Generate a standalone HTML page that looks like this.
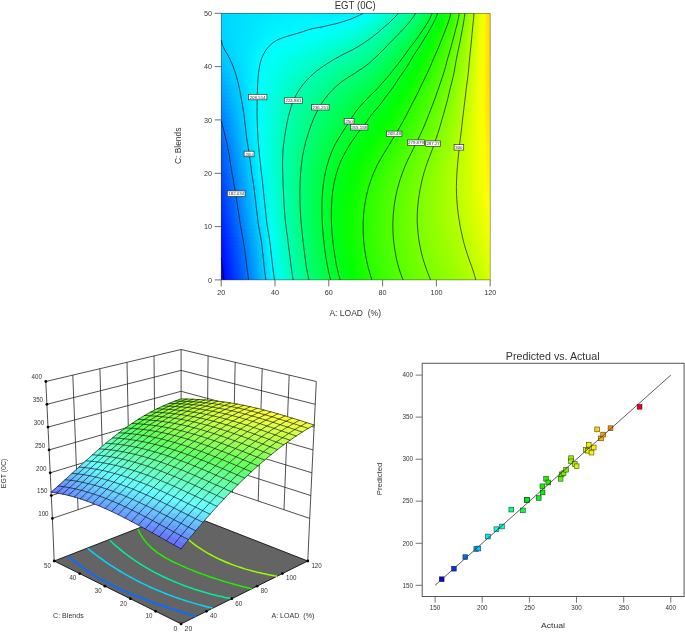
<!DOCTYPE html>
<html><head><meta charset="utf-8"><title>EGT response plots</title>
<style>html,body{margin:0;padding:0;background:#fff;overflow:hidden}svg{display:block}text{font-family:"Liberation Sans",sans-serif;fill:#333}</style>
</head><body>
<svg width="685" height="632" viewBox="0 0 685 632">
<defs>
<linearGradient id="h0"><stop offset="0%" stop-color="#00d5ff"/><stop offset="3.7%" stop-color="#00dbff"/><stop offset="7.4%" stop-color="#00dfff"/><stop offset="11.1%" stop-color="#00e3ff"/><stop offset="14.8%" stop-color="#00e6ff"/><stop offset="18.5%" stop-color="#00eaff"/><stop offset="22.2%" stop-color="#00edff"/><stop offset="25.8%" stop-color="#00efff"/><stop offset="29.5%" stop-color="#00f0ff"/><stop offset="33.2%" stop-color="#00f0ff"/><stop offset="36.9%" stop-color="#00eeff"/><stop offset="40.6%" stop-color="#00edff"/><stop offset="44.3%" stop-color="#00eeff"/><stop offset="48%" stop-color="#00f3ff"/><stop offset="51.7%" stop-color="#00fbff"/><stop offset="55.4%" stop-color="#00fff4"/><stop offset="59.1%" stop-color="#00ffde"/><stop offset="62.8%" stop-color="#00ffc5"/><stop offset="66.5%" stop-color="#00ffab"/><stop offset="70.2%" stop-color="#00ff8c"/><stop offset="73.8%" stop-color="#00ff69"/><stop offset="77.5%" stop-color="#00ff41"/><stop offset="81.2%" stop-color="#00ff14"/><stop offset="84.9%" stop-color="#20ff00"/><stop offset="88.6%" stop-color="#5bff00"/><stop offset="92.3%" stop-color="#9bff00"/><stop offset="96%" stop-color="#e1ff00"/><stop offset="97.5%" stop-color="#feff00"/><stop offset="99%" stop-color="#ffe300"/><stop offset="100%" stop-color="#ffd100"/></linearGradient>
<linearGradient id="h1"><stop offset="0%" stop-color="#00d5ff"/><stop offset="3.7%" stop-color="#00dbff"/><stop offset="7.4%" stop-color="#00e0ff"/><stop offset="11.1%" stop-color="#00e4ff"/><stop offset="14.8%" stop-color="#00e8ff"/><stop offset="18.5%" stop-color="#00ebff"/><stop offset="22.2%" stop-color="#00eeff"/><stop offset="25.8%" stop-color="#00f1ff"/><stop offset="29.5%" stop-color="#00f2ff"/><stop offset="33.2%" stop-color="#00f2ff"/><stop offset="36.9%" stop-color="#00f1ff"/><stop offset="40.6%" stop-color="#00f2ff"/><stop offset="44.3%" stop-color="#00f5ff"/><stop offset="48%" stop-color="#00faff"/><stop offset="51.7%" stop-color="#00fffa"/><stop offset="55.4%" stop-color="#00ffea"/><stop offset="59.1%" stop-color="#00ffd4"/><stop offset="62.8%" stop-color="#00ffbb"/><stop offset="66.5%" stop-color="#00ffa1"/><stop offset="70.2%" stop-color="#00ff83"/><stop offset="73.8%" stop-color="#00ff60"/><stop offset="77.5%" stop-color="#00ff39"/><stop offset="81.2%" stop-color="#00ff0c"/><stop offset="84.9%" stop-color="#26ff00"/><stop offset="88.6%" stop-color="#5fff00"/><stop offset="92.3%" stop-color="#9eff00"/><stop offset="96%" stop-color="#e3ff00"/><stop offset="97.5%" stop-color="#ffff00"/><stop offset="99%" stop-color="#ffe300"/><stop offset="100%" stop-color="#ffd100"/></linearGradient>
<linearGradient id="h2"><stop offset="0%" stop-color="#00d4ff"/><stop offset="3.7%" stop-color="#00dbff"/><stop offset="7.4%" stop-color="#00e0ff"/><stop offset="11.1%" stop-color="#00e4ff"/><stop offset="14.8%" stop-color="#00e9ff"/><stop offset="18.5%" stop-color="#00edff"/><stop offset="22.2%" stop-color="#00f0ff"/><stop offset="25.8%" stop-color="#00f2ff"/><stop offset="29.5%" stop-color="#00f4ff"/><stop offset="33.2%" stop-color="#00f5ff"/><stop offset="36.9%" stop-color="#00f6ff"/><stop offset="40.6%" stop-color="#00f8ff"/><stop offset="44.3%" stop-color="#00fcff"/><stop offset="48%" stop-color="#00fffb"/><stop offset="51.7%" stop-color="#00fff0"/><stop offset="55.4%" stop-color="#00ffdf"/><stop offset="59.1%" stop-color="#00ffc9"/><stop offset="62.8%" stop-color="#00ffb0"/><stop offset="66.5%" stop-color="#00ff96"/><stop offset="70.2%" stop-color="#00ff78"/><stop offset="73.8%" stop-color="#00ff56"/><stop offset="77.5%" stop-color="#00ff30"/><stop offset="81.2%" stop-color="#00ff04"/><stop offset="84.9%" stop-color="#2dff00"/><stop offset="88.6%" stop-color="#64ff00"/><stop offset="92.3%" stop-color="#a1ff00"/><stop offset="96%" stop-color="#e4ff00"/><stop offset="97.5%" stop-color="#fffe00"/><stop offset="99%" stop-color="#ffe300"/><stop offset="100%" stop-color="#ffd100"/></linearGradient>
<linearGradient id="h3"><stop offset="0%" stop-color="#00d3ff"/><stop offset="3.7%" stop-color="#00daff"/><stop offset="7.4%" stop-color="#00e0ff"/><stop offset="11.1%" stop-color="#00e5ff"/><stop offset="14.8%" stop-color="#00eaff"/><stop offset="18.5%" stop-color="#00efff"/><stop offset="22.2%" stop-color="#00f2ff"/><stop offset="25.8%" stop-color="#00f4ff"/><stop offset="29.5%" stop-color="#00f6ff"/><stop offset="33.2%" stop-color="#00f8ff"/><stop offset="36.9%" stop-color="#00faff"/><stop offset="40.6%" stop-color="#00feff"/><stop offset="44.3%" stop-color="#00fffa"/><stop offset="48%" stop-color="#00fff1"/><stop offset="51.7%" stop-color="#00ffe5"/><stop offset="55.4%" stop-color="#00ffd4"/><stop offset="59.1%" stop-color="#00ffbd"/><stop offset="62.8%" stop-color="#00ffa5"/><stop offset="66.5%" stop-color="#00ff8b"/><stop offset="70.2%" stop-color="#00ff6d"/><stop offset="73.8%" stop-color="#00ff4c"/><stop offset="77.5%" stop-color="#00ff27"/><stop offset="81.2%" stop-color="#04ff00"/><stop offset="84.9%" stop-color="#34ff00"/><stop offset="88.6%" stop-color="#69ff00"/><stop offset="92.3%" stop-color="#a4ff00"/><stop offset="96%" stop-color="#e5ff00"/><stop offset="97.5%" stop-color="#fffe00"/><stop offset="99%" stop-color="#ffe300"/><stop offset="100%" stop-color="#ffd200"/></linearGradient>
<linearGradient id="h4"><stop offset="0%" stop-color="#00d2ff"/><stop offset="3.7%" stop-color="#00daff"/><stop offset="7.4%" stop-color="#00e0ff"/><stop offset="11.1%" stop-color="#00e5ff"/><stop offset="14.8%" stop-color="#00ebff"/><stop offset="18.5%" stop-color="#00f1ff"/><stop offset="22.2%" stop-color="#00f5ff"/><stop offset="25.8%" stop-color="#00f7ff"/><stop offset="29.5%" stop-color="#00f9ff"/><stop offset="33.2%" stop-color="#00fdff"/><stop offset="36.9%" stop-color="#00fffe"/><stop offset="40.6%" stop-color="#00fff8"/><stop offset="44.3%" stop-color="#00fff1"/><stop offset="48%" stop-color="#00ffe7"/><stop offset="51.7%" stop-color="#00ffda"/><stop offset="55.4%" stop-color="#00ffc8"/><stop offset="59.1%" stop-color="#00ffb2"/><stop offset="62.8%" stop-color="#00ff9b"/><stop offset="66.5%" stop-color="#00ff80"/><stop offset="70.2%" stop-color="#00ff63"/><stop offset="73.8%" stop-color="#00ff41"/><stop offset="77.5%" stop-color="#00ff1d"/><stop offset="81.2%" stop-color="#0dff00"/><stop offset="84.9%" stop-color="#3bff00"/><stop offset="88.6%" stop-color="#6eff00"/><stop offset="92.3%" stop-color="#a7ff00"/><stop offset="96%" stop-color="#e6ff00"/><stop offset="97.5%" stop-color="#fffd00"/><stop offset="99%" stop-color="#ffe300"/><stop offset="100%" stop-color="#ffd200"/></linearGradient>
<linearGradient id="h5"><stop offset="0%" stop-color="#00d2ff"/><stop offset="3.7%" stop-color="#00daff"/><stop offset="7.4%" stop-color="#00e0ff"/><stop offset="11.1%" stop-color="#00e5ff"/><stop offset="14.8%" stop-color="#00edff"/><stop offset="18.5%" stop-color="#00f3ff"/><stop offset="22.2%" stop-color="#00f8ff"/><stop offset="25.8%" stop-color="#00faff"/><stop offset="29.5%" stop-color="#00fdff"/><stop offset="33.2%" stop-color="#00fffc"/><stop offset="36.9%" stop-color="#00fff7"/><stop offset="40.6%" stop-color="#00fff0"/><stop offset="44.3%" stop-color="#00ffe8"/><stop offset="48%" stop-color="#00ffdd"/><stop offset="51.7%" stop-color="#00ffcf"/><stop offset="55.4%" stop-color="#00ffbd"/><stop offset="59.1%" stop-color="#00ffa8"/><stop offset="62.8%" stop-color="#00ff90"/><stop offset="66.5%" stop-color="#00ff75"/><stop offset="70.2%" stop-color="#00ff58"/><stop offset="73.8%" stop-color="#00ff38"/><stop offset="77.5%" stop-color="#00ff14"/><stop offset="81.2%" stop-color="#15ff00"/><stop offset="84.9%" stop-color="#41ff00"/><stop offset="88.6%" stop-color="#72ff00"/><stop offset="92.3%" stop-color="#aaff00"/><stop offset="96%" stop-color="#e7ff00"/><stop offset="97.5%" stop-color="#fffd00"/><stop offset="99%" stop-color="#ffe400"/><stop offset="100%" stop-color="#ffd300"/></linearGradient>
<linearGradient id="h6"><stop offset="0%" stop-color="#00d1ff"/><stop offset="3.7%" stop-color="#00daff"/><stop offset="7.4%" stop-color="#00e0ff"/><stop offset="11.1%" stop-color="#00e6ff"/><stop offset="14.8%" stop-color="#00eeff"/><stop offset="18.5%" stop-color="#00f6ff"/><stop offset="22.2%" stop-color="#00fbff"/><stop offset="25.8%" stop-color="#00feff"/><stop offset="29.5%" stop-color="#00fffc"/><stop offset="33.2%" stop-color="#00fff6"/><stop offset="36.9%" stop-color="#00fff0"/><stop offset="40.6%" stop-color="#00ffe7"/><stop offset="44.3%" stop-color="#00ffde"/><stop offset="48%" stop-color="#00ffd2"/><stop offset="51.7%" stop-color="#00ffc4"/><stop offset="55.4%" stop-color="#00ffb2"/><stop offset="59.1%" stop-color="#00ff9d"/><stop offset="62.8%" stop-color="#00ff86"/><stop offset="66.5%" stop-color="#00ff6b"/><stop offset="70.2%" stop-color="#00ff4e"/><stop offset="73.8%" stop-color="#00ff2f"/><stop offset="77.5%" stop-color="#00ff0c"/><stop offset="81.2%" stop-color="#1cff00"/><stop offset="84.9%" stop-color="#47ff00"/><stop offset="88.6%" stop-color="#76ff00"/><stop offset="92.3%" stop-color="#adff00"/><stop offset="96%" stop-color="#e9ff00"/><stop offset="97.5%" stop-color="#fffd00"/><stop offset="99%" stop-color="#ffe400"/><stop offset="100%" stop-color="#ffd300"/></linearGradient>
<linearGradient id="h7"><stop offset="0%" stop-color="#00d0ff"/><stop offset="3.7%" stop-color="#00d9ff"/><stop offset="7.4%" stop-color="#00e0ff"/><stop offset="11.1%" stop-color="#00e7ff"/><stop offset="14.8%" stop-color="#00f0ff"/><stop offset="18.5%" stop-color="#00f9ff"/><stop offset="22.2%" stop-color="#00ffff"/><stop offset="25.8%" stop-color="#00fffb"/><stop offset="29.5%" stop-color="#00fff6"/><stop offset="33.2%" stop-color="#00fff0"/><stop offset="36.9%" stop-color="#00ffe8"/><stop offset="40.6%" stop-color="#00ffde"/><stop offset="44.3%" stop-color="#00ffd4"/><stop offset="48%" stop-color="#00ffc8"/><stop offset="51.7%" stop-color="#00ffba"/><stop offset="55.4%" stop-color="#00ffa8"/><stop offset="59.1%" stop-color="#00ff94"/><stop offset="62.8%" stop-color="#00ff7c"/><stop offset="66.5%" stop-color="#00ff61"/><stop offset="70.2%" stop-color="#00ff44"/><stop offset="73.8%" stop-color="#00ff27"/><stop offset="77.5%" stop-color="#00ff04"/><stop offset="81.2%" stop-color="#23ff00"/><stop offset="84.9%" stop-color="#4cff00"/><stop offset="88.6%" stop-color="#7aff00"/><stop offset="92.3%" stop-color="#afff00"/><stop offset="96%" stop-color="#eaff00"/><stop offset="97.5%" stop-color="#fffc00"/><stop offset="99%" stop-color="#ffe400"/><stop offset="100%" stop-color="#ffd400"/></linearGradient>
<linearGradient id="h8"><stop offset="0%" stop-color="#00ceff"/><stop offset="3.7%" stop-color="#00d8ff"/><stop offset="7.4%" stop-color="#00e0ff"/><stop offset="11.1%" stop-color="#00e8ff"/><stop offset="14.8%" stop-color="#00f3ff"/><stop offset="18.5%" stop-color="#00fcff"/><stop offset="22.2%" stop-color="#00fffb"/><stop offset="25.8%" stop-color="#00fff6"/><stop offset="29.5%" stop-color="#00fff0"/><stop offset="33.2%" stop-color="#00ffe8"/><stop offset="36.9%" stop-color="#00ffdf"/><stop offset="40.6%" stop-color="#00ffd5"/><stop offset="44.3%" stop-color="#00ffc9"/><stop offset="48%" stop-color="#00ffbd"/><stop offset="51.7%" stop-color="#00ffaf"/><stop offset="55.4%" stop-color="#00ff9e"/><stop offset="59.1%" stop-color="#00ff8a"/><stop offset="62.8%" stop-color="#00ff72"/><stop offset="66.5%" stop-color="#00ff57"/><stop offset="70.2%" stop-color="#00ff3b"/><stop offset="73.8%" stop-color="#00ff1f"/><stop offset="77.5%" stop-color="#03ff00"/><stop offset="81.2%" stop-color="#29ff00"/><stop offset="84.9%" stop-color="#51ff00"/><stop offset="88.6%" stop-color="#7eff00"/><stop offset="92.3%" stop-color="#b2ff00"/><stop offset="96%" stop-color="#ebff00"/><stop offset="97.5%" stop-color="#fffc00"/><stop offset="99%" stop-color="#ffe400"/><stop offset="100%" stop-color="#ffd400"/></linearGradient>
<linearGradient id="h9"><stop offset="0%" stop-color="#00cbff"/><stop offset="3.7%" stop-color="#00d7ff"/><stop offset="7.4%" stop-color="#00e0ff"/><stop offset="11.1%" stop-color="#00e9ff"/><stop offset="14.8%" stop-color="#00f5ff"/><stop offset="18.5%" stop-color="#00fffe"/><stop offset="22.2%" stop-color="#00fff7"/><stop offset="25.8%" stop-color="#00fff1"/><stop offset="29.5%" stop-color="#00ffea"/><stop offset="33.2%" stop-color="#00ffe1"/><stop offset="36.9%" stop-color="#00ffd7"/><stop offset="40.6%" stop-color="#00ffcc"/><stop offset="44.3%" stop-color="#00ffbf"/><stop offset="48%" stop-color="#00ffb3"/><stop offset="51.7%" stop-color="#00ffa6"/><stop offset="55.4%" stop-color="#00ff95"/><stop offset="59.1%" stop-color="#00ff81"/><stop offset="62.8%" stop-color="#00ff69"/><stop offset="66.5%" stop-color="#00ff4e"/><stop offset="70.2%" stop-color="#00ff33"/><stop offset="73.8%" stop-color="#00ff17"/><stop offset="77.5%" stop-color="#0bff00"/><stop offset="81.2%" stop-color="#2fff00"/><stop offset="84.9%" stop-color="#56ff00"/><stop offset="88.6%" stop-color="#82ff00"/><stop offset="92.3%" stop-color="#b4ff00"/><stop offset="96%" stop-color="#ebff00"/><stop offset="97.5%" stop-color="#fffb00"/><stop offset="99%" stop-color="#ffe400"/><stop offset="100%" stop-color="#ffd400"/></linearGradient>
<linearGradient id="h10"><stop offset="0%" stop-color="#00c8ff"/><stop offset="3.7%" stop-color="#00d5ff"/><stop offset="7.4%" stop-color="#00e0ff"/><stop offset="11.1%" stop-color="#00ebff"/><stop offset="14.8%" stop-color="#00f8ff"/><stop offset="18.5%" stop-color="#00fffb"/><stop offset="22.2%" stop-color="#00fff3"/><stop offset="25.8%" stop-color="#00ffeb"/><stop offset="29.5%" stop-color="#00ffe3"/><stop offset="33.2%" stop-color="#00ffd9"/><stop offset="36.9%" stop-color="#00ffce"/><stop offset="40.6%" stop-color="#00ffc2"/><stop offset="44.3%" stop-color="#00ffb6"/><stop offset="48%" stop-color="#00ffaa"/><stop offset="51.7%" stop-color="#00ff9d"/><stop offset="55.4%" stop-color="#00ff8c"/><stop offset="59.1%" stop-color="#00ff78"/><stop offset="62.8%" stop-color="#00ff60"/><stop offset="66.5%" stop-color="#00ff46"/><stop offset="70.2%" stop-color="#00ff2c"/><stop offset="73.8%" stop-color="#00ff0f"/><stop offset="77.5%" stop-color="#12ff00"/><stop offset="81.2%" stop-color="#35ff00"/><stop offset="84.9%" stop-color="#5bff00"/><stop offset="88.6%" stop-color="#86ff00"/><stop offset="92.3%" stop-color="#b6ff00"/><stop offset="96%" stop-color="#ecff00"/><stop offset="97.5%" stop-color="#fffb00"/><stop offset="99%" stop-color="#ffe400"/><stop offset="100%" stop-color="#ffd400"/></linearGradient>
<linearGradient id="h11"><stop offset="0%" stop-color="#00c4ff"/><stop offset="3.7%" stop-color="#00d2ff"/><stop offset="7.4%" stop-color="#00dfff"/><stop offset="11.1%" stop-color="#00ecff"/><stop offset="14.8%" stop-color="#00faff"/><stop offset="18.5%" stop-color="#00fff9"/><stop offset="22.2%" stop-color="#00ffef"/><stop offset="25.8%" stop-color="#00ffe6"/><stop offset="29.5%" stop-color="#00ffdc"/><stop offset="33.2%" stop-color="#00ffd2"/><stop offset="36.9%" stop-color="#00ffc6"/><stop offset="40.6%" stop-color="#00ffb9"/><stop offset="44.3%" stop-color="#00ffad"/><stop offset="48%" stop-color="#00ffa0"/><stop offset="51.7%" stop-color="#00ff93"/><stop offset="55.4%" stop-color="#00ff83"/><stop offset="59.1%" stop-color="#00ff6f"/><stop offset="62.8%" stop-color="#00ff57"/><stop offset="66.5%" stop-color="#00ff3e"/><stop offset="70.2%" stop-color="#00ff25"/><stop offset="73.8%" stop-color="#00ff08"/><stop offset="77.5%" stop-color="#19ff00"/><stop offset="81.2%" stop-color="#3bff00"/><stop offset="84.9%" stop-color="#5fff00"/><stop offset="88.6%" stop-color="#89ff00"/><stop offset="92.3%" stop-color="#b9ff00"/><stop offset="96%" stop-color="#edff00"/><stop offset="97.5%" stop-color="#fffb00"/><stop offset="99%" stop-color="#ffe400"/><stop offset="100%" stop-color="#ffd500"/></linearGradient>
<linearGradient id="h12"><stop offset="0%" stop-color="#00c0ff"/><stop offset="3.7%" stop-color="#00d0ff"/><stop offset="7.4%" stop-color="#00deff"/><stop offset="11.1%" stop-color="#00edff"/><stop offset="14.8%" stop-color="#00fbff"/><stop offset="18.5%" stop-color="#00fff6"/><stop offset="22.2%" stop-color="#00ffeb"/><stop offset="25.8%" stop-color="#00ffe1"/><stop offset="29.5%" stop-color="#00ffd6"/><stop offset="33.2%" stop-color="#00ffca"/><stop offset="36.9%" stop-color="#00ffbe"/><stop offset="40.6%" stop-color="#00ffb1"/><stop offset="44.3%" stop-color="#00ffa4"/><stop offset="48%" stop-color="#00ff97"/><stop offset="51.7%" stop-color="#00ff8b"/><stop offset="55.4%" stop-color="#00ff7b"/><stop offset="59.1%" stop-color="#00ff66"/><stop offset="62.8%" stop-color="#00ff4e"/><stop offset="66.5%" stop-color="#00ff37"/><stop offset="70.2%" stop-color="#00ff1f"/><stop offset="73.8%" stop-color="#00ff01"/><stop offset="77.5%" stop-color="#1fff00"/><stop offset="81.2%" stop-color="#40ff00"/><stop offset="84.9%" stop-color="#63ff00"/><stop offset="88.6%" stop-color="#8cff00"/><stop offset="92.3%" stop-color="#baff00"/><stop offset="96%" stop-color="#edff00"/><stop offset="97.5%" stop-color="#fffb00"/><stop offset="99%" stop-color="#ffe400"/><stop offset="100%" stop-color="#ffd500"/></linearGradient>
<linearGradient id="h13"><stop offset="0%" stop-color="#00bbff"/><stop offset="3.7%" stop-color="#00cdff"/><stop offset="7.4%" stop-color="#00ddff"/><stop offset="11.1%" stop-color="#00edff"/><stop offset="14.8%" stop-color="#00fdff"/><stop offset="18.5%" stop-color="#00fff3"/><stop offset="22.2%" stop-color="#00ffe7"/><stop offset="25.8%" stop-color="#00ffdc"/><stop offset="29.5%" stop-color="#00ffd0"/><stop offset="33.2%" stop-color="#00ffc3"/><stop offset="36.9%" stop-color="#00ffb6"/><stop offset="40.6%" stop-color="#00ffa8"/><stop offset="44.3%" stop-color="#00ff9b"/><stop offset="48%" stop-color="#00ff8f"/><stop offset="51.7%" stop-color="#00ff82"/><stop offset="55.4%" stop-color="#00ff72"/><stop offset="59.1%" stop-color="#00ff5d"/><stop offset="62.8%" stop-color="#00ff46"/><stop offset="66.5%" stop-color="#00ff30"/><stop offset="70.2%" stop-color="#00ff18"/><stop offset="73.8%" stop-color="#05ff00"/><stop offset="77.5%" stop-color="#24ff00"/><stop offset="81.2%" stop-color="#44ff00"/><stop offset="84.9%" stop-color="#66ff00"/><stop offset="88.6%" stop-color="#8eff00"/><stop offset="92.3%" stop-color="#bcff00"/><stop offset="96%" stop-color="#eeff00"/><stop offset="97.5%" stop-color="#fffb00"/><stop offset="99%" stop-color="#ffe400"/><stop offset="100%" stop-color="#ffd500"/></linearGradient>
<linearGradient id="h14"><stop offset="0%" stop-color="#00b7ff"/><stop offset="3.7%" stop-color="#00caff"/><stop offset="7.4%" stop-color="#00dcff"/><stop offset="11.1%" stop-color="#00edff"/><stop offset="14.8%" stop-color="#00feff"/><stop offset="18.5%" stop-color="#00fff1"/><stop offset="22.2%" stop-color="#00ffe4"/><stop offset="25.8%" stop-color="#00ffd7"/><stop offset="29.5%" stop-color="#00ffca"/><stop offset="33.2%" stop-color="#00ffbc"/><stop offset="36.9%" stop-color="#00ffae"/><stop offset="40.6%" stop-color="#00ffa0"/><stop offset="44.3%" stop-color="#00ff93"/><stop offset="48%" stop-color="#00ff87"/><stop offset="51.7%" stop-color="#00ff7a"/><stop offset="55.4%" stop-color="#00ff69"/><stop offset="59.1%" stop-color="#00ff55"/><stop offset="62.8%" stop-color="#00ff3f"/><stop offset="66.5%" stop-color="#00ff2a"/><stop offset="70.2%" stop-color="#00ff12"/><stop offset="73.8%" stop-color="#0bff00"/><stop offset="77.5%" stop-color="#2aff00"/><stop offset="81.2%" stop-color="#48ff00"/><stop offset="84.9%" stop-color="#6aff00"/><stop offset="88.6%" stop-color="#90ff00"/><stop offset="92.3%" stop-color="#beff00"/><stop offset="96%" stop-color="#efff00"/><stop offset="97.5%" stop-color="#fffa00"/><stop offset="99%" stop-color="#ffe400"/><stop offset="100%" stop-color="#ffd600"/></linearGradient>
<linearGradient id="h15"><stop offset="0%" stop-color="#00b2ff"/><stop offset="3.7%" stop-color="#00c7ff"/><stop offset="7.4%" stop-color="#00daff"/><stop offset="11.1%" stop-color="#00edff"/><stop offset="14.8%" stop-color="#00ffff"/><stop offset="18.5%" stop-color="#00ffef"/><stop offset="22.2%" stop-color="#00ffe0"/><stop offset="25.8%" stop-color="#00ffd2"/><stop offset="29.5%" stop-color="#00ffc4"/><stop offset="33.2%" stop-color="#00ffb6"/><stop offset="36.9%" stop-color="#00ffa7"/><stop offset="40.6%" stop-color="#00ff99"/><stop offset="44.3%" stop-color="#00ff8b"/><stop offset="48%" stop-color="#00ff7f"/><stop offset="51.7%" stop-color="#00ff71"/><stop offset="55.4%" stop-color="#00ff60"/><stop offset="59.1%" stop-color="#00ff4c"/><stop offset="62.8%" stop-color="#00ff38"/><stop offset="66.5%" stop-color="#00ff23"/><stop offset="70.2%" stop-color="#00ff0b"/><stop offset="73.8%" stop-color="#11ff00"/><stop offset="77.5%" stop-color="#2fff00"/><stop offset="81.2%" stop-color="#4dff00"/><stop offset="84.9%" stop-color="#6dff00"/><stop offset="88.6%" stop-color="#93ff00"/><stop offset="92.3%" stop-color="#c0ff00"/><stop offset="96%" stop-color="#f0ff00"/><stop offset="97.5%" stop-color="#fffa00"/><stop offset="99%" stop-color="#ffe500"/><stop offset="100%" stop-color="#ffd700"/></linearGradient>
<linearGradient id="h16"><stop offset="0%" stop-color="#00aeff"/><stop offset="3.7%" stop-color="#00c4ff"/><stop offset="7.4%" stop-color="#00d9ff"/><stop offset="11.1%" stop-color="#00edff"/><stop offset="14.8%" stop-color="#00fffe"/><stop offset="18.5%" stop-color="#00ffed"/><stop offset="22.2%" stop-color="#00ffdd"/><stop offset="25.8%" stop-color="#00ffce"/><stop offset="29.5%" stop-color="#00ffbf"/><stop offset="33.2%" stop-color="#00ffb0"/><stop offset="36.9%" stop-color="#00ffa1"/><stop offset="40.6%" stop-color="#00ff92"/><stop offset="44.3%" stop-color="#00ff83"/><stop offset="48%" stop-color="#00ff77"/><stop offset="51.7%" stop-color="#00ff69"/><stop offset="55.4%" stop-color="#00ff58"/><stop offset="59.1%" stop-color="#00ff45"/><stop offset="62.8%" stop-color="#00ff32"/><stop offset="66.5%" stop-color="#00ff1e"/><stop offset="70.2%" stop-color="#00ff05"/><stop offset="73.8%" stop-color="#17ff00"/><stop offset="77.5%" stop-color="#34ff00"/><stop offset="81.2%" stop-color="#51ff00"/><stop offset="84.9%" stop-color="#71ff00"/><stop offset="88.6%" stop-color="#96ff00"/><stop offset="92.3%" stop-color="#c2ff00"/><stop offset="96%" stop-color="#f1ff00"/><stop offset="97.5%" stop-color="#fff900"/><stop offset="99%" stop-color="#ffe500"/><stop offset="100%" stop-color="#ffd800"/></linearGradient>
<linearGradient id="h17"><stop offset="0%" stop-color="#00a9ff"/><stop offset="3.7%" stop-color="#00c1ff"/><stop offset="7.4%" stop-color="#00d7ff"/><stop offset="11.1%" stop-color="#00edff"/><stop offset="14.8%" stop-color="#00fffe"/><stop offset="18.5%" stop-color="#00ffeb"/><stop offset="22.2%" stop-color="#00ffda"/><stop offset="25.8%" stop-color="#00ffc9"/><stop offset="29.5%" stop-color="#00ffba"/><stop offset="33.2%" stop-color="#00ffaa"/><stop offset="36.9%" stop-color="#00ff9a"/><stop offset="40.6%" stop-color="#00ff8b"/><stop offset="44.3%" stop-color="#00ff7c"/><stop offset="48%" stop-color="#00ff6f"/><stop offset="51.7%" stop-color="#00ff61"/><stop offset="55.4%" stop-color="#00ff50"/><stop offset="59.1%" stop-color="#00ff3e"/><stop offset="62.8%" stop-color="#00ff2c"/><stop offset="66.5%" stop-color="#00ff18"/><stop offset="70.2%" stop-color="#01ff00"/><stop offset="73.8%" stop-color="#1dff00"/><stop offset="77.5%" stop-color="#39ff00"/><stop offset="81.2%" stop-color="#55ff00"/><stop offset="84.9%" stop-color="#74ff00"/><stop offset="88.6%" stop-color="#99ff00"/><stop offset="92.3%" stop-color="#c4ff00"/><stop offset="96%" stop-color="#f1ff00"/><stop offset="97.5%" stop-color="#fff900"/><stop offset="99%" stop-color="#ffe600"/><stop offset="100%" stop-color="#ffd800"/></linearGradient>
<linearGradient id="h18"><stop offset="0%" stop-color="#00a4ff"/><stop offset="3.7%" stop-color="#00bdff"/><stop offset="7.4%" stop-color="#00d5ff"/><stop offset="11.1%" stop-color="#00ecff"/><stop offset="14.8%" stop-color="#00fffd"/><stop offset="18.5%" stop-color="#00ffe9"/><stop offset="22.2%" stop-color="#00ffd7"/><stop offset="25.8%" stop-color="#00ffc5"/><stop offset="29.5%" stop-color="#00ffb5"/><stop offset="33.2%" stop-color="#00ffa4"/><stop offset="36.9%" stop-color="#00ff94"/><stop offset="40.6%" stop-color="#00ff84"/><stop offset="44.3%" stop-color="#00ff75"/><stop offset="48%" stop-color="#00ff67"/><stop offset="51.7%" stop-color="#00ff58"/><stop offset="55.4%" stop-color="#00ff48"/><stop offset="59.1%" stop-color="#00ff37"/><stop offset="62.8%" stop-color="#00ff27"/><stop offset="66.5%" stop-color="#00ff12"/><stop offset="70.2%" stop-color="#07ff00"/><stop offset="73.8%" stop-color="#23ff00"/><stop offset="77.5%" stop-color="#3eff00"/><stop offset="81.2%" stop-color="#59ff00"/><stop offset="84.9%" stop-color="#78ff00"/><stop offset="88.6%" stop-color="#9cff00"/><stop offset="92.3%" stop-color="#c6ff00"/><stop offset="96%" stop-color="#f2ff00"/><stop offset="97.5%" stop-color="#fff900"/><stop offset="99%" stop-color="#ffe600"/><stop offset="100%" stop-color="#ffd900"/></linearGradient>
<linearGradient id="h19"><stop offset="0%" stop-color="#009fff"/><stop offset="3.7%" stop-color="#00baff"/><stop offset="7.4%" stop-color="#00d4ff"/><stop offset="11.1%" stop-color="#00ecff"/><stop offset="14.8%" stop-color="#00fffc"/><stop offset="18.5%" stop-color="#00ffe7"/><stop offset="22.2%" stop-color="#00ffd4"/><stop offset="25.8%" stop-color="#00ffc2"/><stop offset="29.5%" stop-color="#00ffb0"/><stop offset="33.2%" stop-color="#00ff9f"/><stop offset="36.9%" stop-color="#00ff8f"/><stop offset="40.6%" stop-color="#00ff7e"/><stop offset="44.3%" stop-color="#00ff6f"/><stop offset="48%" stop-color="#00ff60"/><stop offset="51.7%" stop-color="#00ff51"/><stop offset="55.4%" stop-color="#00ff41"/><stop offset="59.1%" stop-color="#00ff32"/><stop offset="62.8%" stop-color="#00ff21"/><stop offset="66.5%" stop-color="#00ff0c"/><stop offset="70.2%" stop-color="#0dff00"/><stop offset="73.8%" stop-color="#28ff00"/><stop offset="77.5%" stop-color="#42ff00"/><stop offset="81.2%" stop-color="#5dff00"/><stop offset="84.9%" stop-color="#7bff00"/><stop offset="88.6%" stop-color="#9fff00"/><stop offset="92.3%" stop-color="#c8ff00"/><stop offset="96%" stop-color="#f3ff00"/><stop offset="97.5%" stop-color="#fff900"/><stop offset="99%" stop-color="#ffe700"/><stop offset="100%" stop-color="#ffda00"/></linearGradient>
<linearGradient id="h20"><stop offset="0%" stop-color="#009aff"/><stop offset="3.7%" stop-color="#00b7ff"/><stop offset="7.4%" stop-color="#00d2ff"/><stop offset="11.1%" stop-color="#00ebff"/><stop offset="14.8%" stop-color="#00fffb"/><stop offset="18.5%" stop-color="#00ffe5"/><stop offset="22.2%" stop-color="#00ffd1"/><stop offset="25.8%" stop-color="#00ffbe"/><stop offset="29.5%" stop-color="#00ffac"/><stop offset="33.2%" stop-color="#00ff9a"/><stop offset="36.9%" stop-color="#00ff89"/><stop offset="40.6%" stop-color="#00ff78"/><stop offset="44.3%" stop-color="#00ff68"/><stop offset="48%" stop-color="#00ff59"/><stop offset="51.7%" stop-color="#00ff4a"/><stop offset="55.4%" stop-color="#00ff3b"/><stop offset="59.1%" stop-color="#00ff2d"/><stop offset="62.8%" stop-color="#00ff1c"/><stop offset="66.5%" stop-color="#00ff06"/><stop offset="70.2%" stop-color="#13ff00"/><stop offset="73.8%" stop-color="#2dff00"/><stop offset="77.5%" stop-color="#46ff00"/><stop offset="81.2%" stop-color="#61ff00"/><stop offset="84.9%" stop-color="#7eff00"/><stop offset="88.6%" stop-color="#a2ff00"/><stop offset="92.3%" stop-color="#c9ff00"/><stop offset="96%" stop-color="#f3ff00"/><stop offset="97.5%" stop-color="#fff900"/><stop offset="99%" stop-color="#ffe700"/><stop offset="100%" stop-color="#ffdb00"/></linearGradient>
<linearGradient id="h21"><stop offset="0%" stop-color="#0095ff"/><stop offset="3.7%" stop-color="#00b3ff"/><stop offset="7.4%" stop-color="#00d0ff"/><stop offset="11.1%" stop-color="#00ebff"/><stop offset="14.8%" stop-color="#00fffb"/><stop offset="18.5%" stop-color="#00ffe4"/><stop offset="22.2%" stop-color="#00ffcf"/><stop offset="25.8%" stop-color="#00ffbb"/><stop offset="29.5%" stop-color="#00ffa8"/><stop offset="33.2%" stop-color="#00ff96"/><stop offset="36.9%" stop-color="#00ff84"/><stop offset="40.6%" stop-color="#00ff73"/><stop offset="44.3%" stop-color="#00ff62"/><stop offset="48%" stop-color="#00ff52"/><stop offset="51.7%" stop-color="#00ff43"/><stop offset="55.4%" stop-color="#00ff35"/><stop offset="59.1%" stop-color="#00ff28"/><stop offset="62.8%" stop-color="#00ff16"/><stop offset="66.5%" stop-color="#00ff00"/><stop offset="70.2%" stop-color="#19ff00"/><stop offset="73.8%" stop-color="#32ff00"/><stop offset="77.5%" stop-color="#4aff00"/><stop offset="81.2%" stop-color="#64ff00"/><stop offset="84.9%" stop-color="#81ff00"/><stop offset="88.6%" stop-color="#a4ff00"/><stop offset="92.3%" stop-color="#cbff00"/><stop offset="96%" stop-color="#f4ff00"/><stop offset="97.5%" stop-color="#fff900"/><stop offset="99%" stop-color="#ffe800"/><stop offset="100%" stop-color="#ffdc00"/></linearGradient>
<linearGradient id="h22"><stop offset="0%" stop-color="#0090ff"/><stop offset="3.7%" stop-color="#00afff"/><stop offset="7.4%" stop-color="#00ceff"/><stop offset="11.1%" stop-color="#00eaff"/><stop offset="14.8%" stop-color="#00fffa"/><stop offset="18.5%" stop-color="#00ffe2"/><stop offset="22.2%" stop-color="#00ffcc"/><stop offset="25.8%" stop-color="#00ffb8"/><stop offset="29.5%" stop-color="#00ffa4"/><stop offset="33.2%" stop-color="#00ff91"/><stop offset="36.9%" stop-color="#00ff7f"/><stop offset="40.6%" stop-color="#00ff6e"/><stop offset="44.3%" stop-color="#00ff5d"/><stop offset="48%" stop-color="#00ff4d"/><stop offset="51.7%" stop-color="#00ff3e"/><stop offset="55.4%" stop-color="#00ff31"/><stop offset="59.1%" stop-color="#00ff23"/><stop offset="62.8%" stop-color="#00ff11"/><stop offset="66.5%" stop-color="#06ff00"/><stop offset="70.2%" stop-color="#1eff00"/><stop offset="73.8%" stop-color="#36ff00"/><stop offset="77.5%" stop-color="#4eff00"/><stop offset="81.2%" stop-color="#68ff00"/><stop offset="84.9%" stop-color="#84ff00"/><stop offset="88.6%" stop-color="#a6ff00"/><stop offset="92.3%" stop-color="#ccff00"/><stop offset="96%" stop-color="#f4ff00"/><stop offset="97.5%" stop-color="#fff900"/><stop offset="99%" stop-color="#ffe800"/><stop offset="100%" stop-color="#ffdd00"/></linearGradient>
<linearGradient id="h23"><stop offset="0%" stop-color="#008bff"/><stop offset="3.7%" stop-color="#00acff"/><stop offset="7.4%" stop-color="#00cbff"/><stop offset="11.1%" stop-color="#00e9ff"/><stop offset="14.8%" stop-color="#00fffa"/><stop offset="18.5%" stop-color="#00ffe1"/><stop offset="22.2%" stop-color="#00ffca"/><stop offset="25.8%" stop-color="#00ffb5"/><stop offset="29.5%" stop-color="#00ffa1"/><stop offset="33.2%" stop-color="#00ff8d"/><stop offset="36.9%" stop-color="#00ff7b"/><stop offset="40.6%" stop-color="#00ff69"/><stop offset="44.3%" stop-color="#00ff58"/><stop offset="48%" stop-color="#00ff47"/><stop offset="51.7%" stop-color="#00ff39"/><stop offset="55.4%" stop-color="#00ff2c"/><stop offset="59.1%" stop-color="#00ff1e"/><stop offset="62.8%" stop-color="#00ff0b"/><stop offset="66.5%" stop-color="#0bff00"/><stop offset="70.2%" stop-color="#23ff00"/><stop offset="73.8%" stop-color="#3bff00"/><stop offset="77.5%" stop-color="#52ff00"/><stop offset="81.2%" stop-color="#6bff00"/><stop offset="84.9%" stop-color="#87ff00"/><stop offset="88.6%" stop-color="#a8ff00"/><stop offset="92.3%" stop-color="#cdff00"/><stop offset="96%" stop-color="#f4ff00"/><stop offset="97.5%" stop-color="#fffa00"/><stop offset="99%" stop-color="#ffe900"/><stop offset="100%" stop-color="#ffde00"/></linearGradient>
<linearGradient id="h24"><stop offset="0%" stop-color="#0086ff"/><stop offset="3.7%" stop-color="#00a8ff"/><stop offset="7.4%" stop-color="#00c9ff"/><stop offset="11.1%" stop-color="#00e8ff"/><stop offset="14.8%" stop-color="#00fff9"/><stop offset="18.5%" stop-color="#00ffe0"/><stop offset="22.2%" stop-color="#00ffc8"/><stop offset="25.8%" stop-color="#00ffb2"/><stop offset="29.5%" stop-color="#00ff9e"/><stop offset="33.2%" stop-color="#00ff8a"/><stop offset="36.9%" stop-color="#00ff77"/><stop offset="40.6%" stop-color="#00ff64"/><stop offset="44.3%" stop-color="#00ff53"/><stop offset="48%" stop-color="#00ff43"/><stop offset="51.7%" stop-color="#00ff35"/><stop offset="55.4%" stop-color="#00ff27"/><stop offset="59.1%" stop-color="#00ff19"/><stop offset="62.8%" stop-color="#00ff06"/><stop offset="66.5%" stop-color="#11ff00"/><stop offset="70.2%" stop-color="#28ff00"/><stop offset="73.8%" stop-color="#3fff00"/><stop offset="77.5%" stop-color="#56ff00"/><stop offset="81.2%" stop-color="#6eff00"/><stop offset="84.9%" stop-color="#8aff00"/><stop offset="88.6%" stop-color="#abff00"/><stop offset="92.3%" stop-color="#ceff00"/><stop offset="96%" stop-color="#f4ff00"/><stop offset="97.5%" stop-color="#fffa00"/><stop offset="99%" stop-color="#ffea00"/><stop offset="100%" stop-color="#ffdf00"/></linearGradient>
<linearGradient id="h25"><stop offset="0%" stop-color="#0081ff"/><stop offset="3.7%" stop-color="#00a4ff"/><stop offset="7.4%" stop-color="#00c7ff"/><stop offset="11.1%" stop-color="#00e8ff"/><stop offset="14.8%" stop-color="#00fff9"/><stop offset="18.5%" stop-color="#00ffde"/><stop offset="22.2%" stop-color="#00ffc6"/><stop offset="25.8%" stop-color="#00ffb0"/><stop offset="29.5%" stop-color="#00ff9b"/><stop offset="33.2%" stop-color="#00ff86"/><stop offset="36.9%" stop-color="#00ff73"/><stop offset="40.6%" stop-color="#00ff60"/><stop offset="44.3%" stop-color="#00ff4f"/><stop offset="48%" stop-color="#00ff3f"/><stop offset="51.7%" stop-color="#00ff31"/><stop offset="55.4%" stop-color="#00ff23"/><stop offset="59.1%" stop-color="#00ff13"/><stop offset="62.8%" stop-color="#00ff00"/><stop offset="66.5%" stop-color="#16ff00"/><stop offset="70.2%" stop-color="#2dff00"/><stop offset="73.8%" stop-color="#43ff00"/><stop offset="77.5%" stop-color="#5aff00"/><stop offset="81.2%" stop-color="#72ff00"/><stop offset="84.9%" stop-color="#8dff00"/><stop offset="88.6%" stop-color="#adff00"/><stop offset="92.3%" stop-color="#cfff00"/><stop offset="96%" stop-color="#f4ff00"/><stop offset="97.5%" stop-color="#fffb00"/><stop offset="99%" stop-color="#ffeb00"/><stop offset="100%" stop-color="#ffe000"/></linearGradient>
<linearGradient id="h26"><stop offset="0%" stop-color="#007cff"/><stop offset="3.7%" stop-color="#00a1ff"/><stop offset="7.4%" stop-color="#00c5ff"/><stop offset="11.1%" stop-color="#00e7ff"/><stop offset="14.8%" stop-color="#00fff9"/><stop offset="18.5%" stop-color="#00ffdd"/><stop offset="22.2%" stop-color="#00ffc5"/><stop offset="25.8%" stop-color="#00ffae"/><stop offset="29.5%" stop-color="#00ff98"/><stop offset="33.2%" stop-color="#00ff83"/><stop offset="36.9%" stop-color="#00ff6f"/><stop offset="40.6%" stop-color="#00ff5c"/><stop offset="44.3%" stop-color="#00ff4b"/><stop offset="48%" stop-color="#00ff3b"/><stop offset="51.7%" stop-color="#00ff2d"/><stop offset="55.4%" stop-color="#00ff1f"/><stop offset="59.1%" stop-color="#00ff0e"/><stop offset="62.8%" stop-color="#05ff00"/><stop offset="66.5%" stop-color="#1bff00"/><stop offset="70.2%" stop-color="#31ff00"/><stop offset="73.8%" stop-color="#47ff00"/><stop offset="77.5%" stop-color="#5dff00"/><stop offset="81.2%" stop-color="#75ff00"/><stop offset="84.9%" stop-color="#90ff00"/><stop offset="88.6%" stop-color="#afff00"/><stop offset="92.3%" stop-color="#d0ff00"/><stop offset="96%" stop-color="#f4ff00"/><stop offset="97.5%" stop-color="#fffb00"/><stop offset="99%" stop-color="#ffec00"/><stop offset="100%" stop-color="#ffe100"/></linearGradient>
<linearGradient id="h27"><stop offset="0%" stop-color="#0077ff"/><stop offset="3.7%" stop-color="#009dff"/><stop offset="7.4%" stop-color="#00c3ff"/><stop offset="11.1%" stop-color="#00e6ff"/><stop offset="14.8%" stop-color="#00fff9"/><stop offset="18.5%" stop-color="#00ffdd"/><stop offset="22.2%" stop-color="#00ffc3"/><stop offset="25.8%" stop-color="#00ffab"/><stop offset="29.5%" stop-color="#00ff95"/><stop offset="33.2%" stop-color="#00ff80"/><stop offset="36.9%" stop-color="#00ff6b"/><stop offset="40.6%" stop-color="#00ff58"/><stop offset="44.3%" stop-color="#00ff47"/><stop offset="48%" stop-color="#00ff37"/><stop offset="51.7%" stop-color="#00ff29"/><stop offset="55.4%" stop-color="#00ff1a"/><stop offset="59.1%" stop-color="#00ff09"/><stop offset="62.8%" stop-color="#0bff00"/><stop offset="66.5%" stop-color="#20ff00"/><stop offset="70.2%" stop-color="#36ff00"/><stop offset="73.8%" stop-color="#4bff00"/><stop offset="77.5%" stop-color="#61ff00"/><stop offset="81.2%" stop-color="#78ff00"/><stop offset="84.9%" stop-color="#92ff00"/><stop offset="88.6%" stop-color="#b0ff00"/><stop offset="92.3%" stop-color="#d1ff00"/><stop offset="96%" stop-color="#f3ff00"/><stop offset="97.5%" stop-color="#fffc00"/><stop offset="99%" stop-color="#ffed00"/><stop offset="100%" stop-color="#ffe300"/></linearGradient>
<linearGradient id="h28"><stop offset="0%" stop-color="#0073ff"/><stop offset="3.7%" stop-color="#009aff"/><stop offset="7.4%" stop-color="#00c1ff"/><stop offset="11.1%" stop-color="#00e5ff"/><stop offset="14.8%" stop-color="#00fff9"/><stop offset="18.5%" stop-color="#00ffdc"/><stop offset="22.2%" stop-color="#00ffc2"/><stop offset="25.8%" stop-color="#00ffa9"/><stop offset="29.5%" stop-color="#00ff92"/><stop offset="33.2%" stop-color="#00ff7c"/><stop offset="36.9%" stop-color="#00ff67"/><stop offset="40.6%" stop-color="#00ff54"/><stop offset="44.3%" stop-color="#00ff43"/><stop offset="48%" stop-color="#00ff33"/><stop offset="51.7%" stop-color="#00ff24"/><stop offset="55.4%" stop-color="#00ff15"/><stop offset="59.1%" stop-color="#00ff03"/><stop offset="62.8%" stop-color="#10ff00"/><stop offset="66.5%" stop-color="#25ff00"/><stop offset="70.2%" stop-color="#3aff00"/><stop offset="73.8%" stop-color="#4fff00"/><stop offset="77.5%" stop-color="#64ff00"/><stop offset="81.2%" stop-color="#7bff00"/><stop offset="84.9%" stop-color="#95ff00"/><stop offset="88.6%" stop-color="#b2ff00"/><stop offset="92.3%" stop-color="#d2ff00"/><stop offset="96%" stop-color="#f3ff00"/><stop offset="97.5%" stop-color="#fffd00"/><stop offset="99%" stop-color="#ffee00"/><stop offset="100%" stop-color="#ffe400"/></linearGradient>
<linearGradient id="h29"><stop offset="0%" stop-color="#006eff"/><stop offset="3.7%" stop-color="#0097ff"/><stop offset="7.4%" stop-color="#00beff"/><stop offset="11.1%" stop-color="#00e4ff"/><stop offset="14.8%" stop-color="#00fff9"/><stop offset="18.5%" stop-color="#00ffdb"/><stop offset="22.2%" stop-color="#00ffc0"/><stop offset="25.8%" stop-color="#00ffa7"/><stop offset="29.5%" stop-color="#00ff90"/><stop offset="33.2%" stop-color="#00ff79"/><stop offset="36.9%" stop-color="#00ff64"/><stop offset="40.6%" stop-color="#00ff50"/><stop offset="44.3%" stop-color="#00ff3f"/><stop offset="48%" stop-color="#00ff2f"/><stop offset="51.7%" stop-color="#00ff20"/><stop offset="55.4%" stop-color="#00ff10"/><stop offset="59.1%" stop-color="#02ff00"/><stop offset="62.8%" stop-color="#15ff00"/><stop offset="66.5%" stop-color="#2aff00"/><stop offset="70.2%" stop-color="#3eff00"/><stop offset="73.8%" stop-color="#53ff00"/><stop offset="77.5%" stop-color="#67ff00"/><stop offset="81.2%" stop-color="#7eff00"/><stop offset="84.9%" stop-color="#97ff00"/><stop offset="88.6%" stop-color="#b4ff00"/><stop offset="92.3%" stop-color="#d2ff00"/><stop offset="96%" stop-color="#f3ff00"/><stop offset="97.5%" stop-color="#fffd00"/><stop offset="99%" stop-color="#ffef00"/><stop offset="100%" stop-color="#ffe500"/></linearGradient>
<linearGradient id="h30"><stop offset="0%" stop-color="#0069ff"/><stop offset="3.7%" stop-color="#0094ff"/><stop offset="7.4%" stop-color="#00bcff"/><stop offset="11.1%" stop-color="#00e2ff"/><stop offset="14.8%" stop-color="#00fff9"/><stop offset="18.5%" stop-color="#00ffdb"/><stop offset="22.2%" stop-color="#00ffbf"/><stop offset="25.8%" stop-color="#00ffa5"/><stop offset="29.5%" stop-color="#00ff8d"/><stop offset="33.2%" stop-color="#00ff76"/><stop offset="36.9%" stop-color="#00ff60"/><stop offset="40.6%" stop-color="#00ff4c"/><stop offset="44.3%" stop-color="#00ff3b"/><stop offset="48%" stop-color="#00ff2b"/><stop offset="51.7%" stop-color="#00ff1b"/><stop offset="55.4%" stop-color="#00ff0b"/><stop offset="59.1%" stop-color="#07ff00"/><stop offset="62.8%" stop-color="#1bff00"/><stop offset="66.5%" stop-color="#2fff00"/><stop offset="70.2%" stop-color="#43ff00"/><stop offset="73.8%" stop-color="#57ff00"/><stop offset="77.5%" stop-color="#6bff00"/><stop offset="81.2%" stop-color="#81ff00"/><stop offset="84.9%" stop-color="#9aff00"/><stop offset="88.6%" stop-color="#b5ff00"/><stop offset="92.3%" stop-color="#d3ff00"/><stop offset="96%" stop-color="#f2ff00"/><stop offset="97.5%" stop-color="#fffe00"/><stop offset="99%" stop-color="#fff000"/><stop offset="100%" stop-color="#ffe600"/></linearGradient>
<linearGradient id="h31"><stop offset="0%" stop-color="#0064ff"/><stop offset="3.7%" stop-color="#0090ff"/><stop offset="7.4%" stop-color="#00baff"/><stop offset="11.1%" stop-color="#00e1ff"/><stop offset="14.8%" stop-color="#00fffa"/><stop offset="18.5%" stop-color="#00ffda"/><stop offset="22.2%" stop-color="#00ffbe"/><stop offset="25.8%" stop-color="#00ffa3"/><stop offset="29.5%" stop-color="#00ff8b"/><stop offset="33.2%" stop-color="#00ff73"/><stop offset="36.9%" stop-color="#00ff5c"/><stop offset="40.6%" stop-color="#00ff48"/><stop offset="44.3%" stop-color="#00ff36"/><stop offset="48%" stop-color="#00ff26"/><stop offset="51.7%" stop-color="#00ff16"/><stop offset="55.4%" stop-color="#00ff05"/><stop offset="59.1%" stop-color="#0cff00"/><stop offset="62.8%" stop-color="#20ff00"/><stop offset="66.5%" stop-color="#33ff00"/><stop offset="70.2%" stop-color="#47ff00"/><stop offset="73.8%" stop-color="#5aff00"/><stop offset="77.5%" stop-color="#6eff00"/><stop offset="81.2%" stop-color="#83ff00"/><stop offset="84.9%" stop-color="#9cff00"/><stop offset="88.6%" stop-color="#b7ff00"/><stop offset="92.3%" stop-color="#d3ff00"/><stop offset="96%" stop-color="#f2ff00"/><stop offset="97.5%" stop-color="#ffff00"/><stop offset="99%" stop-color="#fff100"/><stop offset="100%" stop-color="#ffe800"/></linearGradient>
<linearGradient id="h32"><stop offset="0%" stop-color="#005fff"/><stop offset="3.7%" stop-color="#008dff"/><stop offset="7.4%" stop-color="#00b7ff"/><stop offset="11.1%" stop-color="#00dfff"/><stop offset="14.8%" stop-color="#00fffb"/><stop offset="18.5%" stop-color="#00ffda"/><stop offset="22.2%" stop-color="#00ffbc"/><stop offset="25.8%" stop-color="#00ffa2"/><stop offset="29.5%" stop-color="#00ff89"/><stop offset="33.2%" stop-color="#00ff70"/><stop offset="36.9%" stop-color="#00ff59"/><stop offset="40.6%" stop-color="#00ff44"/><stop offset="44.3%" stop-color="#00ff32"/><stop offset="48%" stop-color="#00ff22"/><stop offset="51.7%" stop-color="#00ff11"/><stop offset="55.4%" stop-color="#00ff00"/><stop offset="59.1%" stop-color="#12ff00"/><stop offset="62.8%" stop-color="#24ff00"/><stop offset="66.5%" stop-color="#38ff00"/><stop offset="70.2%" stop-color="#4bff00"/><stop offset="73.8%" stop-color="#5eff00"/><stop offset="77.5%" stop-color="#71ff00"/><stop offset="81.2%" stop-color="#86ff00"/><stop offset="84.9%" stop-color="#9eff00"/><stop offset="88.6%" stop-color="#b8ff00"/><stop offset="92.3%" stop-color="#d4ff00"/><stop offset="96%" stop-color="#f1ff00"/><stop offset="97.5%" stop-color="#feff00"/><stop offset="99%" stop-color="#fff200"/><stop offset="100%" stop-color="#ffe900"/></linearGradient>
<linearGradient id="h33"><stop offset="0%" stop-color="#005aff"/><stop offset="3.7%" stop-color="#0089ff"/><stop offset="7.4%" stop-color="#00b4ff"/><stop offset="11.1%" stop-color="#00dcff"/><stop offset="14.8%" stop-color="#00fffc"/><stop offset="18.5%" stop-color="#00ffda"/><stop offset="22.2%" stop-color="#00ffbb"/><stop offset="25.8%" stop-color="#00ffa0"/><stop offset="29.5%" stop-color="#00ff86"/><stop offset="33.2%" stop-color="#00ff6e"/><stop offset="36.9%" stop-color="#00ff56"/><stop offset="40.6%" stop-color="#00ff40"/><stop offset="44.3%" stop-color="#00ff2f"/><stop offset="48%" stop-color="#00ff1e"/><stop offset="51.7%" stop-color="#00ff0d"/><stop offset="55.4%" stop-color="#04ff00"/><stop offset="59.1%" stop-color="#16ff00"/><stop offset="62.8%" stop-color="#29ff00"/><stop offset="66.5%" stop-color="#3cff00"/><stop offset="70.2%" stop-color="#4fff00"/><stop offset="73.8%" stop-color="#61ff00"/><stop offset="77.5%" stop-color="#74ff00"/><stop offset="81.2%" stop-color="#89ff00"/><stop offset="84.9%" stop-color="#a0ff00"/><stop offset="88.6%" stop-color="#b9ff00"/><stop offset="92.3%" stop-color="#d4ff00"/><stop offset="96%" stop-color="#f1ff00"/><stop offset="97.5%" stop-color="#fdff00"/><stop offset="99%" stop-color="#fff300"/><stop offset="100%" stop-color="#ffea00"/></linearGradient>
<linearGradient id="h34"><stop offset="0%" stop-color="#0057ff"/><stop offset="3.7%" stop-color="#0086ff"/><stop offset="7.4%" stop-color="#00b1ff"/><stop offset="11.1%" stop-color="#00daff"/><stop offset="14.8%" stop-color="#00fffd"/><stop offset="18.5%" stop-color="#00ffda"/><stop offset="22.2%" stop-color="#00ffbb"/><stop offset="25.8%" stop-color="#00ff9f"/><stop offset="29.5%" stop-color="#00ff84"/><stop offset="33.2%" stop-color="#00ff6b"/><stop offset="36.9%" stop-color="#00ff53"/><stop offset="40.6%" stop-color="#00ff3d"/><stop offset="44.3%" stop-color="#00ff2b"/><stop offset="48%" stop-color="#00ff1a"/><stop offset="51.7%" stop-color="#00ff08"/><stop offset="55.4%" stop-color="#09ff00"/><stop offset="59.1%" stop-color="#1bff00"/><stop offset="62.8%" stop-color="#2dff00"/><stop offset="66.5%" stop-color="#40ff00"/><stop offset="70.2%" stop-color="#53ff00"/><stop offset="73.8%" stop-color="#65ff00"/><stop offset="77.5%" stop-color="#77ff00"/><stop offset="81.2%" stop-color="#8bff00"/><stop offset="84.9%" stop-color="#a2ff00"/><stop offset="88.6%" stop-color="#baff00"/><stop offset="92.3%" stop-color="#d4ff00"/><stop offset="96%" stop-color="#f0ff00"/><stop offset="97.5%" stop-color="#fdff00"/><stop offset="99%" stop-color="#fff400"/><stop offset="100%" stop-color="#ffeb00"/></linearGradient>
<linearGradient id="h35"><stop offset="0%" stop-color="#0055ff"/><stop offset="3.7%" stop-color="#0082ff"/><stop offset="7.4%" stop-color="#00aeff"/><stop offset="11.1%" stop-color="#00d8ff"/><stop offset="14.8%" stop-color="#00fffe"/><stop offset="18.5%" stop-color="#00ffda"/><stop offset="22.2%" stop-color="#00ffba"/><stop offset="25.8%" stop-color="#00ff9d"/><stop offset="29.5%" stop-color="#00ff83"/><stop offset="33.2%" stop-color="#00ff69"/><stop offset="36.9%" stop-color="#00ff50"/><stop offset="40.6%" stop-color="#00ff3a"/><stop offset="44.3%" stop-color="#00ff27"/><stop offset="48%" stop-color="#00ff15"/><stop offset="51.7%" stop-color="#00ff04"/><stop offset="55.4%" stop-color="#0eff00"/><stop offset="59.1%" stop-color="#20ff00"/><stop offset="62.8%" stop-color="#32ff00"/><stop offset="66.5%" stop-color="#44ff00"/><stop offset="70.2%" stop-color="#57ff00"/><stop offset="73.8%" stop-color="#68ff00"/><stop offset="77.5%" stop-color="#7aff00"/><stop offset="81.2%" stop-color="#8eff00"/><stop offset="84.9%" stop-color="#a4ff00"/><stop offset="88.6%" stop-color="#bbff00"/><stop offset="92.3%" stop-color="#d5ff00"/><stop offset="96%" stop-color="#f0ff00"/><stop offset="97.5%" stop-color="#fcff00"/><stop offset="99%" stop-color="#fff500"/><stop offset="100%" stop-color="#ffec00"/></linearGradient>
<linearGradient id="h36"><stop offset="0%" stop-color="#0053ff"/><stop offset="3.7%" stop-color="#0080ff"/><stop offset="7.4%" stop-color="#00abff"/><stop offset="11.1%" stop-color="#00d5ff"/><stop offset="14.8%" stop-color="#00feff"/><stop offset="18.5%" stop-color="#00ffdb"/><stop offset="22.2%" stop-color="#00ffba"/><stop offset="25.8%" stop-color="#00ff9c"/><stop offset="29.5%" stop-color="#00ff81"/><stop offset="33.2%" stop-color="#00ff67"/><stop offset="36.9%" stop-color="#00ff4e"/><stop offset="40.6%" stop-color="#00ff37"/><stop offset="44.3%" stop-color="#00ff24"/><stop offset="48%" stop-color="#00ff12"/><stop offset="51.7%" stop-color="#00ff00"/><stop offset="55.4%" stop-color="#12ff00"/><stop offset="59.1%" stop-color="#24ff00"/><stop offset="62.8%" stop-color="#36ff00"/><stop offset="66.5%" stop-color="#48ff00"/><stop offset="70.2%" stop-color="#5aff00"/><stop offset="73.8%" stop-color="#6bff00"/><stop offset="77.5%" stop-color="#7dff00"/><stop offset="81.2%" stop-color="#90ff00"/><stop offset="84.9%" stop-color="#a5ff00"/><stop offset="88.6%" stop-color="#bcff00"/><stop offset="92.3%" stop-color="#d5ff00"/><stop offset="96%" stop-color="#f0ff00"/><stop offset="97.5%" stop-color="#fcff00"/><stop offset="99%" stop-color="#fff600"/><stop offset="100%" stop-color="#ffed00"/></linearGradient>
<linearGradient id="h37"><stop offset="0%" stop-color="#0050ff"/><stop offset="3.7%" stop-color="#007dff"/><stop offset="7.4%" stop-color="#00a9ff"/><stop offset="11.1%" stop-color="#00d3ff"/><stop offset="14.8%" stop-color="#00fdff"/><stop offset="18.5%" stop-color="#00ffdc"/><stop offset="22.2%" stop-color="#00ffba"/><stop offset="25.8%" stop-color="#00ff9c"/><stop offset="29.5%" stop-color="#00ff80"/><stop offset="33.2%" stop-color="#00ff65"/><stop offset="36.9%" stop-color="#00ff4b"/><stop offset="40.6%" stop-color="#00ff34"/><stop offset="44.3%" stop-color="#00ff20"/><stop offset="48%" stop-color="#00ff0e"/><stop offset="51.7%" stop-color="#04ff00"/><stop offset="55.4%" stop-color="#16ff00"/><stop offset="59.1%" stop-color="#28ff00"/><stop offset="62.8%" stop-color="#3aff00"/><stop offset="66.5%" stop-color="#4cff00"/><stop offset="70.2%" stop-color="#5dff00"/><stop offset="73.8%" stop-color="#6eff00"/><stop offset="77.5%" stop-color="#80ff00"/><stop offset="81.2%" stop-color="#92ff00"/><stop offset="84.9%" stop-color="#a7ff00"/><stop offset="88.6%" stop-color="#bdff00"/><stop offset="92.3%" stop-color="#d5ff00"/><stop offset="96%" stop-color="#f0ff00"/><stop offset="97.5%" stop-color="#fcff00"/><stop offset="99%" stop-color="#fff600"/><stop offset="100%" stop-color="#ffee00"/></linearGradient>
<linearGradient id="h38"><stop offset="0%" stop-color="#004eff"/><stop offset="3.7%" stop-color="#007aff"/><stop offset="7.4%" stop-color="#00a6ff"/><stop offset="11.1%" stop-color="#00d1ff"/><stop offset="14.8%" stop-color="#00fbff"/><stop offset="18.5%" stop-color="#00ffdd"/><stop offset="22.2%" stop-color="#00ffba"/><stop offset="25.8%" stop-color="#00ff9b"/><stop offset="29.5%" stop-color="#00ff7e"/><stop offset="33.2%" stop-color="#00ff63"/><stop offset="36.9%" stop-color="#00ff49"/><stop offset="40.6%" stop-color="#00ff32"/><stop offset="44.3%" stop-color="#00ff1d"/><stop offset="48%" stop-color="#00ff0b"/><stop offset="51.7%" stop-color="#08ff00"/><stop offset="55.4%" stop-color="#1aff00"/><stop offset="59.1%" stop-color="#2bff00"/><stop offset="62.8%" stop-color="#3dff00"/><stop offset="66.5%" stop-color="#4fff00"/><stop offset="70.2%" stop-color="#60ff00"/><stop offset="73.8%" stop-color="#71ff00"/><stop offset="77.5%" stop-color="#82ff00"/><stop offset="81.2%" stop-color="#94ff00"/><stop offset="84.9%" stop-color="#a8ff00"/><stop offset="88.6%" stop-color="#beff00"/><stop offset="92.3%" stop-color="#d5ff00"/><stop offset="96%" stop-color="#f0ff00"/><stop offset="97.5%" stop-color="#fbff00"/><stop offset="99%" stop-color="#fff700"/><stop offset="100%" stop-color="#ffef00"/></linearGradient>
<linearGradient id="h39"><stop offset="0%" stop-color="#004bff"/><stop offset="3.7%" stop-color="#0077ff"/><stop offset="7.4%" stop-color="#00a3ff"/><stop offset="11.1%" stop-color="#00cfff"/><stop offset="14.8%" stop-color="#00f9ff"/><stop offset="18.5%" stop-color="#00ffde"/><stop offset="22.2%" stop-color="#00ffbb"/><stop offset="25.8%" stop-color="#00ff9b"/><stop offset="29.5%" stop-color="#00ff7d"/><stop offset="33.2%" stop-color="#00ff61"/><stop offset="36.9%" stop-color="#00ff47"/><stop offset="40.6%" stop-color="#00ff2f"/><stop offset="44.3%" stop-color="#00ff1b"/><stop offset="48%" stop-color="#00ff07"/><stop offset="51.7%" stop-color="#0bff00"/><stop offset="55.4%" stop-color="#1dff00"/><stop offset="59.1%" stop-color="#2fff00"/><stop offset="62.8%" stop-color="#40ff00"/><stop offset="66.5%" stop-color="#52ff00"/><stop offset="70.2%" stop-color="#63ff00"/><stop offset="73.8%" stop-color="#73ff00"/><stop offset="77.5%" stop-color="#84ff00"/><stop offset="81.2%" stop-color="#96ff00"/><stop offset="84.9%" stop-color="#a9ff00"/><stop offset="88.6%" stop-color="#beff00"/><stop offset="92.3%" stop-color="#d6ff00"/><stop offset="96%" stop-color="#efff00"/><stop offset="97.5%" stop-color="#faff00"/><stop offset="99%" stop-color="#fff800"/><stop offset="100%" stop-color="#fff000"/></linearGradient>
<linearGradient id="h40"><stop offset="0%" stop-color="#0048ff"/><stop offset="3.7%" stop-color="#0074ff"/><stop offset="7.4%" stop-color="#00a0ff"/><stop offset="11.1%" stop-color="#00ccff"/><stop offset="14.8%" stop-color="#00f7ff"/><stop offset="18.5%" stop-color="#00ffdf"/><stop offset="22.2%" stop-color="#00ffbb"/><stop offset="25.8%" stop-color="#00ff9b"/><stop offset="29.5%" stop-color="#00ff7c"/><stop offset="33.2%" stop-color="#00ff60"/><stop offset="36.9%" stop-color="#00ff45"/><stop offset="40.6%" stop-color="#00ff2d"/><stop offset="44.3%" stop-color="#00ff18"/><stop offset="48%" stop-color="#00ff05"/><stop offset="51.7%" stop-color="#0eff00"/><stop offset="55.4%" stop-color="#20ff00"/><stop offset="59.1%" stop-color="#32ff00"/><stop offset="62.8%" stop-color="#43ff00"/><stop offset="66.5%" stop-color="#54ff00"/><stop offset="70.2%" stop-color="#65ff00"/><stop offset="73.8%" stop-color="#75ff00"/><stop offset="77.5%" stop-color="#86ff00"/><stop offset="81.2%" stop-color="#97ff00"/><stop offset="84.9%" stop-color="#aaff00"/><stop offset="88.6%" stop-color="#bfff00"/><stop offset="92.3%" stop-color="#d6ff00"/><stop offset="96%" stop-color="#efff00"/><stop offset="97.5%" stop-color="#faff00"/><stop offset="99%" stop-color="#fff900"/><stop offset="100%" stop-color="#fff100"/></linearGradient>
<linearGradient id="h41"><stop offset="0%" stop-color="#0045ff"/><stop offset="3.7%" stop-color="#0071ff"/><stop offset="7.4%" stop-color="#009dff"/><stop offset="11.1%" stop-color="#00c9ff"/><stop offset="14.8%" stop-color="#00f5ff"/><stop offset="18.5%" stop-color="#00ffe0"/><stop offset="22.2%" stop-color="#00ffbc"/><stop offset="25.8%" stop-color="#00ff9a"/><stop offset="29.5%" stop-color="#00ff7c"/><stop offset="33.2%" stop-color="#00ff5f"/><stop offset="36.9%" stop-color="#00ff43"/><stop offset="40.6%" stop-color="#00ff2b"/><stop offset="44.3%" stop-color="#00ff16"/><stop offset="48%" stop-color="#00ff02"/><stop offset="51.7%" stop-color="#11ff00"/><stop offset="55.4%" stop-color="#23ff00"/><stop offset="59.1%" stop-color="#34ff00"/><stop offset="62.8%" stop-color="#46ff00"/><stop offset="66.5%" stop-color="#57ff00"/><stop offset="70.2%" stop-color="#67ff00"/><stop offset="73.8%" stop-color="#77ff00"/><stop offset="77.5%" stop-color="#87ff00"/><stop offset="81.2%" stop-color="#98ff00"/><stop offset="84.9%" stop-color="#abff00"/><stop offset="88.6%" stop-color="#bfff00"/><stop offset="92.3%" stop-color="#d5ff00"/><stop offset="96%" stop-color="#eeff00"/><stop offset="97.5%" stop-color="#f9ff00"/><stop offset="99%" stop-color="#fffa00"/><stop offset="100%" stop-color="#fff300"/></linearGradient>
<linearGradient id="h42"><stop offset="0%" stop-color="#0042ff"/><stop offset="3.7%" stop-color="#006eff"/><stop offset="7.4%" stop-color="#009aff"/><stop offset="11.1%" stop-color="#00c6ff"/><stop offset="14.8%" stop-color="#00f3ff"/><stop offset="18.5%" stop-color="#00ffe2"/><stop offset="22.2%" stop-color="#00ffbc"/><stop offset="25.8%" stop-color="#00ff9a"/><stop offset="29.5%" stop-color="#00ff7b"/><stop offset="33.2%" stop-color="#00ff5e"/><stop offset="36.9%" stop-color="#00ff42"/><stop offset="40.6%" stop-color="#00ff29"/><stop offset="44.3%" stop-color="#00ff14"/><stop offset="48%" stop-color="#00ff00"/><stop offset="51.7%" stop-color="#13ff00"/><stop offset="55.4%" stop-color="#25ff00"/><stop offset="59.1%" stop-color="#37ff00"/><stop offset="62.8%" stop-color="#48ff00"/><stop offset="66.5%" stop-color="#59ff00"/><stop offset="70.2%" stop-color="#69ff00"/><stop offset="73.8%" stop-color="#78ff00"/><stop offset="77.5%" stop-color="#88ff00"/><stop offset="81.2%" stop-color="#99ff00"/><stop offset="84.9%" stop-color="#abff00"/><stop offset="88.6%" stop-color="#bfff00"/><stop offset="92.3%" stop-color="#d5ff00"/><stop offset="96%" stop-color="#edff00"/><stop offset="97.5%" stop-color="#f8ff00"/><stop offset="99%" stop-color="#fffb00"/><stop offset="100%" stop-color="#fff400"/></linearGradient>
<linearGradient id="h43"><stop offset="0%" stop-color="#003fff"/><stop offset="3.7%" stop-color="#006aff"/><stop offset="7.4%" stop-color="#0097ff"/><stop offset="11.1%" stop-color="#00c4ff"/><stop offset="14.8%" stop-color="#00f1ff"/><stop offset="18.5%" stop-color="#00ffe3"/><stop offset="22.2%" stop-color="#00ffbd"/><stop offset="25.8%" stop-color="#00ff9b"/><stop offset="29.5%" stop-color="#00ff7b"/><stop offset="33.2%" stop-color="#00ff5d"/><stop offset="36.9%" stop-color="#00ff41"/><stop offset="40.6%" stop-color="#00ff28"/><stop offset="44.3%" stop-color="#00ff12"/><stop offset="48%" stop-color="#02ff00"/><stop offset="51.7%" stop-color="#15ff00"/><stop offset="55.4%" stop-color="#27ff00"/><stop offset="59.1%" stop-color="#39ff00"/><stop offset="62.8%" stop-color="#4aff00"/><stop offset="66.5%" stop-color="#5aff00"/><stop offset="70.2%" stop-color="#6aff00"/><stop offset="73.8%" stop-color="#7aff00"/><stop offset="77.5%" stop-color="#89ff00"/><stop offset="81.2%" stop-color="#9aff00"/><stop offset="84.9%" stop-color="#acff00"/><stop offset="88.6%" stop-color="#bfff00"/><stop offset="92.3%" stop-color="#d5ff00"/><stop offset="96%" stop-color="#ecff00"/><stop offset="97.5%" stop-color="#f7ff00"/><stop offset="99%" stop-color="#fffd00"/><stop offset="100%" stop-color="#fff500"/></linearGradient>
<linearGradient id="h44"><stop offset="0%" stop-color="#003bff"/><stop offset="3.7%" stop-color="#0067ff"/><stop offset="7.4%" stop-color="#0094ff"/><stop offset="11.1%" stop-color="#00c1ff"/><stop offset="14.8%" stop-color="#00efff"/><stop offset="18.5%" stop-color="#00ffe4"/><stop offset="22.2%" stop-color="#00ffbe"/><stop offset="25.8%" stop-color="#00ff9b"/><stop offset="29.5%" stop-color="#00ff7b"/><stop offset="33.2%" stop-color="#00ff5c"/><stop offset="36.9%" stop-color="#00ff40"/><stop offset="40.6%" stop-color="#00ff27"/><stop offset="44.3%" stop-color="#00ff10"/><stop offset="48%" stop-color="#04ff00"/><stop offset="51.7%" stop-color="#17ff00"/><stop offset="55.4%" stop-color="#29ff00"/><stop offset="59.1%" stop-color="#3bff00"/><stop offset="62.8%" stop-color="#4cff00"/><stop offset="66.5%" stop-color="#5cff00"/><stop offset="70.2%" stop-color="#6cff00"/><stop offset="73.8%" stop-color="#7bff00"/><stop offset="77.5%" stop-color="#8aff00"/><stop offset="81.2%" stop-color="#9aff00"/><stop offset="84.9%" stop-color="#acff00"/><stop offset="88.6%" stop-color="#bfff00"/><stop offset="92.3%" stop-color="#d4ff00"/><stop offset="96%" stop-color="#ebff00"/><stop offset="97.5%" stop-color="#f6ff00"/><stop offset="99%" stop-color="#fffe00"/><stop offset="100%" stop-color="#fff700"/></linearGradient>
<linearGradient id="h45"><stop offset="0%" stop-color="#0038ff"/><stop offset="3.7%" stop-color="#0064ff"/><stop offset="7.4%" stop-color="#0091ff"/><stop offset="11.1%" stop-color="#00bfff"/><stop offset="14.8%" stop-color="#00edff"/><stop offset="18.5%" stop-color="#00ffe6"/><stop offset="22.2%" stop-color="#00ffbf"/><stop offset="25.8%" stop-color="#00ff9b"/><stop offset="29.5%" stop-color="#00ff7b"/><stop offset="33.2%" stop-color="#00ff5c"/><stop offset="36.9%" stop-color="#00ff3f"/><stop offset="40.6%" stop-color="#00ff26"/><stop offset="44.3%" stop-color="#00ff0f"/><stop offset="48%" stop-color="#06ff00"/><stop offset="51.7%" stop-color="#19ff00"/><stop offset="55.4%" stop-color="#2bff00"/><stop offset="59.1%" stop-color="#3cff00"/><stop offset="62.8%" stop-color="#4dff00"/><stop offset="66.5%" stop-color="#5dff00"/><stop offset="70.2%" stop-color="#6dff00"/><stop offset="73.8%" stop-color="#7cff00"/><stop offset="77.5%" stop-color="#8bff00"/><stop offset="81.2%" stop-color="#9bff00"/><stop offset="84.9%" stop-color="#acff00"/><stop offset="88.6%" stop-color="#beff00"/><stop offset="92.3%" stop-color="#d3ff00"/><stop offset="96%" stop-color="#eaff00"/><stop offset="97.5%" stop-color="#f4ff00"/><stop offset="99%" stop-color="#ffff00"/><stop offset="100%" stop-color="#fff800"/></linearGradient>
<linearGradient id="h46"><stop offset="0%" stop-color="#0035ff"/><stop offset="3.7%" stop-color="#0061ff"/><stop offset="7.4%" stop-color="#008eff"/><stop offset="11.1%" stop-color="#00bcff"/><stop offset="14.8%" stop-color="#00ebff"/><stop offset="18.5%" stop-color="#00ffe7"/><stop offset="22.2%" stop-color="#00ffc0"/><stop offset="25.8%" stop-color="#00ff9c"/><stop offset="29.5%" stop-color="#00ff7b"/><stop offset="33.2%" stop-color="#00ff5c"/><stop offset="36.9%" stop-color="#00ff3f"/><stop offset="40.6%" stop-color="#00ff25"/><stop offset="44.3%" stop-color="#00ff0e"/><stop offset="48%" stop-color="#07ff00"/><stop offset="51.7%" stop-color="#1aff00"/><stop offset="55.4%" stop-color="#2cff00"/><stop offset="59.1%" stop-color="#3eff00"/><stop offset="62.8%" stop-color="#4fff00"/><stop offset="66.5%" stop-color="#5eff00"/><stop offset="70.2%" stop-color="#6eff00"/><stop offset="73.8%" stop-color="#7dff00"/><stop offset="77.5%" stop-color="#8cff00"/><stop offset="81.2%" stop-color="#9bff00"/><stop offset="84.9%" stop-color="#acff00"/><stop offset="88.6%" stop-color="#beff00"/><stop offset="92.3%" stop-color="#d2ff00"/><stop offset="96%" stop-color="#e9ff00"/><stop offset="97.5%" stop-color="#f3ff00"/><stop offset="99%" stop-color="#fdff00"/><stop offset="100%" stop-color="#fffa00"/></linearGradient>
<linearGradient id="h47"><stop offset="0%" stop-color="#0032ff"/><stop offset="3.7%" stop-color="#005eff"/><stop offset="7.4%" stop-color="#008cff"/><stop offset="11.1%" stop-color="#00baff"/><stop offset="14.8%" stop-color="#00e9ff"/><stop offset="18.5%" stop-color="#00ffe9"/><stop offset="22.2%" stop-color="#00ffc1"/><stop offset="25.8%" stop-color="#00ff9c"/><stop offset="29.5%" stop-color="#00ff7b"/><stop offset="33.2%" stop-color="#00ff5c"/><stop offset="36.9%" stop-color="#00ff3e"/><stop offset="40.6%" stop-color="#00ff24"/><stop offset="44.3%" stop-color="#00ff0d"/><stop offset="48%" stop-color="#08ff00"/><stop offset="51.7%" stop-color="#1cff00"/><stop offset="55.4%" stop-color="#2eff00"/><stop offset="59.1%" stop-color="#3fff00"/><stop offset="62.8%" stop-color="#50ff00"/><stop offset="66.5%" stop-color="#5fff00"/><stop offset="70.2%" stop-color="#6fff00"/><stop offset="73.8%" stop-color="#7dff00"/><stop offset="77.5%" stop-color="#8cff00"/><stop offset="81.2%" stop-color="#9bff00"/><stop offset="84.9%" stop-color="#abff00"/><stop offset="88.6%" stop-color="#bdff00"/><stop offset="92.3%" stop-color="#d1ff00"/><stop offset="96%" stop-color="#e8ff00"/><stop offset="97.5%" stop-color="#f1ff00"/><stop offset="99%" stop-color="#fcff00"/><stop offset="100%" stop-color="#fffb00"/></linearGradient>
<linearGradient id="h48"><stop offset="0%" stop-color="#002eff"/><stop offset="3.7%" stop-color="#005bff"/><stop offset="7.4%" stop-color="#0089ff"/><stop offset="11.1%" stop-color="#00b8ff"/><stop offset="14.8%" stop-color="#00e7ff"/><stop offset="18.5%" stop-color="#00ffea"/><stop offset="22.2%" stop-color="#00ffc2"/><stop offset="25.8%" stop-color="#00ff9d"/><stop offset="29.5%" stop-color="#00ff7b"/><stop offset="33.2%" stop-color="#00ff5c"/><stop offset="36.9%" stop-color="#00ff3e"/><stop offset="40.6%" stop-color="#00ff24"/><stop offset="44.3%" stop-color="#00ff0c"/><stop offset="48%" stop-color="#09ff00"/><stop offset="51.7%" stop-color="#1dff00"/><stop offset="55.4%" stop-color="#2fff00"/><stop offset="59.1%" stop-color="#40ff00"/><stop offset="62.8%" stop-color="#51ff00"/><stop offset="66.5%" stop-color="#60ff00"/><stop offset="70.2%" stop-color="#6fff00"/><stop offset="73.8%" stop-color="#7eff00"/><stop offset="77.5%" stop-color="#8cff00"/><stop offset="81.2%" stop-color="#9bff00"/><stop offset="84.9%" stop-color="#abff00"/><stop offset="88.6%" stop-color="#bdff00"/><stop offset="92.3%" stop-color="#d0ff00"/><stop offset="96%" stop-color="#e6ff00"/><stop offset="97.5%" stop-color="#f0ff00"/><stop offset="99%" stop-color="#faff00"/><stop offset="100%" stop-color="#fffd00"/></linearGradient>
<linearGradient id="h49"><stop offset="0%" stop-color="#002bff"/><stop offset="3.7%" stop-color="#0058ff"/><stop offset="7.4%" stop-color="#0086ff"/><stop offset="11.1%" stop-color="#00b5ff"/><stop offset="14.8%" stop-color="#00e5ff"/><stop offset="18.5%" stop-color="#00ffec"/><stop offset="22.2%" stop-color="#00ffc3"/><stop offset="25.8%" stop-color="#00ff9e"/><stop offset="29.5%" stop-color="#00ff7c"/><stop offset="33.2%" stop-color="#00ff5c"/><stop offset="36.9%" stop-color="#00ff3e"/><stop offset="40.6%" stop-color="#00ff23"/><stop offset="44.3%" stop-color="#00ff0c"/><stop offset="48%" stop-color="#0aff00"/><stop offset="51.7%" stop-color="#1dff00"/><stop offset="55.4%" stop-color="#30ff00"/><stop offset="59.1%" stop-color="#41ff00"/><stop offset="62.8%" stop-color="#51ff00"/><stop offset="66.5%" stop-color="#61ff00"/><stop offset="70.2%" stop-color="#70ff00"/><stop offset="73.8%" stop-color="#7eff00"/><stop offset="77.5%" stop-color="#8cff00"/><stop offset="81.2%" stop-color="#9bff00"/><stop offset="84.9%" stop-color="#aaff00"/><stop offset="88.6%" stop-color="#bcff00"/><stop offset="92.3%" stop-color="#cfff00"/><stop offset="96%" stop-color="#e5ff00"/><stop offset="97.5%" stop-color="#eeff00"/><stop offset="99%" stop-color="#f8ff00"/><stop offset="100%" stop-color="#ffff00"/></linearGradient>
<linearGradient id="h50"><stop offset="0%" stop-color="#0028ff"/><stop offset="3.7%" stop-color="#0055ff"/><stop offset="7.4%" stop-color="#0084ff"/><stop offset="11.1%" stop-color="#00b3ff"/><stop offset="14.8%" stop-color="#00e2ff"/><stop offset="18.5%" stop-color="#00ffed"/><stop offset="22.2%" stop-color="#00ffc4"/><stop offset="25.8%" stop-color="#00ff9f"/><stop offset="29.5%" stop-color="#00ff7d"/><stop offset="33.2%" stop-color="#00ff5c"/><stop offset="36.9%" stop-color="#00ff3e"/><stop offset="40.6%" stop-color="#00ff23"/><stop offset="44.3%" stop-color="#00ff0b"/><stop offset="48%" stop-color="#0aff00"/><stop offset="51.7%" stop-color="#1eff00"/><stop offset="55.4%" stop-color="#30ff00"/><stop offset="59.1%" stop-color="#42ff00"/><stop offset="62.8%" stop-color="#52ff00"/><stop offset="66.5%" stop-color="#61ff00"/><stop offset="70.2%" stop-color="#70ff00"/><stop offset="73.8%" stop-color="#7eff00"/><stop offset="77.5%" stop-color="#8cff00"/><stop offset="81.2%" stop-color="#9bff00"/><stop offset="84.9%" stop-color="#aaff00"/><stop offset="88.6%" stop-color="#bbff00"/><stop offset="92.3%" stop-color="#ceff00"/><stop offset="96%" stop-color="#e3ff00"/><stop offset="97.5%" stop-color="#edff00"/><stop offset="99%" stop-color="#f6ff00"/><stop offset="100%" stop-color="#fdff00"/></linearGradient>
<linearGradient id="h51"><stop offset="0%" stop-color="#0024ff"/><stop offset="3.7%" stop-color="#0052ff"/><stop offset="7.4%" stop-color="#0081ff"/><stop offset="11.1%" stop-color="#00b1ff"/><stop offset="14.8%" stop-color="#00e0ff"/><stop offset="18.5%" stop-color="#00ffef"/><stop offset="22.2%" stop-color="#00ffc5"/><stop offset="25.8%" stop-color="#00ffa0"/><stop offset="29.5%" stop-color="#00ff7e"/><stop offset="33.2%" stop-color="#00ff5d"/><stop offset="36.9%" stop-color="#00ff3f"/><stop offset="40.6%" stop-color="#00ff24"/><stop offset="44.3%" stop-color="#00ff0b"/><stop offset="48%" stop-color="#0bff00"/><stop offset="51.7%" stop-color="#1fff00"/><stop offset="55.4%" stop-color="#31ff00"/><stop offset="59.1%" stop-color="#42ff00"/><stop offset="62.8%" stop-color="#52ff00"/><stop offset="66.5%" stop-color="#62ff00"/><stop offset="70.2%" stop-color="#70ff00"/><stop offset="73.8%" stop-color="#7eff00"/><stop offset="77.5%" stop-color="#8cff00"/><stop offset="81.2%" stop-color="#9aff00"/><stop offset="84.9%" stop-color="#a9ff00"/><stop offset="88.6%" stop-color="#baff00"/><stop offset="92.3%" stop-color="#cdff00"/><stop offset="96%" stop-color="#e2ff00"/><stop offset="97.5%" stop-color="#ebff00"/><stop offset="99%" stop-color="#f5ff00"/><stop offset="100%" stop-color="#fbff00"/></linearGradient>
<linearGradient id="h52"><stop offset="0%" stop-color="#0021ff"/><stop offset="3.7%" stop-color="#004fff"/><stop offset="7.4%" stop-color="#007eff"/><stop offset="11.1%" stop-color="#00aeff"/><stop offset="14.8%" stop-color="#00deff"/><stop offset="18.5%" stop-color="#00fff2"/><stop offset="22.2%" stop-color="#00ffc7"/><stop offset="25.8%" stop-color="#00ffa1"/><stop offset="29.5%" stop-color="#00ff7f"/><stop offset="33.2%" stop-color="#00ff5e"/><stop offset="36.9%" stop-color="#00ff3f"/><stop offset="40.6%" stop-color="#00ff24"/><stop offset="44.3%" stop-color="#00ff0b"/><stop offset="48%" stop-color="#0bff00"/><stop offset="51.7%" stop-color="#1fff00"/><stop offset="55.4%" stop-color="#31ff00"/><stop offset="59.1%" stop-color="#42ff00"/><stop offset="62.8%" stop-color="#52ff00"/><stop offset="66.5%" stop-color="#62ff00"/><stop offset="70.2%" stop-color="#70ff00"/><stop offset="73.8%" stop-color="#7eff00"/><stop offset="77.5%" stop-color="#8cff00"/><stop offset="81.2%" stop-color="#99ff00"/><stop offset="84.9%" stop-color="#a8ff00"/><stop offset="88.6%" stop-color="#b9ff00"/><stop offset="92.3%" stop-color="#cbff00"/><stop offset="96%" stop-color="#e0ff00"/><stop offset="97.5%" stop-color="#e9ff00"/><stop offset="99%" stop-color="#f3ff00"/><stop offset="100%" stop-color="#f9ff00"/></linearGradient>
<linearGradient id="h53"><stop offset="0%" stop-color="#001eff"/><stop offset="3.7%" stop-color="#004bff"/><stop offset="7.4%" stop-color="#007bff"/><stop offset="11.1%" stop-color="#00abff"/><stop offset="14.8%" stop-color="#00dbff"/><stop offset="18.5%" stop-color="#00fff4"/><stop offset="22.2%" stop-color="#00ffc9"/><stop offset="25.8%" stop-color="#00ffa3"/><stop offset="29.5%" stop-color="#00ff80"/><stop offset="33.2%" stop-color="#00ff5f"/><stop offset="36.9%" stop-color="#00ff40"/><stop offset="40.6%" stop-color="#00ff24"/><stop offset="44.3%" stop-color="#00ff0c"/><stop offset="48%" stop-color="#0bff00"/><stop offset="51.7%" stop-color="#1fff00"/><stop offset="55.4%" stop-color="#31ff00"/><stop offset="59.1%" stop-color="#43ff00"/><stop offset="62.8%" stop-color="#53ff00"/><stop offset="66.5%" stop-color="#62ff00"/><stop offset="70.2%" stop-color="#70ff00"/><stop offset="73.8%" stop-color="#7eff00"/><stop offset="77.5%" stop-color="#8bff00"/><stop offset="81.2%" stop-color="#99ff00"/><stop offset="84.9%" stop-color="#a7ff00"/><stop offset="88.6%" stop-color="#b7ff00"/><stop offset="92.3%" stop-color="#caff00"/><stop offset="96%" stop-color="#deff00"/><stop offset="97.5%" stop-color="#e7ff00"/><stop offset="99%" stop-color="#f1ff00"/><stop offset="100%" stop-color="#f7ff00"/></linearGradient>
<linearGradient id="h54"><stop offset="0%" stop-color="#001bff"/><stop offset="3.7%" stop-color="#0048ff"/><stop offset="7.4%" stop-color="#0077ff"/><stop offset="11.1%" stop-color="#00a7ff"/><stop offset="14.8%" stop-color="#00d7ff"/><stop offset="18.5%" stop-color="#00fff7"/><stop offset="22.2%" stop-color="#00ffcc"/><stop offset="25.8%" stop-color="#00ffa5"/><stop offset="29.5%" stop-color="#00ff82"/><stop offset="33.2%" stop-color="#00ff60"/><stop offset="36.9%" stop-color="#00ff41"/><stop offset="40.6%" stop-color="#00ff25"/><stop offset="44.3%" stop-color="#00ff0c"/><stop offset="48%" stop-color="#0aff00"/><stop offset="51.7%" stop-color="#1fff00"/><stop offset="55.4%" stop-color="#31ff00"/><stop offset="59.1%" stop-color="#42ff00"/><stop offset="62.8%" stop-color="#52ff00"/><stop offset="66.5%" stop-color="#61ff00"/><stop offset="70.2%" stop-color="#70ff00"/><stop offset="73.8%" stop-color="#7dff00"/><stop offset="77.5%" stop-color="#8bff00"/><stop offset="81.2%" stop-color="#98ff00"/><stop offset="84.9%" stop-color="#a6ff00"/><stop offset="88.6%" stop-color="#b6ff00"/><stop offset="92.3%" stop-color="#c8ff00"/><stop offset="96%" stop-color="#dcff00"/><stop offset="97.5%" stop-color="#e5ff00"/><stop offset="99%" stop-color="#efff00"/><stop offset="100%" stop-color="#f5ff00"/></linearGradient>
<linearGradient id="h55"><stop offset="0%" stop-color="#0018ff"/><stop offset="3.7%" stop-color="#0045ff"/><stop offset="7.4%" stop-color="#0074ff"/><stop offset="11.1%" stop-color="#00a4ff"/><stop offset="14.8%" stop-color="#00d4ff"/><stop offset="18.5%" stop-color="#00fffa"/><stop offset="22.2%" stop-color="#00ffce"/><stop offset="25.8%" stop-color="#00ffa7"/><stop offset="29.5%" stop-color="#00ff83"/><stop offset="33.2%" stop-color="#00ff61"/><stop offset="36.9%" stop-color="#00ff42"/><stop offset="40.6%" stop-color="#00ff26"/><stop offset="44.3%" stop-color="#00ff0d"/><stop offset="48%" stop-color="#0aff00"/><stop offset="51.7%" stop-color="#1eff00"/><stop offset="55.4%" stop-color="#31ff00"/><stop offset="59.1%" stop-color="#42ff00"/><stop offset="62.8%" stop-color="#52ff00"/><stop offset="66.5%" stop-color="#61ff00"/><stop offset="70.2%" stop-color="#6fff00"/><stop offset="73.8%" stop-color="#7dff00"/><stop offset="77.5%" stop-color="#8aff00"/><stop offset="81.2%" stop-color="#97ff00"/><stop offset="84.9%" stop-color="#a5ff00"/><stop offset="88.6%" stop-color="#b4ff00"/><stop offset="92.3%" stop-color="#c6ff00"/><stop offset="96%" stop-color="#dbff00"/><stop offset="97.5%" stop-color="#e4ff00"/><stop offset="99%" stop-color="#edff00"/><stop offset="100%" stop-color="#f3ff00"/></linearGradient>
<linearGradient id="h56"><stop offset="0%" stop-color="#0015ff"/><stop offset="3.7%" stop-color="#0041ff"/><stop offset="7.4%" stop-color="#0070ff"/><stop offset="11.1%" stop-color="#00a0ff"/><stop offset="14.8%" stop-color="#00d0ff"/><stop offset="18.5%" stop-color="#00fffd"/><stop offset="22.2%" stop-color="#00ffd1"/><stop offset="25.8%" stop-color="#00ffa9"/><stop offset="29.5%" stop-color="#00ff85"/><stop offset="33.2%" stop-color="#00ff63"/><stop offset="36.9%" stop-color="#00ff43"/><stop offset="40.6%" stop-color="#00ff27"/><stop offset="44.3%" stop-color="#00ff0e"/><stop offset="48%" stop-color="#09ff00"/><stop offset="51.7%" stop-color="#1eff00"/><stop offset="55.4%" stop-color="#31ff00"/><stop offset="59.1%" stop-color="#42ff00"/><stop offset="62.8%" stop-color="#52ff00"/><stop offset="66.5%" stop-color="#61ff00"/><stop offset="70.2%" stop-color="#6fff00"/><stop offset="73.8%" stop-color="#7cff00"/><stop offset="77.5%" stop-color="#89ff00"/><stop offset="81.2%" stop-color="#96ff00"/><stop offset="84.9%" stop-color="#a3ff00"/><stop offset="88.6%" stop-color="#b3ff00"/><stop offset="92.3%" stop-color="#c4ff00"/><stop offset="96%" stop-color="#d9ff00"/><stop offset="97.5%" stop-color="#e2ff00"/><stop offset="99%" stop-color="#ebff00"/><stop offset="100%" stop-color="#f1ff00"/></linearGradient>
<linearGradient id="h57"><stop offset="0%" stop-color="#0012ff"/><stop offset="3.7%" stop-color="#003eff"/><stop offset="7.4%" stop-color="#006dff"/><stop offset="11.1%" stop-color="#009dff"/><stop offset="14.8%" stop-color="#00cdff"/><stop offset="18.5%" stop-color="#00feff"/><stop offset="22.2%" stop-color="#00ffd3"/><stop offset="25.8%" stop-color="#00ffab"/><stop offset="29.5%" stop-color="#00ff86"/><stop offset="33.2%" stop-color="#00ff64"/><stop offset="36.9%" stop-color="#00ff45"/><stop offset="40.6%" stop-color="#00ff28"/><stop offset="44.3%" stop-color="#00ff0f"/><stop offset="48%" stop-color="#08ff00"/><stop offset="51.7%" stop-color="#1dff00"/><stop offset="55.4%" stop-color="#30ff00"/><stop offset="59.1%" stop-color="#41ff00"/><stop offset="62.8%" stop-color="#51ff00"/><stop offset="66.5%" stop-color="#60ff00"/><stop offset="70.2%" stop-color="#6eff00"/><stop offset="73.8%" stop-color="#7bff00"/><stop offset="77.5%" stop-color="#88ff00"/><stop offset="81.2%" stop-color="#95ff00"/><stop offset="84.9%" stop-color="#a2ff00"/><stop offset="88.6%" stop-color="#b1ff00"/><stop offset="92.3%" stop-color="#c2ff00"/><stop offset="96%" stop-color="#d6ff00"/><stop offset="97.5%" stop-color="#dfff00"/><stop offset="99%" stop-color="#e9ff00"/><stop offset="100%" stop-color="#efff00"/></linearGradient>
<linearGradient id="h58"><stop offset="0%" stop-color="#000fff"/><stop offset="3.7%" stop-color="#003bff"/><stop offset="7.4%" stop-color="#006aff"/><stop offset="11.1%" stop-color="#009aff"/><stop offset="14.8%" stop-color="#00cbff"/><stop offset="18.5%" stop-color="#00fcff"/><stop offset="22.2%" stop-color="#00ffd5"/><stop offset="25.8%" stop-color="#00ffad"/><stop offset="29.5%" stop-color="#00ff88"/><stop offset="33.2%" stop-color="#00ff66"/><stop offset="36.9%" stop-color="#00ff46"/><stop offset="40.6%" stop-color="#00ff2a"/><stop offset="44.3%" stop-color="#00ff10"/><stop offset="48%" stop-color="#07ff00"/><stop offset="51.7%" stop-color="#1cff00"/><stop offset="55.4%" stop-color="#2fff00"/><stop offset="59.1%" stop-color="#40ff00"/><stop offset="62.8%" stop-color="#50ff00"/><stop offset="66.5%" stop-color="#5fff00"/><stop offset="70.2%" stop-color="#6dff00"/><stop offset="73.8%" stop-color="#7aff00"/><stop offset="77.5%" stop-color="#87ff00"/><stop offset="81.2%" stop-color="#93ff00"/><stop offset="84.9%" stop-color="#a0ff00"/><stop offset="88.6%" stop-color="#afff00"/><stop offset="92.3%" stop-color="#c0ff00"/><stop offset="96%" stop-color="#d4ff00"/><stop offset="97.5%" stop-color="#ddff00"/><stop offset="99%" stop-color="#e7ff00"/><stop offset="100%" stop-color="#edff00"/></linearGradient>
<linearGradient id="h59"><stop offset="0%" stop-color="#000cff"/><stop offset="3.7%" stop-color="#0039ff"/><stop offset="7.4%" stop-color="#0067ff"/><stop offset="11.1%" stop-color="#0097ff"/><stop offset="14.8%" stop-color="#00c9ff"/><stop offset="18.5%" stop-color="#00faff"/><stop offset="22.2%" stop-color="#00ffd7"/><stop offset="25.8%" stop-color="#00ffaf"/><stop offset="29.5%" stop-color="#00ff8a"/><stop offset="33.2%" stop-color="#00ff68"/><stop offset="36.9%" stop-color="#00ff48"/><stop offset="40.6%" stop-color="#00ff2b"/><stop offset="44.3%" stop-color="#00ff11"/><stop offset="48%" stop-color="#06ff00"/><stop offset="51.7%" stop-color="#1bff00"/><stop offset="55.4%" stop-color="#2eff00"/><stop offset="59.1%" stop-color="#3fff00"/><stop offset="62.8%" stop-color="#4fff00"/><stop offset="66.5%" stop-color="#5eff00"/><stop offset="70.2%" stop-color="#6cff00"/><stop offset="73.8%" stop-color="#79ff00"/><stop offset="77.5%" stop-color="#86ff00"/><stop offset="81.2%" stop-color="#92ff00"/><stop offset="84.9%" stop-color="#9fff00"/><stop offset="88.6%" stop-color="#adff00"/><stop offset="92.3%" stop-color="#beff00"/><stop offset="96%" stop-color="#d2ff00"/><stop offset="97.5%" stop-color="#dbff00"/><stop offset="99%" stop-color="#e4ff00"/><stop offset="100%" stop-color="#ebff00"/></linearGradient>
<linearGradient id="h60"><stop offset="0%" stop-color="#000aff"/><stop offset="3.7%" stop-color="#0036ff"/><stop offset="7.4%" stop-color="#0064ff"/><stop offset="11.1%" stop-color="#0095ff"/><stop offset="14.8%" stop-color="#00c7ff"/><stop offset="18.5%" stop-color="#00f8ff"/><stop offset="22.2%" stop-color="#00ffd9"/><stop offset="25.8%" stop-color="#00ffb0"/><stop offset="29.5%" stop-color="#00ff8c"/><stop offset="33.2%" stop-color="#00ff69"/><stop offset="36.9%" stop-color="#00ff49"/><stop offset="40.6%" stop-color="#00ff2d"/><stop offset="44.3%" stop-color="#00ff13"/><stop offset="48%" stop-color="#05ff00"/><stop offset="51.7%" stop-color="#1aff00"/><stop offset="55.4%" stop-color="#2dff00"/><stop offset="59.1%" stop-color="#3eff00"/><stop offset="62.8%" stop-color="#4eff00"/><stop offset="66.5%" stop-color="#5dff00"/><stop offset="70.2%" stop-color="#6bff00"/><stop offset="73.8%" stop-color="#78ff00"/><stop offset="77.5%" stop-color="#84ff00"/><stop offset="81.2%" stop-color="#90ff00"/><stop offset="84.9%" stop-color="#9dff00"/><stop offset="88.6%" stop-color="#abff00"/><stop offset="92.3%" stop-color="#bcff00"/><stop offset="96%" stop-color="#d0ff00"/><stop offset="97.5%" stop-color="#d9ff00"/><stop offset="99%" stop-color="#e2ff00"/><stop offset="100%" stop-color="#e9ff00"/></linearGradient>
<linearGradient id="h61"><stop offset="0%" stop-color="#0007ff"/><stop offset="3.7%" stop-color="#0033ff"/><stop offset="7.4%" stop-color="#0062ff"/><stop offset="11.1%" stop-color="#0092ff"/><stop offset="14.8%" stop-color="#00c4ff"/><stop offset="18.5%" stop-color="#00f6ff"/><stop offset="22.2%" stop-color="#00ffdb"/><stop offset="25.8%" stop-color="#00ffb2"/><stop offset="29.5%" stop-color="#00ff8d"/><stop offset="33.2%" stop-color="#00ff6b"/><stop offset="36.9%" stop-color="#00ff4b"/><stop offset="40.6%" stop-color="#00ff2e"/><stop offset="44.3%" stop-color="#00ff15"/><stop offset="48%" stop-color="#03ff00"/><stop offset="51.7%" stop-color="#18ff00"/><stop offset="55.4%" stop-color="#2cff00"/><stop offset="59.1%" stop-color="#3dff00"/><stop offset="62.8%" stop-color="#4dff00"/><stop offset="66.5%" stop-color="#5cff00"/><stop offset="70.2%" stop-color="#6aff00"/><stop offset="73.8%" stop-color="#77ff00"/><stop offset="77.5%" stop-color="#83ff00"/><stop offset="81.2%" stop-color="#8fff00"/><stop offset="84.9%" stop-color="#9bff00"/><stop offset="88.6%" stop-color="#a9ff00"/><stop offset="92.3%" stop-color="#b9ff00"/><stop offset="96%" stop-color="#cdff00"/><stop offset="97.5%" stop-color="#d6ff00"/><stop offset="99%" stop-color="#e0ff00"/><stop offset="100%" stop-color="#e6ff00"/></linearGradient>
<linearGradient id="h62"><stop offset="0%" stop-color="#0005ff"/><stop offset="3.7%" stop-color="#0031ff"/><stop offset="7.4%" stop-color="#005fff"/><stop offset="11.1%" stop-color="#0090ff"/><stop offset="14.8%" stop-color="#00c2ff"/><stop offset="18.5%" stop-color="#00f3ff"/><stop offset="22.2%" stop-color="#00ffdd"/><stop offset="25.8%" stop-color="#00ffb4"/><stop offset="29.5%" stop-color="#00ff8f"/><stop offset="33.2%" stop-color="#00ff6d"/><stop offset="36.9%" stop-color="#00ff4d"/><stop offset="40.6%" stop-color="#00ff30"/><stop offset="44.3%" stop-color="#00ff16"/><stop offset="48%" stop-color="#01ff00"/><stop offset="51.7%" stop-color="#17ff00"/><stop offset="55.4%" stop-color="#2aff00"/><stop offset="59.1%" stop-color="#3cff00"/><stop offset="62.8%" stop-color="#4cff00"/><stop offset="66.5%" stop-color="#5aff00"/><stop offset="70.2%" stop-color="#68ff00"/><stop offset="73.8%" stop-color="#75ff00"/><stop offset="77.5%" stop-color="#81ff00"/><stop offset="81.2%" stop-color="#8dff00"/><stop offset="84.9%" stop-color="#99ff00"/><stop offset="88.6%" stop-color="#a7ff00"/><stop offset="92.3%" stop-color="#b7ff00"/><stop offset="96%" stop-color="#cbff00"/><stop offset="97.5%" stop-color="#d4ff00"/><stop offset="99%" stop-color="#ddff00"/><stop offset="100%" stop-color="#e4ff00"/></linearGradient>
<linearGradient id="h63"><stop offset="0%" stop-color="#0002ff"/><stop offset="3.7%" stop-color="#002fff"/><stop offset="7.4%" stop-color="#005dff"/><stop offset="11.1%" stop-color="#008eff"/><stop offset="14.8%" stop-color="#00c0ff"/><stop offset="18.5%" stop-color="#00f1ff"/><stop offset="22.2%" stop-color="#00ffdf"/><stop offset="25.8%" stop-color="#00ffb6"/><stop offset="29.5%" stop-color="#00ff91"/><stop offset="33.2%" stop-color="#00ff6f"/><stop offset="36.9%" stop-color="#00ff50"/><stop offset="40.6%" stop-color="#00ff33"/><stop offset="44.3%" stop-color="#00ff18"/><stop offset="48%" stop-color="#00ff01"/><stop offset="51.7%" stop-color="#15ff00"/><stop offset="55.4%" stop-color="#28ff00"/><stop offset="59.1%" stop-color="#3aff00"/><stop offset="62.8%" stop-color="#4aff00"/><stop offset="66.5%" stop-color="#59ff00"/><stop offset="70.2%" stop-color="#67ff00"/><stop offset="73.8%" stop-color="#74ff00"/><stop offset="77.5%" stop-color="#80ff00"/><stop offset="81.2%" stop-color="#8bff00"/><stop offset="84.9%" stop-color="#97ff00"/><stop offset="88.6%" stop-color="#a4ff00"/><stop offset="92.3%" stop-color="#b4ff00"/><stop offset="96%" stop-color="#c8ff00"/><stop offset="97.5%" stop-color="#d1ff00"/><stop offset="99%" stop-color="#dbff00"/><stop offset="100%" stop-color="#e2ff00"/></linearGradient>
<linearGradient id="h64"><stop offset="0%" stop-color="#0000ff"/><stop offset="3.7%" stop-color="#002cff"/><stop offset="7.4%" stop-color="#005aff"/><stop offset="11.1%" stop-color="#008bff"/><stop offset="14.8%" stop-color="#00beff"/><stop offset="18.5%" stop-color="#00efff"/><stop offset="22.2%" stop-color="#00ffe2"/><stop offset="25.8%" stop-color="#00ffb8"/><stop offset="29.5%" stop-color="#00ff93"/><stop offset="33.2%" stop-color="#00ff72"/><stop offset="36.9%" stop-color="#00ff52"/><stop offset="40.6%" stop-color="#00ff35"/><stop offset="44.3%" stop-color="#00ff1b"/><stop offset="48%" stop-color="#00ff03"/><stop offset="51.7%" stop-color="#13ff00"/><stop offset="55.4%" stop-color="#26ff00"/><stop offset="59.1%" stop-color="#38ff00"/><stop offset="62.8%" stop-color="#48ff00"/><stop offset="66.5%" stop-color="#57ff00"/><stop offset="70.2%" stop-color="#65ff00"/><stop offset="73.8%" stop-color="#72ff00"/><stop offset="77.5%" stop-color="#7eff00"/><stop offset="81.2%" stop-color="#89ff00"/><stop offset="84.9%" stop-color="#95ff00"/><stop offset="88.6%" stop-color="#a2ff00"/><stop offset="92.3%" stop-color="#b2ff00"/><stop offset="96%" stop-color="#c5ff00"/><stop offset="97.5%" stop-color="#cfff00"/><stop offset="99%" stop-color="#d9ff00"/><stop offset="100%" stop-color="#e0ff00"/></linearGradient>
<linearGradient id="h65"><stop offset="0%" stop-color="#0000ff"/><stop offset="3.7%" stop-color="#002aff"/><stop offset="7.4%" stop-color="#0058ff"/><stop offset="11.1%" stop-color="#0089ff"/><stop offset="14.8%" stop-color="#00bbff"/><stop offset="18.5%" stop-color="#00ecff"/><stop offset="22.2%" stop-color="#00ffe4"/><stop offset="25.8%" stop-color="#00ffbb"/><stop offset="29.5%" stop-color="#00ff96"/><stop offset="33.2%" stop-color="#00ff74"/><stop offset="36.9%" stop-color="#00ff55"/><stop offset="40.6%" stop-color="#00ff37"/><stop offset="44.3%" stop-color="#00ff1d"/><stop offset="48%" stop-color="#00ff06"/><stop offset="51.7%" stop-color="#10ff00"/><stop offset="55.4%" stop-color="#24ff00"/><stop offset="59.1%" stop-color="#36ff00"/><stop offset="62.8%" stop-color="#46ff00"/><stop offset="66.5%" stop-color="#55ff00"/><stop offset="70.2%" stop-color="#63ff00"/><stop offset="73.8%" stop-color="#70ff00"/><stop offset="77.5%" stop-color="#7cff00"/><stop offset="81.2%" stop-color="#87ff00"/><stop offset="84.9%" stop-color="#93ff00"/><stop offset="88.6%" stop-color="#a0ff00"/><stop offset="92.3%" stop-color="#afff00"/><stop offset="96%" stop-color="#c3ff00"/><stop offset="97.5%" stop-color="#cdff00"/><stop offset="99%" stop-color="#d7ff00"/><stop offset="100%" stop-color="#deff00"/></linearGradient>
<linearGradient id="h66"><stop offset="0%" stop-color="#0000ff"/><stop offset="3.7%" stop-color="#0028ff"/><stop offset="7.4%" stop-color="#0056ff"/><stop offset="11.1%" stop-color="#0086ff"/><stop offset="14.8%" stop-color="#00b9ff"/><stop offset="18.5%" stop-color="#00eaff"/><stop offset="22.2%" stop-color="#00ffe7"/><stop offset="25.8%" stop-color="#00ffbd"/><stop offset="29.5%" stop-color="#00ff98"/><stop offset="33.2%" stop-color="#00ff77"/><stop offset="36.9%" stop-color="#00ff57"/><stop offset="40.6%" stop-color="#00ff3a"/><stop offset="44.3%" stop-color="#00ff20"/><stop offset="48%" stop-color="#00ff08"/><stop offset="51.7%" stop-color="#0eff00"/><stop offset="55.4%" stop-color="#22ff00"/><stop offset="59.1%" stop-color="#34ff00"/><stop offset="62.8%" stop-color="#44ff00"/><stop offset="66.5%" stop-color="#53ff00"/><stop offset="70.2%" stop-color="#61ff00"/><stop offset="73.8%" stop-color="#6eff00"/><stop offset="77.5%" stop-color="#7aff00"/><stop offset="81.2%" stop-color="#86ff00"/><stop offset="84.9%" stop-color="#92ff00"/><stop offset="88.6%" stop-color="#9fff00"/><stop offset="92.3%" stop-color="#aeff00"/><stop offset="96%" stop-color="#c1ff00"/><stop offset="97.5%" stop-color="#cbff00"/><stop offset="99%" stop-color="#d6ff00"/><stop offset="100%" stop-color="#ddff00"/></linearGradient>
</defs>
<g shape-rendering="crispEdges">
<rect x="221.2" y="13.3" width="269" height="4.5" fill="url(#h0)"/>
<rect x="221.2" y="17.3" width="269" height="4.5" fill="url(#h1)"/>
<rect x="221.2" y="21.3" width="269" height="4.5" fill="url(#h2)"/>
<rect x="221.2" y="25.3" width="269" height="4.5" fill="url(#h3)"/>
<rect x="221.2" y="29.3" width="269" height="4.5" fill="url(#h4)"/>
<rect x="221.2" y="33.3" width="269" height="4.5" fill="url(#h5)"/>
<rect x="221.2" y="37.3" width="269" height="4.5" fill="url(#h6)"/>
<rect x="221.2" y="41.3" width="269" height="4.5" fill="url(#h7)"/>
<rect x="221.2" y="45.3" width="269" height="4.5" fill="url(#h8)"/>
<rect x="221.2" y="49.3" width="269" height="4.5" fill="url(#h9)"/>
<rect x="221.2" y="53.3" width="269" height="4.5" fill="url(#h10)"/>
<rect x="221.2" y="57.3" width="269" height="4.5" fill="url(#h11)"/>
<rect x="221.2" y="61.3" width="269" height="4.5" fill="url(#h12)"/>
<rect x="221.2" y="65.3" width="269" height="4.5" fill="url(#h13)"/>
<rect x="221.2" y="69.3" width="269" height="4.5" fill="url(#h14)"/>
<rect x="221.2" y="73.3" width="269" height="4.5" fill="url(#h15)"/>
<rect x="221.2" y="77.3" width="269" height="4.5" fill="url(#h16)"/>
<rect x="221.2" y="81.3" width="269" height="4.5" fill="url(#h17)"/>
<rect x="221.2" y="85.3" width="269" height="4.5" fill="url(#h18)"/>
<rect x="221.2" y="89.3" width="269" height="4.5" fill="url(#h19)"/>
<rect x="221.2" y="93.3" width="269" height="4.5" fill="url(#h20)"/>
<rect x="221.2" y="97.3" width="269" height="4.5" fill="url(#h21)"/>
<rect x="221.2" y="101.3" width="269" height="4.5" fill="url(#h22)"/>
<rect x="221.2" y="105.3" width="269" height="4.5" fill="url(#h23)"/>
<rect x="221.2" y="109.3" width="269" height="4.5" fill="url(#h24)"/>
<rect x="221.2" y="113.3" width="269" height="4.5" fill="url(#h25)"/>
<rect x="221.2" y="117.3" width="269" height="4.5" fill="url(#h26)"/>
<rect x="221.2" y="121.3" width="269" height="4.5" fill="url(#h27)"/>
<rect x="221.2" y="125.3" width="269" height="4.5" fill="url(#h28)"/>
<rect x="221.2" y="129.3" width="269" height="4.5" fill="url(#h29)"/>
<rect x="221.2" y="133.3" width="269" height="4.5" fill="url(#h30)"/>
<rect x="221.2" y="137.3" width="269" height="4.5" fill="url(#h31)"/>
<rect x="221.2" y="141.3" width="269" height="4.5" fill="url(#h32)"/>
<rect x="221.2" y="145.3" width="269" height="4.5" fill="url(#h33)"/>
<rect x="221.2" y="149.3" width="269" height="4.5" fill="url(#h34)"/>
<rect x="221.2" y="153.3" width="269" height="4.5" fill="url(#h35)"/>
<rect x="221.2" y="157.3" width="269" height="4.5" fill="url(#h36)"/>
<rect x="221.2" y="161.3" width="269" height="4.5" fill="url(#h37)"/>
<rect x="221.2" y="165.3" width="269" height="4.5" fill="url(#h38)"/>
<rect x="221.2" y="169.3" width="269" height="4.5" fill="url(#h39)"/>
<rect x="221.2" y="173.3" width="269" height="4.5" fill="url(#h40)"/>
<rect x="221.2" y="177.3" width="269" height="4.5" fill="url(#h41)"/>
<rect x="221.2" y="181.3" width="269" height="4.5" fill="url(#h42)"/>
<rect x="221.2" y="185.3" width="269" height="4.5" fill="url(#h43)"/>
<rect x="221.2" y="189.3" width="269" height="4.5" fill="url(#h44)"/>
<rect x="221.2" y="193.3" width="269" height="4.5" fill="url(#h45)"/>
<rect x="221.2" y="197.3" width="269" height="4.5" fill="url(#h46)"/>
<rect x="221.2" y="201.3" width="269" height="4.5" fill="url(#h47)"/>
<rect x="221.2" y="205.3" width="269" height="4.5" fill="url(#h48)"/>
<rect x="221.2" y="209.3" width="269" height="4.5" fill="url(#h49)"/>
<rect x="221.2" y="213.3" width="269" height="4.5" fill="url(#h50)"/>
<rect x="221.2" y="217.3" width="269" height="4.5" fill="url(#h51)"/>
<rect x="221.2" y="221.3" width="269" height="4.5" fill="url(#h52)"/>
<rect x="221.2" y="225.3" width="269" height="4.5" fill="url(#h53)"/>
<rect x="221.2" y="229.3" width="269" height="4.5" fill="url(#h54)"/>
<rect x="221.2" y="233.3" width="269" height="4.5" fill="url(#h55)"/>
<rect x="221.2" y="237.3" width="269" height="4.5" fill="url(#h56)"/>
<rect x="221.2" y="241.3" width="269" height="4.5" fill="url(#h57)"/>
<rect x="221.2" y="245.3" width="269" height="4.5" fill="url(#h58)"/>
<rect x="221.2" y="249.3" width="269" height="4.5" fill="url(#h59)"/>
<rect x="221.2" y="253.3" width="269" height="4.5" fill="url(#h60)"/>
<rect x="221.2" y="257.3" width="269" height="4.5" fill="url(#h61)"/>
<rect x="221.2" y="261.3" width="269" height="4.5" fill="url(#h62)"/>
<rect x="221.2" y="265.3" width="269" height="4.5" fill="url(#h63)"/>
<rect x="221.2" y="269.3" width="269" height="4.5" fill="url(#h64)"/>
<rect x="221.2" y="273.3" width="269" height="4.5" fill="url(#h65)"/>
<rect x="221.2" y="277.3" width="269" height="2.6" fill="url(#h66)"/>
</g>
<path d="M221.2,258.1 222,263.9 222.7,269.2 223.7,277.2 224,279.9M221.2,121.1 222.5,125.7 223.9,130.9 225.2,136.2 226.6,141.9 227.9,148.3 229.1,154.6 229.9,159.9 230.7,165.3 232,173 233,178.6 233.9,183.9 234.9,189.3 236,196 237,202.6 237.8,207.9 238.7,213.6 239.8,221.2 240.7,226.6 241.7,231.9 242.7,237.4 244,245.2 244.8,250.6 245.5,255.9 246.5,263.9 247.2,269.2 248.1,276.1 248.6,279.9M221.2,40 222.5,45.3 225.1,50.6 226.7,53.3 229.3,57.9 230.9,61.3 233.2,66.6 234.6,70.6 236,74.9 237.4,79.9 238.7,85.3 240,91.7 241.3,98.6 242.3,103.9 243.1,109.3 244.1,116 244.9,122.6 245.5,127.9 246.4,135.9 247.2,141.3 248.1,147.1 249.3,154.6 250.1,159.9 250.8,165.7 251.8,173.3 252.6,178.6 253.5,184.4 254.5,191.9 255.1,197.3 256.1,205.3 256.7,210.6 257.5,217.3 258.3,223.9 259.2,229.2 260.2,234.8 261.6,242.5 262.2,247.9 262.9,254.4 263.6,261.2 264.2,267 265.1,274.6 265.8,279.9M363.1,13.3 359.7,15.1 357,16.4 353,18.1 350.3,19.2 346.3,20.6 343.6,21.5 339.6,22.7 335.5,23.8 332.8,24.4 328.8,25.3 324.8,26.3 322.1,26.9 318,27.6 314,28.3 310,29.3 307.3,30.1 303.2,31.5 300.6,32.4 296.5,33.6 293.1,34.6 289.8,35.5 285.8,36.8 283.1,37.7 279,39.2 276.3,40.6 273.1,42.6 270,45.3 267.5,48 265.5,50.6 262.9,55.5 261.5,58.6 260,64 258.9,70.4 258.1,77.3 257.6,85.3 257.4,90.6 257.2,98.6 257.1,106.6 257.1,114.6 257.3,122.6 257.5,129.8 257.8,135.9 258.4,143.9 258.9,149.5 259.7,157.3 260.3,162.6 261.1,170.6 261.8,175.9 262.7,183.9 263.2,189.3 264.1,197.3 264.7,202.6 265.5,210.6 266,215.9 266.9,223.7 267.8,229.2 268.8,234.6 269.6,240 270.6,247.9 271.1,253.2 272.1,261.2 272.7,266.6 273.7,274.2 274.5,279.9M398.3,13.3 396,16 393.4,18.7 390.7,21.3 387.8,24 384.7,26.6 381.6,29.3 378.6,31.9 375.9,34.1 373.2,36.3 370.5,38.3 367.8,40.2 364.4,42.6 361.1,44.8 358.4,46.5 355.7,48 351.7,50.2 349,51.5 345.4,53.3 342.2,54.9 339.6,56.4 335.5,58.6 332.8,60.1 330.1,61.8 326.6,64 323.4,66.1 320.7,68 318,70 315.3,72.1 312.5,74.6 309.6,77.3 307,79.9 304.6,82.6 301.9,86 299.2,89.8 297.1,93.3 295.2,96.9 293.2,101.3 291.2,106.6 289.8,111.4 288.4,116.6 287.1,122.6 286.1,127.9 285.2,133.3 284.4,138.6 283.3,146.6 282.9,151.9 282.6,159.9 282.6,167.9 282.8,175.9 283.1,183.9 283.3,189.3 283.7,197.3 284.1,205.3 284.5,210.6 285.1,218.6 285.8,224.8 286.7,231.9 287.5,237.2 288.4,244.8 289.2,250.6 289.8,255.9 290.8,263.9 291.5,269.2 292.5,275.9 293.2,279.9M415.7,13.3 413.5,16.7 410.8,20.3 408.2,23.6 405.5,26.6 403,29.3 400.5,32 397.9,34.6 395.3,37.3 392.7,40 390.1,42.6 387.6,45.3 385,48 382.5,50.6 379.8,53.3 377,56 374.2,58.6 371.3,61.3 368.2,64 365.1,66.3 362.4,68.2 359.7,70 356.7,72 353,74.5 350.3,76.1 347.6,77.7 344.2,79.9 340.9,82.4 338.2,84.6 335.5,87 332.8,89.6 330.1,92.4 327.5,95.5 325,98.6 323.1,101.3 320.7,105 318.2,109.3 316.7,112.1 314.2,117.3 312.7,121.1 311,125.3 309.2,130.6 307.5,135.9 305.9,141.2 304.6,146.6 303.4,151.9 302.4,157.3 301.7,162.6 300.8,170.6 300.4,175.9 300.1,183.9 299.9,191.9 300,199.9 300.2,207.9 300.6,215.7 301,221.2 301.8,229.2 302.3,234.6 303.2,242.6 303.9,247.9 304.6,253.4 305.6,261.2 306.3,266.6 307.3,272.1 308.6,278.4 309,279.9M432.2,13.3 429.8,18.6 428.3,21.4 425.6,25.8 423.2,29.3 421.4,32 418.9,35.8 416.2,39.6 414,42.6 411.9,45.3 409.5,48.3 406.8,52 404.1,55.9 402.1,58.6 400.1,61.4 397.4,64.8 394.7,68.2 392,71.7 389.7,74.6 387.4,77.3 385,79.9 382.6,82.6 379.9,85.7 377.2,88.7 374.5,91.5 371.8,94.1 369.1,96.7 366.5,99.5 363.8,102.3 361.1,105.2 358.4,108.3 355.7,111.8 353.8,114.6 351.7,117.9 349,122.1 346.9,125.3 344.9,128.4 342.2,132.6 340.2,135.9 338.2,139.1 335.5,143.7 334,146.6 331.7,151.9 330.1,156 328.8,159.9 327.1,165.3 325.8,170.6 324.7,175.9 323.4,183.9 322.8,189.3 322.2,197.3 322,202.6 321.9,210.6 322.1,218.4 322.3,223.9 322.9,231.9 323.4,237.6 324.3,245.2 324.9,250.6 326.1,258.5 327,263.9 328.1,269.2 329.3,274.6 330.6,279.9M437.6,13.3 435.6,18.6 433.7,22.5 431.5,26.6 429.7,29.7 427,34.3 425.2,37.3 422.9,41.1 420.4,45.3 418.6,48 416.2,51.5 413.5,55.6 411.7,58.6 409.5,62.4 407,66.6 405.2,69.3 402.8,72.7 400.1,76.6 397.9,79.9 396,82.8 393.4,86.8 390.7,90.4 388.5,93.3 386.5,95.9 383.9,99.4 381.3,103.1 378.6,106.5 376.2,109.3 374,111.9 371.8,114.7 369.1,118.3 366.5,122 363.9,125.3 361.8,127.9 359.7,130.6 357,134.1 354.4,137.9 352.1,141.3 350.3,144 347.6,148.3 345.5,151.9 343.6,155.5 341.4,159.9 339.6,164.3 338.2,167.9 336.5,173.3 335.1,178.6 333.9,183.9 332.8,190.7 332.1,197.3 331.5,205.3 331.3,210.6 331.3,218.6 331.5,223.9 332,231.9 332.7,239.9 333.3,245.2 334.2,251.7 335.3,258.6 336.2,263.9 337.4,269.2 338.7,274.6 340.2,279.9M450.8,13.3 449.5,18.6 447.7,24 445.8,28.9 444.5,32.2 442.5,37.3 440.4,42.6 439.1,46 437.1,50.6 435.1,55.2 433.5,58.6 431.3,64 429.7,67.7 427.8,72 425.6,76.6 424,79.9 421.6,84.8 420.1,87.9 417.6,93.3 416.2,96 413.5,101.2 412,103.9 409.5,108.9 408,111.9 405.5,116.9 403.8,119.9 401.4,124.2 399.3,127.9 397.4,131.2 394.7,135.6 392.9,138.6 390.7,142.3 388.1,146.6 386.5,149.3 383.9,153.4 381.6,157.3 379.9,160.2 377.2,165.2 375.9,168 373.5,173.3 371.8,177.5 370.5,181.3 368.8,186.6 367.3,191.9 366.1,197.3 365.1,202.6 364,210.6 363.5,215.9 363.1,223.9 363.2,231.9 363.6,239.9 364.1,245.2 365.1,252.3 366.2,258.6 367.3,263.9 368.7,269.2 370.2,274.6 371.8,279.5 372,279.9M459.3,13.3 457.9,20.5 456.6,26.1 455.2,31.2 453.9,36.3 452.5,41.4 451.2,46.3 449.9,51 448.4,56 446.9,61.3 445.5,66.6 444,72 442.3,77.3 440.5,82.6 439.1,86.6 437.7,90.6 435.9,95.9 433.9,101.3 432.4,105.4 430.8,109.3 428.8,114.6 427,119.2 425.6,122.6 423.4,127.9 421.6,131.8 419.7,135.9 417.6,140.2 415.7,143.9 413.5,148.4 411.8,151.9 409.5,156.5 407.8,159.9 405.5,165.2 404.1,168.5 402.3,173.3 400.4,178.6 398.8,183.9 397.4,189 396.1,194.6 395.1,199.9 394.2,205.3 393.4,213.2 393,218.6 392.8,226.6 393.1,234.6 393.5,239.9 394.5,247.9 395.4,253.2 396.4,258.6 397.7,263.9 399.2,269.2 401,274.6 402.8,279.4 403,279.9M464.9,13.3 464.2,18.6 463.3,24 462,31.1 460.8,37.3 459.8,42.6 458.7,48 457.6,53.3 456.5,58.6 455.2,65.8 454.2,72 453,77.3 451.7,82.6 450.3,87.9 449,93.3 447.8,98.6 446.4,103.9 444.9,109.3 443.4,114.6 441.9,119.9 440.4,125.1 439.1,129.6 437.7,133.7 436.1,138.6 434.3,143.9 432.4,149.3 431,152.9 429.3,157.3 427.3,162.6 425.6,167.5 424.3,171.8 422.9,176.6 421.6,182 420.3,188.3 419.2,194.6 418.4,199.9 417.6,207.9 417.3,213.2 417.2,221.2 417.6,228.2 418.2,234.6 418.9,240.3 420.3,247.7 421.5,253.2 422.9,258.6 424.3,263 425.6,267 427.4,271.9 429.5,277.2 430.6,279.9M474,13.3 473.3,21.3 472.7,27 472,34.6 471.4,41 470.7,48 470,54.2 469.3,61.3 468.7,68.8 468.1,74.6 467.3,80.7 466.3,87.9 465.7,93.3 464.8,101.3 464.1,106.6 463.3,113.4 462.5,119.9 461.9,125.3 461,133.3 460.3,138.6 459.3,146.6 458.8,151.9 458,159.9 457.5,165.3 456.9,173.3 456.6,179.4 456.4,186.6 456.5,194.6 456.8,199.9 457.5,207.9 458.1,213.2 459.3,221.2 460.2,226.6 461.3,231.9 462.5,237.2 463.8,242.6 465.3,247.9 467,253.2 468.7,258.2 470,262 471.7,266.6 473.5,271.9 475.1,277.2 475.7,279.9" fill="none" stroke="#000" stroke-width="0.75" stroke-opacity="0.85"/>
<rect x="221.2" y="13.3" width="269" height="266.6" fill="none" stroke="#333" stroke-opacity="0.75" stroke-width="0.6"/>
<text x="221.2" y="295.3" text-anchor="middle" font-size="7.2">20</text>
<text x="275" y="295.3" text-anchor="middle" font-size="7.2">40</text>
<text x="328.8" y="295.3" text-anchor="middle" font-size="7.2">60</text>
<text x="382.6" y="295.3" text-anchor="middle" font-size="7.2">80</text>
<text x="436.4" y="295.3" text-anchor="middle" font-size="7.2">100</text>
<text x="490.2" y="295.3" text-anchor="middle" font-size="7.2">120</text>
<text x="212" y="282.5" text-anchor="end" font-size="7.2">0</text>
<text x="212" y="229.2" text-anchor="end" font-size="7.2">10</text>
<text x="212" y="175.9" text-anchor="end" font-size="7.2">20</text>
<text x="212" y="122.5" text-anchor="end" font-size="7.2">30</text>
<text x="212" y="69.2" text-anchor="end" font-size="7.2">40</text>
<text x="212" y="15.9" text-anchor="end" font-size="7.2">50</text>
<path d="M221.2,279.9 v6.5M275,279.9 v6.5M328.8,279.9 v6.5M382.6,279.9 v6.5M436.4,279.9 v6.5M490.2,279.9 v6.5M221.2,279.9 h-6.5M221.2,226.6 h-6.5M221.2,173.3 h-6.5M221.2,119.9 h-6.5M221.2,66.6 h-6.5M221.2,13.3 h-6.5" stroke="#555" stroke-width="0.85" fill="none"/>
<rect x="248.4" y="94.3" width="18.5" height="5.5" fill="#fff" stroke="#333" stroke-width="0.7"/>
<text x="257.6" y="98.7" text-anchor="middle" font-size="4.4" fill="#222">208.514</text>
<rect x="284.3" y="97.8" width="18.1" height="5.5" fill="#fff" stroke="#333" stroke-width="0.7"/>
<text x="293.4" y="102.1" text-anchor="middle" font-size="4.4" fill="#222">224.881</text>
<rect x="311.6" y="104.5" width="17.5" height="5.5" fill="#fff" stroke="#333" stroke-width="0.7"/>
<text x="320.4" y="108.9" text-anchor="middle" font-size="4.4" fill="#222">236.251</text>
<rect x="344.2" y="118.5" width="9.8" height="5.5" fill="#fff" stroke="#333" stroke-width="0.7"/>
<text x="349.1" y="122.9" text-anchor="middle" font-size="4.4" fill="#222">250</text>
<rect x="350.4" y="124.5" width="17.5" height="5.5" fill="#fff" stroke="#333" stroke-width="0.7"/>
<text x="359.1" y="128.9" text-anchor="middle" font-size="4.4" fill="#222">255.158</text>
<rect x="386.6" y="131.1" width="15.3" height="5.5" fill="#fff" stroke="#333" stroke-width="0.7"/>
<text x="394.2" y="135.4" text-anchor="middle" font-size="4.4" fill="#222">269.49</text>
<rect x="407.4" y="139.9" width="17.1" height="5.5" fill="#fff" stroke="#333" stroke-width="0.7"/>
<text x="416" y="144.3" text-anchor="middle" font-size="4.4" fill="#222">279.879</text>
<rect x="425.7" y="140.9" width="14.9" height="5.5" fill="#fff" stroke="#333" stroke-width="0.7"/>
<text x="433.1" y="145.3" text-anchor="middle" font-size="4.4" fill="#222">287.27</text>
<rect x="454.1" y="144.6" width="9.6" height="5.5" fill="#fff" stroke="#333" stroke-width="0.7"/>
<text x="458.9" y="148.9" text-anchor="middle" font-size="4.4" fill="#222">300</text>
<rect x="244.1" y="151.2" width="9.9" height="5.5" fill="#fff" stroke="#333" stroke-width="0.7"/>
<text x="249.1" y="155.5" text-anchor="middle" font-size="4.4" fill="#222">200</text>
<rect x="227.3" y="190.9" width="17.8" height="5.5" fill="#fff" stroke="#333" stroke-width="0.7"/>
<text x="236.2" y="195.3" text-anchor="middle" font-size="4.4" fill="#222">182.034</text>
<text x="355.2" y="8.9" text-anchor="middle" font-size="10.6" textLength="41" lengthAdjust="spacingAndGlyphs">EGT (0C)</text>
<text x="355.2" y="315.9" text-anchor="middle" font-size="9.3" textLength="51.6" lengthAdjust="spacingAndGlyphs" xml:space="preserve" style="white-space:pre">A: LOAD  (%)</text>
<text transform="translate(181,145.8) rotate(-90)" text-anchor="middle" font-size="9.5" textLength="36.3" lengthAdjust="spacingAndGlyphs">C: Blends</text>
<g id="plot3d">
<path d="M52.4,518.4 L181.1,474.9 L309.7,518.4M51.3,495.6 L181.1,454 L310.8,495.6M50.2,472.8 L181.1,433.1 L311.9,472.8M49.1,449.9 L181.1,412.2 L313,449.9M48,427.1 L181.1,391.3 L314.1,427.1M46.9,404.3 L181.1,370.4 L315.2,404.3M45.8,381.5 L181.1,349.5 L316.3,381.5M52.4,518.4 L45.8,381.5M78.1,509.7 L72.8,375.1M206.8,483.6 L208.1,355.9M103.9,501 L99.9,368.7M232.5,492.3 L235.2,362.3M129.6,492.3 L127,362.3M258.2,501 L262.2,368.7M155.3,483.6 L154,355.9M284,509.7 L289.2,375.1M181.1,474.9 L181.1,349.5M309.7,518.4 L316.3,381.5M52.4,518.4 L54.2,561M309.7,518.4 L307.8,561" fill="none" stroke="#222" stroke-width="0.8"/>
<path d="M54.2,561 L181.1,623.9 L307.8,561 L181.1,511.5Z" fill="#646464" stroke="#111" stroke-width="0.9" stroke-linejoin="round"/>
<path d="M68,556.1 70.8,558.5 73.6,560.8 76.5,563.1 79.5,565.3 82.4,567.4 85.4,569.5 88.4,571.6 91.5,573.5 94.6,575.5 97.7,577.3 100.9,579.2 104.1,580.9 107.3,582.7 110.5,584.4 113.8,586 117.1,587.6 120.4,589.2 123.7,590.7 127.1,592.2 130.4,593.6 133.8,595 137.2,596.4 140.6,597.7 144,599.1 147.5,600.4 150.9,601.6 154.4,602.9 157.8,604.1 161.3,605.3 164.8,606.5 168.3,607.6 171.7,608.8 175.2,609.9 178.7,611 182.2,612.1 185.6,613.2 189.1,614.3 192.6,615.3 196,616.4" fill="none" stroke="#0a6cff" stroke-width="1.9" stroke-linejoin="round"/>
<path d="M87.7,548.3 90.5,550.6 93.3,552.8 96.1,555 99,557.1 101.9,559.2 104.8,561.3 107.8,563.3 110.7,565.3 113.7,567.2 116.8,569.1 119.8,571 122.9,572.9 126,574.7 129.1,576.4 132.3,578.1 135.4,579.8 138.6,581.5 141.8,583.1 145.1,584.6 148.3,586.2 151.6,587.7 154.9,589.1 158.2,590.5 161.5,591.9 164.8,593.3 168.1,594.6 171.5,595.8 174.9,597.1 178.2,598.2 181.6,599.4 185,600.5 188.5,601.6 191.9,602.6 195.3,603.6 198.8,604.6 202.2,605.5 205.7,606.4 209.1,607.3 212.6,608.1" fill="none" stroke="#00d8ff" stroke-width="1.5" stroke-linejoin="round"/>
<path d="M109.9,540.3 112.4,542.7 115,545.1 117.7,547.4 120.4,549.6 123.1,551.8 125.9,554 128.7,556.1 131.6,558.1 134.4,560.1 137.4,562.1 140.3,564 143.3,565.8 146.3,567.6 149.4,569.4 152.4,571.1 155.5,572.8 158.7,574.4 161.8,576 165,577.5 168.2,579 171.4,580.4 174.6,581.8 177.9,583.1 181.2,584.4 184.5,585.7 187.8,586.9 191.1,588 194.5,589.2 197.8,590.2 201.2,591.3 204.6,592.3 208,593.2 211.4,594.2 214.8,595 218.2,595.9 221.6,596.6 225,597.4 228.4,598.1 231.8,598.8" fill="none" stroke="#00f09a" stroke-width="1.5" stroke-linejoin="round"/>
<path d="M137.8,528.8 139.3,532.1 141,535.2 142.9,538.1 144.9,540.8 147.1,543.4 149.4,545.8 151.8,548.1 154.4,550.2 157,552.3 159.8,554.2 162.6,556 165.5,557.8 168.5,559.4 171.5,561 174.6,562.5 177.7,563.9 180.8,565.4 184,566.7 187.1,568.1 190.3,569.4 193.5,570.7 196.7,572 199.9,573.2 203.1,574.4 206.4,575.5 209.6,576.7 212.8,577.8 216.1,578.9 219.3,579.9 222.6,581 225.9,581.9 229.1,582.9 232.4,583.8 235.7,584.8 238.9,585.6 242.2,586.5 245.5,587.3 248.7,588.1 252,588.9" fill="none" stroke="#22ee00" stroke-width="1.5" stroke-linejoin="round"/>
<path d="M175.9,527.1 177.8,529.3 179.8,531.5 181.9,533.6 184,535.7 186.2,537.7 188.4,539.6 190.7,541.5 193,543.3 195.3,545.1 197.7,546.8 200.2,548.4 202.6,550 205.1,551.6 207.6,553.1 210.2,554.5 212.8,555.9 215.4,557.3 218.1,558.6 220.7,559.8 223.4,561 226.2,562.2 228.9,563.3 231.7,564.4 234.4,565.4 237.2,566.4 240.1,567.3 242.9,568.2 245.7,569.1 248.6,569.9 251.4,570.7 254.3,571.4 257.1,572.2 260,572.8 262.9,573.5 265.8,574.1 268.6,574.7 271.5,575.2 274.4,575.8 277.2,576.3" fill="none" stroke="#96ff00" stroke-width="1.5" stroke-linejoin="round"/>
<g stroke-width="0.5" stroke-linejoin="round"><path d="M181,400 184,399 181,398.9 178.1,399.9Z" fill="#8fff2f" stroke="#8fff2f"/><path d="M178.1,401.1 181,400 178.1,399.9 175.1,401Z" fill="#8eff31" stroke="#8eff31"/><path d="M184,400.1 187,399 184,399 181,400Z" fill="#96ff2f" stroke="#96ff2f"/><path d="M175.1,402.2 178.1,401.1 175.1,401 172.1,402.2Z" fill="#8cff33" stroke="#8cff33"/><path d="M181,401.2 184,400.1 181,400 178.1,401.1Z" fill="#95ff31" stroke="#95ff31"/><path d="M187,400.2 190,399.1 187,399 184,400.1Z" fill="#9eff2f" stroke="#9eff2f"/><path d="M172.1,403.4 175.1,402.2 172.1,402.2 169.1,403.4Z" fill="#8aff35" stroke="#8aff35"/><path d="M178.1,402.3 181,401.2 178.1,401.1 175.1,402.2Z" fill="#94ff33" stroke="#94ff33"/><path d="M184,401.3 187,400.2 184,400.1 181,401.2Z" fill="#9dff31" stroke="#9dff31"/><path d="M190,400.3 193,399.2 190,399.1 187,400.2Z" fill="#a5ff30" stroke="#a5ff30"/><path d="M169.1,404.7 172.1,403.4 169.1,403.4 166.1,404.6Z" fill="#88ff37" stroke="#88ff37"/><path d="M175,403.5 178.1,402.3 175.1,402.2 172.1,403.4Z" fill="#92ff35" stroke="#92ff35"/><path d="M181,402.4 184,401.3 181,401.2 178.1,402.3Z" fill="#9bff33" stroke="#9bff33"/><path d="M187,401.4 190,400.3 187,400.2 184,401.3Z" fill="#a4ff31" stroke="#a4ff31"/><path d="M193,400.4 196,399.4 193,399.2 190,400.3Z" fill="#acff30" stroke="#acff30"/><path d="M166,406 169.1,404.7 166.1,404.6 163.1,406Z" fill="#85ff39" stroke="#85ff39"/><path d="M172,404.8 175,403.5 172.1,403.4 169.1,404.7Z" fill="#8fff37" stroke="#8fff37"/><path d="M178,403.7 181,402.4 178.1,402.3 175,403.5Z" fill="#99ff35" stroke="#99ff35"/><path d="M184,402.6 187,401.4 184,401.3 181,402.4Z" fill="#a2ff33" stroke="#a2ff33"/><path d="M190.1,401.6 193,400.4 190,400.3 187,401.4Z" fill="#abff31" stroke="#abff31"/><path d="M196.1,400.6 199.1,399.5 196,399.4 193,400.4Z" fill="#b3ff30" stroke="#b3ff30"/><path d="M163,407.5 166,406 163.1,406 160,407.4Z" fill="#82ff3b" stroke="#82ff3b"/><path d="M169,406.2 172,404.8 169.1,404.7 166,406Z" fill="#8cff39" stroke="#8cff39"/><path d="M175,404.9 178,403.7 175,403.5 172,404.8Z" fill="#96ff37" stroke="#96ff37"/><path d="M181,403.8 184,402.6 181,402.4 178,403.7Z" fill="#a0ff35" stroke="#a0ff35"/><path d="M187.1,402.7 190.1,401.6 187,401.4 184,402.6Z" fill="#a9ff33" stroke="#a9ff33"/><path d="M193.1,401.7 196.1,400.6 193,400.4 190.1,401.6Z" fill="#b2ff32" stroke="#b2ff32"/><path d="M199.2,400.8 202.1,399.7 199.1,399.5 196.1,400.6Z" fill="#baff30" stroke="#baff30"/><path d="M159.9,408.9 163,407.5 160,407.4 156.9,408.8Z" fill="#7eff3d" stroke="#7eff3d"/><path d="M165.9,407.6 169,406.2 166,406 163,407.5Z" fill="#89ff3b" stroke="#89ff3b"/><path d="M172,406.3 175,404.9 172,404.8 169,406.2Z" fill="#93ff39" stroke="#93ff39"/><path d="M178,405.1 181,403.8 178,403.7 175,404.9Z" fill="#9dff37" stroke="#9dff37"/><path d="M184.1,404 187.1,402.7 184,402.6 181,403.8Z" fill="#a7ff35" stroke="#a7ff35"/><path d="M190.1,402.9 193.1,401.7 190.1,401.6 187.1,402.7Z" fill="#afff33" stroke="#afff33"/><path d="M196.2,402 199.2,400.8 196.1,400.6 193.1,401.7Z" fill="#b8ff32" stroke="#b8ff32"/><path d="M202.2,401 205.2,399.9 202.1,399.7 199.2,400.8Z" fill="#c0ff30" stroke="#c0ff30"/><path d="M156.8,410.5 159.9,408.9 156.9,408.8 153.9,410.4Z" fill="#7aff3f" stroke="#7aff3f"/><path d="M162.9,409.1 165.9,407.6 163,407.5 159.9,408.9Z" fill="#85ff3d" stroke="#85ff3d"/><path d="M168.9,407.7 172,406.3 169,406.2 165.9,407.6Z" fill="#90ff3b" stroke="#90ff3b"/><path d="M175,406.5 178,405.1 175,404.9 172,406.3Z" fill="#9aff39" stroke="#9aff39"/><path d="M181,405.3 184.1,404 181,403.8 178,405.1Z" fill="#a4ff37" stroke="#a4ff37"/><path d="M187.1,404.2 190.1,402.9 187.1,402.7 184.1,404Z" fill="#adff35" stroke="#adff35"/><path d="M193.2,403.2 196.2,402 193.1,401.7 190.1,402.9Z" fill="#b6ff34" stroke="#b6ff34"/><path d="M199.3,402.2 202.2,401 199.2,400.8 196.2,402Z" fill="#beff32" stroke="#beff32"/><path d="M205.3,401.3 208.3,400.2 205.2,399.9 202.2,401Z" fill="#c6ff31" stroke="#c6ff31"/><path d="M153.7,412.1 156.8,410.5 153.9,410.4 150.8,412Z" fill="#76ff42" stroke="#76ff42"/><path d="M159.8,410.6 162.9,409.1 159.9,408.9 156.8,410.5Z" fill="#81ff3f" stroke="#81ff3f"/><path d="M165.8,409.2 168.9,407.7 165.9,407.6 162.9,409.1Z" fill="#8cff3d" stroke="#8cff3d"/><path d="M171.9,407.9 175,406.5 172,406.3 168.9,407.7Z" fill="#97ff3b" stroke="#97ff3b"/><path d="M178,406.7 181,405.3 178,405.1 175,406.5Z" fill="#a1ff39" stroke="#a1ff39"/><path d="M184.1,405.5 187.1,404.2 184.1,404 181,405.3Z" fill="#aaff37" stroke="#aaff37"/><path d="M190.2,404.4 193.2,403.2 190.1,402.9 187.1,404.2Z" fill="#b3ff36" stroke="#b3ff36"/><path d="M196.3,403.4 199.3,402.2 196.2,402 193.2,403.2Z" fill="#bcff34" stroke="#bcff34"/><path d="M202.4,402.5 205.3,401.3 202.2,401 199.3,402.2Z" fill="#c4ff32" stroke="#c4ff32"/><path d="M208.5,401.6 211.4,400.5 208.3,400.2 205.3,401.3Z" fill="#ccff31" stroke="#ccff31"/><path d="M150.6,413.8 153.7,412.1 150.8,412 147.7,413.7Z" fill="#71ff44" stroke="#71ff44"/><path d="M156.7,412.3 159.8,410.6 156.8,410.5 153.7,412.1Z" fill="#7dff42" stroke="#7dff42"/><path d="M162.8,410.8 165.8,409.2 162.9,409.1 159.8,410.6Z" fill="#88ff3f" stroke="#88ff3f"/><path d="M168.8,409.4 171.9,407.9 168.9,407.7 165.8,409.2Z" fill="#93ff3d" stroke="#93ff3d"/><path d="M174.9,408.1 178,406.7 175,406.5 171.9,407.9Z" fill="#9dff3b" stroke="#9dff3b"/><path d="M181,406.9 184.1,405.5 181,405.3 178,406.7Z" fill="#a7ff39" stroke="#a7ff39"/><path d="M187.1,405.8 190.2,404.4 187.1,404.2 184.1,405.5Z" fill="#b0ff38" stroke="#b0ff38"/><path d="M193.3,404.7 196.3,403.4 193.2,403.2 190.2,404.4Z" fill="#b9ff36" stroke="#b9ff36"/><path d="M199.4,403.7 202.4,402.5 199.3,402.2 196.3,403.4Z" fill="#c2ff34" stroke="#c2ff34"/><path d="M205.5,402.8 208.5,401.6 205.3,401.3 202.4,402.5Z" fill="#caff33" stroke="#caff33"/><path d="M211.6,401.9 214.6,400.8 211.4,400.5 208.5,401.6Z" fill="#d1ff31" stroke="#d1ff31"/><path d="M147.5,415.6 150.6,413.8 147.7,413.7 144.5,415.5Z" fill="#6cff46" stroke="#6cff46"/><path d="M153.6,414 156.7,412.3 153.7,412.1 150.6,413.8Z" fill="#78ff44" stroke="#78ff44"/><path d="M159.7,412.4 162.8,410.8 159.8,410.6 156.7,412.3Z" fill="#83ff42" stroke="#83ff42"/><path d="M165.8,411 168.8,409.4 165.8,409.2 162.8,410.8Z" fill="#8eff40" stroke="#8eff40"/><path d="M171.9,409.6 174.9,408.1 171.9,407.9 168.8,409.4Z" fill="#99ff3d" stroke="#99ff3d"/><path d="M178,408.3 181,406.9 178,406.7 174.9,408.1Z" fill="#a3ff3b" stroke="#a3ff3b"/><path d="M184.1,407.2 187.1,405.8 184.1,405.5 181,406.9Z" fill="#adff3a" stroke="#adff3a"/><path d="M190.2,406 193.3,404.7 190.2,404.4 187.1,405.8Z" fill="#b6ff38" stroke="#b6ff38"/><path d="M196.4,405 199.4,403.7 196.3,403.4 193.3,404.7Z" fill="#bfff36" stroke="#bfff36"/><path d="M202.5,404 205.5,402.8 202.4,402.5 199.4,403.7Z" fill="#c7ff35" stroke="#c7ff35"/><path d="M208.6,403.1 211.6,401.9 208.5,401.6 205.5,402.8Z" fill="#cfff33" stroke="#cfff33"/><path d="M214.8,402.3 217.7,401.2 214.6,400.8 211.6,401.9Z" fill="#d6ff32" stroke="#d6ff32"/><path d="M144.3,417.5 147.5,415.6 144.5,415.5 141.4,417.4Z" fill="#66ff49" stroke="#66ff49"/><path d="M150.4,415.8 153.6,414 150.6,413.8 147.5,415.6Z" fill="#72ff46" stroke="#72ff46"/><path d="M156.5,414.2 159.7,412.4 156.7,412.3 153.6,414Z" fill="#7eff44" stroke="#7eff44"/><path d="M162.7,412.6 165.8,411 162.8,410.8 159.7,412.4Z" fill="#8aff42" stroke="#8aff42"/><path d="M168.8,411.2 171.9,409.6 168.8,409.4 165.8,411Z" fill="#95ff40" stroke="#95ff40"/><path d="M174.9,409.9 178,408.3 174.9,408.1 171.9,409.6Z" fill="#9fff3e" stroke="#9fff3e"/><path d="M181,408.6 184.1,407.2 181,406.9 178,408.3Z" fill="#a9ff3c" stroke="#a9ff3c"/><path d="M187.2,407.4 190.2,406 187.1,405.8 184.1,407.2Z" fill="#b3ff3a" stroke="#b3ff3a"/><path d="M193.3,406.4 196.4,405 193.3,404.7 190.2,406Z" fill="#bcff38" stroke="#bcff38"/><path d="M199.5,405.3 202.5,404 199.4,403.7 196.4,405Z" fill="#c4ff36" stroke="#c4ff36"/><path d="M205.6,404.4 208.6,403.1 205.5,402.8 202.5,404Z" fill="#ccff35" stroke="#ccff35"/><path d="M211.8,403.5 214.8,402.3 211.6,401.9 208.6,403.1Z" fill="#d4ff33" stroke="#d4ff33"/><path d="M217.9,402.7 220.9,401.5 217.7,401.2 214.8,402.3Z" fill="#dbff32" stroke="#dbff32"/><path d="M141.2,419.5 144.3,417.5 141.4,417.4 138.2,419.3Z" fill="#60ff4b" stroke="#60ff4b"/><path d="M147.3,417.7 150.4,415.8 147.5,415.6 144.3,417.5Z" fill="#6dff49" stroke="#6dff49"/><path d="M153.4,416 156.5,414.2 153.6,414 150.4,415.8Z" fill="#79ff46" stroke="#79ff46"/><path d="M159.5,414.4 162.7,412.6 159.7,412.4 156.5,414.2Z" fill="#84ff44" stroke="#84ff44"/><path d="M165.7,412.9 168.8,411.2 165.8,411 162.7,412.6Z" fill="#90ff42" stroke="#90ff42"/><path d="M171.8,411.5 174.9,409.9 171.9,409.6 168.8,411.2Z" fill="#9bff40" stroke="#9bff40"/><path d="M178,410.2 181,408.6 178,408.3 174.9,409.9Z" fill="#a5ff3e" stroke="#a5ff3e"/><path d="M184.1,408.9 187.2,407.4 184.1,407.2 181,408.6Z" fill="#afff3c" stroke="#afff3c"/><path d="M190.3,407.8 193.3,406.4 190.2,406 187.2,407.4Z" fill="#b8ff3a" stroke="#b8ff3a"/><path d="M196.4,406.7 199.5,405.3 196.4,405 193.3,406.4Z" fill="#c1ff38" stroke="#c1ff38"/><path d="M202.6,405.7 205.6,404.4 202.5,404 199.5,405.3Z" fill="#c9ff37" stroke="#c9ff37"/><path d="M208.8,404.8 211.8,403.5 208.6,403.1 205.6,404.4Z" fill="#d1ff35" stroke="#d1ff35"/><path d="M215,403.9 217.9,402.7 214.8,402.3 211.8,403.5Z" fill="#d8ff34" stroke="#d8ff34"/><path d="M221.1,403.2 224.1,402 220.9,401.5 217.9,402.7Z" fill="#dfff32" stroke="#dfff32"/><path d="M138,421.5 141.2,419.5 138.2,419.3 135.1,421.4Z" fill="#5aff4e" stroke="#5aff4e"/><path d="M144.1,419.6 147.3,417.7 144.3,417.5 141.2,419.5Z" fill="#67ff4b" stroke="#67ff4b"/><path d="M150.2,417.9 153.4,416 150.4,415.8 147.3,417.7Z" fill="#73ff49" stroke="#73ff49"/><path d="M156.4,416.2 159.5,414.4 156.5,414.2 153.4,416Z" fill="#7fff47" stroke="#7fff47"/><path d="M162.5,414.6 165.7,412.9 162.7,412.6 159.5,414.4Z" fill="#8aff44" stroke="#8aff44"/><path d="M168.7,413.2 171.8,411.5 168.8,411.2 165.7,412.9Z" fill="#96ff42" stroke="#96ff42"/><path d="M174.9,411.8 178,410.2 174.9,409.9 171.8,411.5Z" fill="#a0ff40" stroke="#a0ff40"/><path d="M181,410.5 184.1,408.9 181,408.6 178,410.2Z" fill="#aaff3e" stroke="#aaff3e"/><path d="M187.2,409.3 190.3,407.8 187.2,407.4 184.1,408.9Z" fill="#b4ff3c" stroke="#b4ff3c"/><path d="M193.4,408.1 196.4,406.7 193.3,406.4 190.3,407.8Z" fill="#bdff3a" stroke="#bdff3a"/><path d="M199.6,407.1 202.6,405.7 199.5,405.3 196.4,406.7Z" fill="#c6ff39" stroke="#c6ff39"/><path d="M205.8,406.1 208.8,404.8 205.6,404.4 202.6,405.7Z" fill="#ceff37" stroke="#ceff37"/><path d="M212,405.2 215,403.9 211.8,403.5 208.8,404.8Z" fill="#d6ff36" stroke="#d6ff36"/><path d="M218.2,404.4 221.1,403.2 217.9,402.7 215,403.9Z" fill="#ddff34" stroke="#ddff34"/><path d="M224.4,403.6 227.3,402.4 224.1,402 221.1,403.2Z" fill="#e3ff33" stroke="#e3ff33"/><path d="M134.8,423.6 138,421.5 135.1,421.4 131.9,423.5Z" fill="#53ff50" stroke="#53ff50"/><path d="M140.9,421.7 144.1,419.6 141.2,419.5 138,421.5Z" fill="#60ff4e" stroke="#60ff4e"/><path d="M147.1,419.8 150.2,417.9 147.3,417.7 144.1,419.6Z" fill="#6dff4b" stroke="#6dff4b"/><path d="M153.2,418.1 156.4,416.2 153.4,416 150.2,417.9Z" fill="#79ff49" stroke="#79ff49"/><path d="M159.4,416.5 162.5,414.6 159.5,414.4 156.4,416.2Z" fill="#85ff47" stroke="#85ff47"/><path d="M165.6,414.9 168.7,413.2 165.7,412.9 162.5,414.6Z" fill="#90ff44" stroke="#90ff44"/><path d="M171.8,413.5 174.9,411.8 171.8,411.5 168.7,413.2Z" fill="#9bff42" stroke="#9bff42"/><path d="M177.9,412.1 181,410.5 178,410.2 174.9,411.8Z" fill="#a5ff40" stroke="#a5ff40"/><path d="M184.1,410.8 187.2,409.3 184.1,408.9 181,410.5Z" fill="#afff3e" stroke="#afff3e"/><path d="M190.3,409.7 193.4,408.1 190.3,407.8 187.2,409.3Z" fill="#b9ff3c" stroke="#b9ff3c"/><path d="M196.5,408.6 199.6,407.1 196.4,406.7 193.4,408.1Z" fill="#c2ff3b" stroke="#c2ff3b"/><path d="M202.7,407.5 205.8,406.1 202.6,405.7 199.6,407.1Z" fill="#caff39" stroke="#caff39"/><path d="M209,406.6 212,405.2 208.8,404.8 205.8,406.1Z" fill="#d2ff37" stroke="#d2ff37"/><path d="M215.2,405.7 218.2,404.4 215,403.9 212,405.2Z" fill="#daff36" stroke="#daff36"/><path d="M221.4,404.9 224.4,403.6 221.1,403.2 218.2,404.4Z" fill="#e1ff34" stroke="#e1ff34"/><path d="M227.6,404.1 230.6,402.9 227.3,402.4 224.4,403.6Z" fill="#e7ff33" stroke="#e7ff33"/><path d="M131.6,425.8 134.8,423.6 131.9,423.5 128.7,425.7Z" fill="#52ff59" stroke="#52ff59"/><path d="M137.7,423.8 140.9,421.7 138,421.5 134.8,423.6Z" fill="#59ff50" stroke="#59ff50"/><path d="M143.9,421.9 147.1,419.8 144.1,419.6 140.9,421.7Z" fill="#66ff4e" stroke="#66ff4e"/><path d="M150.1,420.1 153.2,418.1 150.2,417.9 147.1,419.8Z" fill="#73ff4b" stroke="#73ff4b"/><path d="M156.3,418.4 159.4,416.5 156.4,416.2 153.2,418.1Z" fill="#7fff49" stroke="#7fff49"/><path d="M162.4,416.8 165.6,414.9 162.5,414.6 159.4,416.5Z" fill="#8aff47" stroke="#8aff47"/><path d="M168.6,415.2 171.8,413.5 168.7,413.2 165.6,414.9Z" fill="#95ff45" stroke="#95ff45"/><path d="M174.8,413.8 177.9,412.1 174.9,411.8 171.8,413.5Z" fill="#a0ff43" stroke="#a0ff43"/><path d="M181,412.5 184.1,410.8 181,410.5 177.9,412.1Z" fill="#aaff41" stroke="#aaff41"/><path d="M187.3,411.2 190.3,409.7 187.2,409.3 184.1,410.8Z" fill="#b4ff3f" stroke="#b4ff3f"/><path d="M193.5,410.1 196.5,408.6 193.4,408.1 190.3,409.7Z" fill="#bdff3d" stroke="#bdff3d"/><path d="M199.7,409 202.7,407.5 199.6,407.1 196.5,408.6Z" fill="#c6ff3b" stroke="#c6ff3b"/><path d="M205.9,408 209,406.6 205.8,406.1 202.7,407.5Z" fill="#ceff39" stroke="#ceff39"/><path d="M212.1,407.1 215.2,405.7 212,405.2 209,406.6Z" fill="#d6ff38" stroke="#d6ff38"/><path d="M218.4,406.2 221.4,404.9 218.2,404.4 215.2,405.7Z" fill="#deff36" stroke="#deff36"/><path d="M224.6,405.4 227.6,404.1 224.4,403.6 221.4,404.9Z" fill="#e4ff35" stroke="#e4ff35"/><path d="M230.9,404.7 233.8,403.5 230.6,402.9 227.6,404.1Z" fill="#ebff33" stroke="#ebff33"/><path d="M128.4,428.1 131.6,425.8 128.7,425.7 125.5,428Z" fill="#55ff65" stroke="#55ff65"/><path d="M134.5,426 137.7,423.8 134.8,423.6 131.6,425.8Z" fill="#52ff53" stroke="#52ff53"/><path d="M140.7,424 143.9,421.9 140.9,421.7 137.7,423.8Z" fill="#5fff50" stroke="#5fff50"/><path d="M146.9,422.1 150.1,420.1 147.1,419.8 143.9,421.9Z" fill="#6cff4e" stroke="#6cff4e"/><path d="M153.1,420.4 156.3,418.4 153.2,418.1 150.1,420.1Z" fill="#78ff4b" stroke="#78ff4b"/><path d="M159.3,418.7 162.4,416.8 159.4,416.5 156.3,418.4Z" fill="#84ff49" stroke="#84ff49"/><path d="M165.5,417.1 168.6,415.2 165.6,414.9 162.4,416.8Z" fill="#90ff47" stroke="#90ff47"/><path d="M171.7,415.6 174.8,413.8 171.8,413.5 168.6,415.2Z" fill="#9bff45" stroke="#9bff45"/><path d="M177.9,414.2 181,412.5 177.9,412.1 174.8,413.8Z" fill="#a5ff43" stroke="#a5ff43"/><path d="M184.2,412.9 187.3,411.2 184.1,410.8 181,412.5Z" fill="#afff41" stroke="#afff41"/><path d="M190.4,411.7 193.5,410.1 190.3,409.7 187.3,411.2Z" fill="#b9ff3f" stroke="#b9ff3f"/><path d="M196.6,410.5 199.7,409 196.5,408.6 193.5,410.1Z" fill="#c2ff3d" stroke="#c2ff3d"/><path d="M202.9,409.5 205.9,408 202.7,407.5 199.7,409Z" fill="#caff3b" stroke="#caff3b"/><path d="M209.1,408.5 212.1,407.1 209,406.6 205.9,408Z" fill="#d2ff3a" stroke="#d2ff3a"/><path d="M215.4,407.6 218.4,406.2 215.2,405.7 212.1,407.1Z" fill="#daff38" stroke="#daff38"/><path d="M221.6,406.8 224.6,405.4 221.4,404.9 218.4,406.2Z" fill="#e1ff37" stroke="#e1ff37"/><path d="M227.9,406 230.9,404.7 227.6,404.1 224.6,405.4Z" fill="#e8ff35" stroke="#e8ff35"/><path d="M234.1,405.3 237.1,404 233.8,403.5 230.9,404.7Z" fill="#eeff34" stroke="#eeff34"/><path d="M125.1,430.5 128.4,428.1 125.5,428 122.2,430.3Z" fill="#57ff72" stroke="#57ff72"/><path d="M131.3,428.3 134.5,426 131.6,425.8 128.4,428.1Z" fill="#55ff5f" stroke="#55ff5f"/><path d="M137.5,426.2 140.7,424 137.7,423.8 134.5,426Z" fill="#58ff52" stroke="#58ff52"/><path d="M143.7,424.3 146.9,422.1 143.9,421.9 140.7,424Z" fill="#65ff50" stroke="#65ff50"/><path d="M149.9,422.4 153.1,420.4 150.1,420.1 146.9,422.1Z" fill="#71ff4e" stroke="#71ff4e"/><path d="M156.1,420.7 159.3,418.7 156.3,418.4 153.1,420.4Z" fill="#7eff4b" stroke="#7eff4b"/><path d="M162.3,419 165.5,417.1 162.4,416.8 159.3,418.7Z" fill="#89ff49" stroke="#89ff49"/><path d="M168.6,417.5 171.7,415.6 168.6,415.2 165.5,417.1Z" fill="#95ff47" stroke="#95ff47"/><path d="M174.8,416 177.9,414.2 174.8,413.8 171.7,415.6Z" fill="#9fff45" stroke="#9fff45"/><path d="M181,414.6 184.2,412.9 181,412.5 177.9,414.2Z" fill="#aaff43" stroke="#aaff43"/><path d="M187.3,413.3 190.4,411.7 187.3,411.2 184.2,412.9Z" fill="#b4ff41" stroke="#b4ff41"/><path d="M193.5,412.2 196.6,410.5 193.5,410.1 190.4,411.7Z" fill="#bdff3f" stroke="#bdff3f"/><path d="M199.8,411 202.9,409.5 199.7,409 196.6,410.5Z" fill="#c6ff3d" stroke="#c6ff3d"/><path d="M206.1,410 209.1,408.5 205.9,408 202.9,409.5Z" fill="#ceff3c" stroke="#ceff3c"/><path d="M212.3,409 215.4,407.6 212.1,407.1 209.1,408.5Z" fill="#d6ff3a" stroke="#d6ff3a"/><path d="M218.6,408.2 221.6,406.8 218.4,406.2 215.4,407.6Z" fill="#ddff38" stroke="#ddff38"/><path d="M224.9,407.3 227.9,406 224.6,405.4 221.6,406.8Z" fill="#e4ff37" stroke="#e4ff37"/><path d="M231.1,406.6 234.1,405.3 230.9,404.7 227.9,406Z" fill="#ebff36" stroke="#ebff36"/><path d="M237.4,405.9 240.4,404.7 237.1,404 234.1,405.3Z" fill="#f0ff34" stroke="#f0ff34"/><path d="M121.9,432.9 125.1,430.5 122.2,430.3 119,432.8Z" fill="#59ff7e" stroke="#59ff7e"/><path d="M128.1,430.7 131.3,428.3 128.4,428.1 125.1,430.5Z" fill="#57ff6c" stroke="#57ff6c"/><path d="M134.3,428.5 137.5,426.2 134.5,426 131.3,428.3Z" fill="#55ff59" stroke="#55ff59"/><path d="M140.5,426.5 143.7,424.3 140.7,424 137.5,426.2Z" fill="#5dff52" stroke="#5dff52"/><path d="M146.7,424.6 149.9,422.4 146.9,422.1 143.7,424.3Z" fill="#6aff50" stroke="#6aff50"/><path d="M152.9,422.8 156.1,420.7 153.1,420.4 149.9,422.4Z" fill="#77ff4e" stroke="#77ff4e"/><path d="M159.2,421 162.3,419 159.3,418.7 156.1,420.7Z" fill="#83ff4c" stroke="#83ff4c"/><path d="M165.4,419.4 168.6,417.5 165.5,417.1 162.3,419Z" fill="#8eff49" stroke="#8eff49"/><path d="M171.7,417.9 174.8,416 171.7,415.6 168.6,417.5Z" fill="#99ff47" stroke="#99ff47"/><path d="M177.9,416.4 181,414.6 177.9,414.2 174.8,416Z" fill="#a4ff45" stroke="#a4ff45"/><path d="M184.2,415.1 187.3,413.3 184.2,412.9 181,414.6Z" fill="#aeff43" stroke="#aeff43"/><path d="M190.4,413.8 193.5,412.2 190.4,411.7 187.3,413.3Z" fill="#b8ff41" stroke="#b8ff41"/><path d="M196.7,412.7 199.8,411 196.6,410.5 193.5,412.2Z" fill="#c1ff40" stroke="#c1ff40"/><path d="M203,411.6 206.1,410 202.9,409.5 199.8,411Z" fill="#c9ff3e" stroke="#c9ff3e"/><path d="M209.3,410.6 212.3,409 209.1,408.5 206.1,410Z" fill="#d2ff3c" stroke="#d2ff3c"/><path d="M215.6,409.6 218.6,408.2 215.4,407.6 212.3,409Z" fill="#d9ff3a" stroke="#d9ff3a"/><path d="M221.9,408.8 224.9,407.3 221.6,406.8 218.6,408.2Z" fill="#e0ff39" stroke="#e0ff39"/><path d="M228.1,408 231.1,406.6 227.9,406 224.9,407.3Z" fill="#e7ff37" stroke="#e7ff37"/><path d="M234.4,407.2 237.4,405.9 234.1,405.3 231.1,406.6Z" fill="#edff36" stroke="#edff36"/><path d="M240.7,406.6 243.7,405.3 240.4,404.7 237.4,405.9Z" fill="#f3ff35" stroke="#f3ff35"/><path d="M118.6,435.4 121.9,432.9 119,432.8 115.7,435.3Z" fill="#5bff8b" stroke="#5bff8b"/><path d="M124.8,433.1 128.1,430.7 125.1,430.5 121.9,432.9Z" fill="#59ff78" stroke="#59ff78"/><path d="M131,430.9 134.3,428.5 131.3,428.3 128.1,430.7Z" fill="#57ff66" stroke="#57ff66"/><path d="M137.3,428.8 140.5,426.5 137.5,426.2 134.3,428.5Z" fill="#56ff55" stroke="#56ff55"/><path d="M143.5,426.8 146.7,424.6 143.7,424.3 140.5,426.5Z" fill="#63ff52" stroke="#63ff52"/><path d="M149.7,424.9 152.9,422.8 149.9,422.4 146.7,424.6Z" fill="#6fff50" stroke="#6fff50"/><path d="M156,423.1 159.2,421 156.1,420.7 152.9,422.8Z" fill="#7cff4e" stroke="#7cff4e"/><path d="M162.2,421.4 165.4,419.4 162.3,419 159.2,421Z" fill="#87ff4c" stroke="#87ff4c"/><path d="M168.5,419.8 171.7,417.9 168.6,417.5 165.4,419.4Z" fill="#93ff4a" stroke="#93ff4a"/><path d="M174.8,418.3 177.9,416.4 174.8,416 171.7,417.9Z" fill="#9eff48" stroke="#9eff48"/><path d="M181,416.9 184.2,415.1 181,414.6 177.9,416.4Z" fill="#a8ff46" stroke="#a8ff46"/><path d="M187.3,415.6 190.4,413.8 187.3,413.3 184.2,415.1Z" fill="#b2ff44" stroke="#b2ff44"/><path d="M193.6,414.4 196.7,412.7 193.5,412.2 190.4,413.8Z" fill="#bbff42" stroke="#bbff42"/><path d="M199.9,413.2 203,411.6 199.8,411 196.7,412.7Z" fill="#c4ff40" stroke="#c4ff40"/><path d="M206.2,412.2 209.3,410.6 206.1,410 203,411.6Z" fill="#cdff3e" stroke="#cdff3e"/><path d="M212.5,411.2 215.6,409.6 212.3,409 209.3,410.6Z" fill="#d5ff3c" stroke="#d5ff3c"/><path d="M218.8,410.3 221.9,408.8 218.6,408.2 215.6,409.6Z" fill="#dcff3b" stroke="#dcff3b"/><path d="M225.1,409.4 228.1,408 224.9,407.3 221.9,408.8Z" fill="#e3ff39" stroke="#e3ff39"/><path d="M231.4,408.6 234.4,407.2 231.1,406.6 228.1,408Z" fill="#eaff38" stroke="#eaff38"/><path d="M237.8,407.9 240.7,406.6 237.4,405.9 234.4,407.2Z" fill="#f0ff36" stroke="#f0ff36"/><path d="M244.1,407.3 247,406 243.7,405.3 240.7,406.6Z" fill="#f5ff35" stroke="#f5ff35"/><path d="M115.4,438 118.6,435.4 115.7,435.3 112.5,437.9Z" fill="#5eff98" stroke="#5eff98"/><path d="M121.6,435.6 124.8,433.1 121.9,432.9 118.6,435.4Z" fill="#5bff85" stroke="#5bff85"/><path d="M127.8,433.4 131,430.9 128.1,430.7 124.8,433.1Z" fill="#59ff72" stroke="#59ff72"/><path d="M134,431.2 137.3,428.8 134.3,428.5 131,430.9Z" fill="#57ff60" stroke="#57ff60"/><path d="M140.3,429.1 143.5,426.8 140.5,426.5 137.3,428.8Z" fill="#5bff55" stroke="#5bff55"/><path d="M146.5,427.2 149.7,424.9 146.7,424.6 143.5,426.8Z" fill="#68ff52" stroke="#68ff52"/><path d="M152.8,425.3 156,423.1 152.9,422.8 149.7,424.9Z" fill="#74ff50" stroke="#74ff50"/><path d="M159,423.5 162.2,421.4 159.2,421 156,423.1Z" fill="#80ff4e" stroke="#80ff4e"/><path d="M165.3,421.9 168.5,419.8 165.4,419.4 162.2,421.4Z" fill="#8cff4c" stroke="#8cff4c"/><path d="M171.6,420.3 174.8,418.3 171.7,417.9 168.5,419.8Z" fill="#97ff4a" stroke="#97ff4a"/><path d="M177.9,418.8 181,416.9 177.9,416.4 174.8,418.3Z" fill="#a2ff48" stroke="#a2ff48"/><path d="M184.2,417.4 187.3,415.6 184.2,415.1 181,416.9Z" fill="#acff46" stroke="#acff46"/><path d="M190.5,416.2 193.6,414.4 190.4,413.8 187.3,415.6Z" fill="#b6ff44" stroke="#b6ff44"/><path d="M196.8,414.9 199.9,413.2 196.7,412.7 193.6,414.4Z" fill="#bfff42" stroke="#bfff42"/><path d="M203.1,413.8 206.2,412.2 203,411.6 199.9,413.2Z" fill="#c8ff40" stroke="#c8ff40"/><path d="M209.4,412.8 212.5,411.2 209.3,410.6 206.2,412.2Z" fill="#d0ff3e" stroke="#d0ff3e"/><path d="M215.8,411.8 218.8,410.3 215.6,409.6 212.5,411.2Z" fill="#d8ff3d" stroke="#d8ff3d"/><path d="M222.1,410.9 225.1,409.4 221.9,408.8 218.8,410.3Z" fill="#dfff3b" stroke="#dfff3b"/><path d="M228.4,410.1 231.4,408.6 228.1,408 225.1,409.4Z" fill="#e6ff3a" stroke="#e6ff3a"/><path d="M234.8,409.3 237.8,407.9 234.4,407.2 231.4,408.6Z" fill="#ecff38" stroke="#ecff38"/><path d="M241.1,408.7 244.1,407.3 240.7,406.6 237.8,407.9Z" fill="#f2ff37" stroke="#f2ff37"/><path d="M247.4,408 250.4,406.7 247,406 244.1,407.3Z" fill="#f7ff35" stroke="#f7ff35"/><path d="M112.1,440.7 115.4,438 112.5,437.9 109.2,440.5Z" fill="#5fffa5" stroke="#5fffa5"/><path d="M118.3,438.2 121.6,435.6 118.6,435.4 115.4,438Z" fill="#5dff92" stroke="#5dff92"/><path d="M124.5,435.9 127.8,433.4 124.8,433.1 121.6,435.6Z" fill="#5bff7f" stroke="#5bff7f"/><path d="M130.8,433.7 134,431.2 131,430.9 127.8,433.4Z" fill="#59ff6d" stroke="#59ff6d"/><path d="M137,431.5 140.3,429.1 137.3,428.8 134,431.2Z" fill="#57ff5b" stroke="#57ff5b"/><path d="M143.3,429.5 146.5,427.2 143.5,426.8 140.3,429.1Z" fill="#60ff55" stroke="#60ff55"/><path d="M149.5,427.6 152.8,425.3 149.7,424.9 146.5,427.2Z" fill="#6dff53" stroke="#6dff53"/><path d="M155.8,425.7 159,423.5 156,423.1 152.8,425.3Z" fill="#79ff50" stroke="#79ff50"/><path d="M162.1,424 165.3,421.9 162.2,421.4 159,423.5Z" fill="#85ff4e" stroke="#85ff4e"/><path d="M168.4,422.4 171.6,420.3 168.5,419.8 165.3,421.9Z" fill="#90ff4c" stroke="#90ff4c"/><path d="M174.7,420.8 177.9,418.8 174.8,418.3 171.6,420.3Z" fill="#9bff4a" stroke="#9bff4a"/><path d="M181,419.4 184.2,417.4 181,416.9 177.9,418.8Z" fill="#a5ff48" stroke="#a5ff48"/><path d="M187.4,418 190.5,416.2 187.3,415.6 184.2,417.4Z" fill="#afff46" stroke="#afff46"/><path d="M193.7,416.7 196.8,414.9 193.6,414.4 190.5,416.2Z" fill="#b9ff44" stroke="#b9ff44"/><path d="M200,415.6 203.1,413.8 199.9,413.2 196.8,414.9Z" fill="#c2ff42" stroke="#c2ff42"/><path d="M206.4,414.5 209.4,412.8 206.2,412.2 203.1,413.8Z" fill="#caff41" stroke="#caff41"/><path d="M212.7,413.4 215.8,411.8 212.5,411.2 209.4,412.8Z" fill="#d3ff3f" stroke="#d3ff3f"/><path d="M219,412.5 222.1,410.9 218.8,410.3 215.8,411.8Z" fill="#daff3d" stroke="#daff3d"/><path d="M225.4,411.6 228.4,410.1 225.1,409.4 222.1,410.9Z" fill="#e1ff3c" stroke="#e1ff3c"/><path d="M231.7,410.8 234.8,409.3 231.4,408.6 228.4,410.1Z" fill="#e8ff3a" stroke="#e8ff3a"/><path d="M238.1,410.1 241.1,408.7 237.8,407.9 234.8,409.3Z" fill="#eeff39" stroke="#eeff39"/><path d="M244.4,409.4 247.4,408 244.1,407.3 241.1,408.7Z" fill="#f3ff37" stroke="#f3ff37"/><path d="M250.8,408.8 253.8,407.5 250.4,406.7 247.4,408Z" fill="#f8ff36" stroke="#f8ff36"/><path d="M108.8,443.4 112.1,440.7 109.2,440.5 105.9,443.2Z" fill="#61ffb1" stroke="#61ffb1"/><path d="M115,440.9 118.3,438.2 115.4,438 112.1,440.7Z" fill="#5fff9f" stroke="#5fff9f"/><path d="M121.2,438.5 124.5,435.9 121.6,435.6 118.3,438.2Z" fill="#5dff8c" stroke="#5dff8c"/><path d="M127.5,436.2 130.8,433.7 127.8,433.4 124.5,435.9Z" fill="#5bff7a" stroke="#5bff7a"/><path d="M133.7,434 137,431.5 134,431.2 130.8,433.7Z" fill="#59ff68" stroke="#59ff68"/><path d="M140,431.9 143.3,429.5 140.3,429.1 137,431.5Z" fill="#58ff57" stroke="#58ff57"/><path d="M146.3,429.9 149.5,427.6 146.5,427.2 143.3,429.5Z" fill="#65ff55" stroke="#65ff55"/><path d="M152.6,428 155.8,425.7 152.8,425.3 149.5,427.6Z" fill="#71ff53" stroke="#71ff53"/><path d="M158.9,426.2 162.1,424 159,423.5 155.8,425.7Z" fill="#7dff51" stroke="#7dff51"/><path d="M165.2,424.5 168.4,422.4 165.3,421.9 162.1,424Z" fill="#89ff4e" stroke="#89ff4e"/><path d="M171.5,422.9 174.7,420.8 171.6,420.3 168.4,422.4Z" fill="#94ff4c" stroke="#94ff4c"/><path d="M177.9,421.4 181,419.4 177.9,418.8 174.7,420.8Z" fill="#9fff4a" stroke="#9fff4a"/><path d="M184.2,419.9 187.4,418 184.2,417.4 181,419.4Z" fill="#a9ff48" stroke="#a9ff48"/><path d="M190.6,418.6 193.7,416.7 190.5,416.2 187.4,418Z" fill="#b3ff46" stroke="#b3ff46"/><path d="M196.9,417.4 200,415.6 196.8,414.9 193.7,416.7Z" fill="#bcff45" stroke="#bcff45"/><path d="M203.2,416.2 206.4,414.5 203.1,413.8 200,415.6Z" fill="#c5ff43" stroke="#c5ff43"/><path d="M209.6,415.1 212.7,413.4 209.4,412.8 206.4,414.5Z" fill="#cdff41" stroke="#cdff41"/><path d="M216,414.1 219,412.5 215.8,411.8 212.7,413.4Z" fill="#d5ff3f" stroke="#d5ff3f"/><path d="M222.3,413.2 225.4,411.6 222.1,410.9 219,412.5Z" fill="#dcff3e" stroke="#dcff3e"/><path d="M228.7,412.4 231.7,410.8 228.4,410.1 225.4,411.6Z" fill="#e3ff3c" stroke="#e3ff3c"/><path d="M235.1,411.6 238.1,410.1 234.8,409.3 231.7,410.8Z" fill="#eaff3a" stroke="#eaff3a"/><path d="M241.4,410.9 244.4,409.4 241.1,408.7 238.1,410.1Z" fill="#efff39" stroke="#efff39"/><path d="M247.8,410.2 250.8,408.8 247.4,408 244.4,409.4Z" fill="#f5ff38" stroke="#f5ff38"/><path d="M254.2,409.6 257.1,408.3 253.8,407.5 250.8,408.8Z" fill="#faff36" stroke="#faff36"/><path d="M105.4,446.2 108.8,443.4 105.9,443.2 102.6,446Z" fill="#63ffbe" stroke="#63ffbe"/><path d="M111.7,443.7 115,440.9 112.1,440.7 108.8,443.4Z" fill="#61ffac" stroke="#61ffac"/><path d="M117.9,441.2 121.2,438.5 118.3,438.2 115,440.9Z" fill="#5fff99" stroke="#5fff99"/><path d="M124.2,438.8 127.5,436.2 124.5,435.9 121.2,438.5Z" fill="#5dff87" stroke="#5dff87"/><path d="M130.5,436.5 133.7,434 130.8,433.7 127.5,436.2Z" fill="#5bff75" stroke="#5bff75"/><path d="M136.8,434.4 140,431.9 137,431.5 133.7,434Z" fill="#59ff63" stroke="#59ff63"/><path d="M143.1,432.3 146.3,429.9 143.3,429.5 140,431.9Z" fill="#5cff57" stroke="#5cff57"/><path d="M149.4,430.3 152.6,428 149.5,427.6 146.3,429.9Z" fill="#69ff55" stroke="#69ff55"/><path d="M155.7,428.5 158.9,426.2 155.8,425.7 152.6,428Z" fill="#75ff53" stroke="#75ff53"/><path d="M162,426.7 165.2,424.5 162.1,424 158.9,426.2Z" fill="#81ff51" stroke="#81ff51"/><path d="M168.3,425 171.5,422.9 168.4,422.4 165.2,424.5Z" fill="#8cff4f" stroke="#8cff4f"/><path d="M174.7,423.4 177.9,421.4 174.7,420.8 171.5,422.9Z" fill="#97ff4d" stroke="#97ff4d"/><path d="M181,422 184.2,419.9 181,419.4 177.9,421.4Z" fill="#a2ff4b" stroke="#a2ff4b"/><path d="M187.4,420.6 190.6,418.6 187.4,418 184.2,419.9Z" fill="#acff49" stroke="#acff49"/><path d="M193.8,419.3 196.9,417.4 193.7,416.7 190.6,418.6Z" fill="#b5ff47" stroke="#b5ff47"/><path d="M200.1,418 203.2,416.2 200,415.6 196.9,417.4Z" fill="#bfff45" stroke="#bfff45"/><path d="M206.5,416.9 209.6,415.1 206.4,414.5 203.2,416.2Z" fill="#c7ff43" stroke="#c7ff43"/><path d="M212.9,415.9 216,414.1 212.7,413.4 209.6,415.1Z" fill="#cfff41" stroke="#cfff41"/><path d="M219.3,414.9 222.3,413.2 219,412.5 216,414.1Z" fill="#d7ff40" stroke="#d7ff40"/><path d="M225.6,414 228.7,412.4 225.4,411.6 222.3,413.2Z" fill="#deff3e" stroke="#deff3e"/><path d="M232,413.1 235.1,411.6 231.7,410.8 228.7,412.4Z" fill="#e5ff3c" stroke="#e5ff3c"/><path d="M238.4,412.4 241.4,410.9 238.1,410.1 235.1,411.6Z" fill="#ebff3b" stroke="#ebff3b"/><path d="M244.8,411.7 247.8,410.2 244.4,409.4 241.4,410.9Z" fill="#f1ff39" stroke="#f1ff39"/><path d="M251.2,411.1 254.2,409.6 250.8,408.8 247.8,410.2Z" fill="#f6ff38" stroke="#f6ff38"/><path d="M257.6,410.5 260.6,409.1 257.1,408.3 254.2,409.6Z" fill="#fbff36" stroke="#fbff36"/><path d="M102.1,449.1 105.4,446.2 102.6,446 99.2,448.9Z" fill="#65ffcb" stroke="#65ffcb"/><path d="M108.4,446.5 111.7,443.7 108.8,443.4 105.4,446.2Z" fill="#63ffb9" stroke="#63ffb9"/><path d="M114.6,443.9 117.9,441.2 115,440.9 111.7,443.7Z" fill="#61ffa6" stroke="#61ffa6"/><path d="M120.9,441.5 124.2,438.8 121.2,438.5 117.9,441.2Z" fill="#5fff94" stroke="#5fff94"/><path d="M127.2,439.2 130.5,436.5 127.5,436.2 124.2,438.8Z" fill="#5dff82" stroke="#5dff82"/><path d="M133.5,436.9 136.8,434.4 133.7,434 130.5,436.5Z" fill="#5bff70" stroke="#5bff70"/><path d="M139.8,434.8 143.1,432.3 140,431.9 136.8,434.4Z" fill="#59ff5f" stroke="#59ff5f"/><path d="M146.1,432.8 149.4,430.3 146.3,429.9 143.1,432.3Z" fill="#61ff57" stroke="#61ff57"/><path d="M152.4,430.8 155.7,428.5 152.6,428 149.4,430.3Z" fill="#6dff55" stroke="#6dff55"/><path d="M158.8,429 162,426.7 158.9,426.2 155.7,428.5Z" fill="#79ff53" stroke="#79ff53"/><path d="M165.1,427.2 168.3,425 165.2,424.5 162,426.7Z" fill="#85ff51" stroke="#85ff51"/><path d="M171.5,425.6 174.7,423.4 171.5,422.9 168.3,425Z" fill="#90ff4f" stroke="#90ff4f"/><path d="M177.9,424.1 181,422 177.9,421.4 174.7,423.4Z" fill="#9bff4d" stroke="#9bff4d"/><path d="M184.2,422.6 187.4,420.6 184.2,419.9 181,422Z" fill="#a5ff4b" stroke="#a5ff4b"/><path d="M190.6,421.2 193.8,419.3 190.6,418.6 187.4,420.6Z" fill="#afff49" stroke="#afff49"/><path d="M197,420 200.1,418 196.9,417.4 193.8,419.3Z" fill="#b8ff47" stroke="#b8ff47"/><path d="M203.4,418.8 206.5,416.9 203.2,416.2 200.1,418Z" fill="#c1ff45" stroke="#c1ff45"/><path d="M209.8,417.6 212.9,415.9 209.6,415.1 206.5,416.9Z" fill="#c9ff43" stroke="#c9ff43"/><path d="M216.2,416.6 219.3,414.9 216,414.1 212.9,415.9Z" fill="#d1ff42" stroke="#d1ff42"/><path d="M222.6,415.7 225.6,414 222.3,413.2 219.3,414.9Z" fill="#d9ff40" stroke="#d9ff40"/><path d="M229,414.8 232,413.1 228.7,412.4 225.6,414Z" fill="#e0ff3e" stroke="#e0ff3e"/><path d="M235.4,414 238.4,412.4 235.1,411.6 232,413.1Z" fill="#e6ff3d" stroke="#e6ff3d"/><path d="M241.8,413.2 244.8,411.7 241.4,410.9 238.4,412.4Z" fill="#ecff3b" stroke="#ecff3b"/><path d="M248.2,412.5 251.2,411.1 247.8,410.2 244.8,411.7Z" fill="#f2ff3a" stroke="#f2ff3a"/><path d="M254.6,411.9 257.6,410.5 254.2,409.6 251.2,411.1Z" fill="#f7ff38" stroke="#f7ff38"/><path d="M261,411.4 264,410 260.6,409.1 257.6,410.5Z" fill="#fbff37" stroke="#fbff37"/><path d="M98.8,452 102.1,449.1 99.2,448.9 95.9,451.8Z" fill="#66ffd8" stroke="#66ffd8"/><path d="M105,449.3 108.4,446.5 105.4,446.2 102.1,449.1Z" fill="#65ffc6" stroke="#65ffc6"/><path d="M111.3,446.7 114.6,443.9 111.7,443.7 108.4,446.5Z" fill="#63ffb3" stroke="#63ffb3"/><path d="M117.6,444.2 120.9,441.5 117.9,441.2 114.6,443.9Z" fill="#61ffa1" stroke="#61ffa1"/><path d="M123.9,441.8 127.2,439.2 124.2,438.8 120.9,441.5Z" fill="#5fff8f" stroke="#5fff8f"/><path d="M130.2,439.6 133.5,436.9 130.5,436.5 127.2,439.2Z" fill="#5dff7d" stroke="#5dff7d"/><path d="M136.5,437.4 139.8,434.8 136.8,434.4 133.5,436.9Z" fill="#5bff6c" stroke="#5bff6c"/><path d="M142.8,435.3 146.1,432.8 143.1,432.3 139.8,434.8Z" fill="#59ff5a" stroke="#59ff5a"/><path d="M149.2,433.3 152.4,430.8 149.4,430.3 146.1,432.8Z" fill="#65ff57" stroke="#65ff57"/><path d="M155.5,431.4 158.8,429 155.7,428.5 152.4,430.8Z" fill="#71ff55" stroke="#71ff55"/><path d="M161.9,429.5 165.1,427.2 162,426.7 158.8,429Z" fill="#7dff53" stroke="#7dff53"/><path d="M168.3,427.8 171.5,425.6 168.3,425 165.1,427.2Z" fill="#88ff51" stroke="#88ff51"/><path d="M174.7,426.2 177.9,424.1 174.7,423.4 171.5,425.6Z" fill="#93ff4f" stroke="#93ff4f"/><path d="M181,424.7 184.2,422.6 181,422 177.9,424.1Z" fill="#9eff4d" stroke="#9eff4d"/><path d="M187.4,423.3 190.6,421.2 187.4,420.6 184.2,422.6Z" fill="#a8ff4b" stroke="#a8ff4b"/><path d="M193.8,421.9 197,420 193.8,419.3 190.6,421.2Z" fill="#b1ff49" stroke="#b1ff49"/><path d="M200.2,420.7 203.4,418.8 200.1,418 197,420Z" fill="#baff47" stroke="#baff47"/><path d="M206.6,419.5 209.8,417.6 206.5,416.9 203.4,418.8Z" fill="#c3ff46" stroke="#c3ff46"/><path d="M213.1,418.4 216.2,416.6 212.9,415.9 209.8,417.6Z" fill="#cbff44" stroke="#cbff44"/><path d="M219.5,417.4 222.6,415.7 219.3,414.9 216.2,416.6Z" fill="#d3ff42" stroke="#d3ff42"/><path d="M225.9,416.5 229,414.8 225.6,414 222.6,415.7Z" fill="#daff40" stroke="#daff40"/><path d="M232.3,415.6 235.4,414 232,413.1 229,414.8Z" fill="#e1ff3f" stroke="#e1ff3f"/><path d="M238.7,414.8 241.8,413.2 238.4,412.4 235.4,414Z" fill="#e7ff3d" stroke="#e7ff3d"/><path d="M245.2,414.1 248.2,412.5 244.8,411.7 241.8,413.2Z" fill="#edff3c" stroke="#edff3c"/><path d="M251.6,413.4 254.6,411.9 251.2,411.1 248.2,412.5Z" fill="#f3ff3a" stroke="#f3ff3a"/><path d="M258,412.8 261,411.4 257.6,410.5 254.6,411.9Z" fill="#f7ff39" stroke="#f7ff39"/><path d="M264.5,412.3 267.4,410.9 264,410 261,411.4Z" fill="#fcff37" stroke="#fcff37"/><path d="M95.4,455 98.8,452 95.9,451.8 92.5,454.8Z" fill="#66ffe5" stroke="#66ffe5"/><path d="M101.7,452.2 105,449.3 102.1,449.1 98.8,452Z" fill="#66ffd3" stroke="#66ffd3"/><path d="M108,449.6 111.3,446.7 108.4,446.5 105,449.3Z" fill="#64ffc0" stroke="#64ffc0"/><path d="M114.2,447.1 117.6,444.2 114.6,443.9 111.3,446.7Z" fill="#63ffae" stroke="#63ffae"/><path d="M120.6,444.6 123.9,441.8 120.9,441.5 117.6,444.2Z" fill="#61ff9c" stroke="#61ff9c"/><path d="M126.9,442.3 130.2,439.6 127.2,439.2 123.9,441.8Z" fill="#5fff8a" stroke="#5fff8a"/><path d="M133.2,440 136.5,437.4 133.5,436.9 130.2,439.6Z" fill="#5dff79" stroke="#5dff79"/><path d="M139.6,437.8 142.8,435.3 139.8,434.8 136.5,437.4Z" fill="#5bff67" stroke="#5bff67"/><path d="M145.9,435.8 149.2,433.3 146.1,432.8 142.8,435.3Z" fill="#5cff59" stroke="#5cff59"/><path d="M152.3,433.8 155.5,431.4 152.4,430.8 149.2,433.3Z" fill="#68ff57" stroke="#68ff57"/><path d="M158.7,431.9 161.9,429.5 158.8,429 155.5,431.4Z" fill="#74ff55" stroke="#74ff55"/><path d="M165,430.2 168.3,427.8 165.1,427.2 161.9,429.5Z" fill="#80ff53" stroke="#80ff53"/><path d="M171.4,428.5 174.7,426.2 171.5,425.6 168.3,427.8Z" fill="#8bff51" stroke="#8bff51"/><path d="M177.8,426.9 181,424.7 177.9,424.1 174.7,426.2Z" fill="#96ff4f" stroke="#96ff4f"/><path d="M184.2,425.4 187.4,423.3 184.2,422.6 181,424.7Z" fill="#a0ff4d" stroke="#a0ff4d"/><path d="M190.7,424 193.8,421.9 190.6,421.2 187.4,423.3Z" fill="#aaff4b" stroke="#aaff4b"/><path d="M197.1,422.7 200.2,420.7 197,420 193.8,421.9Z" fill="#b3ff49" stroke="#b3ff49"/><path d="M203.5,421.5 206.6,419.5 203.4,418.8 200.2,420.7Z" fill="#bcff48" stroke="#bcff48"/><path d="M209.9,420.3 213.1,418.4 209.8,417.6 206.6,419.5Z" fill="#c5ff46" stroke="#c5ff46"/><path d="M216.4,419.2 219.5,417.4 216.2,416.6 213.1,418.4Z" fill="#cdff44" stroke="#cdff44"/><path d="M222.8,418.3 225.9,416.5 222.6,415.7 219.5,417.4Z" fill="#d4ff42" stroke="#d4ff42"/><path d="M229.2,417.3 232.3,415.6 229,414.8 225.9,416.5Z" fill="#dbff41" stroke="#dbff41"/><path d="M235.7,416.5 238.7,414.8 235.4,414 232.3,415.6Z" fill="#e2ff3f" stroke="#e2ff3f"/><path d="M242.1,415.7 245.2,414.1 241.8,413.2 238.7,414.8Z" fill="#e8ff3e" stroke="#e8ff3e"/><path d="M248.6,415 251.6,413.4 248.2,412.5 245.2,414.1Z" fill="#eeff3c" stroke="#eeff3c"/><path d="M255,414.4 258,412.8 254.6,411.9 251.6,413.4Z" fill="#f3ff3b" stroke="#f3ff3b"/><path d="M261.5,413.8 264.5,412.3 261,411.4 258,412.8Z" fill="#f8ff39" stroke="#f8ff39"/><path d="M267.9,413.3 270.9,411.8 267.4,410.9 264.5,412.3Z" fill="#fcff38" stroke="#fcff38"/><path d="M92,458 95.4,455 92.5,454.8 89.2,457.8Z" fill="#66fff2" stroke="#66fff2"/><path d="M98.3,455.2 101.7,452.2 98.8,452 95.4,455Z" fill="#66ffe0" stroke="#66ffe0"/><path d="M104.6,452.5 108,449.6 105,449.3 101.7,452.2Z" fill="#66ffcd" stroke="#66ffcd"/><path d="M110.9,449.9 114.2,447.1 111.3,446.7 108,449.6Z" fill="#64ffbb" stroke="#64ffbb"/><path d="M117.2,447.4 120.6,444.6 117.6,444.2 114.2,447.1Z" fill="#63ffa9" stroke="#63ffa9"/><path d="M123.6,445 126.9,442.3 123.9,441.8 120.6,444.6Z" fill="#61ff97" stroke="#61ff97"/><path d="M129.9,442.7 133.2,440 130.2,439.6 126.9,442.3Z" fill="#5fff86" stroke="#5fff86"/><path d="M136.3,440.5 139.6,437.8 136.5,437.4 133.2,440Z" fill="#5dff75" stroke="#5dff75"/><path d="M142.6,438.4 145.9,435.8 142.8,435.3 139.6,437.8Z" fill="#5bff64" stroke="#5bff64"/><path d="M149,436.3 152.3,433.8 149.2,433.3 145.9,435.8Z" fill="#60ff59" stroke="#60ff59"/><path d="M155.4,434.4 158.7,431.9 155.5,431.4 152.3,433.8Z" fill="#6cff57" stroke="#6cff57"/><path d="M161.8,432.6 165,430.2 161.9,429.5 158.7,431.9Z" fill="#78ff55" stroke="#78ff55"/><path d="M168.2,430.8 171.4,428.5 168.3,427.8 165,430.2Z" fill="#83ff53" stroke="#83ff53"/><path d="M174.6,429.2 177.8,426.9 174.7,426.2 171.4,428.5Z" fill="#8eff51" stroke="#8eff51"/><path d="M181,427.6 184.2,425.4 181,424.7 177.8,426.9Z" fill="#98ff4f" stroke="#98ff4f"/><path d="M187.5,426.1 190.7,424 187.4,423.3 184.2,425.4Z" fill="#a2ff4e" stroke="#a2ff4e"/><path d="M193.9,424.8 197.1,422.7 193.8,421.9 190.7,424Z" fill="#acff4c" stroke="#acff4c"/><path d="M200.3,423.5 203.5,421.5 200.2,420.7 197.1,422.7Z" fill="#b5ff4a" stroke="#b5ff4a"/><path d="M206.8,422.3 209.9,420.3 206.6,419.5 203.5,421.5Z" fill="#beff48" stroke="#beff48"/><path d="M213.2,421.2 216.4,419.2 213.1,418.4 209.9,420.3Z" fill="#c6ff46" stroke="#c6ff46"/><path d="M219.7,420.1 222.8,418.3 219.5,417.4 216.4,419.2Z" fill="#ceff44" stroke="#ceff44"/><path d="M226.2,419.1 229.2,417.3 225.9,416.5 222.8,418.3Z" fill="#d5ff43" stroke="#d5ff43"/><path d="M232.6,418.2 235.7,416.5 232.3,415.6 229.2,417.3Z" fill="#dcff41" stroke="#dcff41"/><path d="M239.1,417.4 242.1,415.7 238.7,414.8 235.7,416.5Z" fill="#e3ff40" stroke="#e3ff40"/><path d="M245.6,416.7 248.6,415 245.2,414.1 242.1,415.7Z" fill="#e9ff3e" stroke="#e9ff3e"/><path d="M252,416 255,414.4 251.6,413.4 248.6,415Z" fill="#eeff3c" stroke="#eeff3c"/><path d="M258.5,415.3 261.5,413.8 258,412.8 255,414.4Z" fill="#f3ff3b" stroke="#f3ff3b"/><path d="M265,414.8 267.9,413.3 264.5,412.3 261.5,413.8Z" fill="#f8ff39" stroke="#f8ff39"/><path d="M271.4,414.3 274.4,412.8 270.9,411.8 267.9,413.3Z" fill="#fcff38" stroke="#fcff38"/><path d="M88.6,461 92,458 89.2,457.8 85.8,460.8Z" fill="#66feff" stroke="#66feff"/><path d="M94.9,458.2 98.3,455.2 95.4,455 92,458Z" fill="#66ffed" stroke="#66ffed"/><path d="M101.2,455.5 104.6,452.5 101.7,452.2 98.3,455.2Z" fill="#66ffda" stroke="#66ffda"/><path d="M107.5,452.9 110.9,449.9 108,449.6 104.6,452.5Z" fill="#66ffc8" stroke="#66ffc8"/><path d="M113.9,450.3 117.2,447.4 114.2,447.1 110.9,449.9Z" fill="#64ffb6" stroke="#64ffb6"/><path d="M120.2,447.9 123.6,445 120.6,444.6 117.2,447.4Z" fill="#63ffa4" stroke="#63ffa4"/><path d="M126.6,445.5 129.9,442.7 126.9,442.3 123.6,445Z" fill="#61ff93" stroke="#61ff93"/><path d="M132.9,443.2 136.3,440.5 133.2,440 129.9,442.7Z" fill="#5fff82" stroke="#5fff82"/><path d="M139.3,441 142.6,438.4 139.6,437.8 136.3,440.5Z" fill="#5dff71" stroke="#5dff71"/><path d="M145.7,438.9 149,436.3 145.9,435.8 142.6,438.4Z" fill="#5bff60" stroke="#5bff60"/><path d="M152.1,436.9 155.4,434.4 152.3,433.8 149,436.3Z" fill="#63ff59" stroke="#63ff59"/><path d="M158.5,435 161.8,432.6 158.7,431.9 155.4,434.4Z" fill="#6fff58" stroke="#6fff58"/><path d="M165,433.2 168.2,430.8 165,430.2 161.8,432.6Z" fill="#7aff56" stroke="#7aff56"/><path d="M171.4,431.5 174.6,429.2 171.4,428.5 168.2,430.8Z" fill="#86ff54" stroke="#86ff54"/><path d="M177.8,429.9 181,427.6 177.8,426.9 174.6,429.2Z" fill="#90ff52" stroke="#90ff52"/><path d="M184.3,428.4 187.5,426.1 184.2,425.4 181,427.6Z" fill="#9bff50" stroke="#9bff50"/><path d="M190.7,426.9 193.9,424.8 190.7,424 187.5,426.1Z" fill="#a4ff4e" stroke="#a4ff4e"/><path d="M197.2,425.6 200.3,423.5 197.1,422.7 193.9,424.8Z" fill="#aeff4c" stroke="#aeff4c"/><path d="M203.6,424.3 206.8,422.3 203.5,421.5 200.3,423.5Z" fill="#b7ff4a" stroke="#b7ff4a"/><path d="M210.1,423.1 213.2,421.2 209.9,420.3 206.8,422.3Z" fill="#bfff48" stroke="#bfff48"/><path d="M216.6,422 219.7,420.1 216.4,419.2 213.2,421.2Z" fill="#c7ff47" stroke="#c7ff47"/><path d="M223.1,421 226.2,419.1 222.8,418.3 219.7,420.1Z" fill="#cfff45" stroke="#cfff45"/><path d="M229.5,420.1 232.6,418.2 229.2,417.3 226.2,419.1Z" fill="#d6ff43" stroke="#d6ff43"/><path d="M236,419.2 239.1,417.4 235.7,416.5 232.6,418.2Z" fill="#ddff42" stroke="#ddff42"/><path d="M242.5,418.4 245.6,416.7 242.1,415.7 239.1,417.4Z" fill="#e3ff40" stroke="#e3ff40"/><path d="M249,417.6 252,416 248.6,415 245.6,416.7Z" fill="#e9ff3e" stroke="#e9ff3e"/><path d="M255.5,416.9 258.5,415.3 255,414.4 252,416Z" fill="#eeff3d" stroke="#eeff3d"/><path d="M262,416.3 265,414.8 261.5,413.8 258.5,415.3Z" fill="#f3ff3b" stroke="#f3ff3b"/><path d="M268.5,415.8 271.4,414.3 267.9,413.3 265,414.8Z" fill="#f8ff3a" stroke="#f8ff3a"/><path d="M274.9,415.3 277.9,413.8 274.4,412.8 271.4,414.3Z" fill="#fcff38" stroke="#fcff38"/><path d="M85.2,464.1 88.6,461 85.8,460.8 82.4,463.9Z" fill="#66f1ff" stroke="#66f1ff"/><path d="M91.5,461.3 94.9,458.2 92,458 88.6,461Z" fill="#66fffa" stroke="#66fffa"/><path d="M97.8,458.6 101.2,455.5 98.3,455.2 94.9,458.2Z" fill="#66ffe7" stroke="#66ffe7"/><path d="M104.2,455.9 107.5,452.9 104.6,452.5 101.2,455.5Z" fill="#66ffd5" stroke="#66ffd5"/><path d="M110.5,453.3 113.9,450.3 110.9,449.9 107.5,452.9Z" fill="#66ffc3" stroke="#66ffc3"/><path d="M116.9,450.8 120.2,447.9 117.2,447.4 113.9,450.3Z" fill="#64ffb2" stroke="#64ffb2"/><path d="M123.2,448.3 126.6,445.5 123.6,445 120.2,447.9Z" fill="#63ffa0" stroke="#63ffa0"/><path d="M129.6,446 132.9,443.2 129.9,442.7 126.6,445.5Z" fill="#61ff8f" stroke="#61ff8f"/><path d="M136,443.8 139.3,441 136.3,440.5 132.9,443.2Z" fill="#5fff7e" stroke="#5fff7e"/><path d="M142.4,441.6 145.7,438.9 142.6,438.4 139.3,441Z" fill="#5dff6e" stroke="#5dff6e"/><path d="M148.8,439.5 152.1,436.9 149,436.3 145.7,438.9Z" fill="#5cff5d" stroke="#5cff5d"/><path d="M155.3,437.6 158.5,435 155.4,434.4 152.1,436.9Z" fill="#66ff5a" stroke="#66ff5a"/><path d="M161.7,435.7 165,433.2 161.8,432.6 158.5,435Z" fill="#72ff58" stroke="#72ff58"/><path d="M168.1,433.9 171.4,431.5 168.2,430.8 165,433.2Z" fill="#7dff56" stroke="#7dff56"/><path d="M174.6,432.3 177.8,429.9 174.6,429.2 171.4,431.5Z" fill="#88ff54" stroke="#88ff54"/><path d="M181,430.7 184.3,428.4 181,427.6 177.8,429.9Z" fill="#92ff52" stroke="#92ff52"/><path d="M187.5,429.2 190.7,426.9 187.5,426.1 184.3,428.4Z" fill="#9dff50" stroke="#9dff50"/><path d="M194,427.8 197.2,425.6 193.9,424.8 190.7,426.9Z" fill="#a6ff4e" stroke="#a6ff4e"/><path d="M200.5,426.4 203.6,424.3 200.3,423.5 197.2,425.6Z" fill="#afff4c" stroke="#afff4c"/><path d="M206.9,425.2 210.1,423.1 206.8,422.3 203.6,424.3Z" fill="#b8ff4a" stroke="#b8ff4a"/><path d="M213.4,424 216.6,422 213.2,421.2 210.1,423.1Z" fill="#c0ff49" stroke="#c0ff49"/><path d="M219.9,422.9 223.1,421 219.7,420.1 216.6,422Z" fill="#c8ff47" stroke="#c8ff47"/><path d="M226.4,421.9 229.5,420.1 226.2,419.1 223.1,421Z" fill="#d0ff45" stroke="#d0ff45"/><path d="M232.9,421 236,419.2 232.6,418.2 229.5,420.1Z" fill="#d7ff44" stroke="#d7ff44"/><path d="M239.4,420.1 242.5,418.4 239.1,417.4 236,419.2Z" fill="#ddff42" stroke="#ddff42"/><path d="M245.9,419.4 249,417.6 245.6,416.7 242.5,418.4Z" fill="#e3ff40" stroke="#e3ff40"/><path d="M252.4,418.6 255.5,416.9 252,416 249,417.6Z" fill="#e9ff3f" stroke="#e9ff3f"/><path d="M258.9,418 262,416.3 258.5,415.3 255.5,416.9Z" fill="#eeff3d" stroke="#eeff3d"/><path d="M265.5,417.4 268.5,415.8 265,414.8 262,416.3Z" fill="#f3ff3c" stroke="#f3ff3c"/><path d="M272,416.8 274.9,415.3 271.4,414.3 268.5,415.8Z" fill="#f7ff3a" stroke="#f7ff3a"/><path d="M278.5,416.3 281.4,414.8 277.9,413.8 274.9,415.3Z" fill="#fbff39" stroke="#fbff39"/><path d="M81.8,467.3 85.2,464.1 82.4,463.9 79,467Z" fill="#66e3ff" stroke="#66e3ff"/><path d="M88.1,464.4 91.5,461.3 88.6,461 85.2,464.1Z" fill="#66f7ff" stroke="#66f7ff"/><path d="M94.4,461.6 97.8,458.6 94.9,458.2 91.5,461.3Z" fill="#66fff4" stroke="#66fff4"/><path d="M100.8,458.9 104.2,455.9 101.2,455.5 97.8,458.6Z" fill="#66ffe2" stroke="#66ffe2"/><path d="M107.1,456.3 110.5,453.3 107.5,452.9 104.2,455.9Z" fill="#66ffd0" stroke="#66ffd0"/><path d="M113.5,453.7 116.9,450.8 113.9,450.3 110.5,453.3Z" fill="#66ffbf" stroke="#66ffbf"/><path d="M119.9,451.2 123.2,448.3 120.2,447.9 116.9,450.8Z" fill="#64ffae" stroke="#64ffae"/><path d="M126.3,448.9 129.6,446 126.6,445.5 123.2,448.3Z" fill="#63ff9c" stroke="#63ff9c"/><path d="M132.7,446.6 136,443.8 132.9,443.2 129.6,446Z" fill="#61ff8b" stroke="#61ff8b"/><path d="M139.1,444.4 142.4,441.6 139.3,441 136,443.8Z" fill="#5fff7b" stroke="#5fff7b"/><path d="M145.5,442.2 148.8,439.5 145.7,438.9 142.4,441.6Z" fill="#5eff6b" stroke="#5eff6b"/><path d="M152,440.2 155.3,437.6 152.1,436.9 148.8,439.5Z" fill="#5dff5c" stroke="#5dff5c"/><path d="M158.4,438.3 161.7,435.7 158.5,435 155.3,437.6Z" fill="#69ff5a" stroke="#69ff5a"/><path d="M164.9,436.4 168.1,433.9 165,433.2 161.7,435.7Z" fill="#74ff58" stroke="#74ff58"/><path d="M171.3,434.7 174.6,432.3 171.4,431.5 168.1,433.9Z" fill="#7fff56" stroke="#7fff56"/><path d="M177.8,433.1 181,430.7 177.8,429.9 174.6,432.3Z" fill="#8aff54" stroke="#8aff54"/><path d="M184.3,431.5 187.5,429.2 184.3,428.4 181,430.7Z" fill="#94ff52" stroke="#94ff52"/><path d="M190.8,430 194,427.8 190.7,426.9 187.5,429.2Z" fill="#9eff50" stroke="#9eff50"/><path d="M197.3,428.6 200.5,426.4 197.2,425.6 194,427.8Z" fill="#a8ff4e" stroke="#a8ff4e"/><path d="M203.8,427.3 206.9,425.2 203.6,424.3 200.5,426.4Z" fill="#b1ff4d" stroke="#b1ff4d"/><path d="M210.3,426.1 213.4,424 210.1,423.1 206.9,425.2Z" fill="#b9ff4b" stroke="#b9ff4b"/><path d="M216.8,425 219.9,422.9 216.6,422 213.4,424Z" fill="#c1ff49" stroke="#c1ff49"/><path d="M223.3,423.9 226.4,421.9 223.1,421 219.9,422.9Z" fill="#c9ff47" stroke="#c9ff47"/><path d="M229.8,422.9 232.9,421 229.5,420.1 226.4,421.9Z" fill="#d0ff46" stroke="#d0ff46"/><path d="M236.3,422 239.4,420.1 236,419.2 232.9,421Z" fill="#d7ff44" stroke="#d7ff44"/><path d="M242.9,421.2 245.9,419.4 242.5,418.4 239.4,420.1Z" fill="#ddff42" stroke="#ddff42"/><path d="M249.4,420.4 252.4,418.6 249,417.6 245.9,419.4Z" fill="#e3ff41" stroke="#e3ff41"/><path d="M255.9,419.7 258.9,418 255.5,416.9 252.4,418.6Z" fill="#e9ff3f" stroke="#e9ff3f"/><path d="M262.4,419 265.5,417.4 262,416.3 258.9,418Z" fill="#eeff3e" stroke="#eeff3e"/><path d="M269,418.4 272,416.8 268.5,415.8 265.5,417.4Z" fill="#f3ff3c" stroke="#f3ff3c"/><path d="M275.5,417.9 278.5,416.3 274.9,415.3 272,416.8Z" fill="#f7ff3b" stroke="#f7ff3b"/><path d="M282,417.4 285,415.9 281.4,414.8 278.5,416.3Z" fill="#fbff39" stroke="#fbff39"/><path d="M78.4,470.4 81.8,467.3 79,467 75.5,470.2Z" fill="#66d5ff" stroke="#66d5ff"/><path d="M84.7,467.6 88.1,464.4 85.2,464.1 81.8,467.3Z" fill="#66e9ff" stroke="#66e9ff"/><path d="M91,464.7 94.4,461.6 91.5,461.3 88.1,464.4Z" fill="#66fcff" stroke="#66fcff"/><path d="M97.4,462 100.8,458.9 97.8,458.6 94.4,461.6Z" fill="#66ffef" stroke="#66ffef"/><path d="M103.7,459.3 107.1,456.3 104.2,455.9 100.8,458.9Z" fill="#66ffdd" stroke="#66ffdd"/><path d="M110.1,456.7 113.5,453.7 110.5,453.3 107.1,456.3Z" fill="#66ffcc" stroke="#66ffcc"/><path d="M116.5,454.2 119.9,451.2 116.9,450.8 113.5,453.7Z" fill="#66ffbb" stroke="#66ffbb"/><path d="M122.9,451.8 126.3,448.9 123.2,448.3 119.9,451.2Z" fill="#64ffaa" stroke="#64ffaa"/><path d="M129.3,449.4 132.7,446.6 129.6,446 126.3,448.9Z" fill="#63ff99" stroke="#63ff99"/><path d="M135.8,447.2 139.1,444.4 136,443.8 132.7,446.6Z" fill="#61ff88" stroke="#61ff88"/><path d="M142.2,445 145.5,442.2 142.4,441.6 139.1,444.4Z" fill="#5fff78" stroke="#5fff78"/><path d="M148.6,442.9 152,440.2 148.8,439.5 145.5,442.2Z" fill="#5eff68" stroke="#5eff68"/><path d="M155.1,440.9 158.4,438.3 155.3,437.6 152,440.2Z" fill="#60ff5c" stroke="#60ff5c"/><path d="M161.6,439 164.9,436.4 161.7,435.7 158.4,438.3Z" fill="#6bff5a" stroke="#6bff5a"/><path d="M168.1,437.2 171.3,434.7 168.1,433.9 164.9,436.4Z" fill="#76ff58" stroke="#76ff58"/><path d="M174.5,435.5 177.8,433.1 174.6,432.3 171.3,434.7Z" fill="#81ff56" stroke="#81ff56"/><path d="M181,433.9 184.3,431.5 181,430.7 177.8,433.1Z" fill="#8cff54" stroke="#8cff54"/><path d="M187.5,432.4 190.8,430 187.5,429.2 184.3,431.5Z" fill="#96ff52" stroke="#96ff52"/><path d="M194.1,430.9 197.3,428.6 194,427.8 190.8,430Z" fill="#9fff51" stroke="#9fff51"/><path d="M200.6,429.5 203.8,427.3 200.5,426.4 197.3,428.6Z" fill="#a9ff4f" stroke="#a9ff4f"/><path d="M207.1,428.3 210.3,426.1 206.9,425.2 203.8,427.3Z" fill="#b1ff4d" stroke="#b1ff4d"/><path d="M213.6,427.1 216.8,425 213.4,424 210.3,426.1Z" fill="#baff4b" stroke="#baff4b"/><path d="M220.1,425.9 223.3,423.9 219.9,422.9 216.8,425Z" fill="#c2ff49" stroke="#c2ff49"/><path d="M226.7,424.9 229.8,422.9 226.4,421.9 223.3,423.9Z" fill="#c9ff48" stroke="#c9ff48"/><path d="M233.2,423.9 236.3,422 232.9,421 229.8,422.9Z" fill="#d0ff46" stroke="#d0ff46"/><path d="M239.8,423 242.9,421.2 239.4,420.1 236.3,422Z" fill="#d7ff44" stroke="#d7ff44"/><path d="M246.3,422.2 249.4,420.4 245.9,419.4 242.9,421.2Z" fill="#ddff43" stroke="#ddff43"/><path d="M252.8,421.4 255.9,419.7 252.4,418.6 249.4,420.4Z" fill="#e3ff41" stroke="#e3ff41"/><path d="M259.4,420.7 262.4,419 258.9,418 255.9,419.7Z" fill="#e8ff40" stroke="#e8ff40"/><path d="M265.9,420.1 269,418.4 265.5,417.4 262.4,419Z" fill="#edff3e" stroke="#edff3e"/><path d="M272.5,419.5 275.5,417.9 272,416.8 269,418.4Z" fill="#f2ff3c" stroke="#f2ff3c"/><path d="M279,419 282,417.4 278.5,416.3 275.5,417.9Z" fill="#f6ff3b" stroke="#f6ff3b"/><path d="M285.6,418.5 288.6,417 285,415.9 282,417.4Z" fill="#faff39" stroke="#faff39"/><path d="M74.9,473.6 78.4,470.4 75.5,470.2 72.1,473.3Z" fill="#66c8ff" stroke="#66c8ff"/><path d="M81.3,470.7 84.7,467.6 81.8,467.3 78.4,470.4Z" fill="#66dbff" stroke="#66dbff"/><path d="M87.6,467.9 91,464.7 88.1,464.4 84.7,467.6Z" fill="#66eeff" stroke="#66eeff"/><path d="M94,465.1 97.4,462 94.4,461.6 91,464.7Z" fill="#66fffd" stroke="#66fffd"/><path d="M100.3,462.4 103.7,459.3 100.8,458.9 97.4,462Z" fill="#66ffeb" stroke="#66ffeb"/><path d="M106.7,459.8 110.1,456.7 107.1,456.3 103.7,459.3Z" fill="#66ffd9" stroke="#66ffd9"/><path d="M113.1,457.2 116.5,454.2 113.5,453.7 110.1,456.7Z" fill="#66ffc8" stroke="#66ffc8"/><path d="M119.5,454.8 122.9,451.8 119.9,451.2 116.5,454.2Z" fill="#66ffb7" stroke="#66ffb7"/><path d="M126,452.4 129.3,449.4 126.3,448.9 122.9,451.8Z" fill="#64ffa6" stroke="#64ffa6"/><path d="M132.4,450.1 135.8,447.2 132.7,446.6 129.3,449.4Z" fill="#63ff96" stroke="#63ff96"/><path d="M138.9,447.8 142.2,445 139.1,444.4 135.8,447.2Z" fill="#61ff85" stroke="#61ff85"/><path d="M145.3,445.7 148.6,442.9 145.5,442.2 142.2,445Z" fill="#60ff75" stroke="#60ff75"/><path d="M151.8,443.6 155.1,440.9 152,440.2 148.6,442.9Z" fill="#5eff65" stroke="#5eff65"/><path d="M158.3,441.7 161.6,439 158.4,438.3 155.1,440.9Z" fill="#62ff5c" stroke="#62ff5c"/><path d="M164.8,439.8 168.1,437.2 164.9,436.4 161.6,439Z" fill="#6dff5a" stroke="#6dff5a"/><path d="M171.3,438 174.5,435.5 171.3,434.7 168.1,437.2Z" fill="#78ff58" stroke="#78ff58"/><path d="M177.8,436.4 181,433.9 177.8,433.1 174.5,435.5Z" fill="#83ff56" stroke="#83ff56"/><path d="M184.3,434.8 187.5,432.4 184.3,431.5 181,433.9Z" fill="#8dff54" stroke="#8dff54"/><path d="M190.8,433.3 194.1,430.9 190.8,430 187.5,432.4Z" fill="#97ff53" stroke="#97ff53"/><path d="M197.4,431.8 200.6,429.5 197.3,428.6 194.1,430.9Z" fill="#a1ff51" stroke="#a1ff51"/><path d="M203.9,430.5 207.1,428.3 203.8,427.3 200.6,429.5Z" fill="#aaff4f" stroke="#aaff4f"/><path d="M210.4,429.2 213.6,427.1 210.3,426.1 207.1,428.3Z" fill="#b2ff4d" stroke="#b2ff4d"/><path d="M217,428.1 220.1,425.9 216.8,425 213.6,427.1Z" fill="#baff4b" stroke="#baff4b"/><path d="M223.5,427 226.7,424.9 223.3,423.9 220.1,425.9Z" fill="#c2ff4a" stroke="#c2ff4a"/><path d="M230.1,425.9 233.2,423.9 229.8,422.9 226.7,424.9Z" fill="#c9ff48" stroke="#c9ff48"/><path d="M236.7,425 239.8,423 236.3,422 233.2,423.9Z" fill="#d0ff46" stroke="#d0ff46"/><path d="M243.2,424.1 246.3,422.2 242.9,421.2 239.8,423Z" fill="#d7ff45" stroke="#d7ff45"/><path d="M249.8,423.3 252.8,421.4 249.4,420.4 246.3,422.2Z" fill="#ddff43" stroke="#ddff43"/><path d="M256.3,422.5 259.4,420.7 255.9,419.7 252.8,421.4Z" fill="#e3ff41" stroke="#e3ff41"/><path d="M262.9,421.8 265.9,420.1 262.4,419 259.4,420.7Z" fill="#e8ff40" stroke="#e8ff40"/><path d="M269.5,421.2 272.5,419.5 269,418.4 265.9,420.1Z" fill="#edff3e" stroke="#edff3e"/><path d="M276,420.6 279,419 275.5,417.9 272.5,419.5Z" fill="#f1ff3d" stroke="#f1ff3d"/><path d="M282.6,420.1 285.6,418.5 282,417.4 279,419Z" fill="#f5ff3b" stroke="#f5ff3b"/><path d="M289.2,419.6 292.1,418.1 288.6,417 285.6,418.5Z" fill="#f9ff3a" stroke="#f9ff3a"/><path d="M71.5,476.8 74.9,473.6 72.1,473.3 68.6,476.5Z" fill="#66baff" stroke="#66baff"/><path d="M77.8,473.9 81.3,470.7 78.4,470.4 74.9,473.6Z" fill="#66cdff" stroke="#66cdff"/><path d="M84.2,471.1 87.6,467.9 84.7,467.6 81.3,470.7Z" fill="#66e1ff" stroke="#66e1ff"/><path d="M90.5,468.3 94,465.1 91,464.7 87.6,467.9Z" fill="#66f4ff" stroke="#66f4ff"/><path d="M96.9,465.6 100.3,462.4 97.4,462 94,465.1Z" fill="#66fff8" stroke="#66fff8"/><path d="M103.3,462.9 106.7,459.8 103.7,459.3 100.3,462.4Z" fill="#66ffe6" stroke="#66ffe6"/><path d="M109.7,460.3 113.1,457.2 110.1,456.7 106.7,459.8Z" fill="#66ffd5" stroke="#66ffd5"/><path d="M116.1,457.8 119.5,454.8 116.5,454.2 113.1,457.2Z" fill="#66ffc4" stroke="#66ffc4"/><path d="M122.6,455.4 126,452.4 122.9,451.8 119.5,454.8Z" fill="#66ffb4" stroke="#66ffb4"/><path d="M129,453 132.4,450.1 129.3,449.4 126,452.4Z" fill="#65ffa3" stroke="#65ffa3"/><path d="M135.5,450.7 138.9,447.8 135.8,447.2 132.4,450.1Z" fill="#63ff93" stroke="#63ff93"/><path d="M142,448.5 145.3,445.7 142.2,445 138.9,447.8Z" fill="#61ff83" stroke="#61ff83"/><path d="M148.5,446.4 151.8,443.6 148.6,442.9 145.3,445.7Z" fill="#60ff73" stroke="#60ff73"/><path d="M155,444.4 158.3,441.7 155.1,440.9 151.8,443.6Z" fill="#5eff63" stroke="#5eff63"/><path d="M161.5,442.5 164.8,439.8 161.6,439 158.3,441.7Z" fill="#64ff5c" stroke="#64ff5c"/><path d="M168,440.7 171.3,438 168.1,437.2 164.8,439.8Z" fill="#6fff5a" stroke="#6fff5a"/><path d="M174.5,438.9 177.8,436.4 174.5,435.5 171.3,438Z" fill="#7aff58" stroke="#7aff58"/><path d="M181,437.3 184.3,434.8 181,433.9 177.8,436.4Z" fill="#84ff57" stroke="#84ff57"/><path d="M187.6,435.7 190.8,433.3 187.5,432.4 184.3,434.8Z" fill="#8eff55" stroke="#8eff55"/><path d="M194.1,434.2 197.4,431.8 194.1,430.9 190.8,433.3Z" fill="#98ff53" stroke="#98ff53"/><path d="M200.7,432.8 203.9,430.5 200.6,429.5 197.4,431.8Z" fill="#a1ff51" stroke="#a1ff51"/><path d="M207.2,431.5 210.4,429.2 207.1,428.3 203.9,430.5Z" fill="#aaff4f" stroke="#aaff4f"/><path d="M213.8,430.3 217,428.1 213.6,427.1 210.4,429.2Z" fill="#b3ff4d" stroke="#b3ff4d"/><path d="M220.4,429.1 223.5,427 220.1,425.9 217,428.1Z" fill="#bbff4c" stroke="#bbff4c"/><path d="M226.9,428 230.1,425.9 226.7,424.9 223.5,427Z" fill="#c2ff4a" stroke="#c2ff4a"/><path d="M233.5,427 236.7,425 233.2,423.9 230.1,425.9Z" fill="#c9ff48" stroke="#c9ff48"/><path d="M240.1,426.1 243.2,424.1 239.8,423 236.7,425Z" fill="#d0ff47" stroke="#d0ff47"/><path d="M246.7,425.2 249.8,423.3 246.3,422.2 243.2,424.1Z" fill="#d6ff45" stroke="#d6ff45"/><path d="M253.3,424.4 256.3,422.5 252.8,421.4 249.8,423.3Z" fill="#dcff43" stroke="#dcff43"/><path d="M259.9,423.6 262.9,421.8 259.4,420.7 256.3,422.5Z" fill="#e2ff42" stroke="#e2ff42"/><path d="M266.4,422.9 269.5,421.2 265.9,420.1 262.9,421.8Z" fill="#e7ff40" stroke="#e7ff40"/><path d="M273,422.3 276,420.6 272.5,419.5 269.5,421.2Z" fill="#ecff3f" stroke="#ecff3f"/><path d="M279.6,421.7 282.6,420.1 279,419 276,420.6Z" fill="#f0ff3d" stroke="#f0ff3d"/><path d="M286.2,421.2 289.2,419.6 285.6,418.5 282.6,420.1Z" fill="#f4ff3c" stroke="#f4ff3c"/><path d="M292.8,420.8 295.8,419.2 292.1,418.1 289.2,419.6Z" fill="#f8ff3a" stroke="#f8ff3a"/><path d="M68,480 71.5,476.8 68.6,476.5 65.1,479.7Z" fill="#66acff" stroke="#66acff"/><path d="M74.3,477.1 77.8,473.9 74.9,473.6 71.5,476.8Z" fill="#66c0ff" stroke="#66c0ff"/><path d="M80.7,474.3 84.2,471.1 81.3,470.7 77.8,473.9Z" fill="#66d3ff" stroke="#66d3ff"/><path d="M87.1,471.5 90.5,468.3 87.6,467.9 84.2,471.1Z" fill="#66e6ff" stroke="#66e6ff"/><path d="M93.5,468.8 96.9,465.6 94,465.1 90.5,468.3Z" fill="#66f8ff" stroke="#66f8ff"/><path d="M99.9,466.1 103.3,462.9 100.3,462.4 96.9,465.6Z" fill="#66fff4" stroke="#66fff4"/><path d="M106.3,463.5 109.7,460.3 106.7,459.8 103.3,462.9Z" fill="#66ffe2" stroke="#66ffe2"/><path d="M112.7,460.9 116.1,457.8 113.1,457.2 109.7,460.3Z" fill="#66ffd1" stroke="#66ffd1"/><path d="M119.2,458.4 122.6,455.4 119.5,454.8 116.1,457.8Z" fill="#66ffc0" stroke="#66ffc0"/><path d="M125.7,456 129,453 126,452.4 122.6,455.4Z" fill="#66ffb0" stroke="#66ffb0"/><path d="M132.1,453.7 135.5,450.7 132.4,450.1 129,453Z" fill="#65ffa0" stroke="#65ffa0"/><path d="M138.6,451.4 142,448.5 138.9,447.8 135.5,450.7Z" fill="#63ff90" stroke="#63ff90"/><path d="M145.1,449.3 148.5,446.4 145.3,445.7 142,448.5Z" fill="#61ff80" stroke="#61ff80"/><path d="M151.6,447.2 155,444.4 151.8,443.6 148.5,446.4Z" fill="#60ff71" stroke="#60ff71"/><path d="M158.1,445.2 161.5,442.5 158.3,441.7 155,444.4Z" fill="#5eff62" stroke="#5eff62"/><path d="M164.7,443.3 168,440.7 164.8,439.8 161.5,442.5Z" fill="#66ff5c" stroke="#66ff5c"/><path d="M171.2,441.5 174.5,438.9 171.3,438 168,440.7Z" fill="#71ff5a" stroke="#71ff5a"/><path d="M177.8,439.8 181,437.3 177.8,436.4 174.5,438.9Z" fill="#7bff59" stroke="#7bff59"/><path d="M184.3,438.2 187.6,435.7 184.3,434.8 181,437.3Z" fill="#86ff57" stroke="#86ff57"/><path d="M190.9,436.7 194.1,434.2 190.8,433.3 187.6,435.7Z" fill="#8fff55" stroke="#8fff55"/><path d="M197.5,435.2 200.7,432.8 197.4,431.8 194.1,434.2Z" fill="#99ff53" stroke="#99ff53"/><path d="M204,433.8 207.2,431.5 203.9,430.5 200.7,432.8Z" fill="#a2ff51" stroke="#a2ff51"/><path d="M210.6,432.5 213.8,430.3 210.4,429.2 207.2,431.5Z" fill="#aaff50" stroke="#aaff50"/><path d="M217.2,431.3 220.4,429.1 217,428.1 213.8,430.3Z" fill="#b3ff4e" stroke="#b3ff4e"/><path d="M223.8,430.2 226.9,428 223.5,427 220.4,429.1Z" fill="#bbff4c" stroke="#bbff4c"/><path d="M230.4,429.1 233.5,427 230.1,425.9 226.9,428Z" fill="#c2ff4a" stroke="#c2ff4a"/><path d="M237,428.1 240.1,426.1 236.7,425 233.5,427Z" fill="#c9ff49" stroke="#c9ff49"/><path d="M243.6,427.2 246.7,425.2 243.2,424.1 240.1,426.1Z" fill="#d0ff47" stroke="#d0ff47"/><path d="M250.2,426.3 253.3,424.4 249.8,423.3 246.7,425.2Z" fill="#d6ff45" stroke="#d6ff45"/><path d="M256.8,425.5 259.9,423.6 256.3,422.5 253.3,424.4Z" fill="#dcff44" stroke="#dcff44"/><path d="M263.4,424.8 266.4,422.9 262.9,421.8 259.9,423.6Z" fill="#e1ff42" stroke="#e1ff42"/><path d="M270,424.1 273,422.3 269.5,421.2 266.4,422.9Z" fill="#e6ff41" stroke="#e6ff41"/><path d="M276.6,423.5 279.6,421.7 276,420.6 273,422.3Z" fill="#ebff3f" stroke="#ebff3f"/><path d="M283.2,422.9 286.2,421.2 282.6,420.1 279.6,421.7Z" fill="#efff3e" stroke="#efff3e"/><path d="M289.8,422.4 292.8,420.8 289.2,419.6 286.2,421.2Z" fill="#f3ff3c" stroke="#f3ff3c"/><path d="M296.4,421.9 299.4,420.3 295.8,419.2 292.8,420.8Z" fill="#f7ff3a" stroke="#f7ff3a"/><path d="M64.5,483.1 68,480 65.1,479.7 61.6,482.8Z" fill="#669fff" stroke="#669fff"/><path d="M70.8,480.3 74.3,477.1 71.5,476.8 68,480Z" fill="#66b2ff" stroke="#66b2ff"/><path d="M77.2,477.5 80.7,474.3 77.8,473.9 74.3,477.1Z" fill="#66c5ff" stroke="#66c5ff"/><path d="M83.6,474.7 87.1,471.5 84.2,471.1 80.7,474.3Z" fill="#66d8ff" stroke="#66d8ff"/><path d="M90,472 93.5,468.8 90.5,468.3 87.1,471.5Z" fill="#66eaff" stroke="#66eaff"/><path d="M96.4,469.3 99.9,466.1 96.9,465.6 93.5,468.8Z" fill="#66fdff" stroke="#66fdff"/><path d="M102.9,466.6 106.3,463.5 103.3,462.9 99.9,466.1Z" fill="#66fff0" stroke="#66fff0"/><path d="M109.3,464 112.7,460.9 109.7,460.3 106.3,463.5Z" fill="#66ffde" stroke="#66ffde"/><path d="M115.8,461.5 119.2,458.4 116.1,457.8 112.7,460.9Z" fill="#66ffce" stroke="#66ffce"/><path d="M122.3,459.1 125.7,456 122.6,455.4 119.2,458.4Z" fill="#66ffbd" stroke="#66ffbd"/><path d="M128.7,456.7 132.1,453.7 129,453 125.7,456Z" fill="#66ffae" stroke="#66ffae"/><path d="M135.2,454.4 138.6,451.4 135.5,450.7 132.1,453.7Z" fill="#65ff9e" stroke="#65ff9e"/><path d="M141.8,452.2 145.1,449.3 142,448.5 138.6,451.4Z" fill="#63ff8e" stroke="#63ff8e"/><path d="M148.3,450.1 151.6,447.2 148.5,446.4 145.1,449.3Z" fill="#62ff7e" stroke="#62ff7e"/><path d="M154.8,448.1 158.1,445.2 155,444.4 151.6,447.2Z" fill="#60ff6f" stroke="#60ff6f"/><path d="M161.4,446.1 164.7,443.3 161.5,442.5 158.1,445.2Z" fill="#5eff60" stroke="#5eff60"/><path d="M167.9,444.2 171.2,441.5 168,440.7 164.7,443.3Z" fill="#67ff5c" stroke="#67ff5c"/><path d="M174.5,442.5 177.8,439.8 174.5,438.9 171.2,441.5Z" fill="#72ff5b" stroke="#72ff5b"/><path d="M181,440.8 184.3,438.2 181,437.3 177.8,439.8Z" fill="#7cff59" stroke="#7cff59"/><path d="M187.6,439.2 190.9,436.7 187.6,435.7 184.3,438.2Z" fill="#86ff57" stroke="#86ff57"/><path d="M194.2,437.7 197.5,435.2 194.1,434.2 190.9,436.7Z" fill="#90ff55" stroke="#90ff55"/><path d="M200.8,436.2 204,433.8 200.7,432.8 197.5,435.2Z" fill="#99ff53" stroke="#99ff53"/><path d="M207.4,434.9 210.6,432.5 207.2,431.5 204,433.8Z" fill="#a2ff52" stroke="#a2ff52"/><path d="M214,433.6 217.2,431.3 213.8,430.3 210.6,432.5Z" fill="#abff50" stroke="#abff50"/><path d="M220.6,432.4 223.8,430.2 220.4,429.1 217.2,431.3Z" fill="#b3ff4e" stroke="#b3ff4e"/><path d="M227.2,431.3 230.4,429.1 226.9,428 223.8,430.2Z" fill="#baff4c" stroke="#baff4c"/><path d="M233.8,430.2 237,428.1 233.5,427 230.4,429.1Z" fill="#c2ff4b" stroke="#c2ff4b"/><path d="M240.4,429.2 243.6,427.2 240.1,426.1 237,428.1Z" fill="#c8ff49" stroke="#c8ff49"/><path d="M247.1,428.3 250.2,426.3 246.7,425.2 243.6,427.2Z" fill="#cfff47" stroke="#cfff47"/><path d="M253.7,427.5 256.8,425.5 253.3,424.4 250.2,426.3Z" fill="#d5ff46" stroke="#d5ff46"/><path d="M260.3,426.7 263.4,424.8 259.9,423.6 256.8,425.5Z" fill="#dbff44" stroke="#dbff44"/><path d="M266.9,426 270,424.1 266.4,422.9 263.4,424.8Z" fill="#e0ff43" stroke="#e0ff43"/><path d="M273.6,425.3 276.6,423.5 273,422.3 270,424.1Z" fill="#e5ff41" stroke="#e5ff41"/><path d="M280.2,424.7 283.2,422.9 279.6,421.7 276.6,423.5Z" fill="#eaff3f" stroke="#eaff3f"/><path d="M286.8,424.1 289.8,422.4 286.2,421.2 283.2,422.9Z" fill="#eeff3e" stroke="#eeff3e"/><path d="M293.5,423.6 296.4,421.9 292.8,420.8 289.8,422.4Z" fill="#f2ff3c" stroke="#f2ff3c"/><path d="M300.1,423.1 303.1,421.5 299.4,420.3 296.4,421.9Z" fill="#f6ff3b" stroke="#f6ff3b"/><path d="M61,486.3 64.5,483.1 61.6,482.8 58.1,486Z" fill="#6691ff" stroke="#6691ff"/><path d="M67.3,483.5 70.8,480.3 68,480 64.5,483.1Z" fill="#66a4ff" stroke="#66a4ff"/><path d="M73.7,480.7 77.2,477.5 74.3,477.1 70.8,480.3Z" fill="#66b7ff" stroke="#66b7ff"/><path d="M80.1,477.9 83.6,474.7 80.7,474.3 77.2,477.5Z" fill="#66caff" stroke="#66caff"/><path d="M86.6,475.2 90,472 87.1,471.5 83.6,474.7Z" fill="#66ddff" stroke="#66ddff"/><path d="M93,472.5 96.4,469.3 93.5,468.8 90,472Z" fill="#66efff" stroke="#66efff"/><path d="M99.4,469.8 102.9,466.6 99.9,466.1 96.4,469.3Z" fill="#66fffd" stroke="#66fffd"/><path d="M105.9,467.2 109.3,464 106.3,463.5 102.9,466.6Z" fill="#66ffec" stroke="#66ffec"/><path d="M112.4,464.7 115.8,461.5 112.7,460.9 109.3,464Z" fill="#66ffdb" stroke="#66ffdb"/><path d="M118.8,462.2 122.3,459.1 119.2,458.4 115.8,461.5Z" fill="#66ffca" stroke="#66ffca"/><path d="M125.3,459.8 128.7,456.7 125.7,456 122.3,459.1Z" fill="#66ffbb" stroke="#66ffbb"/><path d="M131.9,457.5 135.2,454.4 132.1,453.7 128.7,456.7Z" fill="#66ffab" stroke="#66ffab"/><path d="M138.4,455.2 141.8,452.2 138.6,451.4 135.2,454.4Z" fill="#65ff9b" stroke="#65ff9b"/><path d="M144.9,453 148.3,450.1 145.1,449.3 141.8,452.2Z" fill="#63ff8c" stroke="#63ff8c"/><path d="M151.5,451 154.8,448.1 151.6,447.2 148.3,450.1Z" fill="#62ff7d" stroke="#62ff7d"/><path d="M158,448.9 161.4,446.1 158.1,445.2 154.8,448.1Z" fill="#60ff6e" stroke="#60ff6e"/><path d="M164.6,447 167.9,444.2 164.7,443.3 161.4,446.1Z" fill="#5eff5f" stroke="#5eff5f"/><path d="M171.2,445.2 174.5,442.5 171.2,441.5 167.9,444.2Z" fill="#69ff5d" stroke="#69ff5d"/><path d="M177.7,443.4 181,440.8 177.8,439.8 174.5,442.5Z" fill="#73ff5b" stroke="#73ff5b"/><path d="M184.3,441.8 187.6,439.2 184.3,438.2 181,440.8Z" fill="#7dff59" stroke="#7dff59"/><path d="M190.9,440.2 194.2,437.7 190.9,436.7 187.6,439.2Z" fill="#87ff57" stroke="#87ff57"/><path d="M197.5,438.7 200.8,436.2 197.5,435.2 194.2,437.7Z" fill="#90ff55" stroke="#90ff55"/><path d="M204.2,437.3 207.4,434.9 204,433.8 200.8,436.2Z" fill="#9aff54" stroke="#9aff54"/><path d="M210.8,436 214,433.6 210.6,432.5 207.4,434.9Z" fill="#a2ff52" stroke="#a2ff52"/><path d="M217.4,434.7 220.6,432.4 217.2,431.3 214,433.6Z" fill="#aaff50" stroke="#aaff50"/><path d="M224,433.5 227.2,431.3 223.8,430.2 220.6,432.4Z" fill="#b2ff4e" stroke="#b2ff4e"/><path d="M230.7,432.4 233.8,430.2 230.4,429.1 227.2,431.3Z" fill="#baff4d" stroke="#baff4d"/><path d="M237.3,431.4 240.4,429.2 237,428.1 233.8,430.2Z" fill="#c1ff4b" stroke="#c1ff4b"/><path d="M243.9,430.4 247.1,428.3 243.6,427.2 240.4,429.2Z" fill="#c8ff49" stroke="#c8ff49"/><path d="M250.6,429.5 253.7,427.5 250.2,426.3 247.1,428.3Z" fill="#ceff48" stroke="#ceff48"/><path d="M257.2,428.7 260.3,426.7 256.8,425.5 253.7,427.5Z" fill="#d4ff46" stroke="#d4ff46"/><path d="M263.9,427.9 266.9,426 263.4,424.8 260.3,426.7Z" fill="#daff45" stroke="#daff45"/><path d="M270.5,427.1 273.6,425.3 270,424.1 266.9,426Z" fill="#dfff43" stroke="#dfff43"/><path d="M277.2,426.5 280.2,424.7 276.6,423.5 273.6,425.3Z" fill="#e4ff41" stroke="#e4ff41"/><path d="M283.8,425.9 286.8,424.1 283.2,422.9 280.2,424.7Z" fill="#e8ff40" stroke="#e8ff40"/><path d="M290.5,425.3 293.5,423.6 289.8,422.4 286.8,424.1Z" fill="#edff3e" stroke="#edff3e"/><path d="M297.1,424.8 300.1,423.1 296.4,421.9 293.5,423.6Z" fill="#f1ff3d" stroke="#f1ff3d"/><path d="M303.8,424.3 306.7,422.7 303.1,421.5 300.1,423.1Z" fill="#f4ff3b" stroke="#f4ff3b"/><path d="M57.4,489.5 61,486.3 58.1,486 54.6,489.1Z" fill="#6684ff" stroke="#6684ff"/><path d="M63.8,486.7 67.3,483.5 64.5,483.1 61,486.3Z" fill="#6697ff" stroke="#6697ff"/><path d="M70.2,483.9 73.7,480.7 70.8,480.3 67.3,483.5Z" fill="#66aaff" stroke="#66aaff"/><path d="M76.6,481.2 80.1,477.9 77.2,477.5 73.7,480.7Z" fill="#66bcff" stroke="#66bcff"/><path d="M83.1,478.5 86.6,475.2 83.6,474.7 80.1,477.9Z" fill="#66cfff" stroke="#66cfff"/><path d="M89.5,475.7 93,472.5 90,472 86.6,475.2Z" fill="#66e1ff" stroke="#66e1ff"/><path d="M96,473.1 99.4,469.8 96.4,469.3 93,472.5Z" fill="#66f3ff" stroke="#66f3ff"/><path d="M102.4,470.5 105.9,467.2 102.9,466.6 99.4,469.8Z" fill="#66fffa" stroke="#66fffa"/><path d="M108.9,467.9 112.4,464.7 109.3,464 105.9,467.2Z" fill="#66ffe8" stroke="#66ffe8"/><path d="M115.4,465.4 118.8,462.2 115.8,461.5 112.4,464.7Z" fill="#66ffd8" stroke="#66ffd8"/><path d="M121.9,462.9 125.3,459.8 122.3,459.1 118.8,462.2Z" fill="#66ffc8" stroke="#66ffc8"/><path d="M128.5,460.6 131.9,457.5 128.7,456.7 125.3,459.8Z" fill="#66ffb8" stroke="#66ffb8"/><path d="M135,458.3 138.4,455.2 135.2,454.4 131.9,457.5Z" fill="#66ffa9" stroke="#66ffa9"/><path d="M141.5,456.1 144.9,453 141.8,452.2 138.4,455.2Z" fill="#65ff9a" stroke="#65ff9a"/><path d="M148.1,453.9 151.5,451 148.3,450.1 144.9,453Z" fill="#63ff8a" stroke="#63ff8a"/><path d="M154.7,451.9 158,448.9 154.8,448.1 151.5,451Z" fill="#62ff7b" stroke="#62ff7b"/><path d="M161.2,449.9 164.6,447 161.4,446.1 158,448.9Z" fill="#60ff6d" stroke="#60ff6d"/><path d="M167.8,448 171.2,445.2 167.9,444.2 164.6,447Z" fill="#5fff5f" stroke="#5fff5f"/><path d="M174.4,446.2 177.7,443.4 174.5,442.5 171.2,445.2Z" fill="#6aff5d" stroke="#6aff5d"/><path d="M181,444.5 184.3,441.8 181,440.8 177.7,443.4Z" fill="#74ff5b" stroke="#74ff5b"/><path d="M187.7,442.8 190.9,440.2 187.6,439.2 184.3,441.8Z" fill="#7eff59" stroke="#7eff59"/><path d="M194.3,441.3 197.5,438.7 194.2,437.7 190.9,440.2Z" fill="#87ff57" stroke="#87ff57"/><path d="M200.9,439.8 204.2,437.3 200.8,436.2 197.5,438.7Z" fill="#91ff56" stroke="#91ff56"/><path d="M207.5,438.4 210.8,436 207.4,434.9 204.2,437.3Z" fill="#99ff54" stroke="#99ff54"/><path d="M214.2,437.1 217.4,434.7 214,433.6 210.8,436Z" fill="#a2ff52" stroke="#a2ff52"/><path d="M220.8,435.9 224,433.5 220.6,432.4 217.4,434.7Z" fill="#aaff50" stroke="#aaff50"/><path d="M227.5,434.7 230.7,432.4 227.2,431.3 224,433.5Z" fill="#b2ff4f" stroke="#b2ff4f"/><path d="M234.1,433.6 237.3,431.4 233.8,430.2 230.7,432.4Z" fill="#b9ff4d" stroke="#b9ff4d"/><path d="M240.8,432.6 243.9,430.4 240.4,429.2 237.3,431.4Z" fill="#c0ff4b" stroke="#c0ff4b"/><path d="M247.4,431.6 250.6,429.5 247.1,428.3 243.9,430.4Z" fill="#c7ff4a" stroke="#c7ff4a"/><path d="M254.1,430.7 257.2,428.7 253.7,427.5 250.6,429.5Z" fill="#cdff48" stroke="#cdff48"/><path d="M260.8,429.9 263.9,427.9 260.3,426.7 257.2,428.7Z" fill="#d3ff46" stroke="#d3ff46"/><path d="M267.4,429.1 270.5,427.1 266.9,426 263.9,427.9Z" fill="#d8ff45" stroke="#d8ff45"/><path d="M274.1,428.4 277.2,426.5 273.6,425.3 270.5,427.1Z" fill="#deff43" stroke="#deff43"/><path d="M280.8,427.7 283.8,425.9 280.2,424.7 277.2,426.5Z" fill="#e3ff42" stroke="#e3ff42"/><path d="M287.5,427.1 290.5,425.3 286.8,424.1 283.8,425.9Z" fill="#e7ff40" stroke="#e7ff40"/><path d="M294.1,426.5 297.1,424.8 293.5,423.6 290.5,425.3Z" fill="#ebff3f" stroke="#ebff3f"/><path d="M300.8,426 303.8,424.3 300.1,423.1 297.1,424.8Z" fill="#efff3d" stroke="#efff3d"/><path d="M307.5,425.5 310.4,423.8 306.7,422.7 303.8,424.3Z" fill="#f3ff3b" stroke="#f3ff3b"/><path d="M53.9,492.6 57.4,489.5 54.6,489.1 51.1,492.2Z" fill="#6677ff" stroke="#6677ff"/><path d="M60.3,489.9 63.8,486.7 61,486.3 57.4,489.5Z" fill="#6689ff" stroke="#6689ff"/><path d="M66.7,487.2 70.2,483.9 67.3,483.5 63.8,486.7Z" fill="#669cff" stroke="#669cff"/><path d="M73.1,484.4 76.6,481.2 73.7,480.7 70.2,483.9Z" fill="#66afff" stroke="#66afff"/><path d="M79.6,481.7 83.1,478.5 80.1,477.9 76.6,481.2Z" fill="#66c1ff" stroke="#66c1ff"/><path d="M86,479 89.5,475.7 86.6,475.2 83.1,478.5Z" fill="#66d3ff" stroke="#66d3ff"/><path d="M92.5,476.4 96,473.1 93,472.5 89.5,475.7Z" fill="#66e5ff" stroke="#66e5ff"/><path d="M99,473.7 102.4,470.5 99.4,469.8 96,473.1Z" fill="#66f7ff" stroke="#66f7ff"/><path d="M105.5,471.1 108.9,467.9 105.9,467.2 102.4,470.5Z" fill="#66fff6" stroke="#66fff6"/><path d="M112,468.6 115.4,465.4 112.4,464.7 108.9,467.9Z" fill="#66ffe5" stroke="#66ffe5"/><path d="M118.5,466.1 121.9,462.9 118.8,462.2 115.4,465.4Z" fill="#66ffd5" stroke="#66ffd5"/><path d="M125,463.7 128.5,460.6 125.3,459.8 121.9,462.9Z" fill="#66ffc5" stroke="#66ffc5"/><path d="M131.6,461.4 135,458.3 131.9,457.5 128.5,460.6Z" fill="#66ffb6" stroke="#66ffb6"/><path d="M138.1,459.1 141.5,456.1 138.4,455.2 135,458.3Z" fill="#66ffa7" stroke="#66ffa7"/><path d="M144.7,456.9 148.1,453.9 144.9,453 141.5,456.1Z" fill="#65ff98" stroke="#65ff98"/><path d="M151.3,454.8 154.7,451.9 151.5,451 148.1,453.9Z" fill="#64ff89" stroke="#64ff89"/><path d="M157.9,452.8 161.2,449.9 158,448.9 154.7,451.9Z" fill="#62ff7a" stroke="#62ff7a"/><path d="M164.5,450.9 167.8,448 164.6,447 161.2,449.9Z" fill="#60ff6c" stroke="#60ff6c"/><path d="M171.1,449 174.4,446.2 171.2,445.2 167.8,448Z" fill="#60ff5f" stroke="#60ff5f"/><path d="M177.7,447.2 181,444.5 177.7,443.4 174.4,446.2Z" fill="#6aff5d" stroke="#6aff5d"/><path d="M184.4,445.5 187.7,442.8 184.3,441.8 181,444.5Z" fill="#74ff5b" stroke="#74ff5b"/><path d="M191,443.9 194.3,441.3 190.9,440.2 187.7,442.8Z" fill="#7eff59" stroke="#7eff59"/><path d="M197.6,442.4 200.9,439.8 197.5,438.7 194.3,441.3Z" fill="#88ff58" stroke="#88ff58"/><path d="M204.3,440.9 207.5,438.4 204.2,437.3 200.9,439.8Z" fill="#91ff56" stroke="#91ff56"/><path d="M210.9,439.6 214.2,437.1 210.8,436 207.5,438.4Z" fill="#99ff54" stroke="#99ff54"/><path d="M217.6,438.3 220.8,435.9 217.4,434.7 214.2,437.1Z" fill="#a1ff52" stroke="#a1ff52"/><path d="M224.3,437 227.5,434.7 224,433.5 220.8,435.9Z" fill="#a9ff51" stroke="#a9ff51"/><path d="M230.9,435.9 234.1,433.6 230.7,432.4 227.5,434.7Z" fill="#b1ff4f" stroke="#b1ff4f"/><path d="M237.6,434.8 240.8,432.6 237.3,431.4 234.1,433.6Z" fill="#b8ff4d" stroke="#b8ff4d"/><path d="M244.3,433.8 247.4,431.6 243.9,430.4 240.8,432.6Z" fill="#bfff4c" stroke="#bfff4c"/><path d="M251,432.8 254.1,430.7 250.6,429.5 247.4,431.6Z" fill="#c6ff4a" stroke="#c6ff4a"/><path d="M257.7,431.9 260.8,429.9 257.2,428.7 254.1,430.7Z" fill="#ccff48" stroke="#ccff48"/><path d="M264.4,431.1 267.4,429.1 263.9,427.9 260.8,429.9Z" fill="#d2ff47" stroke="#d2ff47"/><path d="M271,430.3 274.1,428.4 270.5,427.1 267.4,429.1Z" fill="#d7ff45" stroke="#d7ff45"/><path d="M277.7,429.6 280.8,427.7 277.2,426.5 274.1,428.4Z" fill="#dcff44" stroke="#dcff44"/><path d="M284.4,428.9 287.5,427.1 283.8,425.9 280.8,427.7Z" fill="#e1ff42" stroke="#e1ff42"/><path d="M291.1,428.3 294.1,426.5 290.5,425.3 287.5,427.1Z" fill="#e6ff40" stroke="#e6ff40"/><path d="M297.8,427.7 300.8,426 297.1,424.8 294.1,426.5Z" fill="#eaff3f" stroke="#eaff3f"/><path d="M304.5,427.2 307.5,425.5 303.8,424.3 300.8,426Z" fill="#eeff3d" stroke="#eeff3d"/><path d="M311.2,426.7 314.2,425 310.4,423.8 307.5,425.5Z" fill="#f2ff3c" stroke="#f2ff3c"/><path d="M56.7,493 60.3,489.9 57.4,489.5 53.9,492.6Z" fill="#667cff" stroke="#667cff"/><path d="M63.2,490.4 66.7,487.2 63.8,486.7 60.3,489.9Z" fill="#668fff" stroke="#668fff"/><path d="M69.6,487.7 73.1,484.4 70.2,483.9 66.7,487.2Z" fill="#66a1ff" stroke="#66a1ff"/><path d="M76.1,485 79.6,481.7 76.6,481.2 73.1,484.4Z" fill="#66b3ff" stroke="#66b3ff"/><path d="M82.5,482.3 86,479 83.1,478.5 79.6,481.7Z" fill="#66c5ff" stroke="#66c5ff"/><path d="M89,479.6 92.5,476.4 89.5,475.7 86,479Z" fill="#66d7ff" stroke="#66d7ff"/><path d="M95.5,477 99,473.7 96,473.1 92.5,476.4Z" fill="#66e9ff" stroke="#66e9ff"/><path d="M102,474.4 105.5,471.1 102.4,470.5 99,473.7Z" fill="#66faff" stroke="#66faff"/><path d="M108.5,471.9 112,468.6 108.9,467.9 105.5,471.1Z" fill="#66fff3" stroke="#66fff3"/><path d="M115.1,469.4 118.5,466.1 115.4,465.4 112,468.6Z" fill="#66ffe3" stroke="#66ffe3"/><path d="M121.6,466.9 125,463.7 121.9,462.9 118.5,466.1Z" fill="#66ffd3" stroke="#66ffd3"/><path d="M128.2,464.6 131.6,461.4 128.5,460.6 125,463.7Z" fill="#66ffc3" stroke="#66ffc3"/><path d="M134.7,462.3 138.1,459.1 135,458.3 131.6,461.4Z" fill="#66ffb4" stroke="#66ffb4"/><path d="M141.3,460 144.7,456.9 141.5,456.1 138.1,459.1Z" fill="#66ffa5" stroke="#66ffa5"/><path d="M147.9,457.9 151.3,454.8 148.1,453.9 144.7,456.9Z" fill="#65ff97" stroke="#65ff97"/><path d="M154.5,455.8 157.9,452.8 154.7,451.9 151.3,454.8Z" fill="#64ff88" stroke="#64ff88"/><path d="M161.1,453.8 164.5,450.9 161.2,449.9 157.9,452.8Z" fill="#62ff79" stroke="#62ff79"/><path d="M167.8,451.9 171.1,449 167.8,448 164.5,450.9Z" fill="#61ff6b" stroke="#61ff6b"/><path d="M174.4,450.1 177.7,447.2 174.4,446.2 171.1,449Z" fill="#61ff5f" stroke="#61ff5f"/><path d="M181,448.3 184.4,445.5 181,444.5 177.7,447.2Z" fill="#6bff5d" stroke="#6bff5d"/><path d="M187.7,446.6 191,443.9 187.7,442.8 184.4,445.5Z" fill="#75ff5b" stroke="#75ff5b"/><path d="M194.4,445 197.6,442.4 194.3,441.3 191,443.9Z" fill="#7eff5a" stroke="#7eff5a"/><path d="M201,443.5 204.3,440.9 200.9,439.8 197.6,442.4Z" fill="#87ff58" stroke="#87ff58"/><path d="M207.7,442.1 210.9,439.6 207.5,438.4 204.3,440.9Z" fill="#90ff56" stroke="#90ff56"/><path d="M214.4,440.7 217.6,438.3 214.2,437.1 210.9,439.6Z" fill="#99ff54" stroke="#99ff54"/><path d="M221.1,439.5 224.3,437 220.8,435.9 217.6,438.3Z" fill="#a1ff53" stroke="#a1ff53"/><path d="M227.7,438.3 230.9,435.9 227.5,434.7 224.3,437Z" fill="#a9ff51" stroke="#a9ff51"/><path d="M234.4,437.1 237.6,434.8 234.1,433.6 230.9,435.9Z" fill="#b0ff4f" stroke="#b0ff4f"/><path d="M241.1,436 244.3,433.8 240.8,432.6 237.6,434.8Z" fill="#b7ff4e" stroke="#b7ff4e"/><path d="M247.8,435 251,432.8 247.4,431.6 244.3,433.8Z" fill="#beff4c" stroke="#beff4c"/><path d="M254.5,434.1 257.7,431.9 254.1,430.7 251,432.8Z" fill="#c4ff4a" stroke="#c4ff4a"/><path d="M261.2,433.2 264.4,431.1 260.8,429.9 257.7,431.9Z" fill="#caff49" stroke="#caff49"/><path d="M268,432.4 271,430.3 267.4,429.1 264.4,431.1Z" fill="#d0ff47" stroke="#d0ff47"/><path d="M274.7,431.6 277.7,429.6 274.1,428.4 271,430.3Z" fill="#d6ff46" stroke="#d6ff46"/><path d="M281.4,430.9 284.4,428.9 280.8,427.7 277.7,429.6Z" fill="#dbff44" stroke="#dbff44"/><path d="M288.1,430.2 291.1,428.3 287.5,427.1 284.4,428.9Z" fill="#e0ff42" stroke="#e0ff42"/><path d="M294.8,429.5 297.8,427.7 294.1,426.5 291.1,428.3Z" fill="#e4ff41" stroke="#e4ff41"/><path d="M301.5,428.9 304.5,427.2 300.8,426 297.8,427.7Z" fill="#e9ff3f" stroke="#e9ff3f"/><path d="M308.2,428.4 311.2,426.7 307.5,425.5 304.5,427.2Z" fill="#edff3e" stroke="#edff3e"/><path d="M59.6,493.5 63.2,490.4 60.3,489.9 56.7,493Z" fill="#6681ff" stroke="#6681ff"/><path d="M66,490.9 69.6,487.7 66.7,487.2 63.2,490.4Z" fill="#6693ff" stroke="#6693ff"/><path d="M72.5,488.3 76.1,485 73.1,484.4 69.6,487.7Z" fill="#66a5ff" stroke="#66a5ff"/><path d="M79,485.6 82.5,482.3 79.6,481.7 76.1,485Z" fill="#66b7ff" stroke="#66b7ff"/><path d="M85.5,483 89,479.6 86,479 82.5,482.3Z" fill="#66c9ff" stroke="#66c9ff"/><path d="M92,480.3 95.5,477 92.5,476.4 89,479.6Z" fill="#66dbff" stroke="#66dbff"/><path d="M98.5,477.7 102,474.4 99,473.7 95.5,477Z" fill="#66ecff" stroke="#66ecff"/><path d="M105,475.2 108.5,471.9 105.5,471.1 102,474.4Z" fill="#66fdff" stroke="#66fdff"/><path d="M111.6,472.7 115.1,469.4 112,468.6 108.5,471.9Z" fill="#66fff1" stroke="#66fff1"/><path d="M118.2,470.2 121.6,466.9 118.5,466.1 115.1,469.4Z" fill="#66ffe0" stroke="#66ffe0"/><path d="M124.7,467.8 128.2,464.6 125,463.7 121.6,466.9Z" fill="#66ffd0" stroke="#66ffd0"/><path d="M131.3,465.5 134.7,462.3 131.6,461.4 128.2,464.6Z" fill="#66ffc1" stroke="#66ffc1"/><path d="M137.9,463.2 141.3,460 138.1,459.1 134.7,462.3Z" fill="#66ffb2" stroke="#66ffb2"/><path d="M144.5,461 147.9,457.9 144.7,456.9 141.3,460Z" fill="#66ffa4" stroke="#66ffa4"/><path d="M151.1,458.9 154.5,455.8 151.3,454.8 147.9,457.9Z" fill="#65ff96" stroke="#65ff96"/><path d="M157.8,456.8 161.1,453.8 157.9,452.8 154.5,455.8Z" fill="#64ff87" stroke="#64ff87"/><path d="M164.4,454.8 167.8,451.9 164.5,450.9 161.1,453.8Z" fill="#62ff79" stroke="#62ff79"/><path d="M171.1,453 174.4,450.1 171.1,449 167.8,451.9Z" fill="#61ff6b" stroke="#61ff6b"/><path d="M177.7,451.1 181,448.3 177.7,447.2 174.4,450.1Z" fill="#61ff5f" stroke="#61ff5f"/><path d="M184.4,449.4 187.7,446.6 184.4,445.5 181,448.3Z" fill="#6bff5d" stroke="#6bff5d"/><path d="M191,447.8 194.4,445 191,443.9 187.7,446.6Z" fill="#75ff5c" stroke="#75ff5c"/><path d="M197.7,446.2 201,443.5 197.6,442.4 194.4,445Z" fill="#7eff5a" stroke="#7eff5a"/><path d="M204.4,444.7 207.7,442.1 204.3,440.9 201,443.5Z" fill="#87ff58" stroke="#87ff58"/><path d="M211.1,443.3 214.4,440.7 210.9,439.6 207.7,442.1Z" fill="#90ff56" stroke="#90ff56"/><path d="M217.8,442 221.1,439.5 217.6,438.3 214.4,440.7Z" fill="#98ff55" stroke="#98ff55"/><path d="M224.5,440.7 227.7,438.3 224.3,437 221.1,439.5Z" fill="#a0ff53" stroke="#a0ff53"/><path d="M231.2,439.5 234.4,437.1 230.9,435.9 227.7,438.3Z" fill="#a8ff51" stroke="#a8ff51"/><path d="M237.9,438.4 241.1,436 237.6,434.8 234.4,437.1Z" fill="#afff50" stroke="#afff50"/><path d="M244.7,437.3 247.8,435 244.3,433.8 241.1,436Z" fill="#b6ff4e" stroke="#b6ff4e"/><path d="M251.4,436.3 254.5,434.1 251,432.8 247.8,435Z" fill="#bdff4c" stroke="#bdff4c"/><path d="M258.1,435.4 261.2,433.2 257.7,431.9 254.5,434.1Z" fill="#c3ff4b" stroke="#c3ff4b"/><path d="M264.8,434.5 268,432.4 264.4,431.1 261.2,433.2Z" fill="#c9ff49" stroke="#c9ff49"/><path d="M271.6,433.6 274.7,431.6 271,430.3 268,432.4Z" fill="#cfff47" stroke="#cfff47"/><path d="M278.3,432.9 281.4,430.9 277.7,429.6 274.7,431.6Z" fill="#d4ff46" stroke="#d4ff46"/><path d="M285,432.1 288.1,430.2 284.4,428.9 281.4,430.9Z" fill="#d9ff44" stroke="#d9ff44"/><path d="M291.8,431.4 294.8,429.5 291.1,428.3 288.1,430.2Z" fill="#deff43" stroke="#deff43"/><path d="M298.5,430.8 301.5,428.9 297.8,427.7 294.8,429.5Z" fill="#e3ff41" stroke="#e3ff41"/><path d="M305.3,430.2 308.2,428.4 304.5,427.2 301.5,428.9Z" fill="#e7ff3f" stroke="#e7ff3f"/><path d="M62.5,494.1 66,490.9 63.2,490.4 59.6,493.5Z" fill="#6686ff" stroke="#6686ff"/><path d="M69,491.5 72.5,488.3 69.6,487.7 66,490.9Z" fill="#6698ff" stroke="#6698ff"/><path d="M75.5,488.9 79,485.6 76.1,485 72.5,488.3Z" fill="#66a9ff" stroke="#66a9ff"/><path d="M82,486.3 85.5,483 82.5,482.3 79,485.6Z" fill="#66bbff" stroke="#66bbff"/><path d="M88.5,483.7 92,480.3 89,479.6 85.5,483Z" fill="#66ccff" stroke="#66ccff"/><path d="M95,481.1 98.5,477.7 95.5,477 92,480.3Z" fill="#66deff" stroke="#66deff"/><path d="M101.6,478.5 105,475.2 102,474.4 98.5,477.7Z" fill="#66efff" stroke="#66efff"/><path d="M108.1,476 111.6,472.7 108.5,471.9 105,475.2Z" fill="#66fffe" stroke="#66fffe"/><path d="M114.7,473.5 118.2,470.2 115.1,469.4 111.6,472.7Z" fill="#66ffee" stroke="#66ffee"/><path d="M121.3,471.1 124.7,467.8 121.6,466.9 118.2,470.2Z" fill="#66ffde" stroke="#66ffde"/><path d="M127.9,468.7 131.3,465.5 128.2,464.6 124.7,467.8Z" fill="#66ffcf" stroke="#66ffcf"/><path d="M134.5,466.4 137.9,463.2 134.7,462.3 131.3,465.5Z" fill="#66ffc0" stroke="#66ffc0"/><path d="M141.1,464.2 144.5,461 141.3,460 137.9,463.2Z" fill="#66ffb1" stroke="#66ffb1"/><path d="M147.7,462 151.1,458.9 147.9,457.9 144.5,461Z" fill="#66ffa3" stroke="#66ffa3"/><path d="M154.4,459.9 157.8,456.8 154.5,455.8 151.1,458.9Z" fill="#66ff95" stroke="#66ff95"/><path d="M161,457.9 164.4,454.8 161.1,453.8 157.8,456.8Z" fill="#64ff87" stroke="#64ff87"/><path d="M167.7,455.9 171.1,453 167.8,451.9 164.4,454.8Z" fill="#63ff79" stroke="#63ff79"/><path d="M174.4,454.1 177.7,451.1 174.4,450.1 171.1,453Z" fill="#61ff6b" stroke="#61ff6b"/><path d="M181,452.3 184.4,449.4 181,448.3 177.7,451.1Z" fill="#61ff5f" stroke="#61ff5f"/><path d="M187.7,450.6 191,447.8 187.7,446.6 184.4,449.4Z" fill="#6bff5e" stroke="#6bff5e"/><path d="M194.4,449 197.7,446.2 194.4,445 191,447.8Z" fill="#75ff5c" stroke="#75ff5c"/><path d="M201.1,447.4 204.4,444.7 201,443.5 197.7,446.2Z" fill="#7eff5a" stroke="#7eff5a"/><path d="M207.8,445.9 211.1,443.3 207.7,442.1 204.4,444.7Z" fill="#87ff58" stroke="#87ff58"/><path d="M214.6,444.5 217.8,442 214.4,440.7 211.1,443.3Z" fill="#8fff57" stroke="#8fff57"/><path d="M221.3,443.2 224.5,440.7 221.1,439.5 217.8,442Z" fill="#97ff55" stroke="#97ff55"/><path d="M228,442 231.2,439.5 227.7,438.3 224.5,440.7Z" fill="#9fff53" stroke="#9fff53"/><path d="M234.7,440.8 237.9,438.4 234.4,437.1 231.2,439.5Z" fill="#a7ff52" stroke="#a7ff52"/><path d="M241.5,439.7 244.7,437.3 241.1,436 237.9,438.4Z" fill="#aeff50" stroke="#aeff50"/><path d="M248.2,438.6 251.4,436.3 247.8,435 244.7,437.3Z" fill="#b5ff4e" stroke="#b5ff4e"/><path d="M255,437.6 258.1,435.4 254.5,434.1 251.4,436.3Z" fill="#bbff4d" stroke="#bbff4d"/><path d="M261.7,436.7 264.8,434.5 261.2,433.2 258.1,435.4Z" fill="#c1ff4b" stroke="#c1ff4b"/><path d="M268.5,435.8 271.6,433.6 268,432.4 264.8,434.5Z" fill="#c7ff49" stroke="#c7ff49"/><path d="M275.2,434.9 278.3,432.9 274.7,431.6 271.6,433.6Z" fill="#cdff48" stroke="#cdff48"/><path d="M282,434.2 285,432.1 281.4,430.9 278.3,432.9Z" fill="#d3ff46" stroke="#d3ff46"/><path d="M288.7,433.4 291.8,431.4 288.1,430.2 285,432.1Z" fill="#d8ff45" stroke="#d8ff45"/><path d="M295.5,432.7 298.5,430.8 294.8,429.5 291.8,431.4Z" fill="#ddff43" stroke="#ddff43"/><path d="M302.2,432 305.3,430.2 301.5,428.9 298.5,430.8Z" fill="#e1ff41" stroke="#e1ff41"/><path d="M65.4,494.7 69,491.5 66,490.9 62.5,494.1Z" fill="#668aff" stroke="#668aff"/><path d="M71.9,492.2 75.5,488.9 72.5,488.3 69,491.5Z" fill="#669cff" stroke="#669cff"/><path d="M78.4,489.6 82,486.3 79,485.6 75.5,488.9Z" fill="#66adff" stroke="#66adff"/><path d="M85,487 88.5,483.7 85.5,483 82,486.3Z" fill="#66beff" stroke="#66beff"/><path d="M91.5,484.4 95,481.1 92,480.3 88.5,483.7Z" fill="#66d0ff" stroke="#66d0ff"/><path d="M98.1,481.9 101.6,478.5 98.5,477.7 95,481.1Z" fill="#66e1ff" stroke="#66e1ff"/><path d="M104.6,479.3 108.1,476 105,475.2 101.6,478.5Z" fill="#66f1ff" stroke="#66f1ff"/><path d="M111.2,476.8 114.7,473.5 111.6,472.7 108.1,476Z" fill="#66fffc" stroke="#66fffc"/><path d="M117.8,474.4 121.3,471.1 118.2,470.2 114.7,473.5Z" fill="#66ffec" stroke="#66ffec"/><path d="M124.4,472 127.9,468.7 124.7,467.8 121.3,471.1Z" fill="#66ffdc" stroke="#66ffdc"/><path d="M131,469.7 134.5,466.4 131.3,465.5 127.9,468.7Z" fill="#66ffcd" stroke="#66ffcd"/><path d="M137.7,467.4 141.1,464.2 137.9,463.2 134.5,466.4Z" fill="#66ffbe" stroke="#66ffbe"/><path d="M144.3,465.2 147.7,462 144.5,461 141.1,464.2Z" fill="#66ffb0" stroke="#66ffb0"/><path d="M151,463 154.4,459.9 151.1,458.9 147.7,462Z" fill="#66ffa2" stroke="#66ffa2"/><path d="M157.6,461 161,457.9 157.8,456.8 154.4,459.9Z" fill="#66ff94" stroke="#66ff94"/><path d="M164.3,459 167.7,455.9 164.4,454.8 161,457.9Z" fill="#64ff86" stroke="#64ff86"/><path d="M171,457.1 174.4,454.1 171.1,453 167.7,455.9Z" fill="#63ff79" stroke="#63ff79"/><path d="M177.7,455.2 181,452.3 177.7,451.1 174.4,454.1Z" fill="#61ff6b" stroke="#61ff6b"/><path d="M184.4,453.5 187.7,450.6 184.4,449.4 181,452.3Z" fill="#61ff5f" stroke="#61ff5f"/><path d="M191.1,451.8 194.4,449 191,447.8 187.7,450.6Z" fill="#6bff5e" stroke="#6bff5e"/><path d="M197.8,450.2 201.1,447.4 197.7,446.2 194.4,449Z" fill="#74ff5c" stroke="#74ff5c"/><path d="M204.6,448.6 207.8,445.9 204.4,444.7 201.1,447.4Z" fill="#7dff5a" stroke="#7dff5a"/><path d="M211.3,447.2 214.6,444.5 211.1,443.3 207.8,445.9Z" fill="#86ff59" stroke="#86ff59"/><path d="M218,445.8 221.3,443.2 217.8,442 214.6,444.5Z" fill="#8eff57" stroke="#8eff57"/><path d="M224.8,444.5 228,442 224.5,440.7 221.3,443.2Z" fill="#96ff55" stroke="#96ff55"/><path d="M231.5,443.3 234.7,440.8 231.2,439.5 228,442Z" fill="#9eff53" stroke="#9eff53"/><path d="M238.3,442.1 241.5,439.7 237.9,438.4 234.7,440.8Z" fill="#a5ff52" stroke="#a5ff52"/><path d="M245,441 248.2,438.6 244.7,437.3 241.5,439.7Z" fill="#acff50" stroke="#acff50"/><path d="M251.8,439.9 255,437.6 251.4,436.3 248.2,438.6Z" fill="#b3ff4e" stroke="#b3ff4e"/><path d="M258.6,438.9 261.7,436.7 258.1,435.4 255,437.6Z" fill="#baff4d" stroke="#baff4d"/><path d="M265.3,438 268.5,435.8 264.8,434.5 261.7,436.7Z" fill="#c0ff4b" stroke="#c0ff4b"/><path d="M272.1,437.1 275.2,434.9 271.6,433.6 268.5,435.8Z" fill="#c6ff4a" stroke="#c6ff4a"/><path d="M278.9,436.3 282,434.2 278.3,432.9 275.2,434.9Z" fill="#ccff48" stroke="#ccff48"/><path d="M285.7,435.5 288.7,433.4 285,432.1 282,434.2Z" fill="#d1ff46" stroke="#d1ff46"/><path d="M292.4,434.7 295.5,432.7 291.8,431.4 288.7,433.4Z" fill="#d6ff45" stroke="#d6ff45"/><path d="M299.2,434 302.2,432 298.5,430.8 295.5,432.7Z" fill="#dbff43" stroke="#dbff43"/><path d="M68.3,495.4 71.9,492.2 69,491.5 65.4,494.7Z" fill="#668eff" stroke="#668eff"/><path d="M74.9,492.9 78.4,489.6 75.5,488.9 71.9,492.2Z" fill="#669fff" stroke="#669fff"/><path d="M81.4,490.3 85,487 82,486.3 78.4,489.6Z" fill="#66b0ff" stroke="#66b0ff"/><path d="M88,487.8 91.5,484.4 88.5,483.7 85,487Z" fill="#66c2ff" stroke="#66c2ff"/><path d="M94.5,485.2 98.1,481.9 95,481.1 91.5,484.4Z" fill="#66d2ff" stroke="#66d2ff"/><path d="M101.1,482.7 104.6,479.3 101.6,478.5 98.1,481.9Z" fill="#66e3ff" stroke="#66e3ff"/><path d="M107.7,480.2 111.2,476.8 108.1,476 104.6,479.3Z" fill="#66f4ff" stroke="#66f4ff"/><path d="M114.3,477.8 117.8,474.4 114.7,473.5 111.2,476.8Z" fill="#66fffa" stroke="#66fffa"/><path d="M120.9,475.3 124.4,472 121.3,471.1 117.8,474.4Z" fill="#66ffea" stroke="#66ffea"/><path d="M127.6,473 131,469.7 127.9,468.7 124.4,472Z" fill="#66ffdb" stroke="#66ffdb"/><path d="M134.2,470.7 137.7,467.4 134.5,466.4 131,469.7Z" fill="#66ffcc" stroke="#66ffcc"/><path d="M140.9,468.4 144.3,465.2 141.1,464.2 137.7,467.4Z" fill="#66ffbd" stroke="#66ffbd"/><path d="M147.5,466.2 151,463 147.7,462 144.3,465.2Z" fill="#66ffaf" stroke="#66ffaf"/><path d="M154.2,464.1 157.6,461 154.4,459.9 151,463Z" fill="#66ffa1" stroke="#66ffa1"/><path d="M160.9,462.1 164.3,459 161,457.9 157.6,461Z" fill="#66ff94" stroke="#66ff94"/><path d="M167.6,460.1 171,457.1 167.7,455.9 164.3,459Z" fill="#64ff86" stroke="#64ff86"/><path d="M174.3,458.2 177.7,455.2 174.4,454.1 171,457.1Z" fill="#63ff79" stroke="#63ff79"/><path d="M181,456.4 184.4,453.5 181,452.3 177.7,455.2Z" fill="#61ff6c" stroke="#61ff6c"/><path d="M187.8,454.7 191.1,451.8 187.7,450.6 184.4,453.5Z" fill="#61ff60" stroke="#61ff60"/><path d="M194.5,453 197.8,450.2 194.4,449 191.1,451.8Z" fill="#6aff5e" stroke="#6aff5e"/><path d="M201.2,451.4 204.6,448.6 201.1,447.4 197.8,450.2Z" fill="#73ff5c" stroke="#73ff5c"/><path d="M208,449.9 211.3,447.2 207.8,445.9 204.6,448.6Z" fill="#7cff5b" stroke="#7cff5b"/><path d="M214.8,448.5 218,445.8 214.6,444.5 211.3,447.2Z" fill="#85ff59" stroke="#85ff59"/><path d="M221.5,447.1 224.8,444.5 221.3,443.2 218,445.8Z" fill="#8dff57" stroke="#8dff57"/><path d="M228.3,445.8 231.5,443.3 228,442 224.8,444.5Z" fill="#95ff55" stroke="#95ff55"/><path d="M235.1,444.6 238.3,442.1 234.7,440.8 231.5,443.3Z" fill="#9cff54" stroke="#9cff54"/><path d="M241.8,443.4 245,441 241.5,439.7 238.3,442.1Z" fill="#a4ff52" stroke="#a4ff52"/><path d="M248.6,442.3 251.8,439.9 248.2,438.6 245,441Z" fill="#abff50" stroke="#abff50"/><path d="M255.4,441.3 258.6,438.9 255,437.6 251.8,439.9Z" fill="#b2ff4f" stroke="#b2ff4f"/><path d="M262.2,440.3 265.3,438 261.7,436.7 258.6,438.9Z" fill="#b8ff4d" stroke="#b8ff4d"/><path d="M269,439.3 272.1,437.1 268.5,435.8 265.3,438Z" fill="#beff4b" stroke="#beff4b"/><path d="M275.8,438.4 278.9,436.3 275.2,434.9 272.1,437.1Z" fill="#c4ff4a" stroke="#c4ff4a"/><path d="M282.6,437.6 285.7,435.5 282,434.2 278.9,436.3Z" fill="#caff48" stroke="#caff48"/><path d="M289.4,436.8 292.4,434.7 288.7,433.4 285.7,435.5Z" fill="#cfff47" stroke="#cfff47"/><path d="M296.2,436 299.2,434 295.5,432.7 292.4,434.7Z" fill="#d5ff45" stroke="#d5ff45"/><path d="M71.3,496.2 74.9,492.9 71.9,492.2 68.3,495.4Z" fill="#6692ff" stroke="#6692ff"/><path d="M77.8,493.7 81.4,490.3 78.4,489.6 74.9,492.9Z" fill="#66a3ff" stroke="#66a3ff"/><path d="M84.4,491.2 88,487.8 85,487 81.4,490.3Z" fill="#66b3ff" stroke="#66b3ff"/><path d="M91,488.6 94.5,485.2 91.5,484.4 88,487.8Z" fill="#66c4ff" stroke="#66c4ff"/><path d="M97.6,486.1 101.1,482.7 98.1,481.9 94.5,485.2Z" fill="#66d5ff" stroke="#66d5ff"/><path d="M104.2,483.6 107.7,480.2 104.6,479.3 101.1,482.7Z" fill="#66e5ff" stroke="#66e5ff"/><path d="M110.8,481.2 114.3,477.8 111.2,476.8 107.7,480.2Z" fill="#66f6ff" stroke="#66f6ff"/><path d="M117.4,478.7 120.9,475.3 117.8,474.4 114.3,477.8Z" fill="#66fff8" stroke="#66fff8"/><path d="M124.1,476.3 127.6,473 124.4,472 120.9,475.3Z" fill="#66ffe9" stroke="#66ffe9"/><path d="M130.8,474 134.2,470.7 131,469.7 127.6,473Z" fill="#66ffda" stroke="#66ffda"/><path d="M137.4,471.7 140.9,468.4 137.7,467.4 134.2,470.7Z" fill="#66ffcb" stroke="#66ffcb"/><path d="M144.1,469.5 147.5,466.2 144.3,465.2 140.9,468.4Z" fill="#66ffbc" stroke="#66ffbc"/><path d="M150.8,467.4 154.2,464.1 151,463 147.5,466.2Z" fill="#66ffaf" stroke="#66ffaf"/><path d="M157.5,465.3 160.9,462.1 157.6,461 154.2,464.1Z" fill="#66ffa1" stroke="#66ffa1"/><path d="M164.2,463.3 167.6,460.1 164.3,459 160.9,462.1Z" fill="#66ff94" stroke="#66ff94"/><path d="M170.9,461.3 174.3,458.2 171,457.1 167.6,460.1Z" fill="#65ff87" stroke="#65ff87"/><path d="M177.7,459.5 181,456.4 177.7,455.2 174.3,458.2Z" fill="#63ff79" stroke="#63ff79"/><path d="M184.4,457.7 187.8,454.7 184.4,453.5 181,456.4Z" fill="#61ff6c" stroke="#61ff6c"/><path d="M191.2,455.9 194.5,453 191.1,451.8 187.8,454.7Z" fill="#60ff60" stroke="#60ff60"/><path d="M197.9,454.3 201.2,451.4 197.8,450.2 194.5,453Z" fill="#6aff5e" stroke="#6aff5e"/><path d="M204.7,452.7 208,449.9 204.6,448.6 201.2,451.4Z" fill="#73ff5c" stroke="#73ff5c"/><path d="M211.5,451.2 214.8,448.5 211.3,447.2 208,449.9Z" fill="#7bff5b" stroke="#7bff5b"/><path d="M218.2,449.8 221.5,447.1 218,445.8 214.8,448.5Z" fill="#84ff59" stroke="#84ff59"/><path d="M225,448.4 228.3,445.8 224.8,444.5 221.5,447.1Z" fill="#8cff57" stroke="#8cff57"/><path d="M231.8,447.2 235.1,444.6 231.5,443.3 228.3,445.8Z" fill="#94ff56" stroke="#94ff56"/><path d="M238.6,445.9 241.8,443.4 238.3,442.1 235.1,444.6Z" fill="#9bff54" stroke="#9bff54"/><path d="M245.4,444.8 248.6,442.3 245,441 241.8,443.4Z" fill="#a2ff52" stroke="#a2ff52"/><path d="M252.2,443.7 255.4,441.3 251.8,439.9 248.6,442.3Z" fill="#a9ff51" stroke="#a9ff51"/><path d="M259,442.6 262.2,440.3 258.6,438.9 255.4,441.3Z" fill="#b0ff4f" stroke="#b0ff4f"/><path d="M265.8,441.6 269,439.3 265.3,438 262.2,440.3Z" fill="#b6ff4d" stroke="#b6ff4d"/><path d="M272.6,440.7 275.8,438.4 272.1,437.1 269,439.3Z" fill="#bcff4c" stroke="#bcff4c"/><path d="M279.5,439.8 282.6,437.6 278.9,436.3 275.8,438.4Z" fill="#c2ff4a" stroke="#c2ff4a"/><path d="M286.3,438.9 289.4,436.8 285.7,435.5 282.6,437.6Z" fill="#c8ff49" stroke="#c8ff49"/><path d="M293.1,438.1 296.2,436 292.4,434.7 289.4,436.8Z" fill="#ceff47" stroke="#ceff47"/><path d="M74.3,497 77.8,493.7 74.9,492.9 71.3,496.2Z" fill="#6695ff" stroke="#6695ff"/><path d="M80.8,494.5 84.4,491.2 81.4,490.3 77.8,493.7Z" fill="#66a5ff" stroke="#66a5ff"/><path d="M87.4,492 91,488.6 88,487.8 84.4,491.2Z" fill="#66b6ff" stroke="#66b6ff"/><path d="M94,489.6 97.6,486.1 94.5,485.2 91,488.6Z" fill="#66c7ff" stroke="#66c7ff"/><path d="M100.7,487.1 104.2,483.6 101.1,482.7 97.6,486.1Z" fill="#66d7ff" stroke="#66d7ff"/><path d="M107.3,484.6 110.8,481.2 107.7,480.2 104.2,483.6Z" fill="#66e7ff" stroke="#66e7ff"/><path d="M113.9,482.2 117.4,478.7 114.3,477.8 110.8,481.2Z" fill="#66f7ff" stroke="#66f7ff"/><path d="M120.6,479.8 124.1,476.3 120.9,475.3 117.4,478.7Z" fill="#66fff7" stroke="#66fff7"/><path d="M127.3,477.4 130.8,474 127.6,473 124.1,476.3Z" fill="#66ffe8" stroke="#66ffe8"/><path d="M134,475.1 137.4,471.7 134.2,470.7 130.8,474Z" fill="#66ffd9" stroke="#66ffd9"/><path d="M140.6,472.8 144.1,469.5 140.9,468.4 137.4,471.7Z" fill="#66ffca" stroke="#66ffca"/><path d="M147.4,470.7 150.8,467.4 147.5,466.2 144.1,469.5Z" fill="#66ffbc" stroke="#66ffbc"/><path d="M154.1,468.5 157.5,465.3 154.2,464.1 150.8,467.4Z" fill="#66ffae" stroke="#66ffae"/><path d="M160.8,466.5 164.2,463.3 160.9,462.1 157.5,465.3Z" fill="#66ffa1" stroke="#66ffa1"/><path d="M167.5,464.5 170.9,461.3 167.6,460.1 164.2,463.3Z" fill="#66ff94" stroke="#66ff94"/><path d="M174.3,462.6 177.7,459.5 174.3,458.2 170.9,461.3Z" fill="#65ff87" stroke="#65ff87"/><path d="M181,460.7 184.4,457.7 181,456.4 177.7,459.5Z" fill="#63ff7a" stroke="#63ff7a"/><path d="M187.8,458.9 191.2,455.9 187.8,454.7 184.4,457.7Z" fill="#62ff6d" stroke="#62ff6d"/><path d="M194.6,457.2 197.9,454.3 194.5,453 191.2,455.9Z" fill="#60ff60" stroke="#60ff60"/><path d="M201.4,455.6 204.7,452.7 201.2,451.4 197.9,454.3Z" fill="#69ff5e" stroke="#69ff5e"/><path d="M208.1,454.1 211.5,451.2 208,449.9 204.7,452.7Z" fill="#72ff5d" stroke="#72ff5d"/><path d="M214.9,452.6 218.2,449.8 214.8,448.5 211.5,451.2Z" fill="#7aff5b" stroke="#7aff5b"/><path d="M221.7,451.2 225,448.4 221.5,447.1 218.2,449.8Z" fill="#82ff59" stroke="#82ff59"/><path d="M228.6,449.8 231.8,447.2 228.3,445.8 225,448.4Z" fill="#8aff58" stroke="#8aff58"/><path d="M235.4,448.5 238.6,445.9 235.1,444.6 231.8,447.2Z" fill="#92ff56" stroke="#92ff56"/><path d="M242.2,447.3 245.4,444.8 241.8,443.4 238.6,445.9Z" fill="#99ff54" stroke="#99ff54"/><path d="M249,446.1 252.2,443.7 248.6,442.3 245.4,444.8Z" fill="#a1ff52" stroke="#a1ff52"/><path d="M255.8,445 259,442.6 255.4,441.3 252.2,443.7Z" fill="#a7ff51" stroke="#a7ff51"/><path d="M262.7,444 265.8,441.6 262.2,440.3 259,442.6Z" fill="#aeff4f" stroke="#aeff4f"/><path d="M269.5,443 272.6,440.7 269,439.3 265.8,441.6Z" fill="#b5ff4e" stroke="#b5ff4e"/><path d="M276.3,442 279.5,439.8 275.8,438.4 272.6,440.7Z" fill="#bbff4c" stroke="#bbff4c"/><path d="M283.2,441.1 286.3,438.9 282.6,437.6 279.5,439.8Z" fill="#c1ff4a" stroke="#c1ff4a"/><path d="M290,440.2 293.1,438.1 289.4,436.8 286.3,438.9Z" fill="#c7ff49" stroke="#c7ff49"/><path d="M77.3,497.9 80.8,494.5 77.8,493.7 74.3,497Z" fill="#6698ff" stroke="#6698ff"/><path d="M83.9,495.5 87.4,492 84.4,491.2 80.8,494.5Z" fill="#66a8ff" stroke="#66a8ff"/><path d="M90.5,493 94,489.6 91,488.6 87.4,492Z" fill="#66b8ff" stroke="#66b8ff"/><path d="M97.1,490.5 100.7,487.1 97.6,486.1 94,489.6Z" fill="#66c9ff" stroke="#66c9ff"/><path d="M103.8,488.1 107.3,484.6 104.2,483.6 100.7,487.1Z" fill="#66d9ff" stroke="#66d9ff"/><path d="M110.4,485.6 113.9,482.2 110.8,481.2 107.3,484.6Z" fill="#66e9ff" stroke="#66e9ff"/><path d="M117.1,483.2 120.6,479.8 117.4,478.7 113.9,482.2Z" fill="#66f9ff" stroke="#66f9ff"/><path d="M123.8,480.8 127.3,477.4 124.1,476.3 120.6,479.8Z" fill="#66fff6" stroke="#66fff6"/><path d="M130.5,478.5 134,475.1 130.8,474 127.3,477.4Z" fill="#66ffe7" stroke="#66ffe7"/><path d="M137.2,476.2 140.6,472.8 137.4,471.7 134,475.1Z" fill="#66ffd8" stroke="#66ffd8"/><path d="M143.9,474 147.4,470.7 144.1,469.5 140.6,472.8Z" fill="#66ffca" stroke="#66ffca"/><path d="M150.6,471.8 154.1,468.5 150.8,467.4 147.4,470.7Z" fill="#66ffbc" stroke="#66ffbc"/><path d="M157.4,469.7 160.8,466.5 157.5,465.3 154.1,468.5Z" fill="#66ffae" stroke="#66ffae"/><path d="M164.1,467.7 167.5,464.5 164.2,463.3 160.8,466.5Z" fill="#66ffa1" stroke="#66ffa1"/><path d="M170.9,465.7 174.3,462.6 170.9,461.3 167.5,464.5Z" fill="#66ff95" stroke="#66ff95"/><path d="M177.7,463.8 181,460.7 177.7,459.5 174.3,462.6Z" fill="#65ff88" stroke="#65ff88"/><path d="M184.4,462 187.8,458.9 184.4,457.7 181,460.7Z" fill="#63ff7b" stroke="#63ff7b"/><path d="M191.2,460.2 194.6,457.2 191.2,455.9 187.8,458.9Z" fill="#62ff6e" stroke="#62ff6e"/><path d="M198,458.6 201.4,455.6 197.9,454.3 194.6,457.2Z" fill="#60ff62" stroke="#60ff62"/><path d="M204.8,457 208.1,454.1 204.7,452.7 201.4,455.6Z" fill="#68ff5f" stroke="#68ff5f"/><path d="M211.6,455.4 214.9,452.6 211.5,451.2 208.1,454.1Z" fill="#70ff5d" stroke="#70ff5d"/><path d="M218.4,453.9 221.7,451.2 218.2,449.8 214.9,452.6Z" fill="#79ff5b" stroke="#79ff5b"/><path d="M225.3,452.5 228.6,449.8 225,448.4 221.7,451.2Z" fill="#81ff59" stroke="#81ff59"/><path d="M232.1,451.2 235.4,448.5 231.8,447.2 228.6,449.8Z" fill="#89ff58" stroke="#89ff58"/><path d="M238.9,449.9 242.2,447.3 238.6,445.9 235.4,448.5Z" fill="#90ff56" stroke="#90ff56"/><path d="M245.8,448.7 249,446.1 245.4,444.8 242.2,447.3Z" fill="#98ff54" stroke="#98ff54"/><path d="M252.6,447.5 255.8,445 252.2,443.7 249,446.1Z" fill="#9fff53" stroke="#9fff53"/><path d="M259.5,446.4 262.7,444 259,442.6 255.8,445Z" fill="#a6ff51" stroke="#a6ff51"/><path d="M266.3,445.4 269.5,443 265.8,441.6 262.7,444Z" fill="#acff4f" stroke="#acff4f"/><path d="M273.2,444.4 276.3,442 272.6,440.7 269.5,443Z" fill="#b3ff4e" stroke="#b3ff4e"/><path d="M280,443.4 283.2,441.1 279.5,439.8 276.3,442Z" fill="#b9ff4c" stroke="#b9ff4c"/><path d="M286.9,442.5 290,440.2 286.3,438.9 283.2,441.1Z" fill="#bfff4b" stroke="#bfff4b"/><path d="M80.3,498.9 83.9,495.5 80.8,494.5 77.3,497.9Z" fill="#669aff" stroke="#669aff"/><path d="M86.9,496.4 90.5,493 87.4,492 83.9,495.5Z" fill="#66aaff" stroke="#66aaff"/><path d="M93.6,494 97.1,490.5 94,489.6 90.5,493Z" fill="#66baff" stroke="#66baff"/><path d="M100.2,491.5 103.8,488.1 100.7,487.1 97.1,490.5Z" fill="#66caff" stroke="#66caff"/><path d="M106.9,489.1 110.4,485.6 107.3,484.6 103.8,488.1Z" fill="#66daff" stroke="#66daff"/><path d="M113.6,486.7 117.1,483.2 113.9,482.2 110.4,485.6Z" fill="#66eaff" stroke="#66eaff"/><path d="M120.3,484.3 123.8,480.8 120.6,479.8 117.1,483.2Z" fill="#66faff" stroke="#66faff"/><path d="M127,482 130.5,478.5 127.3,477.4 123.8,480.8Z" fill="#66fff5" stroke="#66fff5"/><path d="M133.7,479.7 137.2,476.2 134,475.1 130.5,478.5Z" fill="#66ffe6" stroke="#66ffe6"/><path d="M140.4,477.4 143.9,474 140.6,472.8 137.2,476.2Z" fill="#66ffd8" stroke="#66ffd8"/><path d="M147.2,475.2 150.6,471.8 147.4,470.7 143.9,474Z" fill="#66ffca" stroke="#66ffca"/><path d="M153.9,473.1 157.4,469.7 154.1,468.5 150.6,471.8Z" fill="#66ffbc" stroke="#66ffbc"/><path d="M160.7,471 164.1,467.7 160.8,466.5 157.4,469.7Z" fill="#66ffaf" stroke="#66ffaf"/><path d="M167.5,469 170.9,465.7 167.5,464.5 164.1,467.7Z" fill="#66ffa2" stroke="#66ffa2"/><path d="M174.2,467 177.7,463.8 174.3,462.6 170.9,465.7Z" fill="#66ff95" stroke="#66ff95"/><path d="M181,465.1 184.4,462 181,460.7 177.7,463.8Z" fill="#65ff89" stroke="#65ff89"/><path d="M187.8,463.3 191.2,460.2 187.8,458.9 184.4,462Z" fill="#64ff7c" stroke="#64ff7c"/><path d="M194.7,461.6 198,458.6 194.6,457.2 191.2,460.2Z" fill="#62ff6f" stroke="#62ff6f"/><path d="M201.5,459.9 204.8,457 201.4,455.6 198,458.6Z" fill="#60ff63" stroke="#60ff63"/><path d="M208.3,458.3 211.6,455.4 208.1,454.1 204.8,457Z" fill="#67ff5f" stroke="#67ff5f"/><path d="M215.1,456.8 218.4,453.9 214.9,452.6 211.6,455.4Z" fill="#6fff5d" stroke="#6fff5d"/><path d="M222,455.3 225.3,452.5 221.7,451.2 218.4,453.9Z" fill="#77ff5b" stroke="#77ff5b"/><path d="M228.8,453.9 232.1,451.2 228.6,449.8 225.3,452.5Z" fill="#7fff5a" stroke="#7fff5a"/><path d="M235.7,452.6 238.9,449.9 235.4,448.5 232.1,451.2Z" fill="#87ff58" stroke="#87ff58"/><path d="M242.5,451.3 245.8,448.7 242.2,447.3 238.9,449.9Z" fill="#8fff56" stroke="#8fff56"/><path d="M249.4,450.1 252.6,447.5 249,446.1 245.8,448.7Z" fill="#96ff55" stroke="#96ff55"/><path d="M256.3,448.9 259.5,446.4 255.8,445 252.6,447.5Z" fill="#9dff53" stroke="#9dff53"/><path d="M263.1,447.8 266.3,445.4 262.7,444 259.5,446.4Z" fill="#a4ff51" stroke="#a4ff51"/><path d="M270,446.8 273.2,444.4 269.5,443 266.3,445.4Z" fill="#abff50" stroke="#abff50"/><path d="M276.9,445.7 280,443.4 276.3,442 273.2,444.4Z" fill="#b1ff4e" stroke="#b1ff4e"/><path d="M283.8,444.8 286.9,442.5 283.2,441.1 280,443.4Z" fill="#b7ff4d" stroke="#b7ff4d"/><path d="M83.3,499.9 86.9,496.4 83.9,495.5 80.3,498.9Z" fill="#669cff" stroke="#669cff"/><path d="M90,497.5 93.6,494 90.5,493 86.9,496.4Z" fill="#66acff" stroke="#66acff"/><path d="M96.7,495 100.2,491.5 97.1,490.5 93.6,494Z" fill="#66bcff" stroke="#66bcff"/><path d="M103.3,492.6 106.9,489.1 103.8,488.1 100.2,491.5Z" fill="#66ccff" stroke="#66ccff"/><path d="M110,490.2 113.6,486.7 110.4,485.6 106.9,489.1Z" fill="#66dbff" stroke="#66dbff"/><path d="M116.7,487.8 120.3,484.3 117.1,483.2 113.6,486.7Z" fill="#66ebff" stroke="#66ebff"/><path d="M123.5,485.5 127,482 123.8,480.8 120.3,484.3Z" fill="#66faff" stroke="#66faff"/><path d="M130.2,483.1 133.7,479.7 130.5,478.5 127,482Z" fill="#66fff5" stroke="#66fff5"/><path d="M136.9,480.9 140.4,477.4 137.2,476.2 133.7,479.7Z" fill="#66ffe6" stroke="#66ffe6"/><path d="M143.7,478.6 147.2,475.2 143.9,474 140.4,477.4Z" fill="#66ffd8" stroke="#66ffd8"/><path d="M150.5,476.4 153.9,473.1 150.6,471.8 147.2,475.2Z" fill="#66ffca" stroke="#66ffca"/><path d="M157.2,474.3 160.7,471 157.4,469.7 153.9,473.1Z" fill="#66ffbc" stroke="#66ffbc"/><path d="M164,472.3 167.5,469 164.1,467.7 160.7,471Z" fill="#66ffaf" stroke="#66ffaf"/><path d="M170.8,470.3 174.2,467 170.9,465.7 167.5,469Z" fill="#66ffa2" stroke="#66ffa2"/><path d="M177.6,468.4 181,465.1 177.7,463.8 174.2,467Z" fill="#66ff96" stroke="#66ff96"/><path d="M184.5,466.5 187.8,463.3 184.4,462 181,465.1Z" fill="#65ff8a" stroke="#65ff8a"/><path d="M191.3,464.7 194.7,461.6 191.2,460.2 187.8,463.3Z" fill="#64ff7d" stroke="#64ff7d"/><path d="M198.1,463 201.5,459.9 198,458.6 194.7,461.6Z" fill="#62ff71" stroke="#62ff71"/><path d="M205,461.3 208.3,458.3 204.8,457 201.5,459.9Z" fill="#61ff64" stroke="#61ff64"/><path d="M211.8,459.7 215.1,456.8 211.6,455.4 208.3,458.3Z" fill="#65ff5f" stroke="#65ff5f"/><path d="M218.7,458.2 222,455.3 218.4,453.9 215.1,456.8Z" fill="#6eff5d" stroke="#6eff5d"/><path d="M225.5,456.8 228.8,453.9 225.3,452.5 222,455.3Z" fill="#76ff5b" stroke="#76ff5b"/><path d="M232.4,455.4 235.7,452.6 232.1,451.2 228.8,453.9Z" fill="#7eff5a" stroke="#7eff5a"/><path d="M239.3,454 242.5,451.3 238.9,449.9 235.7,452.6Z" fill="#85ff58" stroke="#85ff58"/><path d="M246.2,452.8 249.4,450.1 245.8,448.7 242.5,451.3Z" fill="#8dff56" stroke="#8dff56"/><path d="M253,451.5 256.3,448.9 252.6,447.5 249.4,450.1Z" fill="#94ff55" stroke="#94ff55"/><path d="M259.9,450.4 263.1,447.8 259.5,446.4 256.3,448.9Z" fill="#9bff53" stroke="#9bff53"/><path d="M266.8,449.2 270,446.8 266.3,445.4 263.1,447.8Z" fill="#a2ff52" stroke="#a2ff52"/><path d="M273.7,448.2 276.9,445.7 273.2,444.4 270,446.8Z" fill="#a9ff50" stroke="#a9ff50"/><path d="M280.6,447.1 283.8,444.8 280,443.4 276.9,445.7Z" fill="#afff4e" stroke="#afff4e"/><path d="M86.4,500.9 90,497.5 86.9,496.4 83.3,499.9Z" fill="#669eff" stroke="#669eff"/><path d="M93.1,498.5 96.7,495 93.6,494 90,497.5Z" fill="#66adff" stroke="#66adff"/><path d="M99.8,496.1 103.3,492.6 100.2,491.5 96.7,495Z" fill="#66bdff" stroke="#66bdff"/><path d="M106.5,493.8 110,490.2 106.9,489.1 103.3,492.6Z" fill="#66cdff" stroke="#66cdff"/><path d="M113.2,491.4 116.7,487.8 113.6,486.7 110,490.2Z" fill="#66dcff" stroke="#66dcff"/><path d="M119.9,489 123.5,485.5 120.3,484.3 116.7,487.8Z" fill="#66ecff" stroke="#66ecff"/><path d="M126.7,486.7 130.2,483.1 127,482 123.5,485.5Z" fill="#66fbff" stroke="#66fbff"/><path d="M133.4,484.4 136.9,480.9 133.7,479.7 130.2,483.1Z" fill="#66fff4" stroke="#66fff4"/><path d="M140.2,482.1 143.7,478.6 140.4,477.4 136.9,480.9Z" fill="#66ffe6" stroke="#66ffe6"/><path d="M147,479.9 150.5,476.4 147.2,475.2 143.7,478.6Z" fill="#66ffd8" stroke="#66ffd8"/><path d="M153.8,477.7 157.2,474.3 153.9,473.1 150.5,476.4Z" fill="#66ffca" stroke="#66ffca"/><path d="M160.6,475.6 164,472.3 160.7,471 157.2,474.3Z" fill="#66ffbd" stroke="#66ffbd"/><path d="M167.4,473.6 170.8,470.3 167.5,469 164,472.3Z" fill="#66ffb0" stroke="#66ffb0"/><path d="M174.2,471.6 177.6,468.4 174.2,467 170.8,470.3Z" fill="#66ffa3" stroke="#66ffa3"/><path d="M181,469.7 184.5,466.5 181,465.1 177.6,468.4Z" fill="#66ff97" stroke="#66ff97"/><path d="M187.9,467.9 191.3,464.7 187.8,463.3 184.5,466.5Z" fill="#66ff8b" stroke="#66ff8b"/><path d="M194.7,466.1 198.1,463 194.7,461.6 191.3,464.7Z" fill="#64ff7f" stroke="#64ff7f"/><path d="M201.6,464.4 205,461.3 201.5,459.9 198.1,463Z" fill="#62ff72" stroke="#62ff72"/><path d="M208.5,462.7 211.8,459.7 208.3,458.3 205,461.3Z" fill="#61ff66" stroke="#61ff66"/><path d="M215.3,461.2 218.7,458.2 215.1,456.8 211.8,459.7Z" fill="#64ff5f" stroke="#64ff5f"/><path d="M222.2,459.7 225.5,456.8 222,455.3 218.7,458.2Z" fill="#6cff5d" stroke="#6cff5d"/><path d="M229.1,458.2 232.4,455.4 228.8,453.9 225.5,456.8Z" fill="#74ff5c" stroke="#74ff5c"/><path d="M236,456.8 239.3,454 235.7,452.6 232.4,455.4Z" fill="#7cff5a" stroke="#7cff5a"/><path d="M242.9,455.5 246.2,452.8 242.5,451.3 239.3,454Z" fill="#84ff58" stroke="#84ff58"/><path d="M249.8,454.2 253,451.5 249.4,450.1 246.2,452.8Z" fill="#8bff57" stroke="#8bff57"/><path d="M256.7,453 259.9,450.4 256.3,448.9 253,451.5Z" fill="#92ff55" stroke="#92ff55"/><path d="M263.6,451.8 266.8,449.2 263.1,447.8 259.9,450.4Z" fill="#99ff53" stroke="#99ff53"/><path d="M270.5,450.7 273.7,448.2 270,446.8 266.8,449.2Z" fill="#a0ff52" stroke="#a0ff52"/><path d="M277.4,449.6 280.6,447.1 276.9,445.7 273.7,448.2Z" fill="#a7ff50" stroke="#a7ff50"/><path d="M89.5,502.1 93.1,498.5 90,497.5 86.4,500.9Z" fill="#669fff" stroke="#669fff"/><path d="M96.2,499.7 99.8,496.1 96.7,495 93.1,498.5Z" fill="#66afff" stroke="#66afff"/><path d="M102.9,497.3 106.5,493.8 103.3,492.6 99.8,496.1Z" fill="#66beff" stroke="#66beff"/><path d="M109.6,494.9 113.2,491.4 110,490.2 106.5,493.8Z" fill="#66ceff" stroke="#66ceff"/><path d="M116.4,492.6 119.9,489 116.7,487.8 113.2,491.4Z" fill="#66ddff" stroke="#66ddff"/><path d="M123.1,490.2 126.7,486.7 123.5,485.5 119.9,489Z" fill="#66ecff" stroke="#66ecff"/><path d="M129.9,487.9 133.4,484.4 130.2,483.1 126.7,486.7Z" fill="#66fbff" stroke="#66fbff"/><path d="M136.7,485.6 140.2,482.1 136.9,480.9 133.4,484.4Z" fill="#66fff4" stroke="#66fff4"/><path d="M143.5,483.4 147,479.9 143.7,478.6 140.2,482.1Z" fill="#66ffe6" stroke="#66ffe6"/><path d="M150.3,481.2 153.8,477.7 150.5,476.4 147,479.9Z" fill="#66ffd8" stroke="#66ffd8"/><path d="M157.1,479.1 160.6,475.6 157.2,474.3 153.8,477.7Z" fill="#66ffca" stroke="#66ffca"/><path d="M163.9,477 167.4,473.6 164,472.3 160.6,475.6Z" fill="#66ffbd" stroke="#66ffbd"/><path d="M170.8,475 174.2,471.6 170.8,470.3 167.4,473.6Z" fill="#66ffb0" stroke="#66ffb0"/><path d="M177.6,473 181,469.7 177.6,468.4 174.2,471.6Z" fill="#66ffa4" stroke="#66ffa4"/><path d="M184.5,471.1 187.9,467.9 184.5,466.5 181,469.7Z" fill="#66ff98" stroke="#66ff98"/><path d="M191.3,469.3 194.7,466.1 191.3,464.7 187.9,467.9Z" fill="#66ff8c" stroke="#66ff8c"/><path d="M198.2,467.5 201.6,464.4 198.1,463 194.7,466.1Z" fill="#64ff80" stroke="#64ff80"/><path d="M205.1,465.8 208.5,462.7 205,461.3 201.6,464.4Z" fill="#62ff74" stroke="#62ff74"/><path d="M212,464.2 215.3,461.2 211.8,459.7 208.5,462.7Z" fill="#61ff68" stroke="#61ff68"/><path d="M218.9,462.6 222.2,459.7 218.7,458.2 215.3,461.2Z" fill="#62ff5f" stroke="#62ff5f"/><path d="M225.8,461.1 229.1,458.2 225.5,456.8 222.2,459.7Z" fill="#6aff5d" stroke="#6aff5d"/><path d="M232.7,459.7 236,456.8 232.4,455.4 229.1,458.2Z" fill="#72ff5c" stroke="#72ff5c"/><path d="M239.6,458.3 242.9,455.5 239.3,454 236,456.8Z" fill="#7aff5a" stroke="#7aff5a"/><path d="M246.5,456.9 249.8,454.2 246.2,452.8 242.9,455.5Z" fill="#82ff58" stroke="#82ff58"/><path d="M253.5,455.7 256.7,453 253,451.5 249.8,454.2Z" fill="#89ff57" stroke="#89ff57"/><path d="M260.4,454.4 263.6,451.8 259.9,450.4 256.7,453Z" fill="#90ff55" stroke="#90ff55"/><path d="M267.3,453.2 270.5,450.7 266.8,449.2 263.6,451.8Z" fill="#98ff54" stroke="#98ff54"/><path d="M274.3,452.1 277.4,449.6 273.7,448.2 270.5,450.7Z" fill="#9eff52" stroke="#9eff52"/><path d="M92.6,503.2 96.2,499.7 93.1,498.5 89.5,502.1Z" fill="#66a0ff" stroke="#66a0ff"/><path d="M99.3,500.9 102.9,497.3 99.8,496.1 96.2,499.7Z" fill="#66afff" stroke="#66afff"/><path d="M106.1,498.5 109.6,494.9 106.5,493.8 102.9,497.3Z" fill="#66bfff" stroke="#66bfff"/><path d="M112.8,496.2 116.4,492.6 113.2,491.4 109.6,494.9Z" fill="#66ceff" stroke="#66ceff"/><path d="M119.6,493.8 123.1,490.2 119.9,489 116.4,492.6Z" fill="#66ddff" stroke="#66ddff"/><path d="M126.4,491.5 129.9,487.9 126.7,486.7 123.1,490.2Z" fill="#66ecff" stroke="#66ecff"/><path d="M133.2,489.2 136.7,485.6 133.4,484.4 129.9,487.9Z" fill="#66fbff" stroke="#66fbff"/><path d="M140,487 143.5,483.4 140.2,482.1 136.7,485.6Z" fill="#66fff5" stroke="#66fff5"/><path d="M146.8,484.7 150.3,481.2 147,479.9 143.5,483.4Z" fill="#66ffe7" stroke="#66ffe7"/><path d="M153.6,482.6 157.1,479.1 153.8,477.7 150.3,481.2Z" fill="#66ffd9" stroke="#66ffd9"/><path d="M160.5,480.5 163.9,477 160.6,475.6 157.1,479.1Z" fill="#66ffcb" stroke="#66ffcb"/><path d="M167.3,478.4 170.8,475 167.4,473.6 163.9,477Z" fill="#66ffbe" stroke="#66ffbe"/><path d="M174.2,476.4 177.6,473 174.2,471.6 170.8,475Z" fill="#66ffb2" stroke="#66ffb2"/><path d="M181,474.4 184.5,471.1 181,469.7 177.6,473Z" fill="#66ffa5" stroke="#66ffa5"/><path d="M187.9,472.6 191.3,469.3 187.9,467.9 184.5,471.1Z" fill="#66ff9a" stroke="#66ff9a"/><path d="M194.8,470.7 198.2,467.5 194.7,466.1 191.3,469.3Z" fill="#66ff8e" stroke="#66ff8e"/><path d="M201.7,469 205.1,465.8 201.6,464.4 198.2,467.5Z" fill="#64ff82" stroke="#64ff82"/><path d="M208.6,467.3 212,464.2 208.5,462.7 205.1,465.8Z" fill="#63ff76" stroke="#63ff76"/><path d="M215.5,465.7 218.9,462.6 215.3,461.2 212,464.2Z" fill="#61ff6a" stroke="#61ff6a"/><path d="M222.4,464.1 225.8,461.1 222.2,459.7 218.9,462.6Z" fill="#60ff5f" stroke="#60ff5f"/><path d="M229.4,462.6 232.7,459.7 229.1,458.2 225.8,461.1Z" fill="#69ff5e" stroke="#69ff5e"/><path d="M236.3,461.2 239.6,458.3 236,456.8 232.7,459.7Z" fill="#71ff5c" stroke="#71ff5c"/><path d="M243.2,459.8 246.5,456.9 242.9,455.5 239.6,458.3Z" fill="#78ff5a" stroke="#78ff5a"/><path d="M250.2,458.4 253.5,455.7 249.8,454.2 246.5,456.9Z" fill="#80ff59" stroke="#80ff59"/><path d="M257.1,457.1 260.4,454.4 256.7,453 253.5,455.7Z" fill="#87ff57" stroke="#87ff57"/><path d="M264.1,455.9 267.3,453.2 263.6,451.8 260.4,454.4Z" fill="#8fff55" stroke="#8fff55"/><path d="M271.1,454.7 274.3,452.1 270.5,450.7 267.3,453.2Z" fill="#96ff54" stroke="#96ff54"/><path d="M95.7,504.5 99.3,500.9 96.2,499.7 92.6,503.2Z" fill="#66a1ff" stroke="#66a1ff"/><path d="M102.5,502.1 106.1,498.5 102.9,497.3 99.3,500.9Z" fill="#66b0ff" stroke="#66b0ff"/><path d="M109.2,499.8 112.8,496.2 109.6,494.9 106.1,498.5Z" fill="#66bfff" stroke="#66bfff"/><path d="M116,497.5 119.6,493.8 116.4,492.6 112.8,496.2Z" fill="#66ceff" stroke="#66ceff"/><path d="M122.8,495.1 126.4,491.5 123.1,490.2 119.6,493.8Z" fill="#66ddff" stroke="#66ddff"/><path d="M129.6,492.8 133.2,489.2 129.9,487.9 126.4,491.5Z" fill="#66ecff" stroke="#66ecff"/><path d="M136.4,490.6 140,487 136.7,485.6 133.2,489.2Z" fill="#66fbff" stroke="#66fbff"/><path d="M143.3,488.3 146.8,484.7 143.5,483.4 140,487Z" fill="#66fff5" stroke="#66fff5"/><path d="M150.1,486.1 153.6,482.6 150.3,481.2 146.8,484.7Z" fill="#66ffe7" stroke="#66ffe7"/><path d="M157,484 160.5,480.5 157.1,479.1 153.6,482.6Z" fill="#66ffd9" stroke="#66ffd9"/><path d="M163.8,481.9 167.3,478.4 163.9,477 160.5,480.5Z" fill="#66ffcc" stroke="#66ffcc"/><path d="M170.7,479.8 174.2,476.4 170.8,475 167.3,478.4Z" fill="#66ffbf" stroke="#66ffbf"/><path d="M177.6,477.8 181,474.4 177.6,473 174.2,476.4Z" fill="#66ffb3" stroke="#66ffb3"/><path d="M184.5,475.9 187.9,472.6 184.5,471.1 181,474.4Z" fill="#66ffa7" stroke="#66ffa7"/><path d="M191.4,474 194.8,470.7 191.3,469.3 187.9,472.6Z" fill="#66ff9b" stroke="#66ff9b"/><path d="M198.3,472.2 201.7,469 198.2,467.5 194.8,470.7Z" fill="#66ff90" stroke="#66ff90"/><path d="M205.2,470.5 208.6,467.3 205.1,465.8 201.7,469Z" fill="#64ff84" stroke="#64ff84"/><path d="M212.2,468.8 215.5,465.7 212,464.2 208.6,467.3Z" fill="#63ff78" stroke="#63ff78"/><path d="M219.1,467.2 222.4,464.1 218.9,462.6 215.5,465.7Z" fill="#61ff6c" stroke="#61ff6c"/><path d="M226,465.6 229.4,462.6 225.8,461.1 222.4,464.1Z" fill="#5fff60" stroke="#5fff60"/><path d="M233,464.1 236.3,461.2 232.7,459.7 229.4,462.6Z" fill="#67ff5e" stroke="#67ff5e"/><path d="M239.9,462.7 243.2,459.8 239.6,458.3 236.3,461.2Z" fill="#6fff5c" stroke="#6fff5c"/><path d="M246.9,461.3 250.2,458.4 246.5,456.9 243.2,459.8Z" fill="#76ff5a" stroke="#76ff5a"/><path d="M253.9,459.9 257.1,457.1 253.5,455.7 250.2,458.4Z" fill="#7eff59" stroke="#7eff59"/><path d="M260.9,458.6 264.1,455.9 260.4,454.4 257.1,457.1Z" fill="#85ff57" stroke="#85ff57"/><path d="M267.8,457.3 271.1,454.7 267.3,453.2 264.1,455.9Z" fill="#8dff56" stroke="#8dff56"/><path d="M98.9,505.8 102.5,502.1 99.3,500.9 95.7,504.5Z" fill="#66a1ff" stroke="#66a1ff"/><path d="M105.6,503.5 109.2,499.8 106.1,498.5 102.5,502.1Z" fill="#66b0ff" stroke="#66b0ff"/><path d="M112.4,501.1 116,497.5 112.8,496.2 109.2,499.8Z" fill="#66bfff" stroke="#66bfff"/><path d="M119.2,498.8 122.8,495.1 119.6,493.8 116,497.5Z" fill="#66ceff" stroke="#66ceff"/><path d="M126.1,496.5 129.6,492.8 126.4,491.5 122.8,495.1Z" fill="#66ddff" stroke="#66ddff"/><path d="M132.9,494.2 136.4,490.6 133.2,489.2 129.6,492.8Z" fill="#66ecff" stroke="#66ecff"/><path d="M139.7,492 143.3,488.3 140,487 136.4,490.6Z" fill="#66faff" stroke="#66faff"/><path d="M146.6,489.7 150.1,486.1 146.8,484.7 143.3,488.3Z" fill="#66fff6" stroke="#66fff6"/><path d="M153.5,487.5 157,484 153.6,482.6 150.1,486.1Z" fill="#66ffe8" stroke="#66ffe8"/><path d="M160.3,485.4 163.8,481.9 160.5,480.5 157,484Z" fill="#66ffda" stroke="#66ffda"/><path d="M167.2,483.3 170.7,479.8 167.3,478.4 163.8,481.9Z" fill="#66ffcd" stroke="#66ffcd"/><path d="M174.1,481.3 177.6,477.8 174.2,476.4 170.7,479.8Z" fill="#66ffc1" stroke="#66ffc1"/><path d="M181,479.3 184.5,475.9 181,474.4 177.6,477.8Z" fill="#66ffb4" stroke="#66ffb4"/><path d="M188,477.4 191.4,474 187.9,472.6 184.5,475.9Z" fill="#66ffa8" stroke="#66ffa8"/><path d="M194.9,475.5 198.3,472.2 194.8,470.7 191.4,474Z" fill="#66ff9d" stroke="#66ff9d"/><path d="M201.8,473.7 205.2,470.5 201.7,469 198.3,472.2Z" fill="#66ff91" stroke="#66ff91"/><path d="M208.8,472 212.2,468.8 208.6,467.3 205.2,470.5Z" fill="#65ff85" stroke="#65ff85"/><path d="M215.7,470.3 219.1,467.2 215.5,465.7 212.2,468.8Z" fill="#63ff7a" stroke="#63ff7a"/><path d="M222.7,468.7 226,465.6 222.4,464.1 219.1,467.2Z" fill="#61ff6e" stroke="#61ff6e"/><path d="M229.7,467.1 233,464.1 229.4,462.6 226,465.6Z" fill="#60ff62" stroke="#60ff62"/><path d="M236.6,465.6 239.9,462.7 236.3,461.2 233,464.1Z" fill="#65ff5e" stroke="#65ff5e"/><path d="M243.6,464.2 246.9,461.3 243.2,459.8 239.9,462.7Z" fill="#6dff5c" stroke="#6dff5c"/><path d="M250.6,462.8 253.9,459.9 250.2,458.4 246.9,461.3Z" fill="#74ff5b" stroke="#74ff5b"/><path d="M257.6,461.4 260.9,458.6 257.1,457.1 253.9,459.9Z" fill="#7cff59" stroke="#7cff59"/><path d="M264.6,460.1 267.8,457.3 264.1,455.9 260.9,458.6Z" fill="#84ff57" stroke="#84ff57"/><path d="M102,507.1 105.6,503.5 102.5,502.1 98.9,505.8Z" fill="#66a1ff" stroke="#66a1ff"/><path d="M108.8,504.8 112.4,501.1 109.2,499.8 105.6,503.5Z" fill="#66b0ff" stroke="#66b0ff"/><path d="M115.7,502.5 119.2,498.8 116,497.5 112.4,501.1Z" fill="#66bfff" stroke="#66bfff"/><path d="M122.5,500.2 126.1,496.5 122.8,495.1 119.2,498.8Z" fill="#66ceff" stroke="#66ceff"/><path d="M129.3,497.9 132.9,494.2 129.6,492.8 126.1,496.5Z" fill="#66dcff" stroke="#66dcff"/><path d="M136.2,495.6 139.7,492 136.4,490.6 132.9,494.2Z" fill="#66ebff" stroke="#66ebff"/><path d="M143.1,493.4 146.6,489.7 143.3,488.3 139.7,492Z" fill="#66f9ff" stroke="#66f9ff"/><path d="M149.9,491.2 153.5,487.5 150.1,486.1 146.6,489.7Z" fill="#66fff7" stroke="#66fff7"/><path d="M156.8,489 160.3,485.4 157,484 153.5,487.5Z" fill="#66ffe9" stroke="#66ffe9"/><path d="M163.7,486.9 167.2,483.3 163.8,481.9 160.3,485.4Z" fill="#66ffdc" stroke="#66ffdc"/><path d="M170.7,484.8 174.1,481.3 170.7,479.8 167.2,483.3Z" fill="#66ffcf" stroke="#66ffcf"/><path d="M177.6,482.8 181,479.3 177.6,477.8 174.1,481.3Z" fill="#66ffc2" stroke="#66ffc2"/><path d="M184.5,480.8 188,477.4 184.5,475.9 181,479.3Z" fill="#66ffb6" stroke="#66ffb6"/><path d="M191.5,478.9 194.9,475.5 191.4,474 188,477.4Z" fill="#66ffaa" stroke="#66ffaa"/><path d="M198.4,477.1 201.8,473.7 198.3,472.2 194.9,475.5Z" fill="#66ff9e" stroke="#66ff9e"/><path d="M205.4,475.3 208.8,472 205.2,470.5 201.8,473.7Z" fill="#66ff93" stroke="#66ff93"/><path d="M212.3,473.5 215.7,470.3 212.2,468.8 208.8,472Z" fill="#65ff87" stroke="#65ff87"/><path d="M219.3,471.9 222.7,468.7 219.1,467.2 215.7,470.3Z" fill="#63ff7c" stroke="#63ff7c"/><path d="M226.3,470.2 229.7,467.1 226,465.6 222.7,468.7Z" fill="#61ff70" stroke="#61ff70"/><path d="M233.3,468.7 236.6,465.6 233,464.1 229.7,467.1Z" fill="#60ff64" stroke="#60ff64"/><path d="M240.3,467.1 243.6,464.2 239.9,462.7 236.6,465.6Z" fill="#63ff5e" stroke="#63ff5e"/><path d="M247.3,465.7 250.6,462.8 246.9,461.3 243.6,464.2Z" fill="#6bff5c" stroke="#6bff5c"/><path d="M254.3,464.3 257.6,461.4 253.9,459.9 250.6,462.8Z" fill="#73ff5b" stroke="#73ff5b"/><path d="M261.3,462.9 264.6,460.1 260.9,458.6 257.6,461.4Z" fill="#7aff59" stroke="#7aff59"/><path d="M105.2,508.5 108.8,504.8 105.6,503.5 102,507.1Z" fill="#66a1ff" stroke="#66a1ff"/><path d="M112.1,506.2 115.7,502.5 112.4,501.1 108.8,504.8Z" fill="#66b0ff" stroke="#66b0ff"/><path d="M118.9,503.9 122.5,500.2 119.2,498.8 115.7,502.5Z" fill="#66beff" stroke="#66beff"/><path d="M125.8,501.6 129.3,497.9 126.1,496.5 122.5,500.2Z" fill="#66cdff" stroke="#66cdff"/><path d="M132.6,499.4 136.2,495.6 132.9,494.2 129.3,497.9Z" fill="#66dcff" stroke="#66dcff"/><path d="M139.5,497.1 143.1,493.4 139.7,492 136.2,495.6Z" fill="#66eaff" stroke="#66eaff"/><path d="M146.4,494.9 149.9,491.2 146.6,489.7 143.1,493.4Z" fill="#66f8ff" stroke="#66f8ff"/><path d="M153.3,492.7 156.8,489 153.5,487.5 149.9,491.2Z" fill="#66fff8" stroke="#66fff8"/><path d="M160.2,490.5 163.7,486.9 160.3,485.4 156.8,489Z" fill="#66ffea" stroke="#66ffea"/><path d="M167.2,488.4 170.7,484.8 167.2,483.3 163.7,486.9Z" fill="#66ffdd" stroke="#66ffdd"/><path d="M174.1,486.3 177.6,482.8 174.1,481.3 170.7,484.8Z" fill="#66ffd0" stroke="#66ffd0"/><path d="M181,484.3 184.5,480.8 181,479.3 177.6,482.8Z" fill="#66ffc4" stroke="#66ffc4"/><path d="M188,482.4 191.5,478.9 188,477.4 184.5,480.8Z" fill="#66ffb7" stroke="#66ffb7"/><path d="M195,480.5 198.4,477.1 194.9,475.5 191.5,478.9Z" fill="#66ffac" stroke="#66ffac"/><path d="M201.9,478.6 205.4,475.3 201.8,473.7 198.4,477.1Z" fill="#66ffa0" stroke="#66ffa0"/><path d="M208.9,476.8 212.3,473.5 208.8,472 205.4,475.3Z" fill="#66ff95" stroke="#66ff95"/><path d="M215.9,475.1 219.3,471.9 215.7,470.3 212.3,473.5Z" fill="#65ff89" stroke="#65ff89"/><path d="M222.9,473.4 226.3,470.2 222.7,468.7 219.3,471.9Z" fill="#63ff7e" stroke="#63ff7e"/><path d="M229.9,471.8 233.3,468.7 229.7,467.1 226.3,470.2Z" fill="#61ff72" stroke="#61ff72"/><path d="M236.9,470.2 240.3,467.1 236.6,465.6 233.3,468.7Z" fill="#60ff67" stroke="#60ff67"/><path d="M244,468.7 247.3,465.7 243.6,464.2 240.3,467.1Z" fill="#61ff5e" stroke="#61ff5e"/><path d="M251,467.2 254.3,464.3 250.6,462.8 247.3,465.7Z" fill="#69ff5c" stroke="#69ff5c"/><path d="M258,465.8 261.3,462.9 257.6,461.4 254.3,464.3Z" fill="#71ff5b" stroke="#71ff5b"/><path d="M108.4,510 112.1,506.2 108.8,504.8 105.2,508.5Z" fill="#66a0ff" stroke="#66a0ff"/><path d="M115.3,507.7 118.9,503.9 115.7,502.5 112.1,506.2Z" fill="#66afff" stroke="#66afff"/><path d="M122.2,505.4 125.8,501.6 122.5,500.2 118.9,503.9Z" fill="#66beff" stroke="#66beff"/><path d="M129,503.1 132.6,499.4 129.3,497.9 125.8,501.6Z" fill="#66ccff" stroke="#66ccff"/><path d="M135.9,500.9 139.5,497.1 136.2,495.6 132.6,499.4Z" fill="#66dbff" stroke="#66dbff"/><path d="M142.9,498.6 146.4,494.9 143.1,493.4 139.5,497.1Z" fill="#66e9ff" stroke="#66e9ff"/><path d="M149.8,496.4 153.3,492.7 149.9,491.2 146.4,494.9Z" fill="#66f7ff" stroke="#66f7ff"/><path d="M156.7,494.2 160.2,490.5 156.8,489 153.3,492.7Z" fill="#66fff9" stroke="#66fff9"/><path d="M163.6,492 167.2,488.4 163.7,486.9 160.2,490.5Z" fill="#66ffec" stroke="#66ffec"/><path d="M170.6,489.9 174.1,486.3 170.7,484.8 167.2,488.4Z" fill="#66ffdf" stroke="#66ffdf"/><path d="M177.6,487.9 181,484.3 177.6,482.8 174.1,486.3Z" fill="#66ffd2" stroke="#66ffd2"/><path d="M184.5,485.9 188,482.4 184.5,480.8 181,484.3Z" fill="#66ffc5" stroke="#66ffc5"/><path d="M191.5,483.9 195,480.5 191.5,478.9 188,482.4Z" fill="#66ffb9" stroke="#66ffb9"/><path d="M198.5,482 201.9,478.6 198.4,477.1 195,480.5Z" fill="#66ffad" stroke="#66ffad"/><path d="M205.5,480.2 208.9,476.8 205.4,475.3 201.9,478.6Z" fill="#66ffa2" stroke="#66ffa2"/><path d="M212.5,478.4 215.9,475.1 212.3,473.5 208.9,476.8Z" fill="#66ff97" stroke="#66ff97"/><path d="M219.5,476.7 222.9,473.4 219.3,471.9 215.9,475.1Z" fill="#65ff8c" stroke="#65ff8c"/><path d="M226.6,475 229.9,471.8 226.3,470.2 222.9,473.4Z" fill="#63ff80" stroke="#63ff80"/><path d="M233.6,473.3 236.9,470.2 233.3,468.7 229.9,471.8Z" fill="#62ff74" stroke="#62ff74"/><path d="M240.6,471.8 244,468.7 240.3,467.1 236.9,470.2Z" fill="#60ff69" stroke="#60ff69"/><path d="M247.7,470.2 251,467.2 247.3,465.7 244,468.7Z" fill="#5fff5e" stroke="#5fff5e"/><path d="M254.7,468.7 258,465.8 254.3,464.3 251,467.2Z" fill="#67ff5d" stroke="#67ff5d"/><path d="M111.7,511.5 115.3,507.7 112.1,506.2 108.4,510Z" fill="#66a0ff" stroke="#66a0ff"/><path d="M118.6,509.2 122.2,505.4 118.9,503.9 115.3,507.7Z" fill="#66aeff" stroke="#66aeff"/><path d="M125.5,506.9 129,503.1 125.8,501.6 122.2,505.4Z" fill="#66bdff" stroke="#66bdff"/><path d="M132.4,504.7 135.9,500.9 132.6,499.4 129,503.1Z" fill="#66cbff" stroke="#66cbff"/><path d="M139.3,502.4 142.9,498.6 139.5,497.1 135.9,500.9Z" fill="#66daff" stroke="#66daff"/><path d="M146.2,500.1 149.8,496.4 146.4,494.9 142.9,498.6Z" fill="#66e8ff" stroke="#66e8ff"/><path d="M153.2,497.9 156.7,494.2 153.3,492.7 149.8,496.4Z" fill="#66f6ff" stroke="#66f6ff"/><path d="M160.1,495.8 163.6,492 160.2,490.5 156.7,494.2Z" fill="#66fffb" stroke="#66fffb"/><path d="M167.1,493.6 170.6,489.9 167.2,488.4 163.6,492Z" fill="#66ffed" stroke="#66ffed"/><path d="M174.1,491.5 177.6,487.9 174.1,486.3 170.6,489.9Z" fill="#66ffe0" stroke="#66ffe0"/><path d="M181,489.5 184.5,485.9 181,484.3 177.6,487.9Z" fill="#66ffd3" stroke="#66ffd3"/><path d="M188,487.5 191.5,483.9 188,482.4 184.5,485.9Z" fill="#66ffc7" stroke="#66ffc7"/><path d="M195,485.5 198.5,482 195,480.5 191.5,483.9Z" fill="#66ffbb" stroke="#66ffbb"/><path d="M202.1,483.6 205.5,480.2 201.9,478.6 198.5,482Z" fill="#66ffaf" stroke="#66ffaf"/><path d="M209.1,481.8 212.5,478.4 208.9,476.8 205.5,480.2Z" fill="#66ffa4" stroke="#66ffa4"/><path d="M216.1,480 219.5,476.7 215.9,475.1 212.5,478.4Z" fill="#66ff99" stroke="#66ff99"/><path d="M223.2,478.2 226.6,475 222.9,473.4 219.5,476.7Z" fill="#65ff8e" stroke="#65ff8e"/><path d="M230.2,476.6 233.6,473.3 229.9,471.8 226.6,475Z" fill="#63ff82" stroke="#63ff82"/><path d="M237.3,474.9 240.6,471.8 236.9,470.2 233.6,473.3Z" fill="#62ff76" stroke="#62ff76"/><path d="M244.3,473.3 247.7,470.2 244,468.7 240.6,471.8Z" fill="#60ff6b" stroke="#60ff6b"/><path d="M251.4,471.8 254.7,468.7 251,467.2 247.7,470.2Z" fill="#5eff5f" stroke="#5eff5f"/><path d="M114.9,513 118.6,509.2 115.3,507.7 111.7,511.5Z" fill="#669fff" stroke="#669fff"/><path d="M121.8,510.8 125.5,506.9 122.2,505.4 118.6,509.2Z" fill="#66adff" stroke="#66adff"/><path d="M128.8,508.5 132.4,504.7 129,503.1 125.5,506.9Z" fill="#66bcff" stroke="#66bcff"/><path d="M135.7,506.2 139.3,502.4 135.9,500.9 132.4,504.7Z" fill="#66caff" stroke="#66caff"/><path d="M142.6,504 146.2,500.1 142.9,498.6 139.3,502.4Z" fill="#66d8ff" stroke="#66d8ff"/><path d="M149.6,501.7 153.2,497.9 149.8,496.4 146.2,500.1Z" fill="#66e6ff" stroke="#66e6ff"/><path d="M156.6,499.5 160.1,495.8 156.7,494.2 153.2,497.9Z" fill="#66f4ff" stroke="#66f4ff"/><path d="M163.5,497.3 167.1,493.6 163.6,492 160.1,495.8Z" fill="#66fffc" stroke="#66fffc"/><path d="M170.5,495.2 174.1,491.5 170.6,489.9 167.1,493.6Z" fill="#66ffef" stroke="#66ffef"/><path d="M177.5,493.1 181,489.5 177.6,487.9 174.1,491.5Z" fill="#66ffe2" stroke="#66ffe2"/><path d="M184.5,491.1 188,487.5 184.5,485.9 181,489.5Z" fill="#66ffd5" stroke="#66ffd5"/><path d="M191.6,489.1 195,485.5 191.5,483.9 188,487.5Z" fill="#66ffc9" stroke="#66ffc9"/><path d="M198.6,487.1 202.1,483.6 198.5,482 195,485.5Z" fill="#66ffbd" stroke="#66ffbd"/><path d="M205.6,485.2 209.1,481.8 205.5,480.2 202.1,483.6Z" fill="#66ffb1" stroke="#66ffb1"/><path d="M212.7,483.4 216.1,480 212.5,478.4 209.1,481.8Z" fill="#66ffa6" stroke="#66ffa6"/><path d="M219.8,481.6 223.2,478.2 219.5,476.7 216.1,480Z" fill="#66ff9b" stroke="#66ff9b"/><path d="M226.8,479.8 230.2,476.6 226.6,475 223.2,478.2Z" fill="#65ff90" stroke="#65ff90"/><path d="M233.9,478.1 237.3,474.9 233.6,473.3 230.2,476.6Z" fill="#63ff84" stroke="#63ff84"/><path d="M241,476.5 244.3,473.3 240.6,471.8 237.3,474.9Z" fill="#62ff78" stroke="#62ff78"/><path d="M248.1,474.9 251.4,471.8 247.7,470.2 244.3,473.3Z" fill="#60ff6d" stroke="#60ff6d"/><path d="M118.2,514.6 121.8,510.8 118.6,509.2 114.9,513Z" fill="#669dff" stroke="#669dff"/><path d="M125.1,512.4 128.8,508.5 125.5,506.9 121.8,510.8Z" fill="#66acff" stroke="#66acff"/><path d="M132.1,510.1 135.7,506.2 132.4,504.7 128.8,508.5Z" fill="#66baff" stroke="#66baff"/><path d="M139,507.8 142.6,504 139.3,502.4 135.7,506.2Z" fill="#66c8ff" stroke="#66c8ff"/><path d="M146,505.6 149.6,501.7 146.2,500.1 142.6,504Z" fill="#66d7ff" stroke="#66d7ff"/><path d="M153,503.4 156.6,499.5 153.2,497.9 149.6,501.7Z" fill="#66e5ff" stroke="#66e5ff"/><path d="M160,501.1 163.5,497.3 160.1,495.8 156.6,499.5Z" fill="#66f2ff" stroke="#66f2ff"/><path d="M167,499 170.5,495.2 167.1,493.6 163.5,497.3Z" fill="#66fffe" stroke="#66fffe"/><path d="M174,496.8 177.5,493.1 174.1,491.5 170.5,495.2Z" fill="#66fff1" stroke="#66fff1"/><path d="M181,494.8 184.5,491.1 181,489.5 177.5,493.1Z" fill="#66ffe4" stroke="#66ffe4"/><path d="M188.1,492.7 191.6,489.1 188,487.5 184.5,491.1Z" fill="#66ffd7" stroke="#66ffd7"/><path d="M195.1,490.7 198.6,487.1 195,485.5 191.6,489.1Z" fill="#66ffcb" stroke="#66ffcb"/><path d="M202.2,488.8 205.6,485.2 202.1,483.6 198.6,487.1Z" fill="#66ffbf" stroke="#66ffbf"/><path d="M209.2,486.9 212.7,483.4 209.1,481.8 205.6,485.2Z" fill="#66ffb3" stroke="#66ffb3"/><path d="M216.3,485 219.8,481.6 216.1,480 212.7,483.4Z" fill="#66ffa8" stroke="#66ffa8"/><path d="M223.4,483.2 226.8,479.8 223.2,478.2 219.8,481.6Z" fill="#66ff9d" stroke="#66ff9d"/><path d="M230.5,481.4 233.9,478.1 230.2,476.6 226.8,479.8Z" fill="#65ff92" stroke="#65ff92"/><path d="M237.6,479.7 241,476.5 237.3,474.9 233.9,478.1Z" fill="#64ff86" stroke="#64ff86"/><path d="M244.7,478.1 248.1,474.9 244.3,473.3 241,476.5Z" fill="#62ff7b" stroke="#62ff7b"/><path d="M121.5,516.3 125.1,512.4 121.8,510.8 118.2,514.6Z" fill="#669cff" stroke="#669cff"/><path d="M128.5,514 132.1,510.1 128.8,508.5 125.1,512.4Z" fill="#66aaff" stroke="#66aaff"/><path d="M135.4,511.7 139,507.8 135.7,506.2 132.1,510.1Z" fill="#66b9ff" stroke="#66b9ff"/><path d="M142.4,509.5 146,505.6 142.6,504 139,507.8Z" fill="#66c7ff" stroke="#66c7ff"/><path d="M149.4,507.2 153,503.4 149.6,501.7 146,505.6Z" fill="#66d5ff" stroke="#66d5ff"/><path d="M156.4,505 160,501.1 156.6,499.5 153,503.4Z" fill="#66e3ff" stroke="#66e3ff"/><path d="M163.4,502.8 167,499 163.5,497.3 160,501.1Z" fill="#66f0ff" stroke="#66f0ff"/><path d="M170.5,500.6 174,496.8 170.5,495.2 167,499Z" fill="#66feff" stroke="#66feff"/><path d="M177.5,498.5 181,494.8 177.5,493.1 174,496.8Z" fill="#66fff3" stroke="#66fff3"/><path d="M184.6,496.4 188.1,492.7 184.5,491.1 181,494.8Z" fill="#66ffe6" stroke="#66ffe6"/><path d="M191.6,494.4 195.1,490.7 191.6,489.1 188.1,492.7Z" fill="#66ffd9" stroke="#66ffd9"/><path d="M198.7,492.4 202.2,488.8 198.6,487.1 195.1,490.7Z" fill="#66ffcd" stroke="#66ffcd"/><path d="M205.8,490.4 209.2,486.9 205.6,485.2 202.2,488.8Z" fill="#66ffc1" stroke="#66ffc1"/><path d="M212.9,488.5 216.3,485 212.7,483.4 209.2,486.9Z" fill="#66ffb5" stroke="#66ffb5"/><path d="M220,486.6 223.4,483.2 219.8,481.6 216.3,485Z" fill="#66ffaa" stroke="#66ffaa"/><path d="M227.1,484.8 230.5,481.4 226.8,479.8 223.4,483.2Z" fill="#66ff9f" stroke="#66ff9f"/><path d="M234.2,483.1 237.6,479.7 233.9,478.1 230.5,481.4Z" fill="#65ff94" stroke="#65ff94"/><path d="M241.3,481.3 244.7,478.1 241,476.5 237.6,479.7Z" fill="#64ff88" stroke="#64ff88"/><path d="M124.8,518 128.5,514 125.1,512.4 121.5,516.3Z" fill="#669aff" stroke="#669aff"/><path d="M131.8,515.7 135.4,511.7 132.1,510.1 128.5,514Z" fill="#66a8ff" stroke="#66a8ff"/><path d="M138.8,513.4 142.4,509.5 139,507.8 135.4,511.7Z" fill="#66b7ff" stroke="#66b7ff"/><path d="M145.8,511.2 149.4,507.2 146,505.6 142.4,509.5Z" fill="#66c5ff" stroke="#66c5ff"/><path d="M152.8,508.9 156.4,505 153,503.4 149.4,507.2Z" fill="#66d3ff" stroke="#66d3ff"/><path d="M159.9,506.7 163.4,502.8 160,501.1 156.4,505Z" fill="#66e1ff" stroke="#66e1ff"/><path d="M166.9,504.5 170.5,500.6 167,499 163.4,502.8Z" fill="#66efff" stroke="#66efff"/><path d="M174,502.3 177.5,498.5 174,496.8 170.5,500.6Z" fill="#66fcff" stroke="#66fcff"/><path d="M181,500.2 184.6,496.4 181,494.8 177.5,498.5Z" fill="#66fff5" stroke="#66fff5"/><path d="M188.1,498.1 191.6,494.4 188.1,492.7 184.6,496.4Z" fill="#66ffe8" stroke="#66ffe8"/><path d="M195.2,496 198.7,492.4 195.1,490.7 191.6,494.4Z" fill="#66ffdb" stroke="#66ffdb"/><path d="M202.3,494 205.8,490.4 202.2,488.8 198.7,492.4Z" fill="#66ffcf" stroke="#66ffcf"/><path d="M209.4,492.1 212.9,488.5 209.2,486.9 205.8,490.4Z" fill="#66ffc3" stroke="#66ffc3"/><path d="M216.5,490.1 220,486.6 216.3,485 212.9,488.5Z" fill="#66ffb8" stroke="#66ffb8"/><path d="M223.7,488.3 227.1,484.8 223.4,483.2 220,486.6Z" fill="#66ffac" stroke="#66ffac"/><path d="M230.8,486.4 234.2,483.1 230.5,481.4 227.1,484.8Z" fill="#66ffa1" stroke="#66ffa1"/><path d="M237.9,484.7 241.3,481.3 237.6,479.7 234.2,483.1Z" fill="#65ff96" stroke="#65ff96"/><path d="M128.2,519.7 131.8,515.7 128.5,514 124.8,518Z" fill="#6698ff" stroke="#6698ff"/><path d="M135.2,517.4 138.8,513.4 135.4,511.7 131.8,515.7Z" fill="#66a7ff" stroke="#66a7ff"/><path d="M142.2,515.2 145.8,511.2 142.4,509.5 138.8,513.4Z" fill="#66b5ff" stroke="#66b5ff"/><path d="M149.2,512.9 152.8,508.9 149.4,507.2 145.8,511.2Z" fill="#66c3ff" stroke="#66c3ff"/><path d="M156.3,510.6 159.9,506.7 156.4,505 152.8,508.9Z" fill="#66d1ff" stroke="#66d1ff"/><path d="M163.3,508.4 166.9,504.5 163.4,502.8 159.9,506.7Z" fill="#66dfff" stroke="#66dfff"/><path d="M170.4,506.2 174,502.3 170.5,500.6 166.9,504.5Z" fill="#66ecff" stroke="#66ecff"/><path d="M177.5,504 181,500.2 177.5,498.5 174,502.3Z" fill="#66faff" stroke="#66faff"/><path d="M184.6,501.9 188.1,498.1 184.6,496.4 181,500.2Z" fill="#66fff7" stroke="#66fff7"/><path d="M191.7,499.8 195.2,496 191.6,494.4 188.1,498.1Z" fill="#66ffea" stroke="#66ffea"/><path d="M198.8,497.7 202.3,494 198.7,492.4 195.2,496Z" fill="#66ffde" stroke="#66ffde"/><path d="M205.9,495.7 209.4,492.1 205.8,490.4 202.3,494Z" fill="#66ffd1" stroke="#66ffd1"/><path d="M213.1,493.7 216.5,490.1 212.9,488.5 209.4,492.1Z" fill="#66ffc5" stroke="#66ffc5"/><path d="M220.2,491.8 223.7,488.3 220,486.6 216.5,490.1Z" fill="#66ffba" stroke="#66ffba"/><path d="M227.4,489.9 230.8,486.4 227.1,484.8 223.7,488.3Z" fill="#66ffae" stroke="#66ffae"/><path d="M234.5,488.1 237.9,484.7 234.2,483.1 230.8,486.4Z" fill="#66ffa3" stroke="#66ffa3"/><path d="M131.5,521.5 135.2,517.4 131.8,515.7 128.2,519.7Z" fill="#6696ff" stroke="#6696ff"/><path d="M138.6,519.2 142.2,515.2 138.8,513.4 135.2,517.4Z" fill="#66a4ff" stroke="#66a4ff"/><path d="M145.6,516.9 149.2,512.9 145.8,511.2 142.2,515.2Z" fill="#66b3ff" stroke="#66b3ff"/><path d="M152.7,514.6 156.3,510.6 152.8,508.9 149.2,512.9Z" fill="#66c1ff" stroke="#66c1ff"/><path d="M159.8,512.4 163.3,508.4 159.9,506.7 156.3,510.6Z" fill="#66cfff" stroke="#66cfff"/><path d="M166.8,510.1 170.4,506.2 166.9,504.5 163.3,508.4Z" fill="#66ddff" stroke="#66ddff"/><path d="M173.9,507.9 177.5,504 174,502.3 170.4,506.2Z" fill="#66eaff" stroke="#66eaff"/><path d="M181,505.7 184.6,501.9 181,500.2 177.5,504Z" fill="#66f8ff" stroke="#66f8ff"/><path d="M188.2,503.6 191.7,499.8 188.1,498.1 184.6,501.9Z" fill="#66fff9" stroke="#66fff9"/><path d="M195.3,501.5 198.8,497.7 195.2,496 191.7,499.8Z" fill="#66ffec" stroke="#66ffec"/><path d="M202.4,499.4 205.9,495.7 202.3,494 198.8,497.7Z" fill="#66ffe0" stroke="#66ffe0"/><path d="M209.6,497.4 213.1,493.7 209.4,492.1 205.9,495.7Z" fill="#66ffd3" stroke="#66ffd3"/><path d="M216.7,495.4 220.2,491.8 216.5,490.1 213.1,493.7Z" fill="#66ffc7" stroke="#66ffc7"/><path d="M223.9,493.5 227.4,489.9 223.7,488.3 220.2,491.8Z" fill="#66ffbc" stroke="#66ffbc"/><path d="M231.1,491.6 234.5,488.1 230.8,486.4 227.4,489.9Z" fill="#66ffb0" stroke="#66ffb0"/><path d="M134.9,523.3 138.6,519.2 135.2,517.4 131.5,521.5Z" fill="#6694ff" stroke="#6694ff"/><path d="M142,521 145.6,516.9 142.2,515.2 138.6,519.2Z" fill="#66a2ff" stroke="#66a2ff"/><path d="M149.1,518.7 152.7,514.6 149.2,512.9 145.6,516.9Z" fill="#66b0ff" stroke="#66b0ff"/><path d="M156.2,516.4 159.8,512.4 156.3,510.6 152.7,514.6Z" fill="#66bfff" stroke="#66bfff"/><path d="M163.2,514.2 166.8,510.1 163.3,508.4 159.8,512.4Z" fill="#66cdff" stroke="#66cdff"/><path d="M170.4,511.9 173.9,507.9 170.4,506.2 166.8,510.1Z" fill="#66daff" stroke="#66daff"/><path d="M177.5,509.7 181,505.7 177.5,504 173.9,507.9Z" fill="#66e8ff" stroke="#66e8ff"/><path d="M184.6,507.5 188.2,503.6 184.6,501.9 181,505.7Z" fill="#66f5ff" stroke="#66f5ff"/><path d="M191.8,505.3 195.3,501.5 191.7,499.8 188.2,503.6Z" fill="#66fffb" stroke="#66fffb"/><path d="M198.9,503.2 202.4,499.4 198.8,497.7 195.3,501.5Z" fill="#66ffef" stroke="#66ffef"/><path d="M206.1,501.1 209.6,497.4 205.9,495.7 202.4,499.4Z" fill="#66ffe2" stroke="#66ffe2"/><path d="M213.2,499.1 216.7,495.4 213.1,493.7 209.6,497.4Z" fill="#66ffd6" stroke="#66ffd6"/><path d="M220.4,497.1 223.9,493.5 220.2,491.8 216.7,495.4Z" fill="#66ffc9" stroke="#66ffc9"/><path d="M227.6,495.1 231.1,491.6 227.4,489.9 223.9,493.5Z" fill="#66ffbe" stroke="#66ffbe"/><path d="M138.3,525.1 142,521 138.6,519.2 134.9,523.3Z" fill="#6692ff" stroke="#6692ff"/><path d="M145.4,522.8 149.1,518.7 145.6,516.9 142,521Z" fill="#66a0ff" stroke="#66a0ff"/><path d="M152.5,520.5 156.2,516.4 152.7,514.6 149.1,518.7Z" fill="#66aeff" stroke="#66aeff"/><path d="M159.6,518.2 163.2,514.2 159.8,512.4 156.2,516.4Z" fill="#66bcff" stroke="#66bcff"/><path d="M166.8,515.9 170.4,511.9 166.8,510.1 163.2,514.2Z" fill="#66caff" stroke="#66caff"/><path d="M173.9,513.7 177.5,509.7 173.9,507.9 170.4,511.9Z" fill="#66d8ff" stroke="#66d8ff"/><path d="M181,511.5 184.6,507.5 181,505.7 177.5,509.7Z" fill="#66e6ff" stroke="#66e6ff"/><path d="M188.2,509.3 191.8,505.3 188.2,503.6 184.6,507.5Z" fill="#66f3ff" stroke="#66f3ff"/><path d="M195.4,507.1 198.9,503.2 195.3,501.5 191.8,505.3Z" fill="#66fffe" stroke="#66fffe"/><path d="M202.5,505 206.1,501.1 202.4,499.4 198.9,503.2Z" fill="#66fff1" stroke="#66fff1"/><path d="M209.7,502.9 213.2,499.1 209.6,497.4 206.1,501.1Z" fill="#66ffe4" stroke="#66ffe4"/><path d="M216.9,500.8 220.4,497.1 216.7,495.4 213.2,499.1Z" fill="#66ffd8" stroke="#66ffd8"/><path d="M224.1,498.8 227.6,495.1 223.9,493.5 220.4,497.1Z" fill="#66ffcc" stroke="#66ffcc"/><path d="M141.8,527 145.4,522.8 142,521 138.3,525.1Z" fill="#668fff" stroke="#668fff"/><path d="M148.9,524.7 152.5,520.5 149.1,518.7 145.4,522.8Z" fill="#669dff" stroke="#669dff"/><path d="M156,522.4 159.6,518.2 156.2,516.4 152.5,520.5Z" fill="#66acff" stroke="#66acff"/><path d="M163.1,520.1 166.8,515.9 163.2,514.2 159.6,518.2Z" fill="#66baff" stroke="#66baff"/><path d="M170.3,517.8 173.9,513.7 170.4,511.9 166.8,515.9Z" fill="#66c8ff" stroke="#66c8ff"/><path d="M177.5,515.5 181,511.5 177.5,509.7 173.9,513.7Z" fill="#66d6ff" stroke="#66d6ff"/><path d="M184.6,513.3 188.2,509.3 184.6,507.5 181,511.5Z" fill="#66e3ff" stroke="#66e3ff"/><path d="M191.8,511 195.4,507.1 191.8,505.3 188.2,509.3Z" fill="#66f1ff" stroke="#66f1ff"/><path d="M199,508.8 202.5,505 198.9,503.2 195.4,507.1Z" fill="#66feff" stroke="#66feff"/><path d="M206.2,506.7 209.7,502.9 206.1,501.1 202.5,505Z" fill="#66fff3" stroke="#66fff3"/><path d="M213.4,504.6 216.9,500.8 213.2,499.1 209.7,502.9Z" fill="#66ffe6" stroke="#66ffe6"/><path d="M220.7,502.5 224.1,498.8 220.4,497.1 216.9,500.8Z" fill="#66ffda" stroke="#66ffda"/><path d="M145.2,528.9 148.9,524.7 145.4,522.8 141.8,527Z" fill="#668cff" stroke="#668cff"/><path d="M152.4,526.6 156,522.4 152.5,520.5 148.9,524.7Z" fill="#669bff" stroke="#669bff"/><path d="M159.5,524.2 163.1,520.1 159.6,518.2 156,522.4Z" fill="#66a9ff" stroke="#66a9ff"/><path d="M166.7,521.9 170.3,517.8 166.8,515.9 163.1,520.1Z" fill="#66b7ff" stroke="#66b7ff"/><path d="M173.9,519.6 177.5,515.5 173.9,513.7 170.3,517.8Z" fill="#66c5ff" stroke="#66c5ff"/><path d="M181,517.3 184.6,513.3 181,511.5 177.5,515.5Z" fill="#66d3ff" stroke="#66d3ff"/><path d="M188.2,515.1 191.8,511 188.2,509.3 184.6,513.3Z" fill="#66e1ff" stroke="#66e1ff"/><path d="M195.4,512.8 199,508.8 195.4,507.1 191.8,511Z" fill="#66efff" stroke="#66efff"/><path d="M202.7,510.6 206.2,506.7 202.5,505 199,508.8Z" fill="#66fcff" stroke="#66fcff"/><path d="M209.9,508.4 213.4,504.6 209.7,502.9 206.2,506.7Z" fill="#66fff5" stroke="#66fff5"/><path d="M217.1,506.3 220.7,502.5 216.9,500.8 213.4,504.6Z" fill="#66ffe8" stroke="#66ffe8"/><path d="M148.7,530.8 152.4,526.6 148.9,524.7 145.2,528.9Z" fill="#668aff" stroke="#668aff"/><path d="M155.9,528.5 159.5,524.2 156,522.4 152.4,526.6Z" fill="#6698ff" stroke="#6698ff"/><path d="M163,526.1 166.7,521.9 163.1,520.1 159.5,524.2Z" fill="#66a6ff" stroke="#66a6ff"/><path d="M170.2,523.8 173.9,519.6 170.3,517.8 166.7,521.9Z" fill="#66b5ff" stroke="#66b5ff"/><path d="M177.4,521.5 181,517.3 177.5,515.5 173.9,519.6Z" fill="#66c3ff" stroke="#66c3ff"/><path d="M184.6,519.1 188.2,515.1 184.6,513.3 181,517.3Z" fill="#66d1ff" stroke="#66d1ff"/><path d="M191.9,516.9 195.4,512.8 191.8,511 188.2,515.1Z" fill="#66dfff" stroke="#66dfff"/><path d="M199.1,514.6 202.7,510.6 199,508.8 195.4,512.8Z" fill="#66ecff" stroke="#66ecff"/><path d="M206.4,512.4 209.9,508.4 206.2,506.7 202.7,510.6Z" fill="#66faff" stroke="#66faff"/><path d="M213.6,510.2 217.1,506.3 213.4,504.6 209.9,508.4Z" fill="#66fff7" stroke="#66fff7"/><path d="M152.2,532.8 155.9,528.5 152.4,526.6 148.7,530.8Z" fill="#6687ff" stroke="#6687ff"/><path d="M159.4,530.4 163,526.1 159.5,524.2 155.9,528.5Z" fill="#6695ff" stroke="#6695ff"/><path d="M166.6,528 170.2,523.8 166.7,521.9 163,526.1Z" fill="#66a4ff" stroke="#66a4ff"/><path d="M173.8,525.7 177.4,521.5 173.9,519.6 170.2,523.8Z" fill="#66b2ff" stroke="#66b2ff"/><path d="M181,523.3 184.6,519.1 181,517.3 177.4,521.5Z" fill="#66c0ff" stroke="#66c0ff"/><path d="M188.3,521 191.9,516.9 188.2,515.1 184.6,519.1Z" fill="#66ceff" stroke="#66ceff"/><path d="M195.5,518.7 199.1,514.6 195.4,512.8 191.9,516.9Z" fill="#66dcff" stroke="#66dcff"/><path d="M202.8,516.4 206.4,512.4 202.7,510.6 199.1,514.6Z" fill="#66eaff" stroke="#66eaff"/><path d="M210.1,514.2 213.6,510.2 209.9,508.4 206.4,512.4Z" fill="#66f8ff" stroke="#66f8ff"/><path d="M155.7,534.7 159.4,530.4 155.9,528.5 152.2,532.8Z" fill="#6684ff" stroke="#6684ff"/><path d="M162.9,532.3 166.6,528 163,526.1 159.4,530.4Z" fill="#6693ff" stroke="#6693ff"/><path d="M170.2,529.9 173.8,525.7 170.2,523.8 166.6,528Z" fill="#66a1ff" stroke="#66a1ff"/><path d="M177.4,527.6 181,523.3 177.4,521.5 173.8,525.7Z" fill="#66b0ff" stroke="#66b0ff"/><path d="M184.7,525.2 188.3,521 184.6,519.1 181,523.3Z" fill="#66beff" stroke="#66beff"/><path d="M191.9,522.8 195.5,518.7 191.9,516.9 188.3,521Z" fill="#66ccff" stroke="#66ccff"/><path d="M199.2,520.5 202.8,516.4 199.1,514.6 195.5,518.7Z" fill="#66daff" stroke="#66daff"/><path d="M206.5,518.2 210.1,514.2 206.4,512.4 202.8,516.4Z" fill="#66e8ff" stroke="#66e8ff"/><path d="M159.3,536.7 162.9,532.3 159.4,530.4 155.7,534.7Z" fill="#6681ff" stroke="#6681ff"/><path d="M166.5,534.3 170.2,529.9 166.6,528 162.9,532.3Z" fill="#6690ff" stroke="#6690ff"/><path d="M173.8,531.9 177.4,527.6 173.8,525.7 170.2,529.9Z" fill="#669eff" stroke="#669eff"/><path d="M181,529.5 184.7,525.2 181,523.3 177.4,527.6Z" fill="#66adff" stroke="#66adff"/><path d="M188.3,527.1 191.9,522.8 188.3,521 184.7,525.2Z" fill="#66bbff" stroke="#66bbff"/><path d="M195.6,524.7 199.2,520.5 195.5,518.7 191.9,522.8Z" fill="#66caff" stroke="#66caff"/><path d="M202.9,522.3 206.5,518.2 202.8,516.4 199.2,520.5Z" fill="#66d8ff" stroke="#66d8ff"/><path d="M162.8,538.7 166.5,534.3 162.9,532.3 159.3,536.7Z" fill="#667eff" stroke="#667eff"/><path d="M170.1,536.3 173.8,531.9 170.2,529.9 166.5,534.3Z" fill="#668dff" stroke="#668dff"/><path d="M177.4,533.8 181,529.5 177.4,527.6 173.8,531.9Z" fill="#669cff" stroke="#669cff"/><path d="M184.7,531.4 188.3,527.1 184.7,525.2 181,529.5Z" fill="#66aaff" stroke="#66aaff"/><path d="M192,528.9 195.6,524.7 191.9,522.8 188.3,527.1Z" fill="#66b9ff" stroke="#66b9ff"/><path d="M199.3,526.5 202.9,522.3 199.2,520.5 195.6,524.7Z" fill="#66c7ff" stroke="#66c7ff"/><path d="M166.4,540.7 170.1,536.3 166.5,534.3 162.8,538.7Z" fill="#667bff" stroke="#667bff"/><path d="M173.7,538.2 177.4,533.8 173.8,531.9 170.1,536.3Z" fill="#668aff" stroke="#668aff"/><path d="M181,535.8 184.7,531.4 181,529.5 177.4,533.8Z" fill="#6699ff" stroke="#6699ff"/><path d="M188.4,533.3 192,528.9 188.3,527.1 184.7,531.4Z" fill="#66a8ff" stroke="#66a8ff"/><path d="M195.7,530.8 199.3,526.5 195.6,524.7 192,528.9Z" fill="#66b7ff" stroke="#66b7ff"/><path d="M170.1,542.8 173.7,538.2 170.1,536.3 166.4,540.7Z" fill="#6678ff" stroke="#6678ff"/><path d="M177.4,540.2 181,535.8 177.4,533.8 173.7,538.2Z" fill="#6687ff" stroke="#6687ff"/><path d="M184.7,537.7 188.4,533.3 184.7,531.4 181,535.8Z" fill="#6697ff" stroke="#6697ff"/><path d="M192.1,535.2 195.7,530.8 192,528.9 188.4,533.3Z" fill="#66a6ff" stroke="#66a6ff"/><path d="M173.7,544.8 177.4,540.2 173.7,538.2 170.1,542.8Z" fill="#6675ff" stroke="#6675ff"/><path d="M181,542.2 184.7,537.7 181,535.8 177.4,540.2Z" fill="#6685ff" stroke="#6685ff"/><path d="M188.4,539.7 192.1,535.2 188.4,533.3 184.7,537.7Z" fill="#6694ff" stroke="#6694ff"/><path d="M177.4,546.8 181,542.2 177.4,540.2 173.7,544.8Z" fill="#6673ff" stroke="#6673ff"/><path d="M184.7,544.2 188.4,539.7 184.7,537.7 181,542.2Z" fill="#6682ff" stroke="#6682ff"/><path d="M181,548.9 184.7,544.2 181,542.2 177.4,546.8Z" fill="#6670ff" stroke="#6670ff"/></g>
<path d="M181,548.9 177.4,546.8 173.7,544.8 170.1,542.8 166.4,540.7 162.8,538.7 159.3,536.7 155.7,534.7 152.2,532.8 148.7,530.8 145.2,528.9 141.8,527 138.3,525.1 134.9,523.3 131.5,521.5 128.2,519.7 124.8,518 121.5,516.3 118.2,514.6 114.9,513 111.7,511.5 108.4,510 105.2,508.5 102,507.1 98.9,505.8 95.7,504.5 92.6,503.2 89.5,502.1 86.4,500.9 83.3,499.9 80.3,498.9 77.3,497.9 74.3,497 71.3,496.2 68.3,495.4 65.4,494.7 62.5,494.1 59.6,493.5 56.7,493 53.9,492.6 51.1,492.2M181,548.9 184.7,544.2 188.4,539.7 192.1,535.2 195.7,530.8 199.3,526.5 202.9,522.3 206.5,518.2 210.1,514.2 213.6,510.2 217.1,506.3 220.7,502.5 224.1,498.8 227.6,495.1 231.1,491.6 234.5,488.1 237.9,484.7 241.3,481.3 244.7,478.1 248.1,474.9 251.4,471.8 254.7,468.7 258,465.8 261.3,462.9 264.6,460.1 267.8,457.3 271.1,454.7 274.3,452.1 277.4,449.6 280.6,447.1 283.8,444.8 286.9,442.5 290,440.2 293.1,438.1 296.2,436 299.2,434 302.2,432 305.3,430.2 308.2,428.4 311.2,426.7 314.2,425M188.4,539.7 184.7,537.7 181,535.8 177.4,533.8 173.8,531.9 170.2,529.9 166.6,528 163,526.1 159.5,524.2 156,522.4 152.5,520.5 149.1,518.7 145.6,516.9 142.2,515.2 138.8,513.4 135.4,511.7 132.1,510.1 128.8,508.5 125.5,506.9 122.2,505.4 118.9,503.9 115.7,502.5 112.4,501.1 109.2,499.8 106.1,498.5 102.9,497.3 99.8,496.1 96.7,495 93.6,494 90.5,493 87.4,492 84.4,491.2 81.4,490.3 78.4,489.6 75.5,488.9 72.5,488.3 69.6,487.7 66.7,487.2 63.8,486.7 61,486.3 58.1,486M173.7,544.8 177.4,540.2 181,535.8 184.7,531.4 188.3,527.1 191.9,522.8 195.5,518.7 199.1,514.6 202.7,510.6 206.2,506.7 209.7,502.9 213.2,499.1 216.7,495.4 220.2,491.8 223.7,488.3 227.1,484.8 230.5,481.4 233.9,478.1 237.3,474.9 240.6,471.8 244,468.7 247.3,465.7 250.6,462.8 253.9,459.9 257.1,457.1 260.4,454.4 263.6,451.8 266.8,449.2 270,446.8 273.2,444.4 276.3,442 279.5,439.8 282.6,437.6 285.7,435.5 288.7,433.4 291.8,431.4 294.8,429.5 297.8,427.7 300.8,426 303.8,424.3 306.7,422.7M195.7,530.8 192,528.9 188.3,527.1 184.7,525.2 181,523.3 177.4,521.5 173.9,519.6 170.3,517.8 166.8,515.9 163.2,514.2 159.8,512.4 156.3,510.6 152.8,508.9 149.4,507.2 146,505.6 142.6,504 139.3,502.4 135.9,500.9 132.6,499.4 129.3,497.9 126.1,496.5 122.8,495.1 119.6,493.8 116.4,492.6 113.2,491.4 110,490.2 106.9,489.1 103.8,488.1 100.7,487.1 97.6,486.1 94.5,485.2 91.5,484.4 88.5,483.7 85.5,483 82.5,482.3 79.6,481.7 76.6,481.2 73.7,480.7 70.8,480.3 68,480 65.1,479.7M166.4,540.7 170.1,536.3 173.8,531.9 177.4,527.6 181,523.3 184.6,519.1 188.2,515.1 191.8,511 195.4,507.1 198.9,503.2 202.4,499.4 205.9,495.7 209.4,492.1 212.9,488.5 216.3,485 219.8,481.6 223.2,478.2 226.6,475 229.9,471.8 233.3,468.7 236.6,465.6 239.9,462.7 243.2,459.8 246.5,456.9 249.8,454.2 253,451.5 256.3,448.9 259.5,446.4 262.7,444 265.8,441.6 269,439.3 272.1,437.1 275.2,434.9 278.3,432.9 281.4,430.9 284.4,428.9 287.5,427.1 290.5,425.3 293.5,423.6 296.4,421.9 299.4,420.3M202.9,522.3 199.2,520.5 195.5,518.7 191.9,516.9 188.2,515.1 184.6,513.3 181,511.5 177.5,509.7 173.9,507.9 170.4,506.2 166.9,504.5 163.4,502.8 160,501.1 156.6,499.5 153.2,497.9 149.8,496.4 146.4,494.9 143.1,493.4 139.7,492 136.4,490.6 133.2,489.2 129.9,487.9 126.7,486.7 123.5,485.5 120.3,484.3 117.1,483.2 113.9,482.2 110.8,481.2 107.7,480.2 104.6,479.3 101.6,478.5 98.5,477.7 95.5,477 92.5,476.4 89.5,475.7 86.6,475.2 83.6,474.7 80.7,474.3 77.8,473.9 74.9,473.6 72.1,473.3M159.3,536.7 162.9,532.3 166.6,528 170.2,523.8 173.9,519.6 177.5,515.5 181,511.5 184.6,507.5 188.2,503.6 191.7,499.8 195.2,496 198.7,492.4 202.2,488.8 205.6,485.2 209.1,481.8 212.5,478.4 215.9,475.1 219.3,471.9 222.7,468.7 226,465.6 229.4,462.6 232.7,459.7 236,456.8 239.3,454 242.5,451.3 245.8,448.7 249,446.1 252.2,443.7 255.4,441.3 258.6,438.9 261.7,436.7 264.8,434.5 268,432.4 271,430.3 274.1,428.4 277.2,426.5 280.2,424.7 283.2,422.9 286.2,421.2 289.2,419.6 292.1,418.1M210.1,514.2 206.4,512.4 202.7,510.6 199,508.8 195.4,507.1 191.8,505.3 188.2,503.6 184.6,501.9 181,500.2 177.5,498.5 174,496.8 170.5,495.2 167.1,493.6 163.6,492 160.2,490.5 156.8,489 153.5,487.5 150.1,486.1 146.8,484.7 143.5,483.4 140.2,482.1 136.9,480.9 133.7,479.7 130.5,478.5 127.3,477.4 124.1,476.3 120.9,475.3 117.8,474.4 114.7,473.5 111.6,472.7 108.5,471.9 105.5,471.1 102.4,470.5 99.4,469.8 96.4,469.3 93.5,468.8 90.5,468.3 87.6,467.9 84.7,467.6 81.8,467.3 79,467M152.2,532.8 155.9,528.5 159.5,524.2 163.1,520.1 166.8,515.9 170.4,511.9 173.9,507.9 177.5,504 181,500.2 184.6,496.4 188.1,492.7 191.6,489.1 195,485.5 198.5,482 201.9,478.6 205.4,475.3 208.8,472 212.2,468.8 215.5,465.7 218.9,462.6 222.2,459.7 225.5,456.8 228.8,453.9 232.1,451.2 235.4,448.5 238.6,445.9 241.8,443.4 245,441 248.2,438.6 251.4,436.3 254.5,434.1 257.7,431.9 260.8,429.9 263.9,427.9 266.9,426 270,424.1 273,422.3 276,420.6 279,419 282,417.4 285,415.9M217.1,506.3 213.4,504.6 209.7,502.9 206.1,501.1 202.4,499.4 198.8,497.7 195.2,496 191.6,494.4 188.1,492.7 184.5,491.1 181,489.5 177.6,487.9 174.1,486.3 170.7,484.8 167.2,483.3 163.8,481.9 160.5,480.5 157.1,479.1 153.8,477.7 150.5,476.4 147.2,475.2 143.9,474 140.6,472.8 137.4,471.7 134.2,470.7 131,469.7 127.9,468.7 124.7,467.8 121.6,466.9 118.5,466.1 115.4,465.4 112.4,464.7 109.3,464 106.3,463.5 103.3,462.9 100.3,462.4 97.4,462 94.4,461.6 91.5,461.3 88.6,461 85.8,460.8M145.2,528.9 148.9,524.7 152.5,520.5 156.2,516.4 159.8,512.4 163.3,508.4 166.9,504.5 170.5,500.6 174,496.8 177.5,493.1 181,489.5 184.5,485.9 188,482.4 191.5,478.9 194.9,475.5 198.3,472.2 201.7,469 205.1,465.8 208.5,462.7 211.8,459.7 215.1,456.8 218.4,453.9 221.7,451.2 225,448.4 228.3,445.8 231.5,443.3 234.7,440.8 237.9,438.4 241.1,436 244.3,433.8 247.4,431.6 250.6,429.5 253.7,427.5 256.8,425.5 259.9,423.6 262.9,421.8 265.9,420.1 269,418.4 272,416.8 274.9,415.3 277.9,413.8M224.1,498.8 220.4,497.1 216.7,495.4 213.1,493.7 209.4,492.1 205.8,490.4 202.2,488.8 198.6,487.1 195,485.5 191.5,483.9 188,482.4 184.5,480.8 181,479.3 177.6,477.8 174.2,476.4 170.8,475 167.4,473.6 164,472.3 160.7,471 157.4,469.7 154.1,468.5 150.8,467.4 147.5,466.2 144.3,465.2 141.1,464.2 137.9,463.2 134.7,462.3 131.6,461.4 128.5,460.6 125.3,459.8 122.3,459.1 119.2,458.4 116.1,457.8 113.1,457.2 110.1,456.7 107.1,456.3 104.2,455.9 101.2,455.5 98.3,455.2 95.4,455 92.5,454.8M138.3,525.1 142,521 145.6,516.9 149.2,512.9 152.8,508.9 156.4,505 160,501.1 163.5,497.3 167.1,493.6 170.6,489.9 174.1,486.3 177.6,482.8 181,479.3 184.5,475.9 187.9,472.6 191.3,469.3 194.7,466.1 198.1,463 201.5,459.9 204.8,457 208.1,454.1 211.5,451.2 214.8,448.5 218,445.8 221.3,443.2 224.5,440.7 227.7,438.3 230.9,435.9 234.1,433.6 237.3,431.4 240.4,429.2 243.6,427.2 246.7,425.2 249.8,423.3 252.8,421.4 255.9,419.7 258.9,418 262,416.3 265,414.8 267.9,413.3 270.9,411.8M231.1,491.6 227.4,489.9 223.7,488.3 220,486.6 216.3,485 212.7,483.4 209.1,481.8 205.5,480.2 201.9,478.6 198.4,477.1 194.9,475.5 191.4,474 187.9,472.6 184.5,471.1 181,469.7 177.6,468.4 174.2,467 170.9,465.7 167.5,464.5 164.2,463.3 160.9,462.1 157.6,461 154.4,459.9 151.1,458.9 147.9,457.9 144.7,456.9 141.5,456.1 138.4,455.2 135.2,454.4 132.1,453.7 129,453 126,452.4 122.9,451.8 119.9,451.2 116.9,450.8 113.9,450.3 110.9,449.9 108,449.6 105,449.3 102.1,449.1 99.2,448.9M131.5,521.5 135.2,517.4 138.8,513.4 142.4,509.5 146,505.6 149.6,501.7 153.2,497.9 156.7,494.2 160.2,490.5 163.7,486.9 167.2,483.3 170.7,479.8 174.2,476.4 177.6,473 181,469.7 184.5,466.5 187.8,463.3 191.2,460.2 194.6,457.2 197.9,454.3 201.2,451.4 204.6,448.6 207.8,445.9 211.1,443.3 214.4,440.7 217.6,438.3 220.8,435.9 224,433.5 227.2,431.3 230.4,429.1 233.5,427 236.7,425 239.8,423 242.9,421.2 245.9,419.4 249,417.6 252,416 255,414.4 258,412.8 261,411.4 264,410M237.9,484.7 234.2,483.1 230.5,481.4 226.8,479.8 223.2,478.2 219.5,476.7 215.9,475.1 212.3,473.5 208.8,472 205.2,470.5 201.7,469 198.2,467.5 194.7,466.1 191.3,464.7 187.8,463.3 184.4,462 181,460.7 177.7,459.5 174.3,458.2 171,457.1 167.7,455.9 164.4,454.8 161.1,453.8 157.9,452.8 154.7,451.9 151.5,451 148.3,450.1 145.1,449.3 142,448.5 138.9,447.8 135.8,447.2 132.7,446.6 129.6,446 126.6,445.5 123.6,445 120.6,444.6 117.6,444.2 114.6,443.9 111.7,443.7 108.8,443.4 105.9,443.2M124.8,518 128.5,514 132.1,510.1 135.7,506.2 139.3,502.4 142.9,498.6 146.4,494.9 149.9,491.2 153.5,487.5 157,484 160.5,480.5 163.9,477 167.4,473.6 170.8,470.3 174.2,467 177.7,463.8 181,460.7 184.4,457.7 187.8,454.7 191.1,451.8 194.4,449 197.7,446.2 201,443.5 204.3,440.9 207.5,438.4 210.8,436 214,433.6 217.2,431.3 220.4,429.1 223.5,427 226.7,424.9 229.8,422.9 232.9,421 236,419.2 239.1,417.4 242.1,415.7 245.2,414.1 248.2,412.5 251.2,411.1 254.2,409.6 257.1,408.3M244.7,478.1 241,476.5 237.3,474.9 233.6,473.3 229.9,471.8 226.3,470.2 222.7,468.7 219.1,467.2 215.5,465.7 212,464.2 208.5,462.7 205,461.3 201.5,459.9 198,458.6 194.6,457.2 191.2,455.9 187.8,454.7 184.4,453.5 181,452.3 177.7,451.1 174.4,450.1 171.1,449 167.8,448 164.6,447 161.4,446.1 158.1,445.2 155,444.4 151.8,443.6 148.6,442.9 145.5,442.2 142.4,441.6 139.3,441 136.3,440.5 133.2,440 130.2,439.6 127.2,439.2 124.2,438.8 121.2,438.5 118.3,438.2 115.4,438 112.5,437.9M118.2,514.6 121.8,510.8 125.5,506.9 129,503.1 132.6,499.4 136.2,495.6 139.7,492 143.3,488.3 146.8,484.7 150.3,481.2 153.8,477.7 157.2,474.3 160.7,471 164.1,467.7 167.5,464.5 170.9,461.3 174.3,458.2 177.7,455.2 181,452.3 184.4,449.4 187.7,446.6 191,443.9 194.3,441.3 197.5,438.7 200.8,436.2 204,433.8 207.2,431.5 210.4,429.2 213.6,427.1 216.8,425 219.9,422.9 223.1,421 226.2,419.1 229.2,417.3 232.3,415.6 235.4,414 238.4,412.4 241.4,410.9 244.4,409.4 247.4,408 250.4,406.7M251.4,471.8 247.7,470.2 244,468.7 240.3,467.1 236.6,465.6 233,464.1 229.4,462.6 225.8,461.1 222.2,459.7 218.7,458.2 215.1,456.8 211.6,455.4 208.1,454.1 204.7,452.7 201.2,451.4 197.8,450.2 194.4,449 191,447.8 187.7,446.6 184.4,445.5 181,444.5 177.7,443.4 174.5,442.5 171.2,441.5 168,440.7 164.8,439.8 161.6,439 158.4,438.3 155.3,437.6 152.1,436.9 149,436.3 145.9,435.8 142.8,435.3 139.8,434.8 136.8,434.4 133.7,434 130.8,433.7 127.8,433.4 124.8,433.1 121.9,432.9 119,432.8M111.7,511.5 115.3,507.7 118.9,503.9 122.5,500.2 126.1,496.5 129.6,492.8 133.2,489.2 136.7,485.6 140.2,482.1 143.7,478.6 147.2,475.2 150.6,471.8 154.1,468.5 157.5,465.3 160.9,462.1 164.3,459 167.7,455.9 171.1,453 174.4,450.1 177.7,447.2 181,444.5 184.3,441.8 187.6,439.2 190.9,436.7 194.1,434.2 197.4,431.8 200.6,429.5 203.8,427.3 206.9,425.2 210.1,423.1 213.2,421.2 216.4,419.2 219.5,417.4 222.6,415.7 225.6,414 228.7,412.4 231.7,410.8 234.8,409.3 237.8,407.9 240.7,406.6 243.7,405.3M258,465.8 254.3,464.3 250.6,462.8 246.9,461.3 243.2,459.8 239.6,458.3 236,456.8 232.4,455.4 228.8,453.9 225.3,452.5 221.7,451.2 218.2,449.8 214.8,448.5 211.3,447.2 207.8,445.9 204.4,444.7 201,443.5 197.6,442.4 194.3,441.3 190.9,440.2 187.6,439.2 184.3,438.2 181,437.3 177.8,436.4 174.5,435.5 171.3,434.7 168.1,433.9 165,433.2 161.8,432.6 158.7,431.9 155.5,431.4 152.4,430.8 149.4,430.3 146.3,429.9 143.3,429.5 140.3,429.1 137.3,428.8 134.3,428.5 131.3,428.3 128.4,428.1 125.5,428M105.2,508.5 108.8,504.8 112.4,501.1 116,497.5 119.6,493.8 123.1,490.2 126.7,486.7 130.2,483.1 133.7,479.7 137.2,476.2 140.6,472.8 144.1,469.5 147.5,466.2 151,463 154.4,459.9 157.8,456.8 161.1,453.8 164.5,450.9 167.8,448 171.2,445.2 174.5,442.5 177.8,439.8 181,437.3 184.3,434.8 187.5,432.4 190.8,430 194,427.8 197.2,425.6 200.3,423.5 203.5,421.5 206.6,419.5 209.8,417.6 212.9,415.9 216,414.1 219,412.5 222.1,410.9 225.1,409.4 228.1,408 231.1,406.6 234.1,405.3 237.1,404M264.6,460.1 260.9,458.6 257.1,457.1 253.5,455.7 249.8,454.2 246.2,452.8 242.5,451.3 238.9,449.9 235.4,448.5 231.8,447.2 228.3,445.8 224.8,444.5 221.3,443.2 217.8,442 214.4,440.7 210.9,439.6 207.5,438.4 204.2,437.3 200.8,436.2 197.5,435.2 194.1,434.2 190.8,433.3 187.5,432.4 184.3,431.5 181,430.7 177.8,429.9 174.6,429.2 171.4,428.5 168.3,427.8 165.1,427.2 162,426.7 158.9,426.2 155.8,425.7 152.8,425.3 149.7,424.9 146.7,424.6 143.7,424.3 140.7,424 137.7,423.8 134.8,423.6 131.9,423.5M98.9,505.8 102.5,502.1 106.1,498.5 109.6,494.9 113.2,491.4 116.7,487.8 120.3,484.3 123.8,480.8 127.3,477.4 130.8,474 134.2,470.7 137.7,467.4 141.1,464.2 144.5,461 147.9,457.9 151.3,454.8 154.7,451.9 158,448.9 161.4,446.1 164.7,443.3 168,440.7 171.3,438 174.5,435.5 177.8,433.1 181,430.7 184.3,428.4 187.5,426.1 190.7,424 193.8,421.9 197,420 200.1,418 203.2,416.2 206.4,414.5 209.4,412.8 212.5,411.2 215.6,409.6 218.6,408.2 221.6,406.8 224.6,405.4 227.6,404.1 230.6,402.9M271.1,454.7 267.3,453.2 263.6,451.8 259.9,450.4 256.3,448.9 252.6,447.5 249,446.1 245.4,444.8 241.8,443.4 238.3,442.1 234.7,440.8 231.2,439.5 227.7,438.3 224.3,437 220.8,435.9 217.4,434.7 214,433.6 210.6,432.5 207.2,431.5 203.9,430.5 200.6,429.5 197.3,428.6 194,427.8 190.7,426.9 187.5,426.1 184.2,425.4 181,424.7 177.9,424.1 174.7,423.4 171.5,422.9 168.4,422.4 165.3,421.9 162.2,421.4 159.2,421 156.1,420.7 153.1,420.4 150.1,420.1 147.1,419.8 144.1,419.6 141.2,419.5 138.2,419.3M92.6,503.2 96.2,499.7 99.8,496.1 103.3,492.6 106.9,489.1 110.4,485.6 113.9,482.2 117.4,478.7 120.9,475.3 124.4,472 127.9,468.7 131.3,465.5 134.7,462.3 138.1,459.1 141.5,456.1 144.9,453 148.3,450.1 151.6,447.2 155,444.4 158.3,441.7 161.6,439 164.9,436.4 168.1,433.9 171.4,431.5 174.6,429.2 177.8,426.9 181,424.7 184.2,422.6 187.4,420.6 190.6,418.6 193.7,416.7 196.8,414.9 199.9,413.2 203,411.6 206.1,410 209.1,408.5 212.1,407.1 215.2,405.7 218.2,404.4 221.1,403.2 224.1,402M277.4,449.6 273.7,448.2 270,446.8 266.3,445.4 262.7,444 259,442.6 255.4,441.3 251.8,439.9 248.2,438.6 244.7,437.3 241.1,436 237.6,434.8 234.1,433.6 230.7,432.4 227.2,431.3 223.8,430.2 220.4,429.1 217,428.1 213.6,427.1 210.3,426.1 206.9,425.2 203.6,424.3 200.3,423.5 197.1,422.7 193.8,421.9 190.6,421.2 187.4,420.6 184.2,419.9 181,419.4 177.9,418.8 174.8,418.3 171.7,417.9 168.6,417.5 165.5,417.1 162.4,416.8 159.4,416.5 156.4,416.2 153.4,416 150.4,415.8 147.5,415.6 144.5,415.5M86.4,500.9 90,497.5 93.6,494 97.1,490.5 100.7,487.1 104.2,483.6 107.7,480.2 111.2,476.8 114.7,473.5 118.2,470.2 121.6,466.9 125,463.7 128.5,460.6 131.9,457.5 135.2,454.4 138.6,451.4 142,448.5 145.3,445.7 148.6,442.9 152,440.2 155.3,437.6 158.5,435 161.8,432.6 165,430.2 168.3,427.8 171.5,425.6 174.7,423.4 177.9,421.4 181,419.4 184.2,417.4 187.3,415.6 190.4,413.8 193.5,412.2 196.6,410.5 199.7,409 202.7,407.5 205.8,406.1 208.8,404.8 211.8,403.5 214.8,402.3 217.7,401.2M283.8,444.8 280,443.4 276.3,442 272.6,440.7 269,439.3 265.3,438 261.7,436.7 258.1,435.4 254.5,434.1 251,432.8 247.4,431.6 243.9,430.4 240.4,429.2 237,428.1 233.5,427 230.1,425.9 226.7,424.9 223.3,423.9 219.9,422.9 216.6,422 213.2,421.2 209.9,420.3 206.6,419.5 203.4,418.8 200.1,418 196.9,417.4 193.7,416.7 190.5,416.2 187.3,415.6 184.2,415.1 181,414.6 177.9,414.2 174.8,413.8 171.8,413.5 168.7,413.2 165.7,412.9 162.7,412.6 159.7,412.4 156.7,412.3 153.7,412.1 150.8,412M80.3,498.9 83.9,495.5 87.4,492 91,488.6 94.5,485.2 98.1,481.9 101.6,478.5 105,475.2 108.5,471.9 112,468.6 115.4,465.4 118.8,462.2 122.3,459.1 125.7,456 129,453 132.4,450.1 135.8,447.2 139.1,444.4 142.4,441.6 145.7,438.9 149,436.3 152.3,433.8 155.5,431.4 158.8,429 162,426.7 165.2,424.5 168.4,422.4 171.6,420.3 174.8,418.3 177.9,416.4 181,414.6 184.2,412.9 187.3,411.2 190.3,409.7 193.4,408.1 196.4,406.7 199.5,405.3 202.5,404 205.5,402.8 208.5,401.6 211.4,400.5M290,440.2 286.3,438.9 282.6,437.6 278.9,436.3 275.2,434.9 271.6,433.6 268,432.4 264.4,431.1 260.8,429.9 257.2,428.7 253.7,427.5 250.2,426.3 246.7,425.2 243.2,424.1 239.8,423 236.3,422 232.9,421 229.5,420.1 226.2,419.1 222.8,418.3 219.5,417.4 216.2,416.6 212.9,415.9 209.6,415.1 206.4,414.5 203.1,413.8 199.9,413.2 196.7,412.7 193.5,412.2 190.4,411.7 187.3,411.2 184.1,410.8 181,410.5 178,410.2 174.9,409.9 171.9,409.6 168.8,409.4 165.8,409.2 162.9,409.1 159.9,408.9 156.9,408.8M74.3,497 77.8,493.7 81.4,490.3 85,487 88.5,483.7 92,480.3 95.5,477 99,473.7 102.4,470.5 105.9,467.2 109.3,464 112.7,460.9 116.1,457.8 119.5,454.8 122.9,451.8 126.3,448.9 129.6,446 132.9,443.2 136.3,440.5 139.6,437.8 142.8,435.3 146.1,432.8 149.4,430.3 152.6,428 155.8,425.7 159,423.5 162.2,421.4 165.4,419.4 168.6,417.5 171.7,415.6 174.8,413.8 177.9,412.1 181,410.5 184.1,408.9 187.2,407.4 190.2,406 193.3,404.7 196.3,403.4 199.3,402.2 202.2,401 205.2,399.9M296.2,436 292.4,434.7 288.7,433.4 285,432.1 281.4,430.9 277.7,429.6 274.1,428.4 270.5,427.1 266.9,426 263.4,424.8 259.9,423.6 256.3,422.5 252.8,421.4 249.4,420.4 245.9,419.4 242.5,418.4 239.1,417.4 235.7,416.5 232.3,415.6 229,414.8 225.6,414 222.3,413.2 219,412.5 215.8,411.8 212.5,411.2 209.3,410.6 206.1,410 202.9,409.5 199.7,409 196.5,408.6 193.4,408.1 190.3,407.8 187.2,407.4 184.1,407.2 181,406.9 178,406.7 175,406.5 172,406.3 169,406.2 166,406 163.1,406M68.3,495.4 71.9,492.2 75.5,488.9 79,485.6 82.5,482.3 86,479 89.5,475.7 93,472.5 96.4,469.3 99.9,466.1 103.3,462.9 106.7,459.8 110.1,456.7 113.5,453.7 116.9,450.8 120.2,447.9 123.6,445 126.9,442.3 130.2,439.6 133.5,436.9 136.8,434.4 140,431.9 143.3,429.5 146.5,427.2 149.7,424.9 152.9,422.8 156.1,420.7 159.3,418.7 162.4,416.8 165.6,414.9 168.7,413.2 171.8,411.5 174.9,409.9 178,408.3 181,406.9 184.1,405.5 187.1,404.2 190.1,402.9 193.1,401.7 196.1,400.6 199.1,399.5M302.2,432 298.5,430.8 294.8,429.5 291.1,428.3 287.5,427.1 283.8,425.9 280.2,424.7 276.6,423.5 273,422.3 269.5,421.2 265.9,420.1 262.4,419 258.9,418 255.5,416.9 252,416 248.6,415 245.2,414.1 241.8,413.2 238.4,412.4 235.1,411.6 231.7,410.8 228.4,410.1 225.1,409.4 221.9,408.8 218.6,408.2 215.4,407.6 212.1,407.1 209,406.6 205.8,406.1 202.6,405.7 199.5,405.3 196.4,405 193.3,404.7 190.2,404.4 187.1,404.2 184.1,404 181,403.8 178,403.7 175,403.5 172.1,403.4 169.1,403.4M62.5,494.1 66,490.9 69.6,487.7 73.1,484.4 76.6,481.2 80.1,477.9 83.6,474.7 87.1,471.5 90.5,468.3 94,465.1 97.4,462 100.8,458.9 104.2,455.9 107.5,452.9 110.9,449.9 114.2,447.1 117.6,444.2 120.9,441.5 124.2,438.8 127.5,436.2 130.8,433.7 134,431.2 137.3,428.8 140.5,426.5 143.7,424.3 146.9,422.1 150.1,420.1 153.2,418.1 156.4,416.2 159.5,414.4 162.7,412.6 165.8,411 168.8,409.4 171.9,407.9 175,406.5 178,405.1 181,403.8 184,402.6 187,401.4 190,400.3 193,399.2M308.2,428.4 304.5,427.2 300.8,426 297.1,424.8 293.5,423.6 289.8,422.4 286.2,421.2 282.6,420.1 279,419 275.5,417.9 272,416.8 268.5,415.8 265,414.8 261.5,413.8 258,412.8 254.6,411.9 251.2,411.1 247.8,410.2 244.4,409.4 241.1,408.7 237.8,407.9 234.4,407.2 231.1,406.6 227.9,406 224.6,405.4 221.4,404.9 218.2,404.4 215,403.9 211.8,403.5 208.6,403.1 205.5,402.8 202.4,402.5 199.3,402.2 196.2,402 193.1,401.7 190.1,401.6 187,401.4 184,401.3 181,401.2 178.1,401.1 175.1,401M56.7,493 60.3,489.9 63.8,486.7 67.3,483.5 70.8,480.3 74.3,477.1 77.8,473.9 81.3,470.7 84.7,467.6 88.1,464.4 91.5,461.3 94.9,458.2 98.3,455.2 101.7,452.2 105,449.3 108.4,446.5 111.7,443.7 115,440.9 118.3,438.2 121.6,435.6 124.8,433.1 128.1,430.7 131.3,428.3 134.5,426 137.7,423.8 140.9,421.7 144.1,419.6 147.3,417.7 150.4,415.8 153.6,414 156.7,412.3 159.8,410.6 162.9,409.1 165.9,407.6 169,406.2 172,404.8 175,403.5 178.1,402.3 181,401.2 184,400.1 187,399M314.2,425 310.4,423.8 306.7,422.7 303.1,421.5 299.4,420.3 295.8,419.2 292.1,418.1 288.6,417 285,415.9 281.4,414.8 277.9,413.8 274.4,412.8 270.9,411.8 267.4,410.9 264,410 260.6,409.1 257.1,408.3 253.8,407.5 250.4,406.7 247,406 243.7,405.3 240.4,404.7 237.1,404 233.8,403.5 230.6,402.9 227.3,402.4 224.1,402 220.9,401.5 217.7,401.2 214.6,400.8 211.4,400.5 208.3,400.2 205.2,399.9 202.1,399.7 199.1,399.5 196,399.4 193,399.2 190,399.1 187,399 184,399 181,398.9M51.1,492.2 54.6,489.1 58.1,486 61.6,482.8 65.1,479.7 68.6,476.5 72.1,473.3 75.5,470.2 79,467 82.4,463.9 85.8,460.8 89.2,457.8 92.5,454.8 95.9,451.8 99.2,448.9 102.6,446 105.9,443.2 109.2,440.5 112.5,437.9 115.7,435.3 119,432.8 122.2,430.3 125.5,428 128.7,425.7 131.9,423.5 135.1,421.4 138.2,419.3 141.4,417.4 144.5,415.5 147.7,413.7 150.8,412 153.9,410.4 156.9,408.8 160,407.4 163.1,406 166.1,404.6 169.1,403.4 172.1,402.2 175.1,401 178.1,399.9 181,398.9" fill="none" stroke="#000" stroke-opacity="0.72" stroke-width="0.85" stroke-linejoin="round" stroke-linecap="round"/>
<text x="48.6" y="516.1" text-anchor="end" font-size="6.8" textLength="10.4" lengthAdjust="spacingAndGlyphs">100</text>
<text x="47.5" y="493.3" text-anchor="end" font-size="6.8" textLength="10.4" lengthAdjust="spacingAndGlyphs">150</text>
<text x="46.4" y="470.5" text-anchor="end" font-size="6.8" textLength="10.4" lengthAdjust="spacingAndGlyphs">200</text>
<text x="45.3" y="447.6" text-anchor="end" font-size="6.8" textLength="10.4" lengthAdjust="spacingAndGlyphs">250</text>
<text x="44.2" y="424.8" text-anchor="end" font-size="6.8" textLength="10.4" lengthAdjust="spacingAndGlyphs">300</text>
<text x="43.1" y="402" text-anchor="end" font-size="6.8" textLength="10.4" lengthAdjust="spacingAndGlyphs">350</text>
<text x="42" y="379.2" text-anchor="end" font-size="6.8" textLength="10.4" lengthAdjust="spacingAndGlyphs">400</text>
<text x="175.3" y="631.2" text-anchor="middle" font-size="6.8">0</text>
<text x="152.4" y="618.1" text-anchor="end" font-size="6.8" textLength="6.9" lengthAdjust="spacingAndGlyphs">10</text>
<text x="210" y="618.1" text-anchor="start" font-size="6.8" textLength="6.9" lengthAdjust="spacingAndGlyphs">40</text>
<text x="127" y="605.5" text-anchor="end" font-size="6.8" textLength="6.9" lengthAdjust="spacingAndGlyphs">20</text>
<text x="235.3" y="605.5" text-anchor="start" font-size="6.8" textLength="6.9" lengthAdjust="spacingAndGlyphs">60</text>
<text x="101.6" y="593" text-anchor="end" font-size="6.8" textLength="6.9" lengthAdjust="spacingAndGlyphs">30</text>
<text x="260.7" y="593" text-anchor="start" font-size="6.8" textLength="6.9" lengthAdjust="spacingAndGlyphs">80</text>
<text x="76.3" y="580.4" text-anchor="end" font-size="6.8" textLength="6.9" lengthAdjust="spacingAndGlyphs">40</text>
<text x="286.1" y="580.4" text-anchor="start" font-size="6.8" textLength="10.4" lengthAdjust="spacingAndGlyphs">100</text>
<text x="50.9" y="567.8" text-anchor="end" font-size="6.8" textLength="6.9" lengthAdjust="spacingAndGlyphs">50</text>
<text x="311.4" y="567.8" text-anchor="start" font-size="6.8" textLength="10.4" lengthAdjust="spacingAndGlyphs">120</text>
<text x="188.4" y="631.0" text-anchor="middle" font-size="6.8">20</text>
<g fill="#000"><circle cx="52.4" cy="518.4" r="1.4"/><circle cx="51.3" cy="495.6" r="1.4"/><circle cx="50.2" cy="472.8" r="1.4"/><circle cx="49.1" cy="449.9" r="1.4"/><circle cx="48" cy="427.1" r="1.4"/><circle cx="46.9" cy="404.3" r="1.4"/><circle cx="45.8" cy="381.5" r="1.4"/><circle cx="181.1" cy="623.9" r="1.4"/><circle cx="155.7" cy="611.3" r="1.4"/><circle cx="206.4" cy="611.3" r="1.4"/><circle cx="130.3" cy="598.7" r="1.4"/><circle cx="231.8" cy="598.7" r="1.4"/><circle cx="104.9" cy="586.2" r="1.4"/><circle cx="257.1" cy="586.2" r="1.4"/><circle cx="79.6" cy="573.6" r="1.4"/><circle cx="282.4" cy="573.6" r="1.4"/><circle cx="54.2" cy="561" r="1.4"/><circle cx="307.8" cy="561" r="1.4"/></g>
<text x="53.1" y="617.7" font-size="7.4" textLength="30.6" lengthAdjust="spacingAndGlyphs">C: Blends</text>
<text x="271.4" y="617.9" font-size="7.4" textLength="43" lengthAdjust="spacingAndGlyphs" xml:space="preserve" style="white-space:pre">A: LOAD  (%)</text>
<text transform="translate(5.8,473.5) rotate(-90)" text-anchor="middle" font-size="7.4" textLength="29.4" lengthAdjust="spacingAndGlyphs">EGT (0C)</text>
</g>
<g id="scatter">
<rect x="422.2" y="363.3" width="261.9" height="233.2" fill="none" stroke="#555" stroke-width="1"/>
<text x="435.1" y="610.3" text-anchor="middle" font-size="6.3">150</text>
<text x="412.9" y="587.5" text-anchor="end" font-size="6.3">150</text>
<text x="482.2" y="610.3" text-anchor="middle" font-size="6.3">200</text>
<text x="412.9" y="545.5" text-anchor="end" font-size="6.3">200</text>
<text x="529.4" y="610.3" text-anchor="middle" font-size="6.3">250</text>
<text x="412.9" y="503.4" text-anchor="end" font-size="6.3">250</text>
<text x="576.5" y="610.3" text-anchor="middle" font-size="6.3">300</text>
<text x="412.9" y="461.4" text-anchor="end" font-size="6.3">300</text>
<text x="623.7" y="610.3" text-anchor="middle" font-size="6.3">350</text>
<text x="412.9" y="419.3" text-anchor="end" font-size="6.3">350</text>
<text x="670.8" y="610.3" text-anchor="middle" font-size="6.3">400</text>
<text x="412.9" y="377.3" text-anchor="end" font-size="6.3">400</text>
<path d="M435.1,596.5 v6.2M422.2,585.3 h-6.6M482.2,596.5 v6.2M422.2,543.3 h-6.6M529.4,596.5 v6.2M422.2,501.2 h-6.6M576.5,596.5 v6.2M422.2,459.2 h-6.6M623.7,596.5 v6.2M422.2,417.1 h-6.6M670.8,596.5 v6.2M422.2,375.1 h-6.6" stroke="#666" stroke-width="0.9" fill="none"/>
<g stroke="#000" stroke-opacity="0.7" stroke-width="0.6"><rect x="439.3" y="576.8" width="4.8" height="4.8" fill="#0000e6"/><rect x="451.5" y="566.3" width="4.8" height="4.8" fill="#0030ff"/><rect x="462.9" y="554.7" width="4.8" height="4.8" fill="#0070ff"/><rect x="473.9" y="546.6" width="4.8" height="4.8" fill="#00a8ff"/><rect x="476" y="546.1" width="4.8" height="4.8" fill="#00c4ff"/><rect x="485.5" y="534.1" width="4.8" height="4.8" fill="#00e6ff"/><rect x="494" y="526.8" width="4.8" height="4.8" fill="#00ffe6"/><rect x="499.6" y="524.1" width="4.8" height="4.8" fill="#00ffc8"/><rect x="508.9" y="507.2" width="4.8" height="4.8" fill="#00ff8c"/><rect x="520.5" y="508" width="4.8" height="4.8" fill="#00ff46"/><rect x="524.4" y="497.6" width="4.8" height="4.8" fill="#00f01e"/><rect x="524.8" y="497.4" width="4.8" height="4.8" fill="#00f01e"/><rect x="536.3" y="495.6" width="4.8" height="4.8" fill="#00f514"/><rect x="540.2" y="490" width="4.8" height="4.8" fill="#0af00a"/><rect x="540" y="483.9" width="4.8" height="4.8" fill="#14f000"/><rect x="543.7" y="476.4" width="4.8" height="4.8" fill="#1ef000"/><rect x="545.9" y="480.1" width="4.8" height="4.8" fill="#28f000"/><rect x="558.2" y="476.4" width="4.8" height="4.8" fill="#5afa00"/><rect x="559.2" y="472" width="4.8" height="4.8" fill="#64f500"/><rect x="561.1" y="470.8" width="4.8" height="4.8" fill="#6ef500"/><rect x="563.7" y="467.3" width="4.8" height="4.8" fill="#78f000"/><rect x="568.7" y="455.8" width="4.8" height="4.8" fill="#96f000"/><rect x="568.7" y="459" width="4.8" height="4.8" fill="#a0f000"/><rect x="572.3" y="461.5" width="4.8" height="4.8" fill="#bef000"/><rect x="574.2" y="463.9" width="4.8" height="4.8" fill="#c8fa00"/><rect x="583.4" y="447.3" width="4.8" height="4.8" fill="#dcf000"/><rect x="585.3" y="448.3" width="4.8" height="4.8" fill="#e6f000"/><rect x="586.3" y="442.3" width="4.8" height="4.8" fill="#f0f000"/><rect x="591.3" y="445.1" width="4.8" height="4.8" fill="#faf000"/><rect x="589.1" y="450.2" width="4.8" height="4.8" fill="#fff000"/><rect x="594.8" y="427" width="4.8" height="4.8" fill="#ffd200"/><rect x="598.6" y="436" width="4.8" height="4.8" fill="#ffb400"/><rect x="600.8" y="432.2" width="4.8" height="4.8" fill="#ffaa00"/><rect x="608.1" y="425.8" width="4.8" height="4.8" fill="#ff8c00"/><rect x="637.2" y="404.4" width="4.8" height="4.8" fill="#f00014"/></g>
<path d="M435.1,585.3 L670.8,375.1" stroke="#333" stroke-width="0.8" fill="none"/>
<text x="552.7" y="360" text-anchor="middle" font-size="10.3" textLength="93.7" lengthAdjust="spacingAndGlyphs">Predicted vs. Actual</text>
<text x="553" y="628.1" text-anchor="middle" font-size="8" textLength="24" lengthAdjust="spacingAndGlyphs">Actual</text>
<text transform="translate(382.3,479) rotate(-90)" text-anchor="middle" font-size="8" textLength="32.3" lengthAdjust="spacingAndGlyphs">Predicted</text>
</g>
</svg>
</body></html>
